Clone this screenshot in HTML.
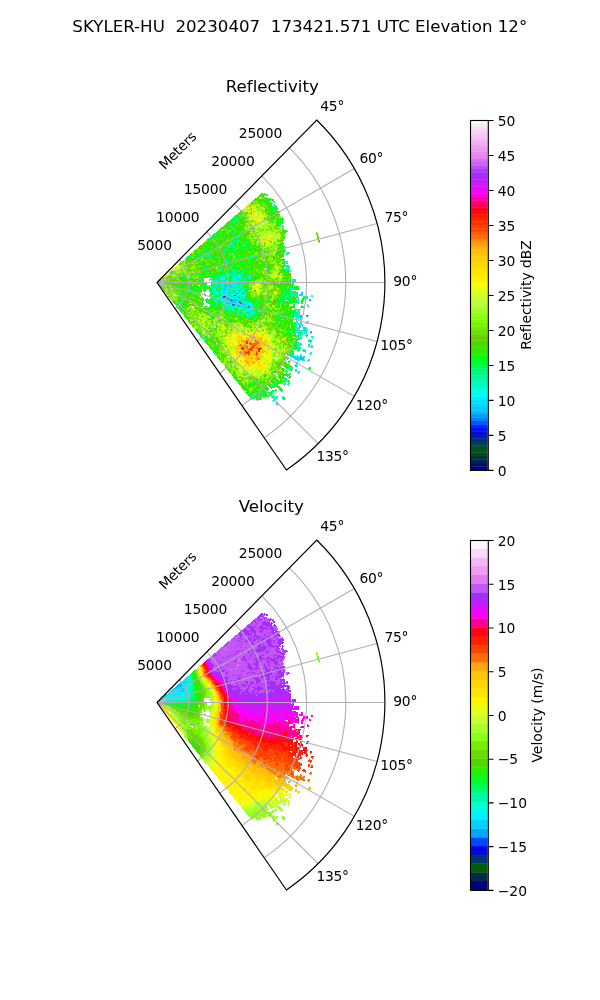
<!DOCTYPE html>
<html><head><meta charset="utf-8"><title>SKYLER-HU radar</title><style>html,body{margin:0;padding:0;background:#fff}svg{display:block}text{font-variant-ligatures:none;font-feature-settings:"liga" 0,"clig" 0}</style></head><body>
<svg width="600" height="1000" viewBox="0 0 600 1000" font-family="'DejaVu Sans','Liberation Sans',sans-serif" fill="#000">
<rect width="600" height="1000" fill="#fff"/>
<text xml:space="preserve" style="white-space:pre" x="299.8" y="32.0" font-size="16.67" text-anchor="middle">SKYLER-HU  20230407  173421.571 UTC Elevation 12°</text>
<g shape-rendering="crispEdges" transform="scale(0.1)">
<path fill="#dbff20" d="M1571 2825l19-17l1 1l-20 16zM1601 2799l20-17l2 3l-20 16zM1647 2760l35-30l5 6l-37 28zM1768 2656l20-17l10 13l-20 15zM1618 2788l21-15l3 3l-22 15zM1666 2752l21-16l4 7l-21 14zM1670 2757l21-15l5 7l-23 14zM1610 2831l26 3l-1 4l-25-5zM1658 2874l22 13l-4 6l-21-14zM1636 2872l21 15l-4 5l-20-17zM2004 2865l21 2l-2 13l-21-2zM1888 2995l19 9l-6 10l-18-10zM1886 3027l18 12l-7 10l-17-12zM2076 3149l17 11l-10 16l-17-12zM2067 3162l17 12l-11 15l-17-12zM2154 3221l17 12l-13 18l-17-12zM2096 3225l17 12l-13 16l-16-13zM2132 3252l16 12l-13 18l-16-14zM2027 3191l16 14l-12 14l-16-14zM2051 3232l16 14l-13 15l-15-14zM2074 3252l16 13l-14 16l-15-14zM2483 2045l16-13l13 16l-16 13zM2447 2096l16-13l13 15l-17 13zM2514 2083l16-13l13 16l-17 12zM2509 2126l17-13l12 16l-17 13zM2533 2108l29-22l12 17l-29 21zM2555 2112l17-12l12 17l-18 12zM2539 2142l18-12l11 17l-17 12zM2487 2198l17-12l11 16l-18 11zM2536 2164l17-12l12 17l-18 11zM2635 2096l17-12l13 18l-18 12zM2482 2218l18-11l10 15l-18 12zM2545 2177l17-12l11 17l-17 11zM2582 2152l18-12l11 18l-18 11zM2616 2149l18-11l11 18l-17 11zM2447 2275l18-12l9 16l-18 10zM2562 2203l17-11l11 17l-18 11zM2557 2224l18-11l10 17l-18 11zM2591 2222l31-19l10 18l-31 18zM2573 2250l18-10l10 17l-19 10zM2612 2228l18-10l10 17l-18 11zM2515 2300l18-10l9 16l-19 10zM2542 2319l32-17l8 17l-32 16zM2595 2325l19-9l8 17l-19 9zM2548 2364l19-9l7 17l-19 9zM2670 2307l19-9l8 18l-19 9zM2608 2352l47-21l8 18l-47 21zM2614 2366l20-8l7 18l-19 8zM2772 2316l20-9l8 21l-19 8zM2598 2405l20-8l7 18l-20 8zM2682 2371l19-8l8 20l-20 7zM2751 2343l34-14l8 21l-34 13zM2688 2386l19-7l8 19l-20 7zM2623 2428l20-8l7 18l-20 7zM2707 2396l20-8l7 20l-20 7zM2750 2380l19-7l8 20l-20 7zM2643 2437l19-8l7 19l-20 7zM2671 2426l34-12l6 19l-34 12zM2638 2470l34-11l6 18l-34 11zM2747 2519l20-5l5 20l-20 5zM2745 2666l21-3l2 20l-21 3zM2662 2736l21-2l1 19l-21 1zM2722 2731l21-2l1 20l-21 1zM2723 2746l21-1l1 20l-21 1zM2575 2850l21 1l0 17l-21-1zM2514 2874l21 1l-1 16l-21-2zM2679 2882l21 1l-1 19l-21-1zM2586 2918l21 2l-1 17l-21-2zM2585 2932l21 2l-2 17l-21-2zM2661 3249l20 8l-8 18l-19-8zM2558 3224l19 8l-7 17l-19-8zM2628 3252l19 8l-7 18l-20-8zM2588 3268l20 9l-8 17l-19-9zM2630 3321l19 9l-8 18l-19-10zM2671 3340l19 9l-9 18l-19-9zM2421 3237l19 9l-7 14l-19-9zM2651 3348l19 9l-9 18l-19-9zM2678 3361l19 9l-10 19l-18-10zM2718 3380l19 10l-10 19l-18-9zM2644 3362l18 10l-9 18l-18-10zM2671 3376l18 9l-9 19l-19-10zM2357 3232l18 9l-7 14l-18-10zM2397 3252l18 10l-7 14l-19-10zM2463 3287l19 9l-8 16l-19-10zM2690 3404l18 10l-10 19l-18-10zM2716 3418l32 16l-10 20l-32-17zM2850 3487l18 9l-11 22l-19-10zM2206 3164l18 10l-6 11l-18-10zM2497 3320l18 10l-8 15l-19-10zM2523 3334l19 10l-9 16l-19-10zM2761 3461l19 10l-11 20l-19-10zM2788 3475l18 10l-11 21l-18-10zM2372 3267l18 10l-7 14l-19-11zM2398 3281l19 10l-8 15l-19-11zM2477 3325l18 10l-8 15l-19-10zM2726 3462l19 11l-11 19l-18-10zM2392 3292l18 11l-8 14l-18-11zM2444 3322l18 10l-8 15l-18-10zM2692 3463l18 10l-11 19l-18-10zM2657 3463l18 10l-11 19l-18-11zM2696 3485l18 11l-11 19l-18-11zM2302 3267l18 11l-8 13l-17-11zM2328 3283l18 11l-8 13l-18-11zM2392 3322l31 18l-9 15l-30-20zM2713 3516l31 19l-12 19l-31-19zM2411 3349l18 11l-9 14l-18-11zM2449 3372l18 11l-10 15l-17-11zM2640 3491l18 11l-12 19l-17-12zM2691 3523l18 11l-12 19l-18-11zM2644 3514l17 11l-12 18l-17-11zM2334 3329l30 20l-9 13l-30-20zM2647 3536l17 12l-12 18l-17-12zM2709 3577l18 12l-13 19l-17-12zM2240 3280l18 12l-8 12l-17-12zM2352 3356l17 12l-9 13l-17-12zM2637 3550l18 12l-13 18l-17-12zM2357 3375l17 12l-9 14l-17-13zM2689 3607l17 13l-13 18l-17-12zM2204 3281l17 12l-8 11l-17-13zM2338 3377l17 12l-10 13l-17-12zM2362 3394l17 13l-10 13l-17-12zM2149 3253l17 13l-7 10l-17-13zM2318 3378l17 13l-10 12l-16-12zM2692 3655l17 12l-15 19l-16-12zM2311 3388l28 22l-10 13l-28-23zM2347 3415l16 13l-10 13l-16-13zM2681 3670l16 12l-14 19l-17-13zM2350 3435l17 13l-11 13l-16-13zM2634 3657l17 13l-15 18l-16-14zM2658 3675l16 13l-15 18l-16-13zM2202 3332l16 14l-9 10l-16-13zM2237 3361l16 13l-9 11l-16-13zM2307 3417l17 13l-11 13l-16-14zM2342 3445l17 13l-11 13l-16-13zM2554 3637l16 13l-14 17l-16-14zM2588 3666l17 13l-15 17l-16-13zM2623 3694l16 14l-15 17l-16-13zM2325 3465l28 24l-11 13l-27-24zM2531 3640l16 14l-14 16l-16-14zM2588 3689l16 13l-14 18l-16-14zM2623 3718l16 13l-16 18l-15-14zM2317 3475l27 24l-11 13l-27-24zM2385 3535l16 13l-13 14l-15-14zM2520 3653l16 14l-14 16l-16-14zM2622 3742l16 13l-16 18l-15-14zM2319 3495l16 14l-12 13l-15-14zM2453 3615l16 14l-14 15l-15-14zM2498 3655l16 14l-15 16l-15-14zM2520 3675l38 34l-15 17l-37-35zM2565 3715l16 14l-16 17l-15-14zM2310 3505l16 14l-12 13l-15-14zM2354 3546l27 24l-13 14l-26-25zM2388 3576l15 15l-13 13l-15-14zM2225 3443l15 14l-11 11l-15-14zM2301 3515l15 14l-11 13l-15-15zM2345 3556l15 15l-13 13l-15-15zM2497 3700l27 25l-16 16l-25-25zM2346 3577l15 15l-13 13l-15-15zM2453 3681l16 15l-15 15l-15-15zM2496 3723l16 15l-16 15l-15-14zM2293 3545l26 25l-13 13l-25-26zM2463 3714l15 15l-15 15l-15-15zM2274 3564l14 15l-13 12l-14-16zM2367 3662l14 15l-14 13l-14-15zM2450 3749l14 15l-16 15l-14-16zM2427 3749l14 16l-16 14l-14-16z"/>
<path fill="#96ff1c" d="M1586 2812l20-17l1 2l-20 16zM1708 2708l19-17l8 9l-21 16zM1738 2682l20-17l9 11l-21 16zM1745 2691l21-16l8 12l-21 14zM1571 2825l38-26l1 2l-39 24zM1686 2746l22-15l5 8l-22 13zM1571 2825l22-14l1 2l-23 12zM1606 2806l23-12l1 3l-23 11zM1712 2749l22-12l5 9l-23 11zM1817 2692l23-12l8 15l-24 11zM1852 2673l23-12l9 17l-23 11zM1715 2757l24-12l4 10l-24 10zM1788 2722l23-11l6 14l-24 10zM1571 2825l24-10l0 1l-24 9zM1626 2802l24-10l2 5l-25 8zM1719 2764l42-17l5 11l-44 15zM1830 2719l24-10l6 16l-24 9zM1741 2766l24-9l4 11l-25 7zM1571 2825l25-7l0 1l-25 6zM1648 2803l44-13l2 7l-45 10zM1763 2769l25-7l3 13l-25 5zM1882 2753l26-6l4 19l-26 4zM1866 2773l26-5l2 18l-25 4zM1910 2838l26 1l-1 21l-26-3zM1630 2830l26 3l0 5l-26-4zM1590 2829l26 5l-1 2l-25-6zM1669 2844l25 6l-1 7l-26-7zM1609 2835l26 6l-1 4l-25-8zM1764 2875l26 6l-4 12l-25-8zM1590 2831l25 8l-1 2l-25-9zM1685 2861l25 8l-3 7l-24-9zM1608 2839l25 9l-2 3l-24-10zM1644 2857l24 10l-3 6l-23-12zM1624 2852l41 20l-2 6l-40-23zM1732 2905l23 12l-6 10l-22-13zM1675 2884l23 13l-5 7l-22-14zM1722 2922l22 14l-7 10l-21-16zM1701 2918l21 15l-7 9l-20-17zM1758 2975l20 16l-10 12l-19-17zM1645 2892l20 17l-5 5l-19-18zM1735 2972l34 30l-11 11l-32-32zM1670 2924l61 60l-10 9l-57-64zM1913 2533l27-24l10 11l-28 23zM1959 2494l15-14l11 12l-17 13zM1984 2526l17-13l9 13l-17 12zM1930 2579l17-12l8 12l-18 11zM1905 2656l19-10l5 11l-19 9zM1932 2642l19-9l6 11l-19 9zM1923 2658l19-9l6 12l-20 8zM2046 2601l19-9l6 15l-19 8zM1900 2680l33-15l5 11l-34 14zM1904 2689l19-8l5 11l-20 7zM2006 2661l19-8l5 14l-20 7zM1939 2697l20-7l4 12l-20 6zM1967 2687l20-7l4 13l-20 6zM1934 2730l20-5l3 12l-21 4zM2151 2674l21-5l4 18l-20 4zM2070 2723l21-4l3 15l-21 4zM1942 2770l20-4l2 12l-21 3zM1960 2798l21-1l0 12l-21 1zM1946 2829l21 0l-1 12l-21 0zM1946 2932l20 6l-4 11l-20-6zM1986 2955l20 7l-5 13l-19-7zM2201 3140l19 10l-10 19l-19-10zM1941 3023l19 10l-7 11l-18-10zM1884 3003l18 10l-6 10l-18-11zM2161 3182l18 11l-11 18l-18-11zM1937 3060l17 11l-7 12l-17-12zM2151 3198l18 11l-12 18l-17-12zM1943 3078l17 12l-8 11l-17-12zM1980 3103l17 12l-9 13l-17-13zM2030 3137l17 12l-10 14l-17-12zM1912 3070l17 12l-8 11l-17-13zM1985 3123l17 12l-10 13l-17-13zM2033 3158l17 12l-10 14l-17-12zM2106 3210l17 13l-12 16l-17-13zM2143 3237l17 12l-13 18l-17-13zM1881 3061l17 13l-8 9l-16-13zM1917 3088l17 13l-9 11l-16-13zM1953 3116l16 12l-9 12l-16-13zM2036 3179l41 31l-12 15l-40-32zM2108 3234l17 12l-13 17l-17-13zM1875 3069l16 13l-8 10l-16-14zM1956 3135l17 13l-10 12l-16-14zM2003 3173l17 13l-11 13l-16-14zM2120 3267l16 13l-13 17l-16-14zM1994 3184l16 14l-12 13l-15-14zM2040 3223l16 13l-13 15l-16-14zM2108 3281l16 14l-14 16l-16-14zM1939 3155l27 24l-11 12l-26-25zM1985 3216l15 15l-12 12l-15-14zM1858 3111l14 15l-9 8l-14-15zM1860 3129l15 15l-10 9l-14-15zM1912 3183l14 16l-11 10l-14-15zM1953 3227l15 15l-13 12l-14-16zM2046 3325l15 15l-16 14l-14-15zM1902 3192l14 16l-11 10l-14-16zM2472 2055l16-13l13 15l-16 13zM2424 2115l16-13l12 14l-16 14zM2410 2146l17-14l11 15l-16 13zM2434 2127l16-14l12 15l-17 13zM2515 2061l28-23l13 16l-28 23zM2490 2101l16-13l13 16l-17 13zM2549 2055l28-23l13 17l-28 22zM2500 2113l16-12l12 16l-17 12zM2547 2077l17-13l12 17l-16 12zM2607 2031l16-12l14 17l-17 13zM2557 2090l53-39l13 17l-54 39zM2275 2314l17-12l9 12l-17 12zM2445 2191l17-12l11 15l-17 12zM2591 2086l17-13l13 18l-18 12zM2615 2068l17-12l13 18l-17 12zM2613 2091l29-21l13 18l-30 20zM2507 2202l18-12l10 16l-17 11zM2490 2230l18-11l10 16l-18 11zM2435 2283l17-12l10 15l-18 11zM2493 2263l31-19l9 16l-31 18zM2462 2298l18-11l9 16l-19 10zM2552 2245l18-11l10 17l-18 10zM2578 2229l18-10l10 17l-18 10zM2195 2467l19-11l6 11l-19 10zM2495 2295l18-10l9 16l-19 10zM2547 2265l18-10l9 17l-18 10zM2599 2235l18-10l10 18l-18 10zM2638 2213l44-25l11 18l-45 25zM2502 2307l18-10l9 16l-19 10zM2580 2264l19-10l9 17l-18 10zM2606 2249l19-10l10 18l-19 10zM2633 2235l18-11l10 19l-19 10zM2548 2299l19-10l8 16l-18 10zM2640 2249l32-17l10 18l-32 17zM2693 2220l19-10l10 20l-19 9zM2475 2353l19-9l8 15l-19 9zM2595 2291l18-10l9 18l-18 9zM2621 2277l32-17l10 19l-32 16zM2715 2228l31-16l11 20l-33 16zM2535 2338l19-9l8 16l-19 10zM2629 2291l32-16l9 18l-33 16zM2696 2257l18-9l10 19l-19 9zM2528 2358l19-9l8 16l-19 9zM2609 2318l19-9l8 18l-19 9zM2636 2305l19-9l8 18l-19 9zM2703 2272l32-16l10 20l-33 15zM2507 2383l19-9l7 16l-19 9zM2534 2371l19-9l8 16l-20 9zM2602 2339l19-9l8 17l-19 9zM2710 2287l19-9l9 20l-19 9zM2513 2396l19-9l7 16l-19 9zM2690 2315l19-9l9 19l-20 9zM2731 2296l33-15l9 21l-33 14zM2518 2408l19-8l7 16l-19 8zM2752 2306l46-21l9 21l-47 20zM2510 2427l19-8l7 16l-20 8zM2593 2392l19-8l7 17l-19 8zM2620 2380l20-8l7 18l-19 8zM2662 2362l19-8l8 19l-20 8zM2571 2417l19-8l7 17l-20 8zM2640 2388l20-8l7 19l-20 7zM2723 2354l20-8l8 20l-20 8zM2646 2403l19-8l7 18l-19 8zM2702 2381l33-13l8 19l-34 13zM2744 2364l19-7l8 20l-20 7zM2813 2337l20-8l8 21l-20 8zM2609 2433l20-8l6 18l-19 7zM2693 2401l20-7l7 19l-20 7zM2764 2375l19-8l8 21l-20 7zM2755 2396l20-7l7 20l-20 7zM2322 2564l20-7l4 13l-20 7zM2591 2471l20-7l6 17l-20 7zM2709 2446l35-11l6 20l-34 10zM2328 2584l20-6l4 13l-20 6zM2686 2471l20-7l6 19l-20 6zM2647 2498l20-6l6 19l-20 6zM2762 2464l20-6l6 20l-20 6zM2652 2513l20-6l5 19l-20 5zM2738 2488l20-6l6 20l-20 6zM2308 2622l21-5l3 13l-20 5zM2627 2535l20-5l5 18l-21 5zM2718 2527l20-6l5 20l-21 5zM2736 2538l20-5l5 20l-20 5zM2681 2567l21-4l4 19l-21 4zM2377 2649l20-4l3 14l-20 4zM2773 2563l20-4l4 20l-20 4zM2673 2600l21-4l3 19l-20 4zM2747 2585l20-4l4 20l-21 4zM2587 2632l21-4l3 17l-20 4zM2764 2598l21-4l4 20l-21 4zM2398 2679l21-4l2 15l-21 3zM2785 2627l20-3l4 21l-21 3zM2669 2661l20-3l3 19l-21 3zM2567 2690l20-3l3 17l-21 3zM2775 2662l21-3l2 21l-21 2zM2524 2709l20-3l2 16l-21 3zM2777 2678l21-3l2 21l-21 2zM2585 2715l21-2l1 17l-21 2zM2704 2702l21-2l2 19l-21 2zM2764 2695l21-2l2 21l-21 2zM2511 2735l21-2l2 17l-21 1zM2647 2737l21-2l1 19l-21 1zM2692 2733l21-1l1 19l-21 1zM2737 2730l21-2l1 20l-21 1zM2797 2725l21-2l1 21l-21 1zM2663 2750l21-1l1 19l-21 1zM2738 2745l21-1l1 20l-21 1zM2768 2743l21-1l1 20l-21 1zM2754 2760l51-3l1 21l-51 2zM2829 2756l21-1l1 21l-21 1zM2560 2784l21-1l0 17l-21 0zM2605 2782l21-1l0 18l-21 0zM2710 2778l21-1l0 19l-21 1zM2785 2774l36-1l0 21l-36 1zM2590 2796l21 0l1 17l-21 0zM2665 2794l21-1l1 19l-21 0zM2755 2791l21 0l1 20l-21 0zM2681 2808l21 0l0 19l-21 0zM2561 2823l36 0l0 17l-36 0zM2666 2838l21 0l-1 19l-21-1zM2485 2848l21 0l0 16l-21-1zM2635 2852l21 0l0 18l-21-1zM2485 2860l36 1l-1 16l-36-2zM2665 2867l21 1l-1 18l-21-1zM2755 2870l36 2l-1 20l-36-2zM2529 2874l21 2l-1 16l-21-1zM2619 2879l21 1l-1 18l-21-1zM2544 2888l21 2l-2 16l-21-2zM2498 2898l36 2l-2 17l-36-4zM2573 2903l21 2l-2 17l-21-2zM2722 2915l21 2l-2 19l-21-2zM2767 2919l21 1l-2 21l-21-2zM2557 2915l20 2l-1 17l-21-2zM2781 2936l21 2l-3 21l-20-3zM2496 2922l35 4l-1 16l-36-4zM2690 2943l20 2l-2 19l-21-3zM2718 2961l35 4l-2 20l-36-5zM2508 2949l20 3l-2 16l-21-4zM2537 2953l21 2l-2 17l-21-3zM2671 2970l21 3l-3 19l-20-3zM2701 2974l21 3l-3 19l-21-3zM2714 2992l20 3l-3 19l-20-3zM2694 3019l21 4l-4 19l-20-4zM2662 3029l20 4l-3 18l-21-4zM2736 3043l20 3l-4 20l-20-4zM2659 3043l21 4l-4 19l-21-4zM2718 3055l35 7l-4 20l-35-8zM2791 3070l21 4l-4 21l-21-5zM2656 3058l21 4l-5 19l-20-5zM2685 3064l21 4l-4 19l-21-4zM2759 3080l20 4l-4 20l-21-4zM2550 3049l21 4l-4 17l-20-5zM2697 3082l20 5l-4 19l-21-5zM2766 3115l20 5l-5 20l-20-5zM2710 3150l20 6l-5 19l-20-6zM2811 3179l35 10l-6 21l-35-10zM2663 3152l20 6l-6 19l-20-7zM2673 3171l20 6l-7 19l-19-6zM2639 3176l20 7l-6 18l-20-7zM2682 3190l20 7l-6 19l-20-7zM2725 3205l34 11l-7 20l-34-12zM2782 3223l20 7l-7 20l-20-6zM2896 3261l20 6l-8 23l-20-7zM2635 3191l34 11l-7 19l-34-13zM2677 3205l20 7l-7 19l-19-7zM2644 3210l19 7l-6 18l-20-7zM2582 3203l20 7l-7 18l-19-8zM2695 3245l19 7l-7 20l-20-8zM2779 3277l48 17l-8 21l-48-18zM2849 3303l20 7l-8 22l-20-8zM2619 3233l34 13l-8 18l-33-14zM2703 3265l20 8l-8 19l-20-8zM2447 3179l19 8l-6 15l-19-8zM2794 3320l20 8l-9 21l-19-9zM2511 3220l19 8l-6 16l-20-8zM2539 3231l19 9l-7 16l-19-8zM2580 3249l20 8l-8 17l-19-8zM2608 3261l33 13l-8 18l-33-14zM2649 3278l20 8l-8 18l-19-8zM2677 3290l19 8l-8 19l-19-9zM2802 3342l19 8l-9 21l-19-9zM2843 3359l33 14l-9 22l-33-14zM2492 3226l19 9l-7 15l-19-8zM2781 3352l19 9l-9 20l-19-9zM2822 3370l19 9l-9 21l-19-9zM2850 3382l19 9l-10 21l-19-8zM2268 3140l19 8l-6 12l-19-9zM2309 3158l19 9l-6 13l-19-9zM2364 3183l19 9l-7 13l-19-9zM2500 3245l19 8l-7 16l-19-9zM2555 3269l33 15l-8 17l-33-15zM2610 3294l19 9l-8 18l-19-9zM2719 3344l19 8l-9 20l-19-9zM2223 3130l19 9l-6 11l-18-9zM2726 3365l32 15l-9 20l-33-16zM2766 3384l19 9l-9 20l-19-9zM2793 3397l19 9l-9 21l-19-10zM2354 3204l19 9l-7 14l-19-10zM2448 3250l19 9l-7 15l-19-10zM2772 3407l19 9l-10 20l-19-9zM2840 3439l19 9l-11 22l-19-9zM2375 3228l19 9l-7 14l-18-10zM2402 3241l19 10l-7 14l-19-10zM2443 3261l32 16l-8 16l-32-17zM2536 3308l19 10l-8 16l-19-9zM2697 3389l33 16l-10 19l-32-16zM2791 3436l32 16l-10 21l-32-17zM2872 3476l18 10l-11 22l-18-10zM2210 3156l19 9l-6 11l-19-10zM2330 3218l19 9l-7 13l-19-10zM2437 3273l18 10l-8 14l-18-10zM2743 3431l19 10l-11 20l-18-10zM2783 3452l19 10l-11 20l-19-10zM2863 3494l19 9l-12 22l-19-10zM2285 3207l19 10l-7 12l-18-10zM2378 3256l18 10l-7 14l-19-10zM2417 3277l19 10l-8 15l-18-11zM2444 3291l18 10l-8 15l-18-10zM2722 3440l18 10l-11 19l-18-10zM2827 3497l32 17l-12 21l-31-17zM2880 3525l19 10l-12 22l-19-10zM2196 3181l19 10l-7 11l-18-11zM2262 3218l18 10l-7 12l-18-10zM2314 3248l18 10l-7 13l-18-11zM2418 3307l18 11l-8 14l-18-11zM2731 3485l18 11l-11 19l-18-10zM2205 3197l31 18l-7 11l-31-19zM2282 3242l18 11l-7 12l-18-11zM2321 3265l31 18l-8 13l-31-18zM2412 3318l18 11l-9 14l-18-11zM2735 3508l18 11l-12 20l-18-11zM2800 3546l31 18l-13 21l-31-18zM2225 3221l18 11l-7 11l-18-11zM2341 3291l18 11l-8 13l-18-11zM2751 3539l44 27l-13 20l-43-27zM2182 3206l30 19l-7 10l-30-19zM2233 3237l17 12l-7 11l-17-12zM2347 3309l18 11l-8 13l-18-11zM2729 3547l31 19l-13 20l-30-20zM2189 3222l18 11l-7 11l-18-12zM2770 3595l18 11l-14 20l-17-11zM2171 3222l18 11l-7 11l-17-12zM2322 3321l17 12l-9 12l-17-11zM2747 3602l18 12l-14 20l-17-12zM2265 3297l18 12l-9 12l-17-12zM2712 3601l17 12l-13 19l-17-12zM2749 3626l17 12l-14 20l-17-12zM2296 3332l17 12l-9 13l-17-13zM2640 3573l17 12l-13 18l-17-12zM2714 3625l17 12l-14 19l-17-12zM2240 3307l17 12l-8 12l-17-13zM2666 3614l17 12l-13 18l-17-12zM2715 3649l17 12l-14 19l-17-12zM2210 3298l17 12l-9 11l-16-13zM2246 3325l29 21l-9 12l-29-22zM2728 3682l17 12l-15 20l-16-13zM2168 3279l16 13l-8 10l-16-13zM2203 3306l17 13l-8 11l-17-13zM2227 3324l17 13l-9 11l-16-13zM2299 3379l17 13l-10 12l-17-13zM2693 3679l16 12l-14 19l-17-13zM2138 3268l16 13l-7 10l-17-13zM2610 3638l17 13l-14 18l-16-13zM2132 3276l16 13l-8 10l-16-14zM2167 3304l16 13l-8 11l-16-14zM2214 3342l16 13l-9 11l-16-14zM2681 3718l17 13l-16 19l-16-14zM2705 3737l16 13l-16 19l-16-14zM2149 3302l16 14l-8 10l-16-14zM2230 3369l16 14l-9 11l-16-14zM2265 3398l16 13l-10 12l-16-13zM2334 3455l16 14l-11 13l-16-14zM2611 3685l17 13l-15 18l-16-14zM2646 3713l28 23l-16 19l-27-24zM2692 3752l17 13l-16 19l-16-14zM2223 3378l38 33l-10 12l-38-34zM2577 3679l16 14l-15 17l-15-14zM2634 3728l16 13l-15 18l-16-14zM2680 3766l16 14l-16 19l-16-14zM2159 3337l15 14l-9 10l-15-14zM2181 3357l16 14l-9 10l-16-14zM2226 3397l16 13l-10 12l-15-14zM2272 3436l15 14l-10 12l-16-14zM2577 3702l16 14l-15 17l-16-14zM2633 3751l16 14l-16 18l-15-14zM2667 3781l16 14l-16 18l-16-14zM2129 3325l16 14l-9 10l-15-14zM2219 3405l15 14l-10 11l-15-14zM2621 3766l16 14l-17 17l-15-14zM2101 3312l15 14l-8 10l-16-15zM2134 3343l26 24l-9 10l-26-25zM2575 3749l16 14l-16 17l-15-14zM2094 3319l15 15l-8 9l-15-15zM2127 3350l15 15l-9 9l-15-15zM2247 3463l15 15l-11 11l-15-14zM2312 3525l15 15l-12 12l-15-14zM2399 3608l16 14l-14 14l-15-14zM2476 3680l15 14l-15 16l-15-15zM2596 3793l15 15l-17 17l-15-15zM2270 3504l15 14l-11 12l-15-15zM2367 3598l15 14l-13 14l-15-15zM2432 3660l15 15l-14 15l-15-15zM2144 3397l15 14l-10 10l-14-15zM2240 3492l15 15l-12 11l-14-15zM2399 3651l15 14l-14 15l-15-16zM2453 3704l14 14l-15 15l-14-15zM2095 3361l15 15l-10 9l-14-15zM2273 3544l25 25l-12 12l-25-26zM2325 3597l15 15l-13 13l-15-15zM2430 3705l15 15l-15 14l-15-15zM2451 3726l15 15l-16 15l-14-15zM2525 3801l14 15l-16 16l-15-15zM2160 3444l15 15l-11 10l-14-15zM2222 3509l25 27l-12 11l-25-27zM2284 3575l15 15l-13 12l-15-15zM2346 3640l15 15l-14 13l-15-15zM2501 3803l15 15l-17 16l-14-16zM2101 3397l14 15l-10 9l-14-15zM2274 3584l14 15l-13 12l-14-15zM2396 3716l15 16l-16 13l-14-15zM2437 3760l14 16l-16 14l-14-15zM2458 3782l14 16l-17 15l-14-16zM2294 3627l14 15l-14 13l-14-16zM2324 3660l14 16l-14 13l-14-16zM2354 3694l14 15l-15 13l-13-15zM2395 3738l14 16l-16 14l-14-16zM2445 3794l14 15l-17 15l-14-16zM2475 3827l14 16l-17 15l-14-16zM2125 3456l14 16l-11 9l-14-16zM2264 3614l13 16l-13 11l-14-16zM2313 3670l14 16l-15 12l-13-16zM2333 3693l14 15l-15 13l-14-16zM2511 3896l14 15l-19 16l-13-16zM2309 3713l14 16l-15 12l-14-16z"/>
<path fill="#c4ff34" d="M1616 2786l20-17l3 4l-21 15zM1677 2734l20-17l6 7l-21 16zM1753 2669l20-17l9 12l-20 16zM1634 2776l37-28l4 6l-38 26zM1682 2740l20-16l6 7l-22 15zM1777 2667l37-28l10 14l-38 26zM1736 2712l38-26l7 12l-39 23zM1785 2678l22-15l8 14l-22 13zM1818 2655l22-14l10 15l-23 14zM1776 2700l22-14l7 14l-23 12zM1571 2825l24-9l1 2l-25 7zM1688 2848l26 6l-2 8l-25-7zM1571 2825l25 6l-1 2l-24-8zM1627 2846l24 9l-2 4l-23-10zM1739 2933l39 25l-8 11l-37-27zM1733 2942l21 15l-8 10l-20-16zM1720 2958l19 18l-9 9l-18-19zM1651 2914l17 19l-6 6l-16-21zM1911 2578l17-12l7 11l-17 12zM2166 2670l20-5l5 18l-21 5zM2192 3157l19 10l-11 19l-18-10zM2183 3174l19 10l-11 19l-18-11zM2148 3174l18 11l-11 18l-18-12zM2038 3125l17 11l-9 14l-17-11zM2101 3165l18 11l-11 17l-18-12zM2017 3129l18 11l-10 14l-17-12zM2141 3213l18 12l-13 17l-17-12zM2009 3140l17 13l-10 13l-17-13zM2131 3228l17 12l-13 17l-17-12zM1988 3143l29 22l-10 13l-28-23zM2084 3215l17 13l-13 16l-16-13zM1980 3154l16 13l-10 13l-16-14zM1895 3115l15 14l-9 10l-15-14zM1973 3185l16 14l-12 12l-15-14zM2006 3215l16 14l-12 14l-15-15zM2029 3235l15 14l-13 14l-15-14zM2018 3247l15 15l-13 13l-15-15zM2040 3268l15 14l-14 15l-15-15zM1911 3164l15 14l-11 11l-15-15zM1922 3194l15 15l-12 11l-14-15zM1974 3249l14 15l-13 12l-14-15zM2036 3314l14 15l-15 14l-14-15zM2436 2106l16-14l12 15l-16 13zM2459 2086l16-13l13 15l-17 13zM2445 2117l17-13l12 15l-17 13zM2480 2089l28-23l13 16l-28 22zM2464 2141l16-13l12 15l-17 13zM2488 2122l16-12l12 15l-17 13zM2523 2095l17-13l12 17l-17 12zM2603 2077l17-13l13 18l-17 12zM2527 2151l17-12l12 16l-18 12zM2564 2125l17-12l12 17l-17 12zM2589 2108l17-12l12 17l-18 12zM2561 2147l17-12l12 17l-18 12zM2598 2121l17-11l12 17l-17 12zM2570 2160l17-12l11 18l-17 11zM2595 2143l30-19l11 17l-30 20zM2541 2198l17-12l11 17l-18 11zM2511 2235l18-11l10 16l-18 11zM2600 2179l18-11l10 17l-17 11zM2570 2216l31-19l10 18l-31 18zM2621 2185l18-11l11 18l-18 11zM2526 2260l31-18l10 16l-31 18zM2625 2221l18-11l10 18l-18 10zM2554 2278l18-10l10 17l-19 10zM2620 2242l18-10l10 18l-19 10zM2646 2227l18-10l10 19l-18 9zM2508 2320l19-10l8 16l-18 10zM2614 2263l19-10l9 18l-19 10zM2667 2235l18-10l10 18l-18 10zM2746 2192l19-10l10 20l-18 10zM2568 2305l19-10l9 17l-19 10zM2648 2263l19-10l9 19l-19 9zM2481 2365l19-9l8 16l-19 9zM2575 2318l19-9l8 17l-19 9zM2568 2338l33-16l8 18l-33 15zM2622 2312l19-10l9 19l-19 8zM2629 2326l19-9l8 18l-19 9zM2656 2313l19-9l9 19l-20 8zM2649 2334l19-9l8 18l-19 9zM2676 2321l20-9l8 19l-19 9zM2704 2309l19-9l8 19l-19 9zM2587 2378l33-14l7 17l-33 14zM2738 2312l19-9l9 20l-20 8zM2565 2403l19-8l8 17l-20 8zM2634 2374l20-8l7 18l-19 8zM2668 2377l19-8l8 19l-20 8zM2737 2349l20-8l8 20l-20 7zM2562 2436l20-8l6 17l-20 7zM2590 2425l47-19l7 18l-47 18zM2757 2359l20-8l8 20l-20 8zM2778 2369l19-7l8 21l-20 7zM2657 2431l19-7l7 19l-20 7zM2713 2411l48-17l7 20l-48 16zM2718 2426l20-7l7 20l-20 7zM2752 2432l20-7l7 21l-20 6zM2690 2485l20-6l6 20l-20 5zM2733 2472l21-6l5 20l-20 6zM2608 2525l21-6l4 18l-20 6zM2752 2484l21-6l5 20l-20 6zM2641 2531l20-5l5 18l-20 5zM2685 2519l20-5l5 19l-20 5zM2728 2507l20-5l5 20l-20 5zM2732 2523l20-5l5 19l-20 5zM2699 2579l35-8l5 20l-36 7zM2720 2606l21-4l3 20l-20 4zM2723 2622l35-7l4 20l-36 6zM2743 2650l21-3l2 20l-20 3zM2721 2716l20-2l2 19l-21 2zM2707 2732l21-2l1 20l-21 1zM2783 2742l36-2l1 21l-36 2zM2725 2777l21-1l0 20l-21 0zM2591 2810l36-1l0 18l-36 0zM2666 2823l21 0l0 19l-21 0zM2786 2823l21 0l0 21l-21-1zM2486 2836l21 0l-1 16l-21-1zM2546 2836l21 1l-1 16l-21 0zM2515 2849l36 0l0 17l-36-2zM2515 2861l21 1l-1 16l-21-1zM2560 2863l21 1l-1 17l-21-2zM2574 2877l21 1l-1 17l-21-1zM2664 2881l21 1l-1 19l-21-1zM2529 2887l21 2l-2 16l-21-2zM2559 2889l21 1l-2 17l-21-1zM2528 2900l21 2l-2 16l-21-2zM2558 2902l21 2l-2 17l-21-2zM2512 2911l21 2l-2 16l-21-2zM2571 2917l21 2l-1 17l-21-2zM2661 2925l21 2l-2 19l-21-3zM2570 2930l21 2l-2 17l-21-2zM2721 3040l20 4l-3 19l-21-4zM2624 3065l20 5l-4 18l-21-5zM2648 3148l20 6l-5 18l-20-6zM2677 3156l20 6l-6 19l-20-6zM2687 3176l34 10l-6 20l-34-12zM2696 3195l20 7l-6 19l-20-7zM2577 3216l20 8l-7 17l-20-8zM2636 3272l19 8l-8 18l-19-8zM2719 3307l47 20l-9 20l-47-21zM2519 3238l20 9l-7 16l-20-9zM2561 3256l33 15l-8 17l-33-15zM2616 3280l19 9l-8 17l-19-8zM2671 3304l19 9l-8 18l-19-8zM2726 3328l19 9l-9 19l-19-8zM2528 3257l19 9l-8 16l-19-9zM2623 3300l19 9l-8 18l-19-9zM2678 3325l46 21l-8 19l-47-21zM2787 3374l19 9l-9 21l-19-9zM2897 3424l19 8l-11 23l-19-9zM2549 3283l33 15l-9 17l-32-16zM2712 3359l19 9l-9 19l-19-9zM2780 3391l19 8l-10 21l-19-9zM2475 3263l19 9l-8 15l-18-9zM2516 3282l32 16l-8 16l-32-16zM2570 3309l19 9l-9 17l-19-10zM2705 3374l19 9l-10 19l-19-9zM2786 3413l19 9l-11 21l-18-10zM2483 3282l19 9l-8 15l-19-9zM2523 3302l19 9l-9 16l-18-9zM2630 3355l19 10l-9 18l-19-10zM2657 3369l19 9l-10 19l-18-10zM2818 3449l19 10l-11 21l-19-10zM2383 3245l19 10l-7 14l-19-10zM2450 3280l19 9l-8 15l-19-9zM2312 3221l18 10l-7 12l-18-10zM2364 3249l19 10l-7 14l-19-11zM2457 3299l32 17l-9 15l-31-18zM2708 3433l19 10l-11 19l-18-10zM2332 3245l32 17l-7 14l-32-18zM2385 3274l18 10l-7 14l-19-10zM2700 3448l19 10l-11 19l-18-10zM2766 3484l45 25l-12 21l-44-26zM2379 3285l18 10l-8 14l-18-11zM2718 3478l18 10l-11 20l-18-11zM2386 3303l18 11l-9 14l-17-11zM2709 3493l31 18l-12 20l-30-19zM2761 3523l18 11l-12 20l-18-11zM2379 3314l18 11l-8 14l-18-12zM2418 3337l18 11l-9 15l-18-12zM2700 3508l18 11l-12 19l-18-11zM2220 3229l18 12l-7 11l-18-12zM2284 3269l17 11l-7 12l-18-11zM2373 3325l17 11l-8 14l-18-12zM2398 3341l18 11l-9 14l-18-12zM2436 3364l18 11l-9 15l-18-11zM2780 3579l18 11l-13 20l-18-11zM2214 3238l18 11l-7 11l-18-11zM2303 3295l17 11l-8 13l-17-12zM2353 3327l18 12l-9 13l-17-12zM2707 3554l30 20l-13 19l-30-20zM2359 3346l18 11l-9 14l-18-12zM2216 3264l17 11l-8 11l-17-12zM2278 3306l17 12l-8 12l-18-13zM2364 3365l18 12l-10 13l-17-12zM2600 3525l17 12l-12 17l-17-12zM2675 3576l17 11l-13 19l-17-12zM2173 3246l17 12l-7 11l-17-13zM2652 3582l17 12l-13 18l-17-12zM2800 3685l17 12l-15 21l-17-13zM2277 3333l17 12l-9 12l-17-12zM2301 3351l29 21l-9 12l-29-21zM2593 3561l17 12l-12 18l-17-13zM2630 3587l17 13l-13 17l-17-12zM2173 3271l17 13l-7 10l-17-13zM2234 3316l17 12l-9 12l-17-13zM2294 3360l29 22l-9 12l-29-22zM2342 3396l17 12l-10 14l-16-13zM2179 3288l17 13l-8 10l-16-13zM2239 3334l17 12l-9 12l-17-13zM2287 3370l17 13l-10 12l-16-13zM2256 3361l16 13l-9 12l-16-14zM2291 3389l17 13l-10 12l-16-13zM2681 3694l29 22l-16 19l-28-23zM2190 3323l17 13l-9 11l-16-14zM2249 3370l16 13l-9 12l-17-14zM2272 3389l16 13l-9 12l-16-14zM2634 3680l17 13l-15 18l-16-13zM2172 3322l16 13l-8 10l-16-13zM2241 3379l17 13l-10 12l-16-14zM2345 3465l17 13l-11 13l-16-13zM2257 3407l16 14l-10 12l-16-14zM2193 3367l27 24l-10 10l-27-24zM2283 3446l27 24l-11 12l-27-24zM2339 3495l16 14l-11 13l-16-14zM2419 3564l27 24l-13 14l-27-24zM2509 3643l16 14l-14 16l-16-14zM2554 3682l27 24l-15 17l-26-24zM2107 3305l16 14l-9 9l-15-14zM2208 3395l15 14l-10 11l-15-14zM2308 3485l16 14l-12 13l-15-14zM2587 3736l16 14l-16 17l-15-15zM2277 3475l16 14l-12 12l-15-14zM2520 3698l27 25l-16 16l-26-25zM2553 3729l16 14l-16 16l-15-14zM2597 3769l16 14l-16 18l-16-15zM2334 3546l15 14l-12 13l-15-14zM2487 3690l15 15l-15 15l-15-15zM2238 3472l15 15l-11 11l-15-14zM2260 3493l15 15l-12 12l-15-15zM2303 3535l26 25l-13 13l-25-26zM2335 3566l15 15l-13 13l-15-15zM2378 3608l15 15l-13 14l-15-15zM2410 3640l26 25l-14 14l-25-25zM2475 3702l15 15l-15 15l-15-15zM2507 3734l15 14l-15 16l-15-15zM2325 3577l15 14l-13 13l-15-15zM2484 3735l15 15l-15 16l-15-15zM2294 3565l15 15l-13 12l-14-15zM2378 3651l46 47l-15 14l-45-48zM2263 3553l15 15l-13 12l-14-16zM2574 3879l14 15l-18 17l-14-15zM2284 3595l15 15l-14 13l-14-16zM2325 3639l25 26l-15 13l-24-26zM2468 3793l14 16l-17 15l-14-16zM2244 3571l24 27l-13 11l-24-27zM2334 3671l14 16l-14 13l-14-16zM2293 3648l14 15l-14 13l-14-16zM2382 3749l14 16l-16 14l-13-16zM2452 3828l13 16l-17 15l-13-16zM2380 3771l13 16l-16 14l-13-16z"/>
<path fill="#ffe400" d="M1632 2773l19-17l4 5l-21 15zM2576 2116l17-12l12 18l-17 11zM2511 2181l18-12l11 16l-18 12zM2579 2173l17-11l11 17l-18 11zM2548 2332l19-10l8 17l-19 9zM2663 2327l19-8l8 18l-19 9zM2607 2386l19-8l7 18l-19 7zM2648 2368l19-8l8 19l-19 8zM2676 2357l19-9l8 19l-20 8zM2735 2714l21-2l2 20l-21 2zM2698 3352l19 9l-9 20l-19-10zM2610 3328l19 9l-9 18l-18-9zM2503 3307l19 10l-9 16l-18-10zM2557 3335l18 10l-9 16l-18-10zM2623 3369l19 10l-10 18l-18-10zM2676 3397l19 10l-10 18l-18-9zM2563 3355l18 10l-9 17l-18-10zM2669 3412l18 10l-10 18l-18-10zM2595 3390l19 10l-10 18l-19-11zM2661 3426l18 10l-10 19l-18-11zM2713 3455l19 10l-11 20l-18-11zM2353 3270l18 10l-8 14l-18-11zM2470 3337l18 10l-8 16l-19-11zM2509 3359l19 10l-10 16l-18-10zM2653 3441l31 18l-11 18l-31-18zM2644 3455l19 11l-11 18l-18-11zM2456 3361l18 10l-9 16l-18-12zM2495 3384l18 11l-10 15l-18-11zM2674 3493l18 10l-11 19l-18-11zM2334 3301l18 11l-8 13l-18-11zM2462 3380l18 11l-10 16l-18-12zM2665 3507l31 19l-12 19l-30-20zM2341 3319l17 11l-8 14l-18-12zM2366 3335l18 12l-9 13l-18-11zM2404 3360l17 11l-9 14l-17-11zM2606 3489l17 12l-11 17l-18-11zM2656 3522l31 19l-13 19l-30-20zM2234 3263l17 12l-7 11l-18-12zM2422 3387l17 12l-10 14l-17-12zM2484 3429l18 11l-11 16l-17-12zM2613 3533l17 12l-12 18l-18-12zM2345 3367l17 12l-9 13l-17-12zM2382 3392l29 21l-10 14l-29-21zM2419 3418l17 12l-10 15l-17-13zM2480 3461l17 12l-11 16l-17-13zM2374 3403l17 12l-10 14l-17-12zM2605 3570l17 12l-12 18l-17-13zM2366 3414l17 12l-10 14l-17-13zM2547 3548l17 12l-12 17l-17-13zM2370 3433l17 13l-10 14l-17-13zM2394 3452l17 12l-11 14l-16-13zM2502 3533l16 13l-12 16l-16-13zM2573 3588l17 13l-13 17l-17-13zM2280 3379l16 13l-10 12l-16-13zM2327 3416l16 13l-10 13l-16-13zM2469 3527l16 13l-12 15l-16-13zM2528 3573l16 13l-13 17l-16-14zM2599 3629l16 13l-14 17l-16-13zM2377 3473l28 23l-11 14l-28-23zM2553 3614l16 13l-14 17l-16-13zM2588 3643l28 22l-14 18l-28-24zM2623 3671l16 13l-14 18l-17-14zM2646 3690l17 13l-15 18l-16-14zM2322 3446l17 13l-11 13l-16-14zM2357 3474l16 14l-11 13l-16-13zM2380 3494l16 13l-11 14l-16-14zM2519 3608l16 14l-13 16l-16-14zM2577 3656l16 13l-14 17l-16-13zM2348 3485l16 13l-11 14l-16-14zM2383 3514l16 14l-12 13l-16-13zM2440 3563l16 13l-13 15l-16-14zM2497 3611l16 14l-14 15l-15-13zM2520 3630l16 14l-14 16l-16-14zM2554 3660l28 23l-15 17l-27-24zM2351 3505l16 14l-12 13l-16-14zM2409 3575l15 14l-13 15l-15-15zM2432 3617l15 14l-13 15l-16-15zM2465 3647l15 15l-14 15l-15-15zM2432 3639l15 14l-14 15l-15-15zM2398 3694l14 15l-15 14l-14-15z"/>
<path fill="#80fc08" d="M1692 2721l20-17l7 8l-21 16zM1799 2630l20-17l11 14l-20 16zM1587 2813l20-16l2 2l-22 15zM1825 2630l20-16l12 16l-22 15zM1802 2667l21-15l10 15l-23 13zM1835 2644l21-15l11 17l-22 13zM1656 2773l22-14l4 6l-23 13zM1690 2752l40-24l5 9l-41 22zM1742 2721l22-14l6 11l-23 13zM1827 2669l22-14l9 16l-23 12zM1588 2815l23-12l1 2l-23 11zM1694 2758l23-12l4 9l-23 11zM1747 2730l23-12l5 11l-23 11zM1782 2711l23-12l7 13l-24 11zM1679 2774l24-11l3 7l-24 10zM1734 2748l59-28l6 13l-61 24zM1806 2714l60-28l7 17l-61 24zM1878 2680l24-11l8 19l-24 9zM1608 2810l24-10l1 3l-24 9zM1645 2795l24-10l2 5l-25 9zM1700 2772l24-10l4 9l-25 8zM1848 2711l25-9l6 17l-25 8zM1797 2746l25-8l5 14l-25 7zM1854 2726l25-8l5 17l-25 8zM1590 2819l25-7l1 3l-26 5zM1610 2816l25-6l1 4l-26 4zM1727 2789l25-6l2 10l-26 5zM1863 2757l25-6l4 18l-26 5zM1571 2825l26-3l0 1l-26 2zM1630 2818l26-4l1 5l-26 2zM1769 2801l26-4l1 13l-26 2zM1611 2822l26-2l0 4l-26 0zM1890 2803l26-2l1 20l-26 0zM1611 2824l26 0l0 4l-26-2zM1671 2823l46 0l0 8l-46-2zM1610 2833l25 5l0 3l-26-6zM1649 2841l26 5l-2 6l-25-7zM1704 2867l25 8l-3 8l-24-9zM1796 2909l24 9l-6 14l-24-11zM1882 2961l24 10l-9 19l-23-12zM1696 2887l41 21l-5 9l-40-23zM1571 2825l22 13l0 1l-22-14zM1605 2845l40 22l-2 5l-39-25zM1745 2924l22 13l-7 11l-21-15zM1806 2976l22 14l-10 14l-21-15zM1668 2895l21 15l-5 7l-20-17zM1717 2930l21 15l-7 9l-20-16zM1749 2953l21 16l-8 11l-20-17zM1602 2850l20 16l-2 3l-20-17zM1690 2932l19 17l-7 8l-18-19zM1656 2910l18 18l-6 6l-17-20zM1727 2980l18 18l-10 10l-18-19zM1678 2944l17 19l-8 7l-16-21zM1705 2973l17 20l-10 8l-16-20zM2038 2425l16-13l13 14l-17 14zM1967 2504l17-13l9 12l-16 13zM2084 2410l16-14l13 17l-17 12zM1904 2569l17-12l8 10l-17 13zM1964 2524l16-13l10 13l-17 12zM1987 2506l17-13l10 13l-17 12zM2118 2405l17-13l13 18l-17 12zM1923 2570l17-13l8 11l-18 12zM2016 2520l18-12l9 14l-18 11zM2112 2475l18-12l11 17l-18 11zM1968 2583l18-11l7 13l-18 10zM2045 2536l18-11l8 15l-18 10zM1927 2633l19-10l6 11l-19 10zM2191 2491l19-10l10 19l-19 9zM1946 2636l18-10l6 12l-19 9zM1986 2615l19-9l6 13l-19 9zM1910 2665l19-9l5 11l-19 8zM1918 2683l33-13l5 11l-34 13zM2182 2575l19-8l8 20l-20 7zM1978 2671l33-12l5 13l-34 12zM2076 2634l20-7l5 16l-20 6zM1911 2707l20-7l3 11l-20 6zM2095 2643l20-7l5 16l-20 7zM2180 2613l20-7l6 19l-20 7zM1914 2716l20-7l3 11l-20 6zM1942 2707l20-7l4 12l-20 6zM1971 2698l20-7l4 13l-20 6zM2003 2700l20-6l4 14l-20 5zM1936 2740l20-5l3 12l-21 4zM1953 2747l20-4l3 12l-21 3zM2115 2714l20-4l3 17l-20 3zM2232 2690l21-4l4 20l-21 4zM1925 2762l21-3l2 11l-21 3zM2058 2739l21-4l2 16l-20 3zM2001 2761l21-3l2 13l-21 3zM1960 2840l21 1l0 12l-21-2zM2018 2878l20 2l-1 14l-21-3zM1957 2881l20 3l-2 12l-20-3zM2086 2987l20 6l-5 16l-20-7zM1996 2971l20 7l-5 13l-19-7zM1946 2977l20 8l-5 11l-20-8zM2155 3098l19 9l-9 18l-19-9zM2196 3117l19 9l-10 19l-18-9zM1933 3006l19 10l-6 11l-19-10zM2134 3107l19 9l-9 18l-19-10zM2166 3143l19 10l-11 18l-18-10zM1936 3033l18 10l-7 11l-18-11zM2040 3092l31 18l-9 15l-30-19zM2092 3122l18 10l-9 16l-18-11zM1904 3027l18 11l-6 10l-18-11zM1943 3050l18 11l-7 11l-18-11zM1981 3073l18 11l-8 13l-17-11zM2097 3143l18 11l-10 16l-18-11zM2012 3108l31 20l-10 14l-29-20zM2050 3133l31 19l-10 15l-30-20zM2054 3154l18 12l-11 15l-17-13zM2129 3204l17 12l-12 17l-17-12zM1924 3079l41 30l-9 11l-40-31zM2070 3184l41 30l-12 16l-40-31zM1929 3097l16 13l-8 11l-17-13zM2012 3161l17 13l-11 13l-16-13zM2072 3206l17 13l-12 15l-17-13zM1910 3097l28 23l-9 11l-28-24zM1868 3077l27 23l-8 10l-27-24zM1948 3145l28 23l-11 12l-27-24zM2017 3203l16 14l-12 14l-16-14zM2085 3262l16 13l-13 16l-16-14zM1917 3135l16 14l-10 11l-15-15zM2062 3265l16 14l-14 15l-15-14zM1854 3093l15 14l-8 9l-15-15zM1941 3175l37 35l-11 12l-36-36zM1996 3227l15 14l-13 13l-14-15zM2029 3257l15 15l-14 14l-15-15zM2061 3288l16 15l-15 15l-15-15zM1889 3142l15 15l-10 10l-14-15zM1953 3206l26 25l-13 12l-24-26zM2006 3259l26 25l-14 14l-25-26zM2059 3312l15 15l-15 15l-14-16zM1871 3140l35 37l-11 10l-34-38zM1984 3259l25 27l-14 13l-24-27zM1963 3259l24 27l-14 12l-24-27zM2043 3348l14 16l-16 14l-14-16zM2244 2250l16-14l9 12l-16 13zM2517 2016l16-13l14 16l-16 13zM2286 2230l16-13l10 12l-16 13zM2378 2154l16-14l12 14l-17 13zM2469 2098l16-13l12 16l-16 13zM2550 2032l17-13l13 17l-17 13zM2195 2333l17-13l8 11l-16 13zM2372 2194l17-13l10 14l-16 12zM2572 2036l17-13l13 17l-16 13zM2596 2018l17-13l13 17l-17 13zM2476 2132l16-13l12 15l-17 13zM2571 2059l29-22l13 17l-29 22zM2449 2171l29-22l11 15l-29 21zM2521 2117l17-13l12 17l-17 12zM2617 2045l17-12l13 18l-17 12zM2287 2306l17-13l9 13l-17 12zM2312 2288l17-12l9 12l-17 12zM2433 2200l17-12l11 14l-18 13zM2457 2182l17-12l11 15l-17 12zM2482 2165l17-13l11 16l-17 12zM2518 2138l17-12l12 16l-17 12zM2567 2103l29-21l12 17l-29 21zM2454 2203l29-21l11 16l-30 20zM2412 2249l18-12l9 14l-17 12zM2474 2206l18-12l10 16l-18 11zM2610 2113l18-12l12 18l-18 12zM2660 2079l17-12l13 19l-18 11zM2520 2193l17-11l11 16l-18 11zM2620 2127l17-12l12 18l-18 12zM2465 2247l18-12l10 16l-18 11zM2528 2206l18-11l10 16l-18 11zM2629 2141l30-20l12 19l-31 19zM2269 2386l18-11l8 12l-18 11zM2473 2259l18-11l9 15l-18 11zM2498 2243l18-11l10 16l-18 10zM2536 2219l31-19l10 16l-31 19zM2651 2147l17-11l12 18l-18 11zM2211 2435l18-11l7 11l-18 10zM2416 2310l18-11l9 14l-18 11zM2455 2286l18-11l9 16l-18 10zM2203 2451l19-11l6 11l-18 10zM2281 2405l18-11l7 13l-18 10zM2436 2313l18-10l9 15l-19 10zM2488 2283l18-11l9 16l-19 10zM2208 2459l19-10l6 11l-19 10zM2443 2325l18-10l8 15l-18 10zM2482 2303l18-11l9 16l-19 10zM2410 2358l18-10l8 15l-18 10zM2541 2286l18-11l9 17l-18 10zM2777 2154l18-10l12 21l-19 10zM2561 2291l19-10l9 18l-19 9zM2627 2256l19-10l9 18l-18 10zM2462 2360l18-10l8 16l-18 9zM2608 2284l19-10l9 18l-19 9zM2661 2256l19-10l10 19l-19 10zM2701 2235l19-9l10 19l-19 9zM2588 2311l19-9l9 17l-19 9zM2709 2250l19-9l9 19l-19 10zM2285 2476l19-9l6 12l-19 9zM2474 2384l46-22l7 16l-46 21zM2649 2299l19-10l9 19l-19 9zM2730 2259l19-9l9 20l-19 9zM2520 2377l19-9l8 16l-19 9zM2642 2319l19-9l9 19l-19 8zM2724 2281l19-9l9 20l-19 8zM2751 2268l19-9l9 20l-19 9zM2458 2421l19-9l7 15l-19 9zM2485 2408l33-15l7 16l-33 15zM2567 2371l19-9l8 17l-19 9zM2595 2358l19-8l7 17l-19 9zM2717 2303l19-9l9 19l-19 9zM2230 2535l19-8l5 11l-19 8zM2285 2511l19-8l5 12l-19 8zM2491 2420l19-8l7 16l-20 8zM2559 2390l20-8l7 17l-19 8zM2807 2282l19-9l9 21l-19 8zM2275 2526l33-14l5 13l-33 13zM2579 2398l19-9l7 18l-19 8zM2487 2451l20-8l6 16l-20 7zM2626 2394l20-8l7 18l-20 8zM2283 2545l19-7l5 12l-20 7zM2492 2463l20-8l6 16l-20 7zM2553 2454l62-23l6 17l-62 23zM2792 2364l19-7l8 21l-20 7zM2336 2559l20-7l4 13l-20 7zM2563 2480l19-7l6 18l-20 6zM2633 2456l34-12l7 18l-35 12zM2775 2407l20-7l7 20l-20 7zM2339 2569l20-6l5 13l-20 6zM2524 2508l20-7l6 17l-20 6zM2667 2460l20-6l6 19l-20 6zM2529 2521l20-7l5 17l-20 6zM2714 2461l35-10l6 19l-35 11zM2504 2542l20-6l5 16l-21 6zM2604 2512l35-11l5 18l-35 10zM2662 2494l34-10l6 19l-35 9zM2705 2481l34-10l6 19l-35 10zM2748 2468l20-6l6 20l-20 6zM2777 2459l20-6l6 21l-21 6zM2407 2584l20-6l4 14l-20 6zM2536 2546l35-10l5 17l-35 9zM2709 2496l20-6l6 20l-20 5zM2713 2511l21-5l5 19l-20 6zM2471 2591l20-6l4 16l-20 5zM2616 2553l20-5l5 18l-21 5zM2645 2545l78-20l5 19l-78 20zM2605 2571l20-5l5 17l-21 5zM2678 2553l20-5l5 19l-21 4zM2491 2611l21-4l3 16l-20 4zM2696 2564l20-5l5 20l-21 4zM2740 2554l20-5l5 20l-21 5zM2611 2598l21-4l4 18l-21 4zM2685 2582l20-4l4 19l-20 4zM2585 2618l20-4l4 17l-21 4zM2644 2606l20-4l4 18l-21 4zM2702 2594l21-4l4 19l-21 4zM2278 2690l21-4l2 13l-21 3zM2661 2618l21-4l3 18l-20 4zM2691 2612l20-4l4 19l-21 4zM2693 2627l36-6l3 19l-35 6zM2533 2668l21-3l2 16l-20 3zM2728 2652l21-3l2 20l-20 3zM2758 2648l20-3l3 20l-21 3zM2611 2684l36-5l2 18l-36 4zM2790 2660l20-3l3 21l-21 2zM2494 2712l21-2l2 16l-21 2zM2613 2698l21-3l2 18l-21 2zM2792 2676l21-3l2 21l-21 2zM2525 2721l21-2l2 16l-21 2zM2689 2704l21-3l2 19l-21 2zM2780 2710l21-2l2 21l-21 1zM2767 2727l21-1l1 20l-21 1zM2812 2724l21-2l1 21l-21 1zM2693 2748l21-1l1 19l-21 1zM2813 2740l21-1l1 21l-21 1zM2589 2769l21-1l1 17l-21 1zM2724 2762l21-2l1 20l-21 1zM2814 2757l21-1l1 21l-21 1zM2844 2755l21-1l1 22l-21 0zM2770 2775l21-1l0 21l-21 0zM2605 2796l21-1l1 18l-21 0zM2635 2795l21-1l1 18l-21 1zM2800 2790l21 0l1 21l-21 0zM2875 2788l21-1l1 23l-21 0zM2501 2811l21 0l0 16l-21 0zM2546 2810l21 0l0 17l-21 0zM2501 2823l21 0l0 16l-21 0zM2636 2823l21 0l0 18l-21 0zM2501 2836l21 0l-1 16l-21-1zM2531 2836l21 0l-1 17l-21-1zM2591 2837l36 0l-1 18l-36-1zM2711 2838l21 0l-1 20l-21-1zM2665 2852l21 1l0 19l-21-1zM2695 2853l21 1l0 19l-21-1zM2725 2854l21 0l0 20l-21-1zM2590 2864l21 1l-1 17l-21-1zM2650 2866l21 1l-1 19l-21-2zM2725 2869l21 1l-1 20l-21-1zM2785 2871l21 1l-1 21l-21-1zM2589 2878l21 1l-1 17l-21-1zM2649 2881l21 1l-1 18l-21-1zM2648 2895l36 2l-1 19l-36-3zM2603 2906l20 1l-1 18l-21-2zM2662 2910l21 2l-1 19l-21-2zM2692 2913l21 1l-1 20l-21-2zM2616 2921l21 2l-2 18l-20-3zM2525 2925l51 6l-2 17l-50-7zM2615 2935l36 4l-2 18l-36-5zM2749 2949l21 2l-2 20l-21-2zM2509 2936l21 3l-2 16l-21-3zM2569 2943l21 3l-3 17l-20-3zM2762 2966l21 3l-2 20l-21-3zM2522 2951l21 2l-2 17l-21-3zM2582 2959l21 2l-3 18l-21-3zM2641 2966l21 3l-2 19l-21-4zM2790 2986l21 3l-3 21l-21-3zM2565 2970l21 3l-3 17l-20-3zM2654 2983l21 3l-3 18l-21-3zM2699 2989l21 3l-3 20l-21-4zM2608 2990l20 3l-3 18l-20-3zM2682 3002l20 3l-3 19l-20-3zM2711 3007l21 3l-3 20l-21-4zM2845 3028l20 3l-3 22l-21-4zM2753 3030l21 3l-4 20l-21-4zM2795 3054l20 3l-4 21l-21-4zM2688 3049l21 4l-4 19l-21-4zM2700 3067l21 5l-5 19l-20-5zM2773 3083l36 7l-5 21l-35-8zM2580 3055l20 5l-4 17l-20-5zM2711 3086l21 4l-5 20l-20-5zM2675 3108l20 6l-5 18l-20-5zM2718 3119l21 6l-5 19l-21-5zM2748 3127l20 5l-5 20l-21-5zM2898 3203l20 6l-7 23l-20-6zM2735 3174l20 6l-6 20l-20-7zM2644 3162l20 6l-6 19l-20-7zM2816 3216l20 6l-7 22l-20-7zM2654 3181l20 7l-7 18l-20-7zM2592 3176l20 7l-6 17l-20-7zM2663 3200l20 7l-7 19l-20-7zM2748 3230l20 6l-7 20l-20-7zM2587 3190l34 12l-6 17l-34-12zM2672 3220l20 7l-7 19l-20-8zM2700 3230l20 7l-7 19l-20-7zM2841 3281l20 7l-8 21l-19-7zM2540 3187l20 8l-7 16l-19-8zM2610 3214l34 12l-7 18l-33-13zM2653 3229l19 8l-7 18l-19-8zM2737 3261l20 7l-8 20l-20-8zM2521 3195l20 7l-7 17l-19-8zM2591 3222l34 13l-7 18l-34-14zM2731 3276l20 8l-8 20l-20-8zM2843 3320l19 7l-8 22l-20-8zM2488 3196l20 8l-7 16l-19-9zM2530 3213l20 8l-7 16l-19-8zM2808 3325l20 8l-9 21l-19-8zM2864 3348l19 8l-9 22l-19-8zM2359 3156l19 8l-5 14l-20-9zM2691 3295l33 14l-8 20l-33-15zM2760 3324l33 14l-9 21l-33-15zM2286 3136l19 9l-5 12l-20-9zM2478 3220l19 9l-6 15l-20-8zM2657 3298l19 9l-8 18l-19-9zM2740 3334l33 15l-9 20l-33-15zM2418 3208l19 8l-6 15l-19-9zM2487 3239l19 8l-8 16l-19-9zM2664 3319l19 9l-8 18l-19-9zM2774 3368l19 9l-10 20l-19-9zM2842 3399l19 9l-10 21l-19-9zM2869 3411l19 9l-10 22l-19-9zM2910 3430l19 9l-10 22l-19-9zM2427 3225l19 9l-7 15l-19-9zM2467 3244l19 9l-7 16l-19-10zM2576 3295l33 15l-9 18l-32-16zM2644 3327l19 9l-9 18l-19-9zM2834 3416l19 9l-10 21l-19-9zM2875 3435l19 9l-11 22l-18-9zM2232 3145l19 9l-6 12l-18-10zM2408 3230l19 9l-7 15l-19-10zM2268 3174l19 9l-6 12l-19-9zM2389 3234l19 10l-8 14l-18-10zM2429 3255l19 9l-8 15l-18-10zM2724 3402l19 10l-10 19l-19-9zM2885 3483l19 9l-12 23l-18-10zM2530 3321l19 10l-9 16l-19-10zM2756 3438l19 10l-11 20l-18-10zM2810 3466l18 10l-11 21l-18-10zM2325 3228l18 10l-7 13l-18-11zM2351 3242l19 10l-8 13l-18-10zM2391 3263l18 10l-7 14l-19-10zM2431 3284l18 10l-8 15l-18-10zM2748 3454l19 10l-11 20l-19-10zM2801 3482l19 10l-12 21l-18-10zM2214 3180l19 10l-7 11l-18-10zM2293 3223l18 10l-7 13l-18-11zM2424 3296l32 17l-8 15l-32-18zM2222 3196l19 10l-7 11l-18-10zM2301 3240l18 11l-7 12l-18-10zM2757 3500l18 10l-11 21l-19-11zM2783 3515l18 10l-12 21l-18-11zM2835 3545l31 17l-12 22l-31-18zM2256 3227l18 11l-7 12l-18-11zM2295 3250l18 11l-7 12l-18-11zM2748 3516l18 10l-12 20l-18-11zM2787 3539l18 10l-13 21l-17-11zM2825 3561l19 11l-13 21l-18-11zM2277 3252l30 18l-7 13l-31-19zM2315 3275l18 11l-8 13l-18-11zM2854 3601l18 11l-13 22l-18-11zM2271 3261l18 11l-8 12l-18-11zM2805 3594l18 12l-13 21l-18-12zM2252 3262l18 12l-8 11l-17-11zM2278 3279l30 19l-8 12l-30-20zM2782 3603l18 11l-13 21l-18-12zM2184 3230l17 12l-7 10l-17-12zM2309 3313l18 11l-9 13l-17-12zM2722 3586l17 11l-13 20l-17-12zM2166 3230l17 12l-7 10l-17-12zM2302 3323l18 11l-9 13l-17-12zM2724 3609l30 21l-14 19l-29-20zM2222 3281l17 12l-8 11l-17-12zM2775 3668l17 12l-14 20l-17-12zM2228 3298l17 12l-8 12l-17-13zM2691 3631l17 12l-14 19l-17-12zM2752 3675l17 12l-15 20l-17-12zM2186 3280l16 12l-8 11l-16-13zM2282 3351l17 13l-9 12l-17-13zM2704 3664l17 12l-15 19l-16-12zM2740 3691l17 12l-15 20l-17-13zM2788 3726l17 13l-15 20l-17-12zM2191 3297l17 13l-8 11l-17-13zM2161 3287l17 13l-8 10l-16-13zM2197 3315l16 13l-8 10l-16-13zM2179 3314l16 13l-9 10l-16-13zM2658 3699l16 13l-15 18l-16-13zM2693 3727l16 13l-15 19l-16-13zM2137 3293l17 13l-9 10l-16-14zM2160 3312l17 13l-9 11l-16-14zM2184 3331l16 14l-9 10l-16-14zM2218 3360l16 13l-9 11l-16-13zM2669 3732l28 23l-16 19l-27-23zM2716 3771l16 13l-17 19l-16-13zM2188 3349l28 23l-10 11l-27-24zM2125 3308l38 33l-9 10l-38-34zM2306 3466l15 13l-11 13l-15-14zM2611 3732l16 14l-16 17l-16-14zM2645 3761l16 14l-17 18l-15-14zM2701 3811l16 13l-17 20l-15-15zM2118 3315l16 14l-9 10l-15-15zM2152 3345l15 14l-9 10l-15-14zM2185 3375l16 14l-10 11l-15-15zM2230 3415l16 14l-11 12l-15-15zM2632 3776l16 14l-17 18l-15-15zM2244 3444l38 35l-11 12l-37-35zM2288 3485l16 14l-12 12l-15-14zM2619 3790l16 14l-17 18l-15-15zM2214 3433l15 14l-10 11l-15-15zM2236 3453l15 15l-11 11l-15-15zM2279 3494l16 15l-12 12l-15-15zM2519 3721l16 14l-16 17l-15-15zM2552 3752l26 25l-16 16l-26-25zM2087 3326l15 15l-8 9l-15-15zM2174 3410l15 14l-11 11l-14-15zM2281 3514l15 15l-12 12l-14-15zM2518 3744l15 15l-16 16l-15-15zM2081 3333l25 25l-9 9l-25-25zM2155 3407l15 15l-10 10l-15-15zM2198 3449l14 15l-10 11l-15-15zM2283 3534l14 15l-12 12l-14-15zM2314 3566l15 15l-12 12l-15-15zM2346 3598l26 25l-14 13l-25-25zM2442 3693l15 15l-15 15l-15-15zM2495 3746l15 15l-16 15l-15-15zM2527 3778l15 15l-17 16l-14-15zM2601 3852l15 15l-17 17l-15-15zM2158 3426l14 15l-10 10l-14-16zM2221 3490l14 15l-11 11l-15-15zM2242 3511l14 15l-12 12l-14-15zM2315 3587l15 15l-13 12l-15-15zM2598 3876l25 26l-18 17l-25-26zM2088 3368l24 26l-9 9l-25-26zM2522 3825l14 15l-17 16l-14-16zM2605 3912l14 15l-19 17l-14-15zM2193 3496l24 26l-12 11l-24-27zM2254 3562l14 15l-13 12l-14-16zM2376 3694l24 27l-15 13l-24-27zM2407 3727l14 16l-16 14l-14-16zM2133 3449l14 15l-10 10l-14-16zM2204 3527l14 15l-12 11l-14-16zM2224 3549l14 15l-13 11l-14-15zM2264 3593l14 16l-13 12l-14-16zM2344 3682l14 16l-14 13l-14-16zM2455 3805l14 16l-17 15l-14-16zM2085 3411l14 16l-10 8l-14-16zM2145 3479l14 15l-12 10l-13-16zM2204 3546l14 16l-12 11l-14-16zM2244 3591l14 16l-14 11l-13-16zM2303 3659l14 16l-14 12l-14-16zM2323 3681l14 16l-15 13l-14-16zM2363 3726l23 28l-15 13l-24-27zM2442 3817l14 15l-18 15l-13-16zM2471 3850l14 16l-17 15l-14-16zM2078 3418l13 16l-10 8l-14-16zM2224 3589l13 16l-13 11l-13-16zM2263 3634l43 50l-15 13l-42-51zM2321 3703l24 27l-16 13l-23-28zM2319 3724l13 16l-15 13l-13-16z"/>
<path fill="#f1ff0c" d="M1723 2695l20-17l8 10l-21 16zM1571 2825l20-16l1 1l-21 15zM1761 2679l21-16l9 12l-22 15zM1620 2791l22-15l2 4l-22 14zM2174 3190l18 11l-12 18l-17-11zM1930 3069l18 12l-8 12l-17-13zM2038 3201l17 13l-12 14l-16-13zM2028 3213l16 14l-12 14l-16-14zM2028 3280l14 15l-14 14l-14-15zM2449 2075l16-14l13 15l-17 14zM2470 2077l17-14l12 16l-16 13zM2504 2070l16-13l13 16l-17 13zM2466 2120l17-13l12 15l-17 13zM2494 2156l29-21l11 16l-29 21zM2515 2160l17-12l11 16l-17 12zM2552 2134l17-12l12 16l-18 12zM2499 2189l17-12l11 16l-18 12zM2548 2155l18-12l11 17l-17 12zM2478 2239l17-12l10 16l-18 11zM2591 2165l18-11l11 17l-18 12zM2524 2227l17-11l10 16l-18 11zM2574 2195l18-11l11 17l-18 11zM2625 2163l31-19l11 18l-31 19zM2555 2345l19-10l8 17l-19 9zM2540 2383l19-8l7 16l-19 9zM2581 2365l19-9l8 17l-20 9zM2642 2354l19-8l8 18l-19 8zM2689 2351l20-8l8 19l-20 8zM2717 2339l19-8l9 20l-20 7zM2710 2360l19-8l8 20l-20 7zM2674 2392l19-8l8 19l-20 7zM2662 2446l20-7l6 19l-20 6zM2740 2635l21-4l3 20l-21 3zM2753 2744l21-1l1 20l-21 1zM2739 2761l21-1l1 20l-21 0zM2799 2757l21-1l1 21l-21 1zM2561 2836l36 1l-1 17l-36-1zM2560 2850l21 0l0 17l-21-1zM2530 2862l21 0l-1 17l-21-1zM2559 2876l21 1l-1 17l-21-1zM2574 2890l21 1l-2 18l-21-2zM2737 2916l36 3l-2 20l-36-3zM2716 2976l21 3l-3 20l-21-3zM2711 3200l20 6l-7 20l-20-7zM2637 3307l19 8l-8 18l-19-9zM2617 3314l19 9l-9 18l-19-9zM2489 3269l19 9l-8 16l-19-9zM2583 3315l33 16l-9 17l-32-16zM2637 3341l19 9l-9 19l-19-10zM2691 3367l19 10l-9 19l-19-10zM2469 3275l19 9l-8 16l-18-10zM2577 3329l18 9l-8 17l-19-10zM2684 3382l19 10l-10 19l-19-10zM2543 3328l19 10l-9 16l-18-10zM2596 3356l19 9l-9 18l-19-10zM2636 3376l19 10l-9 18l-19-10zM2836 3480l19 9l-11 22l-19-10zM2550 3348l18 10l-9 17l-18-11zM2695 3426l19 10l-11 19l-18-10zM2735 3447l18 10l-10 20l-19-10zM2490 3332l18 10l-8 16l-19-11zM2288 3233l18 10l-7 13l-18-11zM2405 3300l18 10l-8 14l-18-10zM2457 3329l18 11l-8 15l-18-11zM2705 3470l18 11l-11 19l-18-11zM2744 3493l18 10l-11 20l-18-11zM2770 3507l18 11l-12 20l-18-10zM2809 3530l18 10l-12 21l-18-11zM2399 3311l18 10l-9 15l-18-11zM2424 3326l19 11l-9 14l-18-11zM2463 3349l18 10l-9 16l-18-11zM2443 3353l18 11l-9 15l-18-12zM2623 3462l18 10l-11 18l-18-11zM2662 3485l18 11l-12 18l-18-11zM2296 3277l18 11l-8 13l-17-12zM2240 3254l17 12l-7 11l-18-12zM2379 3343l17 12l-9 14l-17-12zM2681 3538l31 19l-13 19l-30-20zM2196 3238l18 12l-7 11l-18-12zM2246 3271l18 12l-8 12l-17-12zM2622 3520l30 19l-12 18l-30-20zM2659 3544l55 37l-12 19l-55-37zM2178 3238l18 12l-7 10l-18-12zM2315 3331l30 20l-9 13l-30-21zM2377 3373l17 12l-9 14l-17-12zM2650 3559l29 20l-12 19l-30-21zM2699 3593l18 11l-14 19l-17-12zM2210 3272l17 12l-8 11l-17-12zM2628 3564l17 13l-13 17l-17-12zM2701 3616l18 12l-14 19l-17-12zM2350 3386l17 12l-10 13l-17-12zM2642 3596l17 12l-13 18l-17-12zM2330 3387l17 13l-10 13l-16-13zM2632 3610l16 13l-13 18l-17-13zM2668 3637l17 12l-14 19l-17-13zM2263 3352l29 22l-10 12l-28-23zM2335 3406l16 13l-10 13l-16-13zM2358 3424l17 13l-10 14l-17-13zM2633 3633l29 22l-14 18l-29-22zM2339 3426l16 13l-10 13l-17-14zM2563 3601l28 22l-13 17l-28-22zM2622 3647l17 13l-14 18l-17-13zM2284 3398l16 13l-10 12l-16-13zM2564 3624l17 13l-14 17l-16-14zM2288 3417l16 14l-10 12l-16-14zM2311 3436l16 14l-11 12l-16-13zM2291 3436l16 14l-10 12l-16-14zM2407 3554l16 14l-12 14l-16-14zM2600 3722l15 14l-15 17l-16-14zM2252 3435l16 14l-11 12l-15-14zM2297 3475l16 14l-12 13l-15-15zM2330 3505l16 14l-12 13l-15-14zM2353 3525l15 14l-12 14l-15-15zM2398 3565l15 14l-13 14l-15-14zM2476 3635l15 14l-14 16l-15-14zM2509 3665l16 14l-15 16l-15-14zM2299 3495l16 14l-12 13l-15-15zM2321 3515l38 35l-12 13l-37-35zM2377 3566l15 14l-13 14l-15-14zM2399 3586l15 15l-13 14l-15-15zM2421 3607l15 14l-13 14l-16-14zM2476 3658l37 34l-14 16l-37-35zM2542 3718l16 15l-16 16l-15-14zM2356 3567l26 24l-13 14l-26-25zM2388 3597l16 15l-14 14l-15-15zM2410 3618l26 25l-13 14l-26-25zM2541 3742l15 14l-15 16l-15-14zM2324 3556l15 15l-12 12l-15-14zM2389 3619l15 14l-14 14l-15-15zM2389 3640l15 15l-14 14l-15-15zM2410 3661l26 26l-15 14l-25-26zM2388 3683l14 16l-15 13l-14-15zM2408 3705l15 15l-15 14l-15-15z"/>
<path fill="#6ad800" d="M1784 2643l19-17l11 14l-20 15zM1602 2800l21-15l2 3l-21 14zM1714 2715l20-15l7 9l-21 15zM1841 2618l20-16l12 17l-21 15zM1851 2633l22-15l11 17l-22 14zM1605 2804l22-14l2 4l-23 12zM1639 2783l22-13l3 5l-23 12zM1724 2731l23-13l5 10l-23 12zM1861 2648l22-14l11 18l-23 13zM1659 2777l23-12l3 6l-24 11zM1661 2782l24-11l3 7l-25 9zM1697 2765l24-11l4 9l-24 9zM1860 2688l24-11l8 18l-25 10zM1756 2749l42-17l5 13l-43 15zM1867 2704l24-10l7 18l-25 9zM1590 2818l24-8l1 2l-25 7zM1703 2779l25-9l2 9l-25 7zM1779 2753l24-9l4 13l-25 8zM1628 2808l25-7l2 5l-26 5zM1686 2792l25-8l2 8l-25 6zM1688 2798l25-6l2 8l-26 4zM1886 2769l25-4l3 19l-26 3zM1690 2817l26-2l1 8l-26 0zM1730 2814l26-2l1 11l-26 0zM1830 2807l26-2l1 17l-26 0zM1870 2804l26-1l1 18l-26 0zM1910 2802l26-2l1 21l-26 0zM1591 2825l26-1l0 3l-26-1zM1751 2822l26 0l0 11l-26-1zM1671 2829l26 1l-1 7l-26-3zM1791 2833l26 1l-1 14l-26-2zM1850 2836l26 1l-1 17l-26-3zM1670 2834l46 4l-1 8l-45-6zM1730 2839l46 5l-2 11l-45-7zM1850 2850l25 3l-2 17l-25-4zM1650 2836l26 4l-1 6l-26-5zM1848 2865l25 4l-2 17l-26-5zM1630 2837l25 5l-1 4l-25-6zM1708 2852l25 5l-2 10l-25-7zM1786 2868l26 5l-3 14l-25-7zM1826 2876l45 9l-4 17l-45-12zM1803 2884l25 7l-4 14l-25-7zM1800 2897l24 8l-4 14l-25-9zM1838 2909l25 8l-6 16l-24-9zM1664 2860l25 9l-3 7l-24-11zM1721 2881l24 9l-4 10l-24-11zM1571 2825l24 10l-1 2l-23-12zM1767 2923l24 12l-7 12l-22-13zM1857 2968l23 12l-9 17l-23-13zM1779 2944l58 32l-9 15l-56-36zM1849 2983l22 13l-10 17l-22-14zM1638 2868l39 25l-4 6l-38-27zM1857 3008l22 15l-12 17l-21-16zM1603 2848l21 15l-2 3l-20-16zM1684 2907l21 15l-5 7l-20-16zM1814 3000l21 15l-11 15l-20-16zM1617 2862l21 17l-3 3l-20-17zM1660 2905l19 17l-5 6l-19-18zM1705 2945l19 17l-8 9l-18-19zM1779 3012l20 17l-12 13l-19-19zM1627 2881l19 19l-5 4l-17-20zM1769 3022l18 19l-12 12l-17-20zM1691 2958l18 20l-9 7l-17-20zM1890 2552l16-14l9 11l-17 13zM2016 2445l16-14l11 14l-16 13zM2050 2416l16-14l12 15l-16 13zM1932 2532l17-13l9 12l-17 12zM1956 2513l16-13l9 12l-16 13zM1979 2495l16-14l10 13l-16 13zM2049 2438l16-13l12 15l-17 13zM2023 2478l17-13l10 15l-17 12zM2095 2423l16-12l13 16l-17 12zM1862 2614l17-13l7 10l-18 11zM1972 2534l17-12l8 13l-17 12zM1996 2517l17-13l9 14l-17 12zM2105 2438l17-13l12 17l-17 12zM2129 2420l30-21l12 18l-30 20zM1892 2604l18-11l7 10l-18 11zM1917 2588l18-12l7 11l-18 11zM2004 2528l17-12l9 14l-17 11zM2091 2469l17-12l11 16l-18 12zM1936 2589l18-12l7 12l-18 11zM2024 2532l18-12l9 15l-18 10zM1917 2614l18-11l6 11l-18 11zM1942 2598l18-10l7 11l-18 11zM2019 2552l31-19l8 14l-31 18zM2070 2520l18-10l9 15l-18 11zM1883 2646l18-11l6 10l-19 10zM1922 2623l18-10l6 11l-18 10zM2182 2474l19-10l10 19l-18 10zM1914 2640l19-10l5 11l-19 9zM1993 2597l19-10l7 14l-19 9zM2020 2583l18-10l8 14l-19 10zM2112 2533l19-10l9 17l-19 10zM2152 2512l45-24l10 19l-46 23zM1892 2663l19-10l5 10l-19 9zM1919 2649l19-9l5 11l-19 9zM1972 2622l19-9l6 12l-19 9zM2160 2527l19-9l9 18l-19 9zM2032 2607l19-9l7 15l-20 8zM2073 2588l19-9l7 16l-19 8zM2100 2575l32-15l8 17l-33 14zM2181 2537l19-9l9 19l-19 8zM1955 2656l33-15l5 13l-33 13zM2079 2601l19-8l7 16l-20 8zM2216 2541l19-8l9 20l-20 8zM1960 2666l19-8l5 13l-20 7zM2057 2626l19-8l6 16l-19 7zM2048 2645l20-8l5 15l-20 7zM2104 2624l34-13l6 17l-34 12zM1953 2692l20-7l4 12l-20 7zM1982 2682l19-7l5 13l-20 7zM2067 2653l19-7l6 15l-20 7zM2194 2608l20-7l6 20l-20 6zM1928 2711l20-6l4 11l-21 6zM1985 2693l20-6l4 13l-20 6zM2085 2661l20-6l5 16l-20 6zM2114 2652l20-6l5 17l-20 6zM2143 2643l20-6l5 18l-20 5zM2214 2620l20-6l6 20l-20 6zM1931 2721l20-6l3 11l-20 6zM2017 2696l35-10l4 14l-35 9zM2104 2671l20-6l5 17l-21 5zM2162 2654l20-6l5 19l-21 5zM2205 2642l20-6l5 20l-20 5zM1948 2727l35-9l3 12l-35 8zM1992 2715l20-5l3 13l-20 5zM2238 2651l21-5l5 21l-21 4zM1921 2744l21-5l2 11l-20 4zM1951 2737l20-5l3 12l-21 4zM2038 2716l21-4l3 14l-21 5zM2228 2672l21-4l4 20l-20 4zM2159 2705l20-4l4 18l-21 4zM1970 2754l20-3l2 12l-21 4zM2014 2747l21-4l2 14l-21 3zM1986 2763l21-3l2 13l-21 2zM2045 2754l36-5l2 15l-36 4zM1928 2781l21-2l1 11l-21 2zM1958 2778l21-3l1 12l-21 2zM2017 2770l21-2l2 14l-21 2zM1959 2788l21-2l1 12l-21 2zM2004 2784l36-4l1 14l-36 3zM1945 2799l21-1l0 12l-21 1zM1930 2810l21-1l1 11l-21 1zM1960 2809l21-1l1 12l-21 0zM2006 2818l21 0l0 14l-21-1zM2051 2818l21-1l0 15l-21 0zM2006 2830l21 0l-1 14l-21-1zM1990 2841l36 1l0 14l-36-2zM2049 2869l36 3l-2 15l-36-4zM1973 2873l21 2l-2 13l-21-3zM2046 2894l20 3l-2 15l-21-4zM1955 2891l21 4l-3 12l-20-4zM1968 2905l20 4l-2 12l-21-5zM1922 2905l20 5l-3 11l-20-5zM1966 2915l20 5l-3 12l-20-5zM2010 2976l20 7l-5 14l-19-8zM2124 3015l20 7l-6 17l-20-7zM1992 2982l20 8l-5 13l-20-8zM2127 3050l19 8l-7 17l-19-9zM1914 2975l20 8l-5 11l-19-9zM2176 3089l19 8l-8 19l-19-9zM1978 3016l60 27l-7 14l-59-29zM2101 3073l19 9l-8 16l-19-9zM1893 2986l32 16l-6 11l-31-17zM1946 3013l19 9l-6 12l-19-10zM2161 3120l19 10l-10 18l-18-10zM2073 3093l19 10l-9 16l-18-10zM2100 3108l32 17l-10 16l-31-18zM2153 3136l18 10l-10 18l-18-11zM1897 3010l18 11l-6 10l-18-11zM1949 3040l18 10l-7 12l-18-11zM1975 3055l18 10l-7 13l-18-11zM1956 3058l18 11l-8 12l-17-12zM2020 3097l44 26l-10 15l-42-28zM2084 3135l18 11l-10 16l-18-11zM1987 3092l18 12l-9 13l-17-12zM2126 3181l18 12l-12 17l-17-12zM1992 3112l30 20l-9 13l-29-21zM1875 3044l29 21l-7 10l-29-22zM2021 3149l17 12l-10 14l-17-13zM2119 3219l17 12l-13 17l-17-13zM1857 3043l29 22l-8 9l-28-23zM1941 3106l16 13l-9 12l-16-14zM1945 3126l16 13l-9 11l-16-13zM1857 3067l16 14l-8 9l-16-14zM1891 3097l16 13l-9 10l-15-14zM1914 3116l16 14l-10 10l-15-14zM1982 3174l16 14l-11 13l-15-15zM2062 3242l16 14l-13 15l-15-14zM1884 3105l15 14l-9 10l-15-15zM1928 3145l16 14l-10 11l-16-14zM1931 3165l15 14l-11 11l-15-15zM1974 3206l15 14l-12 13l-15-15zM2072 3299l16 14l-15 15l-15-14zM1868 3121l15 15l-9 9l-15-15zM1900 3153l15 15l-11 10l-14-15zM1933 3205l14 15l-12 12l-14-16zM1862 3148l14 15l-10 9l-14-16zM1922 3215l14 15l-12 11l-14-16zM1983 3281l14 16l-15 13l-13-16zM2033 3337l14 16l-16 14l-14-16zM1834 3133l14 16l-10 8l-14-17zM1863 3167l14 16l-11 9l-13-16zM1902 3212l14 16l-13 11l-13-17zM1941 3258l14 16l-14 11l-13-16zM2198 2289l16-14l9 11l-16 14zM2289 2211l28-23l10 12l-28 23zM2369 2143l16-14l12 14l-17 13zM2529 2006l16-13l14 16l-17 14zM2563 1977l16-13l14 17l-16 13zM2586 1958l16-14l14 18l-16 13zM2217 2288l16-14l9 12l-16 13zM2263 2249l16-13l10 12l-17 13zM2517 2038l16-13l13 16l-16 13zM2563 2000l16-13l14 17l-17 13zM2620 1952l17-13l14 18l-16 13zM2200 2315l17-13l8 11l-16 13zM2597 1995l16-14l14 18l-16 13zM2254 2287l17-13l9 11l-17 13zM2384 2185l16-13l11 14l-16 12zM2455 2129l16-13l12 15l-17 13zM2502 2092l16-13l13 16l-17 13zM2584 2027l17-13l13 17l-16 13zM2620 1999l40-32l14 19l-41 31zM2190 2351l17-13l8 10l-17 13zM2416 2177l29-22l11 15l-29 22zM2452 2150l17-13l11 15l-17 13zM2172 2377l17-13l8 11l-17 12zM2232 2332l17-13l9 12l-18 12zM2353 2242l16-12l10 13l-17 13zM2425 2189l17-13l10 15l-17 12zM2497 2135l17-13l11 16l-17 12zM2605 2054l17-12l13 17l-17 13zM2677 2000l17-12l14 19l-17 12zM2166 2394l17-13l7 11l-17 12zM2336 2270l17-12l9 13l-17 12zM2652 2042l29-22l13 19l-29 21zM2282 2324l17-12l9 12l-18 12zM2319 2298l41-30l10 14l-43 28zM2380 2255l17-12l10 14l-17 11zM2417 2229l29-21l11 15l-30 20zM2674 2047l18-12l13 19l-18 12zM2177 2410l17-12l8 10l-18 12zM2276 2342l17-12l9 12l-18 12zM2647 2088l18-12l12 18l-17 12zM2672 2071l18-12l12 19l-17 11zM2170 2426l18-12l6 11l-17 11zM2320 2326l30-20l9 13l-31 20zM2407 2268l18-12l9 15l-17 11zM2432 2251l30-19l10 15l-30 19zM2670 2094l17-12l12 19l-17 11zM2175 2434l18-11l7 10l-18 11zM2226 2401l17-11l8 11l-18 11zM2251 2385l18-11l7 12l-18 11zM2402 2287l18-11l9 14l-18 11zM2654 2125l18-12l12 19l-18 11zM2231 2410l18-11l7 11l-18 11zM2358 2330l18-11l9 14l-18 11zM2409 2299l31-20l9 15l-31 19zM2460 2267l18-12l9 16l-18 11zM2485 2251l18-11l10 15l-18 11zM2250 2411l18-11l7 12l-19 11zM2275 2396l18-11l7 12l-18 10zM2634 2177l18-11l11 18l-18 11zM2216 2443l18-11l7 12l-18 10zM2242 2428l18-11l7 12l-18 10zM2449 2306l18-11l9 15l-19 11zM2475 2291l18-11l9 15l-19 11zM2759 2123l18-11l12 20l-19 11zM2417 2340l18-11l8 15l-18 10zM2456 2318l18-11l8 15l-18 10zM2755 2146l18-11l12 21l-19 10zM2252 2446l19-10l6 12l-18 9zM2449 2337l19-11l8 16l-19 9zM2475 2322l32-17l8 15l-31 17zM2698 2198l19-10l10 19l-18 10zM2469 2341l18-10l8 16l-18 9zM2680 2227l19-10l10 20l-19 9zM2214 2500l18-9l6 11l-19 9zM2254 2480l18-9l6 12l-19 9zM2468 2372l19-9l7 15l-19 9zM2676 2285l32-15l10 19l-33 15zM2744 2252l18-9l10 20l-19 9zM2276 2492l19-9l6 12l-19 9zM2317 2473l19-9l6 13l-19 8zM2371 2447l19-9l7 14l-20 9zM2439 2415l19-9l7 15l-19 9zM2480 2396l19-9l7 16l-19 8zM2737 2275l19-9l10 20l-19 8zM2778 2255l19-9l10 21l-19 9zM2349 2470l19-8l6 13l-19 9zM2376 2458l19-9l6 14l-19 9zM2431 2433l19-9l6 15l-19 9zM2772 2278l19-9l9 21l-19 8zM2504 2414l20-8l7 16l-20 8zM2455 2450l19-8l6 15l-19 8zM2551 2409l20-8l7 17l-20 8zM2786 2310l19-8l9 20l-19 8zM2543 2428l19-8l7 17l-20 7zM2793 2326l33-14l9 22l-34 13zM2297 2540l19-8l5 13l-20 7zM2339 2523l19-7l5 13l-19 7zM2478 2468l20-7l6 15l-20 8zM2506 2457l20-7l6 16l-20 7zM2576 2430l20-8l6 18l-20 7zM2258 2565l20-7l4 12l-19 7zM2286 2555l34-13l5 13l-34 12zM2262 2574l20-7l4 12l-20 7zM2417 2518l20-7l5 15l-20 7zM2459 2503l20-7l5 15l-20 7zM2628 2442l20-8l7 19l-20 6zM2769 2391l20-8l7 21l-19 7zM2520 2495l20-7l5 17l-20 6zM2577 2475l20-6l5 17l-20 6zM2605 2466l20-7l6 17l-20 7zM2761 2411l20-6l7 20l-20 7zM2311 2579l20-7l4 13l-20 6zM2396 2550l20-6l5 14l-20 6zM2496 2517l20-6l5 16l-20 6zM2567 2494l20-7l6 17l-20 6zM2809 2413l20-6l7 21l-20 6zM2457 2543l20-6l5 15l-20 6zM2557 2511l20-6l5 17l-20 6zM2600 2498l20-7l5 18l-20 6zM2671 2475l20-6l6 19l-20 6zM2814 2430l20-7l7 22l-20 6zM2403 2572l20-6l5 15l-21 5zM2446 2559l20-6l5 15l-20 6zM2561 2525l20-7l5 17l-20 6zM2378 2592l34-10l4 14l-34 9zM2464 2567l20-6l5 15l-21 6zM2594 2529l20-5l5 17l-20 6zM2623 2521l20-6l5 18l-20 6zM2695 2500l20-5l5 19l-20 5zM2781 2475l20-5l6 20l-20 6zM2265 2634l20-5l4 12l-21 5zM2381 2603l35-10l3 14l-35 9zM2468 2579l20-6l4 16l-20 5zM2598 2543l20-5l5 17l-21 5zM2656 2527l20-5l5 18l-21 5zM2786 2492l35-10l5 21l-35 9zM2326 2629l63-17l4 14l-64 15zM2427 2602l21-5l3 15l-20 5zM2587 2561l20-6l5 18l-21 5zM2630 2549l21-5l4 18l-20 5zM2314 2642l20-5l3 13l-20 5zM2532 2588l20-5l4 17l-20 5zM2619 2567l21-5l4 18l-20 5zM2780 2528l20-5l5 20l-20 5zM2823 2517l21-5l5 21l-21 5zM2316 2652l20-5l3 13l-20 5zM2550 2598l49-12l4 18l-50 10zM2637 2578l21-5l4 18l-21 5zM2667 2571l20-5l4 19l-20 4zM2710 2561l21-5l4 19l-20 5zM2391 2646l21-4l3 14l-21 4zM2538 2614l21-4l3 16l-21 4zM2597 2601l20-4l4 17l-21 5zM2743 2569l35-7l5 20l-36 7zM2291 2678l20-4l3 12l-21 4zM2350 2666l20-4l3 13l-21 4zM2438 2648l20-4l3 15l-20 4zM2467 2642l21-4l3 15l-21 4zM2511 2633l21-4l3 16l-21 4zM2555 2624l21-4l3 17l-20 4zM2614 2612l21-4l3 18l-20 4zM2761 2582l21-4l4 20l-21 4zM2529 2643l50-10l3 17l-51 9zM2676 2615l21-4l3 19l-21 3zM2779 2595l21-4l3 21l-20 3zM2457 2669l35-7l3 16l-35 5zM2501 2661l21-4l3 16l-21 3zM2531 2655l21-3l2 16l-20 4zM2560 2650l21-3l3 17l-21 3zM2649 2635l50-9l3 19l-50 8zM2752 2616l36-6l3 21l-35 5zM2797 2609l20-4l4 21l-21 3zM2474 2678l21-3l2 15l-21 3zM2577 2661l36-6l3 18l-36 5zM2651 2649l36-6l3 19l-36 5zM2696 2642l35-6l3 20l-35 5zM2580 2674l20-3l3 18l-21 2zM2624 2668l21-3l2 18l-20 3zM2654 2663l21-3l2 19l-21 3zM2713 2655l21-4l3 20l-21 3zM2772 2646l21-3l3 20l-21 3zM2388 2714l21-3l2 14l-21 3zM2448 2706l35-5l2 16l-35 4zM2522 2696l21-3l2 16l-21 3zM2700 2672l21-3l3 19l-21 3zM2804 2658l21-3l3 21l-21 2zM2553 2705l21-3l2 17l-21 3zM2643 2694l35-4l3 18l-36 4zM2717 2685l21-2l2 19l-21 2zM2495 2725l21-3l2 16l-21 2zM2570 2716l21-2l1 17l-20 2zM2600 2713l35-4l2 18l-36 4zM2644 2708l36-3l2 18l-36 3zM2749 2697l21-2l2 20l-21 2zM2794 2692l35-4l2 22l-35 3zM2497 2737l20-2l2 16l-21 1zM2526 2734l21-2l2 16l-21 2zM2586 2728l21-2l2 18l-21 1zM2646 2723l21-2l1 18l-21 2zM2691 2718l21-2l1 20l-21 1zM2795 2709l21-2l2 20l-21 2zM2483 2750l51-4l1 16l-51 4zM2587 2742l21-2l2 18l-21 1zM2499 2762l20-2l1 16l-21 1zM2528 2760l21-2l1 17l-21 1zM2558 2757l21-1l1 17l-21 1zM2618 2753l36-2l1 18l-36 2zM2858 2737l21-1l1 22l-21 1zM2514 2773l21-1l1 16l-21 1zM2889 2753l21-2l1 23l-21 1zM2440 2789l36-2l0 15l-36 1zM2530 2785l21-1l0 17l-21 0zM2665 2779l21 0l0 18l-21 1zM2695 2778l21-1l0 20l-21 0zM2815 2773l21-1l0 22l-21 0zM2530 2798l21-1l1 17l-21 0zM2680 2794l21-1l1 19l-21 0zM2710 2793l21-1l1 20l-21 0zM2815 2790l21-1l1 21l-21 1zM2486 2811l21 0l0 16l-21 0zM2516 2811l21-1l0 17l-21 0zM2666 2809l21-1l0 19l-21 0zM2696 2808l21 0l0 19l-21 0zM2846 2806l21 0l0 21l-21 0zM2531 2823l21 0l0 17l-21-1zM2606 2823l36 0l0 18l-36 0zM2771 2823l21 0l0 20l-21 0zM2831 2823l21 0l0 21l-21 0zM2921 2823l21 0l0 23l-21-1zM2651 2838l21 0l-1 18l-21 0zM2741 2839l21 0l-1 20l-21-1zM2876 2840l21 0l-1 23l-21-1zM2650 2852l21 0l0 19l-21-1zM2740 2854l21 1l0 20l-21-1zM2470 2859l21 1l-1 16l-21-2zM2635 2866l21 0l-1 19l-21-1zM2680 2867l21 1l-1 19l-21-1zM2740 2870l21 1l-1 20l-21-2zM2724 2884l21 2l-1 19l-21-1zM2814 2889l36 2l-1 21l-36-2zM2334 2875l21 1l-1 13l-21-2zM2439 2881l21 2l-1 15l-21-2zM2633 2894l21 1l-1 19l-21-2zM2678 2897l21 1l-1 19l-21-1zM2708 2899l36 2l-1 20l-36-3zM2783 2904l21 1l-1 21l-21-2zM2677 2912l21 1l-1 19l-21-2zM2707 2914l21 2l-2 19l-20-2zM2797 2921l21 2l-2 21l-21-2zM2902 2929l21 2l-2 23l-21-2zM2497 2910l21 2l-2 16l-21-3zM2660 2939l35 4l-2 19l-35-4zM2734 2947l21 3l-2 19l-21-2zM2779 2952l21 2l-2 21l-21-3zM2809 2955l21 2l-3 22l-21-3zM2479 2933l21 2l-2 16l-21-3zM2673 2956l21 2l-3 19l-20-3zM2807 2972l21 2l-3 21l-21-3zM2881 2981l21 2l-3 22l-20-2zM2493 2947l20 3l-2 15l-21-3zM2567 2957l21 2l-3 17l-20-3zM2626 2965l21 2l-2 18l-21-3zM2656 2968l21 3l-3 19l-20-3zM2491 2959l21 3l-3 16l-20-4zM2580 2972l21 3l-3 17l-21-3zM2610 2976l35 6l-2 18l-36-6zM2669 2985l21 3l-3 19l-21-4zM2534 2978l35 6l-3 17l-35-6zM2696 3004l21 4l-3 19l-21-4zM2726 3009l21 3l-3 20l-21-4zM2756 3014l20 3l-3 20l-21-3zM3022 3056l21 4l-4 24l-21-3zM2531 2991l21 4l-3 16l-21-4zM2605 3004l21 4l-3 17l-21-4zM2635 3009l21 4l-4 18l-20-4zM2709 3022l20 3l-3 20l-21-4zM2603 3018l35 6l-3 18l-36-7zM2691 3034l36 7l-4 19l-35-7zM2883 3070l21 4l-5 22l-20-4zM2600 3031l65 13l-4 19l-64-14zM2583 3042l35 8l-4 17l-35-8zM2627 3051l20 5l-4 18l-20-5zM2832 3095l21 5l-5 21l-21-4zM2770 3099l20 5l-5 20l-20-5zM2828 3112l35 8l-5 22l-35-9zM2620 3079l21 5l-5 18l-20-5zM2693 3097l35 9l-5 19l-35-9zM2781 3118l20 5l-5 21l-21-5zM2810 3125l20 5l-5 21l-20-5zM2689 3112l35 9l-5 19l-35-9zM2849 3153l21 5l-6 22l-20-5zM2671 3123l20 5l-5 19l-20-6zM2743 3143l21 5l-6 20l-20-6zM2624 3125l20 6l-5 18l-21-6zM2696 3146l20 6l-6 19l-20-6zM2912 3208l20 5l-6 23l-20-6zM2562 3122l20 6l-5 17l-20-6zM2620 3139l20 6l-6 18l-20-6zM2691 3161l21 6l-6 19l-20-6zM2720 3169l20 6l-6 20l-20-6zM2601 3149l20 6l-6 18l-20-7zM2844 3225l20 6l-7 22l-20-7zM2340 3078l20 7l-4 13l-20-7zM2525 3139l20 6l-5 17l-20-7zM2611 3167l34 11l-6 18l-34-12zM2753 3214l20 6l-7 21l-19-7zM2796 3228l34 11l-7 21l-34-11zM2493 3142l20 7l-6 15l-20-7zM2535 3156l20 7l-6 17l-19-7zM2578 3171l20 7l-6 17l-20-7zM2705 3215l20 7l-6 19l-20-7zM2805 3249l20 7l-8 21l-20-7zM2573 3184l20 8l-6 17l-20-8zM2686 3225l20 7l-7 19l-20-7zM2714 3235l20 7l-7 20l-20-8zM2771 3255l20 7l-8 21l-20-8zM2329 3108l20 8l-5 13l-19-8zM2667 3235l33 12l-7 19l-33-13zM2723 3256l19 7l-7 20l-20-8zM2765 3271l20 8l-8 20l-20-8zM2905 3324l20 7l-9 23l-19-8zM2934 3334l19 8l-9 23l-19-8zM2381 3140l20 8l-5 14l-20-8zM2409 3151l20 8l-6 14l-19-8zM2479 3178l20 8l-6 16l-20-8zM2507 3189l20 8l-7 16l-19-8zM2717 3271l20 7l-8 20l-20-8zM2759 3287l19 8l-8 20l-19-8zM2787 3298l19 8l-8 20l-19-8zM2238 3095l34 13l-5 12l-33-14zM2308 3123l19 8l-5 12l-19-8zM2475 3190l19 8l-6 16l-20-8zM2516 3207l20 8l-7 16l-19-8zM2697 3280l19 8l-7 19l-20-8zM2767 3309l19 7l-8 21l-20-8zM2850 3342l19 8l-9 22l-19-8zM2483 3208l34 14l-7 16l-33-14zM2553 3237l19 8l-7 17l-19-8zM2594 3255l19 8l-7 17l-19-8zM2788 3336l19 8l-9 21l-19-9zM2829 3353l20 9l-10 21l-19-8zM2258 3124l19 9l-5 12l-19-9zM2423 3196l19 9l-6 14l-19-8zM2630 3286l19 9l-8 18l-19-9zM2808 3364l20 9l-10 21l-19-9zM2541 3263l19 9l-7 16l-19-8zM2828 3393l19 9l-9 21l-19-9zM2883 3418l19 8l-10 23l-19-9zM2399 3213l19 8l-6 15l-19-10zM2440 3232l19 9l-7 14l-19-9zM2508 3263l19 9l-7 16l-19-9zM2861 3429l19 9l-10 22l-19-10zM2902 3448l19 9l-11 22l-18-9zM2273 3165l19 9l-6 12l-19-10zM2300 3178l19 9l-7 12l-18-9zM2327 3191l19 9l-7 13l-19-9zM2502 3276l19 9l-8 16l-18-10zM2826 3433l19 9l-10 21l-19-9zM2867 3452l19 10l-11 22l-19-10zM2335 3208l32 16l-6 13l-32-17zM2738 3409l18 10l-10 19l-18-9zM2831 3456l19 10l-11 21l-18-10zM2237 3170l32 16l-6 12l-32-17zM2232 3178l19 10l-7 12l-18-11zM2259 3192l18 10l-6 12l-19-10zM2254 3202l31 17l-7 12l-31-18zM2306 3231l19 10l-8 12l-18-10zM2845 3528l18 10l-12 21l-18-10zM2209 3188l19 11l-7 11l-18-11zM2249 3211l18 10l-7 12l-18-11zM2269 3235l18 10l-7 12l-18-10zM2838 3569l19 11l-13 21l-18-11zM2200 3205l18 11l-7 11l-18-11zM2816 3578l18 11l-13 21l-18-11zM2245 3245l31 19l-8 12l-30-19zM2177 3214l17 11l-7 11l-17-12zM2795 3611l18 11l-14 21l-17-12zM2846 3643l17 12l-14 21l-17-11zM2760 3611l30 19l-14 21l-30-21zM2797 3635l18 12l-14 21l-18-12zM2290 3314l17 12l-8 12l-17-12zM2774 3643l17 12l-14 20l-17-12zM2763 3659l17 12l-14 20l-17-12zM2787 3676l18 12l-15 21l-17-12zM2155 3245l17 13l-7 10l-17-13zM2252 3316l17 12l-8 12l-17-13zM2739 3666l17 12l-14 20l-17-12zM2788 3701l41 30l-15 21l-41-30zM2198 3289l16 12l-8 11l-16-13zM2716 3673l17 12l-15 20l-16-13zM2800 3735l17 13l-15 20l-17-12zM2150 3278l16 13l-8 10l-16-14zM2728 3731l29 22l-16 20l-28-23zM2823 3805l17 12l-17 22l-17-14zM2144 3285l16 14l-8 9l-16-13zM2207 3350l16 14l-9 11l-16-14zM2704 3761l16 13l-16 20l-16-14zM2691 3776l16 14l-16 19l-16-14zM2714 3795l16 14l-16 19l-16-13zM2737 3815l16 13l-17 20l-16-14zM2679 3791l15 14l-16 18l-16-14zM2174 3365l16 14l-10 11l-15-15zM2263 3445l16 14l-11 12l-15-14zM2643 3786l16 14l-17 18l-15-15zM2666 3806l27 24l-18 18l-26-24zM2189 3394l26 24l-10 11l-26-25zM2608 3779l16 15l-17 17l-15-14zM2630 3800l16 14l-17 18l-15-15zM2105 3330l15 14l-9 9l-15-15zM2138 3360l15 15l-9 10l-15-15zM2159 3381l16 15l-10 10l-15-15zM2192 3412l15 14l-10 11l-15-15zM2574 3773l26 24l-17 17l-25-25zM2617 3814l16 14l-17 18l-15-15zM2098 3337l26 25l-9 9l-25-26zM2141 3378l15 15l-9 10l-15-15zM2184 3420l26 25l-10 11l-26-26zM2529 3754l36 36l-16 17l-36-37zM2604 3828l15 14l-17 18l-15-15zM2102 3354l47 47l-10 9l-46-47zM2176 3428l26 26l-11 10l-25-26zM2229 3481l15 15l-11 11l-15-15zM2506 3757l25 25l-16 16l-25-26zM2548 3799l15 15l-17 16l-14-15zM2591 3841l15 15l-18 17l-15-15zM2116 3383l15 15l-10 9l-15-15zM2179 3447l25 26l-11 10l-25-26zM2263 3533l14 15l-12 12l-14-16zM2305 3576l14 15l-13 12l-14-15zM2462 3737l14 15l-15 15l-15-15zM2556 3833l15 15l-18 17l-14-15zM2588 3865l14 15l-18 18l-14-16zM2067 3346l14 16l-9 8l-14-15zM2129 3412l15 15l-11 9l-14-15zM2181 3466l35 37l-12 11l-34-38zM2357 3651l14 15l-14 13l-14-15zM2429 3727l14 15l-15 15l-14-16zM2543 3846l14 16l-17 16l-15-16zM2182 3485l15 15l-12 11l-14-16zM2213 3518l14 15l-12 11l-14-15zM2294 3606l35 37l-14 13l-34-38zM2519 3848l24 27l-18 16l-24-27zM2600 3936l15 16l-20 17l-14-16zM2123 3437l14 16l-10 9l-14-15zM2234 3560l14 16l-13 11l-14-16zM2314 3649l14 16l-14 12l-14-16zM2405 3749l34 38l-17 15l-33-39zM2465 3816l14 16l-17 15l-14-16zM2535 3894l14 16l-18 16l-14-16zM2555 3916l14 16l-18 17l-14-16zM2174 3512l34 39l-12 10l-33-39zM2214 3557l14 16l-13 11l-13-16zM2234 3580l14 16l-13 11l-14-16zM2353 3715l13 16l-15 13l-13-16zM2392 3760l14 16l-16 14l-14-16zM2412 3783l24 27l-17 14l-23-27zM2521 3907l14 16l-19 16l-13-16zM2058 3395l14 16l-10 8l-14-16zM2087 3429l14 16l-11 9l-13-16zM2126 3475l14 16l-11 9l-14-16zM2165 3520l24 28l-13 10l-23-28zM2194 3555l14 15l-12 11l-14-16zM2243 3612l24 27l-14 11l-23-27zM2302 3680l13 16l-14 12l-14-16zM2350 3737l14 16l-16 13l-13-16zM2389 3783l14 16l-16 13l-14-16zM2409 3805l23 28l-17 14l-23-28zM2448 3851l14 16l-18 15l-13-16zM2506 3919l14 16l-19 16l-13-16zM2118 3482l13 16l-11 10l-14-17zM2185 3563l13 16l-13 10l-13-16zM2214 3597l23 28l-14 11l-23-28zM2271 3667l14 16l-15 12l-13-17zM2300 3701l13 16l-15 13l-13-17zM2425 3851l13 16l-18 15l-13-17zM2453 3886l14 16l-18 15l-14-17z"/>
<path fill="#53d600" d="M1814 2617l20-17l12 15l-21 16zM1698 2728l20-16l7 8l-22 15zM1622 2794l22-14l3 4l-23 13zM1571 2825l23-11l1 1l-24 10zM1589 2817l24-10l1 3l-24 8zM1663 2787l43-17l3 7l-44 15zM1793 2734l24-10l5 14l-24 9zM1885 2696l25-9l7 19l-25 8zM1627 2805l25-8l1 4l-25 7zM1665 2792l25-9l2 7l-25 7zM1609 2814l25-8l1 4l-25 6zM1840 2747l25-7l4 17l-25 6zM1766 2780l64-15l3 15l-65 11zM1630 2814l25-4l1 5l-26 3zM1610 2820l26-3l1 4l-26 1zM1710 2808l65-8l1 12l-66 4zM1571 2825l26-2l0 2l-26 0zM1631 2821l26-2l0 5l-26 0zM1670 2818l26-2l1 7l-26 1zM1811 2821l46 0l-1 16l-46-2zM1871 2820l26 0l-1 18l-26-1zM1611 2826l26 1l-1 4l-25-2zM1651 2828l26 1l-1 6l-26-3zM1691 2829l66 3l-1 10l-66-6zM1770 2843l26 2l-2 13l-25-4zM1571 2825l25 4l0 1l-25-5zM1749 2851l26 4l-2 11l-26-5zM1868 2868l25 4l-3 18l-25-5zM1571 2825l25 5l0 1l-25-6zM1728 2856l25 5l-2 11l-25-7zM1806 2872l25 5l-3 15l-25-7zM1590 2830l25 6l0 3l-25-8zM1629 2840l25 6l-1 5l-25-8zM1706 2860l25 6l-2 9l-25-8zM1784 2880l25 6l-4 13l-25-7zM1571 2825l25 8l-1 1l-24-9zM1723 2873l25 8l-3 10l-25-10zM1758 2895l24 9l-4 12l-24-11zM1814 2916l25 9l-7 15l-23-10zM1870 2937l25 9l-8 18l-23-10zM1589 2833l24 10l-1 3l-23-12zM1681 2873l24 10l-4 8l-23-12zM1736 2897l42 18l-6 12l-41-21zM1791 2921l24 10l-7 14l-23-12zM1827 2937l61 26l-8 18l-59-30zM1606 2843l24 11l-2 4l-23-13zM1678 2879l23 11l-4 7l-22-12zM1803 2941l23 12l-7 14l-23-13zM1875 2977l23 12l-10 18l-22-13zM1866 2993l23 13l-11 18l-22-15zM1789 2965l22 14l-9 14l-21-16zM1823 2987l22 14l-10 15l-21-15zM1789 3000l20 17l-11 13l-19-18zM1820 3025l36 29l-14 16l-34-31zM1613 2867l19 19l-4 3l-17-20zM1731 3003l45 49l-14 11l-41-51zM1879 2562l16-14l8 10l-17 13zM1901 2542l16-13l9 10l-16 13zM1947 2503l16-13l10 12l-16 13zM1981 2474l16-14l11 13l-16 14zM2004 2455l16-14l11 14l-16 13zM2027 2435l16-14l12 15l-17 13zM1851 2598l16-13l7 9l-17 13zM1897 2561l28-23l9 11l-29 22zM1991 2485l16-13l10 13l-16 13zM2072 2419l16-13l13 16l-17 12zM1892 2579l17-13l8 10l-18 12zM1940 2542l17-13l8 12l-17 12zM1976 2515l16-13l10 13l-17 12zM2035 2469l17-13l11 15l-17 12zM2083 2433l16-13l12 16l-17 12zM2130 2396l17-13l13 18l-17 12zM1874 2605l17-13l7 10l-17 12zM1935 2561l17-13l8 12l-17 12zM2008 2508l17-12l10 13l-18 12zM2117 2429l17-13l12 18l-17 11zM1868 2621l17-11l6 9l-17 11zM1942 2571l17-12l8 12l-18 11zM1967 2554l17-12l8 12l-17 12zM2029 2511l17-12l10 15l-18 11zM2103 2460l17-11l11 16l-17 12zM2128 2443l17-11l12 17l-18 11zM1886 2621l17-11l7 10l-18 11zM1911 2605l30-20l7 12l-31 18zM2062 2507l18-11l9 15l-18 11zM2163 2442l17-11l12 18l-18 11zM1891 2630l18-11l6 10l-18 10zM2122 2489l17-11l11 18l-19 10zM2147 2474l18-11l11 18l-19 10zM2173 2458l18-11l11 19l-18 10zM1961 2601l18-10l7 12l-18 10zM2052 2549l18-11l9 15l-19 10zM2091 2526l18-10l10 16l-19 10zM2117 2511l18-10l10 17l-19 10zM1980 2604l19-10l6 13l-18 10zM2099 2540l18-10l9 17l-19 9zM2125 2526l19-10l9 18l-19 9zM2013 2602l18-10l7 14l-19 9zM2039 2588l33-16l7 15l-33 16zM2106 2555l19-10l8 17l-19 9zM2173 2521l19-10l9 19l-19 9zM1937 2652l46-22l6 13l-47 20zM2086 2582l19-9l8 16l-20 8zM2141 2556l19-9l8 18l-20 8zM2195 2530l32-15l9 20l-33 14zM1941 2662l20-9l5 12l-20 8zM1983 2644l74-33l6 15l-75 30zM2120 2583l19-8l7 17l-19 8zM2147 2571l20-8l7 18l-19 8zM2189 2553l33-14l8 19l-33 14zM2015 2643l20-7l5 14l-20 7zM2085 2615l19-8l6 16l-19 8zM2196 2570l19-8l8 19l-20 8zM2034 2650l19-7l6 14l-20 7zM2090 2629l20-8l5 17l-19 7zM2146 2608l34-13l6 18l-34 12zM2202 2586l20-7l7 20l-20 7zM2230 2576l20-8l7 21l-20 7zM1996 2677l34-12l4 14l-34 11zM2038 2662l20-6l5 14l-20 7zM2109 2638l20-7l6 17l-20 6zM2137 2628l20-7l6 18l-20 6zM2166 2618l20-7l6 19l-20 6zM2223 2598l19-6l7 20l-20 6zM1957 2702l20-6l3 12l-20 6zM2000 2689l20-7l4 14l-21 6zM2100 2657l20-7l5 17l-21 6zM2157 2639l20-7l5 19l-20 5zM2228 2616l20-6l6 20l-20 6zM1960 2712l20-5l3 12l-20 5zM2046 2688l20-6l5 15l-21 5zM2190 2646l21-6l5 19l-20 6zM2234 2633l34-10l6 22l-35 8zM1919 2734l20-5l3 11l-20 5zM2050 2700l49-13l4 16l-50 12zM2108 2685l35-9l4 17l-35 8zM2180 2666l21-5l4 19l-20 5zM2209 2659l35-9l5 20l-35 8zM2053 2713l20-5l4 15l-21 5zM2097 2703l49-12l4 18l-50 10zM1968 2744l20-4l2 12l-20 4zM2012 2735l50-10l2 15l-50 8zM2100 2717l20-4l4 16l-21 4zM2102 2731l51-9l3 18l-51 7zM2162 2721l35-7l3 19l-36 5zM1971 2765l21-3l2 13l-21 2zM2075 2750l36-6l2 17l-36 4zM2164 2736l21-3l2 19l-20 2zM2107 2759l21-2l1 17l-21 2zM1929 2791l36-4l1 12l-36 3zM1930 2800l21-1l0 11l-21 1zM1990 2807l21 0l1 13l-21 0zM1961 2819l51-1l0 14l-51-1zM1991 2830l21 0l-1 13l-21-1zM2051 2830l21 1l-1 15l-21-1zM1945 2839l21 1l0 12l-21-2zM2020 2842l36 1l0 15l-36-2zM2125 2846l21 1l-1 17l-21-1zM1960 2850l21 2l-1 12l-21-2zM2065 2857l36 2l-2 16l-36-3zM2184 2865l21 1l-1 19l-21-2zM2019 2866l21 2l-2 14l-21-3zM1924 2896l20 4l-2 11l-21-5zM2039 2932l20 4l-3 15l-21-5zM1948 2922l35 9l-3 12l-35-10zM1960 2936l20 6l-3 12l-20-6zM1914 2933l20 6l-3 11l-20-7zM1957 2946l20 7l-4 12l-20-7zM1922 2956l20 7l-5 12l-19-8zM2006 2988l20 7l-5 14l-20-8zM2105 3024l19 8l-6 16l-20-8zM2175 3051l48 18l-8 19l-47-19zM1960 2982l20 8l-6 12l-19-8zM2016 3005l19 8l-6 14l-19-9zM2141 3055l19 8l-7 18l-19-9zM2196 3078l48 19l-9 20l-46-20zM1901 2969l19 8l-5 10l-19-8zM1969 2999l20 8l-6 12l-19-8zM1997 3011l33 14l-6 14l-33-16zM1897 2977l19 9l-5 11l-19-10zM1924 2990l33 15l-6 12l-32-16zM2087 3066l19 9l-8 16l-19-9zM2128 3085l19 9l-9 18l-18-10zM1919 2999l19 10l-6 11l-18-10zM2013 3046l19 10l-7 14l-19-10zM2054 3067l18 9l-7 15l-19-10zM2188 3134l18 9l-9 19l-19-10zM1915 3009l18 10l-6 10l-18-10zM1954 3030l19 10l-7 12l-18-11zM2007 3058l19 10l-8 14l-18-11zM2179 3150l19 10l-11 19l-18-11zM1910 3018l31 18l-7 11l-30-19zM2066 3107l18 10l-9 15l-18-10zM2131 3144l18 10l-10 18l-18-11zM1917 3034l31 19l-7 11l-30-19zM1969 3066l18 10l-8 13l-18-12zM1994 3081l18 11l-8 13l-18-11zM2058 3120l18 11l-9 15l-18-12zM1874 3019l17 12l-6 9l-17-12zM1899 3035l18 12l-7 10l-18-12zM1962 3076l18 11l-8 13l-18-12zM2000 3100l18 12l-9 13l-18-12zM2113 3173l18 12l-11 16l-17-12zM1868 3027l18 12l-7 9l-17-12zM1893 3044l18 12l-8 10l-17-12zM2079 3171l18 12l-11 15l-17-12zM2116 3196l18 12l-12 17l-17-13zM1899 3061l17 13l-7 10l-17-13zM1960 3105l17 13l-9 12l-16-13zM1977 3134l16 12l-10 13l-16-13zM1898 3088l16 13l-8 10l-16-13zM2097 3271l16 14l-14 16l-16-14zM2096 3295l15 14l-14 16l-16-14zM1843 3082l16 15l-9 8l-15-15zM1836 3090l26 25l-9 9l-25-27zM1879 3132l15 15l-10 9l-15-15zM1921 3174l15 15l-11 11l-14-15zM1996 3248l15 15l-14 13l-14-15zM1850 3118l14 15l-9 9l-14-16zM1943 3216l14 15l-12 12l-14-16zM1842 3126l24 26l-10 9l-23-27zM1814 3110l14 16l-9 7l-13-16zM1873 3178l23 28l-11 9l-23-28zM1931 3247l14 16l-13 11l-14-17zM1961 3281l13 16l-14 12l-13-17zM2009 3338l24 27l-17 14l-22-28zM2221 2270l16-14l9 11l-16 14zM2255 2240l39-33l10 12l-39 33zM2358 2153l16-14l11 14l-16 13zM2392 2123l16-13l12 14l-16 13zM2251 2259l16-13l10 11l-16 14zM2297 2221l17-14l10 13l-17 13zM2401 2134l16-13l12 14l-16 13zM2574 1991l16-14l14 17l-16 14zM2422 2136l16-13l12 15l-17 12zM2574 2013l16-13l14 17l-17 13zM2609 1985l16-13l14 18l-16 13zM2207 2324l40-32l9 12l-41 31zM2266 2277l28-22l10 12l-29 22zM2313 2240l17-13l10 13l-17 13zM2337 2222l16-13l11 13l-17 13zM2443 2138l16-13l12 15l-17 13zM2608 2008l16-13l14 18l-17 13zM2214 2332l40-31l9 12l-41 30zM2273 2287l17-13l9 12l-17 13zM2595 2040l16-12l14 17l-17 13zM2220 2341l17-13l8 12l-17 12zM2280 2296l29-21l9 12l-29 21zM2316 2269l17-12l10 13l-17 12zM2389 2215l16-12l11 14l-17 12zM2437 2180l17-13l11 15l-18 12zM2154 2402l17-12l7 10l-17 12zM2214 2358l17-12l8 11l-17 12zM2348 2262l17-13l10 14l-18 12zM2372 2244l17-12l10 13l-17 12zM2409 2218l29-22l10 15l-29 21zM2470 2174l17-13l11 16l-18 12zM2221 2367l17-12l8 11l-18 12zM2638 2073l17-12l12 18l-17 12zM2662 2056l17-12l13 19l-17 11zM2214 2384l18-12l7 11l-17 12zM2251 2359l30-21l8 12l-30 20zM2289 2333l17-12l8 13l-17 11zM2313 2316l18-12l8 13l-17 12zM2338 2299l17-11l9 13l-17 11zM2375 2274l18-12l9 14l-18 12zM2400 2257l17-12l10 14l-18 12zM2685 2062l17-12l13 19l-18 12zM2183 2418l17-12l7 11l-18 11zM2233 2384l17-11l8 11l-18 12zM2283 2351l42-28l8 13l-43 27zM2382 2285l18-12l9 14l-18 11zM2420 2260l17-12l10 15l-18 11zM2657 2102l18-12l12 19l-18 11zM2213 2410l18-12l7 11l-18 11zM2264 2377l17-11l8 12l-18 11zM2289 2361l43-28l8 13l-44 27zM2339 2328l30-19l9 13l-31 19zM2516 2214l17-11l10 16l-17 11zM2692 2100l18-11l12 19l-18 11zM2742 2068l18-12l13 20l-18 11zM2193 2434l18-11l7 11l-18 11zM2219 2418l17-11l7 11l-18 11zM2244 2402l31-19l7 12l-31 19zM2295 2370l18-11l7 13l-18 11zM2397 2307l17-12l9 15l-18 10zM2663 2139l31-19l12 19l-31 19zM2701 2115l18-11l12 19l-18 11zM2186 2450l18-11l6 11l-18 11zM2288 2388l18-11l7 12l-18 11zM2365 2341l18-11l8 14l-18 10zM2391 2325l17-11l9 15l-18 10zM2660 2161l17-10l12 18l-18 11zM2685 2146l18-11l12 19l-19 11zM2255 2420l18-10l7 11l-18 11zM2642 2191l31-18l11 19l-31 17zM2694 2161l18-11l11 19l-18 11zM2746 2130l18-10l12 20l-19 10zM2772 2115l18-11l12 21l-19 10zM2234 2444l19-10l6 11l-18 11zM2260 2429l19-10l6 12l-18 10zM2312 2400l19-11l7 13l-19 10zM2351 2377l19-10l7 13l-18 10zM2430 2332l18-10l8 15l-18 10zM2508 2288l31-18l9 16l-31 17zM2677 2191l18-11l11 19l-19 10zM2729 2161l31-18l11 20l-31 17zM2423 2351l18-10l8 15l-18 10zM2462 2329l19-10l8 15l-19 10zM2738 2176l18-10l11 20l-19 10zM2764 2162l18-10l11 20l-18 10zM2271 2448l18-10l7 12l-19 10zM2337 2412l18-10l7 14l-18 9zM2456 2348l18-10l8 16l-19 9zM2482 2334l18-10l9 16l-19 9zM2522 2313l18-10l9 16l-19 10zM2759 2185l32-17l11 20l-32 17zM2209 2492l32-17l6 12l-32 16zM2262 2464l19-10l6 12l-19 10zM2342 2423l19-10l7 13l-19 10zM2449 2367l18-10l8 16l-19 9zM2515 2332l19-9l8 16l-19 9zM2280 2467l19-10l6 12l-19 10zM2401 2406l32-16l7 14l-32 16zM2749 2230l32-16l10 20l-32 16zM2272 2483l19-9l5 12l-19 9zM2380 2430l18-9l7 14l-19 9zM2420 2410l32-15l7 14l-32 16zM2663 2292l18-9l9 18l-19 9zM2412 2428l19-9l7 15l-20 8zM2466 2402l19-8l7 15l-19 9zM2308 2489l19-9l6 13l-20 8zM2417 2439l19-8l7 14l-20 9zM2436 2445l19-9l6 15l-19 8zM2546 2396l19-8l7 17l-19 8zM2468 2444l20-8l6 16l-19 8zM2537 2415l20-8l7 17l-20 7zM2473 2456l20-8l6 16l-20 8zM2501 2445l20-8l6 16l-20 8zM2255 2556l19-8l5 12l-20 8zM2548 2441l20-8l6 17l-20 8zM2799 2342l20-7l8 21l-20 7zM2827 2331l20-7l8 21l-20 8zM2343 2534l19-8l5 13l-20 8zM2413 2507l19-7l6 14l-20 7zM2469 2486l20-8l5 16l-20 7zM2497 2475l20-7l5 16l-19 7zM2539 2459l20-7l6 17l-20 7zM2304 2559l20-7l4 13l-20 7zM2445 2508l20-7l5 15l-20 7zM2487 2493l20-7l6 15l-20 7zM2544 2472l20-7l5 17l-19 7zM2572 2462l34-12l6 17l-34 12zM2826 2370l20-7l7 21l-20 7zM2308 2569l19-7l5 13l-20 6zM2350 2554l34-12l5 14l-35 11zM2421 2530l20-7l5 14l-20 7zM2463 2515l20-7l5 15l-20 7zM2534 2490l20-7l6 17l-20 6zM2789 2402l48-17l8 21l-49 16zM2297 2583l20-6l4 12l-20 7zM2325 2574l20-7l4 13l-20 7zM2411 2546l34-12l4 15l-34 11zM2467 2527l20-7l5 16l-20 6zM2539 2503l20-7l5 17l-20 6zM2738 2437l20-7l6 20l-20 6zM2471 2539l20-7l5 16l-20 6zM2543 2516l20-6l5 16l-20 6zM2586 2502l20-6l5 17l-20 6zM2614 2493l20-6l6 18l-20 6zM2332 2594l20-6l3 13l-20 6zM2389 2577l20-6l4 14l-20 6zM2418 2568l20-6l4 15l-20 5zM2291 2617l35-10l3 13l-34 9zM2435 2575l21-6l4 15l-21 6zM2565 2538l35-10l5 17l-35 10zM2767 2480l20-6l6 20l-20 6zM2294 2626l20-5l4 12l-21 6zM2323 2618l20-5l4 13l-21 5zM2352 2611l20-6l4 13l-21 6zM2482 2575l20-6l4 16l-20 5zM2525 2563l35-10l5 17l-35 9zM2612 2539l20-5l5 17l-20 6zM2815 2484l20-6l6 21l-21 6zM2442 2598l20-5l4 15l-21 5zM2529 2576l20-6l4 17l-20 5zM2761 2515l49-13l6 21l-50 12zM2284 2649l21-5l3 13l-21 4zM2547 2585l20-5l4 17l-20 4zM2649 2560l20-5l4 18l-20 5zM2751 2535l35-9l4 21l-35 8zM2794 2524l21-5l5 21l-21 5zM2272 2662l35-8l3 12l-35 8zM2594 2588l20-5l4 18l-21 4zM2725 2557l21-5l4 20l-21 5zM2784 2544l20-5l5 21l-21 4zM2406 2643l21-5l3 15l-21 4zM2509 2620l20-4l4 16l-21 4zM2582 2605l21-5l3 17l-20 5zM2641 2592l35-8l4 19l-36 7zM2729 2573l20-5l4 20l-20 4zM2787 2560l21-5l4 21l-21 4zM2423 2651l21-4l3 14l-21 4zM2482 2639l21-4l3 15l-21 4zM2600 2615l20-4l4 17l-21 4zM2658 2603l21-4l4 18l-21 4zM2293 2688l20-4l3 12l-21 4zM2411 2665l20-4l3 15l-21 3zM2455 2657l20-4l3 15l-20 4zM2573 2634l20-4l4 18l-21 3zM2632 2623l20-4l4 18l-21 4zM2750 2601l20-4l4 20l-21 4zM2383 2682l21-4l2 14l-21 3zM2413 2676l20-3l3 14l-21 3zM2546 2653l20-4l3 17l-21 3zM2575 2648l21-4l3 17l-21 4zM2605 2642l20-3l3 18l-20 3zM2782 2611l21-3l3 20l-21 4zM2548 2666l21-3l2 16l-21 3zM2607 2656l21-3l3 18l-21 3zM2637 2651l20-3l3 18l-21 3zM2726 2637l20-3l3 19l-20 3zM2814 2623l21-4l3 21l-20 3zM2535 2681l36-5l2 17l-36 4zM2639 2666l21-3l2 18l-21 3zM2683 2659l21-3l3 19l-21 3zM2832 2637l21-3l3 21l-21 3zM2581 2688l36-5l2 18l-35 4zM2819 2656l21-3l3 21l-21 3zM2434 2720l21-3l2 15l-21 2zM2583 2701l21-2l2 17l-21 2zM2628 2696l21-3l2 19l-21 2zM2702 2687l21-3l2 20l-21 2zM2510 2723l21-2l2 16l-21 2zM2540 2720l21-3l2 17l-21 2zM2601 2727l21-2l1 18l-20 1zM2631 2724l21-2l1 18l-21 2zM2676 2720l21-2l1 19l-21 1zM2810 2707l51-5l2 22l-51 4zM2870 2701l21-2l2 23l-21 1zM2318 2764l21-2l1 13l-21 1zM2528 2747l20-2l2 16l-21 2zM2602 2741l21-2l1 18l-20 1zM2782 2726l21-2l1 21l-21 1zM2871 2719l21-2l2 22l-21 2zM2454 2765l21-2l1 15l-21 1zM2514 2761l20-2l1 16l-21 1zM2648 2751l21-1l1 18l-21 1zM2888 2735l21-1l1 22l-21 1zM2499 2774l21-1l1 16l-21 1zM2544 2771l36-2l1 17l-36 2zM2634 2767l21-2l1 19l-21 0zM2859 2754l21-1l1 22l-21 1zM2635 2781l21-1l0 18l-21 1zM2755 2776l21-1l0 20l-21 1zM2845 2772l21-1l0 22l-21 0zM2875 2771l21-1l0 22l-21 1zM2515 2798l21 0l1 16l-21 0zM2860 2788l21 0l1 22l-21 0zM2651 2809l21-1l0 19l-21 0zM2711 2808l21 0l0 19l-21 0zM2756 2807l21 0l0 20l-21 0zM2801 2807l51-1l0 21l-51 0zM2861 2806l21-1l0 22l-21 0zM2696 2823l36 0l0 20l-36-1zM2756 2823l21 0l0 20l-21 0zM2876 2823l21 0l0 22l-21 0zM2426 2835l21 0l-1 15l-21-1zM2636 2837l21 1l-1 18l-21-1zM2726 2838l21 1l-1 19l-21 0zM2786 2839l21 0l-1 21l-21 0zM2861 2840l21 0l-1 22l-21 0zM2440 2847l21 0l0 15l-21-1zM2800 2856l36 1l0 21l-36-2zM2455 2859l21 1l-1 15l-21-1zM2620 2865l21 1l-1 18l-21-1zM2830 2873l21 1l-1 21l-21-1zM2604 2878l21 1l-1 18l-21-1zM2709 2884l21 1l-1 19l-21-1zM2739 2885l36 2l-1 20l-36-2zM2784 2888l21 1l-1 20l-21-1zM2889 2893l21 1l-1 23l-21-2zM2484 2884l21 2l-1 15l-21-1zM2828 2907l21 1l-2 21l-21-1zM2438 2893l21 2l-1 14l-21-2zM2468 2895l21 2l-1 15l-21-2zM2543 2901l21 2l-2 16l-21-2zM2827 2923l21 2l-2 21l-21-2zM2467 2907l21 2l-2 15l-21-2zM2691 2928l21 2l-2 19l-21-2zM2766 2935l21 2l-2 20l-21-2zM2855 2943l21 2l-2 22l-21-3zM2930 2950l21 2l-2 23l-21-2zM2466 2919l21 2l-2 16l-21-3zM2600 2933l21 2l-2 18l-21-3zM2824 2957l21 2l-3 21l-21-2zM2943 2969l21 3l-3 23l-21-3zM2494 2935l21 2l-2 16l-21-3zM2613 2949l21 2l-2 18l-21-3zM2703 2959l21 3l-3 19l-21-3zM2747 2965l21 2l-2 20l-21-3zM2463 2943l36 5l-3 15l-35-5zM2597 2961l35 4l-2 18l-36-5zM2731 2978l20 3l-2 20l-21-3zM2775 2984l21 3l-3 20l-21-3zM2924 3004l21 3l-4 23l-20-3zM2446 2953l21 3l-2 15l-21-4zM2476 2957l21 3l-3 15l-20-3zM2506 2961l21 3l-3 16l-21-3zM2728 2994l36 5l-3 20l-36-6zM2773 3000l36 5l-4 21l-35-6zM2593 2988l21 3l-3 18l-21-4zM2622 2993l21 3l-3 18l-21-4zM2741 3011l21 4l-4 20l-20-4zM2830 3026l21 3l-4 21l-21-3zM2859 3030l21 4l-4 22l-20-4zM2472 2981l21 4l-3 15l-20-4zM2576 2999l20 3l-3 18l-20-4zM2679 3017l21 3l-4 19l-20-4zM2724 3024l35 7l-4 20l-35-7zM2871 3050l21 4l-4 22l-21-4zM2916 3058l20 3l-4 23l-20-4zM2485 2996l21 4l-4 15l-20-4zM2514 3001l21 4l-3 16l-21-4zM2765 3048l21 4l-4 20l-21-4zM2824 3059l21 4l-5 21l-20-4zM2585 3028l21 5l-4 17l-20-4zM2703 3052l21 4l-4 20l-21-5zM2777 3067l20 4l-4 21l-21-5zM2821 3076l20 4l-4 21l-21-4zM2894 3090l21 5l-5 22l-20-4zM2641 3055l21 4l-4 18l-21-4zM2729 3073l21 5l-5 20l-20-5zM2817 3092l21 5l-5 21l-20-5zM2861 3102l21 4l-5 22l-21-5zM2891 3108l20 4l-5 23l-20-5zM2594 3059l21 4l-4 18l-21-5zM2653 3072l20 5l-4 18l-21-5zM2726 3089l20 5l-4 19l-21-5zM2799 3106l20 4l-4 21l-21-5zM2606 3076l20 5l-4 18l-21-6zM2664 3090l20 5l-4 19l-21-6zM2839 3132l20 5l-5 22l-20-5zM2883 3143l20 5l-6 22l-20-5zM2544 3075l20 5l-4 17l-20-6zM2657 3119l20 6l-5 18l-21-6zM2685 3127l21 5l-6 19l-20-5zM2772 3150l21 6l-6 20l-20-5zM2816 3162l20 6l-6 21l-20-6zM2845 3170l34 9l-6 22l-34-10zM2681 3142l21 5l-6 19l-20-6zM2739 3158l20 6l-6 20l-20-6zM2869 3195l35 10l-7 22l-35-10zM2605 3135l20 6l-5 18l-20-7zM2634 3144l20 6l-6 18l-20-7zM2749 3178l20 6l-6 20l-20-6zM2878 3217l20 6l-7 22l-20-6zM2529 3126l20 6l-5 17l-20-7zM2615 3153l20 6l-5 18l-20-6zM2758 3198l20 6l-6 21l-20-7zM2801 3212l20 6l-6 21l-20-7zM2859 3230l20 6l-7 22l-20-7zM2354 3083l20 6l-4 14l-20-7zM2825 3237l20 7l-8 21l-20-7zM2853 3247l20 6l-7 22l-20-7zM2882 3256l20 7l-8 22l-20-7zM2507 3147l20 7l-6 16l-20-8zM2549 3161l20 7l-6 17l-19-7zM2606 3181l20 7l-6 17l-20-7zM2734 3225l20 7l-7 19l-20-7zM2776 3239l34 12l-7 21l-34-12zM2876 3274l20 6l-8 23l-20-8zM2918 3288l20 7l-8 23l-20-7zM2658 3215l20 7l-7 18l-20-7zM2743 3245l19 7l-7 20l-20-7zM2813 3271l20 7l-8 21l-20-8zM2498 3172l20 7l-6 16l-20-8zM2639 3224l19 7l-7 19l-19-8zM2751 3266l20 7l-8 21l-20-8zM2535 3200l34 13l-7 17l-33-14zM2885 3336l19 8l-9 22l-19-8zM2280 3112l19 8l-5 12l-19-8zM2363 3145l20 8l-6 14l-19-8zM2433 3174l19 7l-6 15l-19-8zM2600 3241l19 8l-7 17l-19-8zM2683 3275l20 8l-8 19l-20-9zM2780 3314l20 8l-9 21l-19-9zM2836 3337l20 8l-9 21l-20-8zM2892 3359l19 8l-9 23l-19-9zM2317 3139l47 19l-5 14l-47-21zM2428 3185l19 8l-6 15l-19-9zM2871 3371l19 8l-9 22l-20-8zM2912 3388l19 8l-9 23l-20-8zM2954 3406l19 8l-10 23l-19-8zM2272 3130l19 9l-5 12l-19-9zM2313 3148l19 9l-5 13l-19-9zM2396 3184l19 9l-6 14l-19-9zM2451 3208l33 15l-7 15l-33-15zM2698 3316l20 9l-9 19l-19-9zM2767 3346l19 9l-9 20l-19-9zM2863 3388l33 15l-10 22l-32-15zM2241 3127l32 15l-5 12l-33-15zM2746 3356l19 9l-9 20l-19-9zM2965 3455l19 8l-11 24l-19-9zM2250 3143l19 9l-6 11l-18-9zM2291 3162l19 9l-6 12l-19-9zM2332 3181l32 15l-6 13l-33-15zM2454 3238l19 9l-7 15l-19-9zM2495 3257l19 9l-8 16l-19-9zM2821 3410l19 9l-10 21l-19-9zM2848 3422l19 9l-11 22l-18-9zM2889 3441l19 9l-11 23l-19-10zM2340 3197l19 10l-6 13l-19-10zM2435 3243l19 9l-8 15l-18-9zM2907 3472l19 9l-11 23l-19-10zM2228 3154l19 9l-6 12l-19-10zM2322 3201l19 9l-7 13l-19-10zM2890 3507l18 10l-12 22l-18-10zM2298 3214l19 10l-7 12l-18-10zM2867 3518l19 10l-12 22l-19-11zM2241 3194l18 11l-7 11l-18-10zM2236 3203l18 11l-7 11l-18-11zM2818 3602l18 12l-13 21l-18-12zM2844 3618l30 19l-14 22l-30-19zM2882 3642l18 11l-14 22l-18-11zM2808 3619l17 11l-13 21l-18-11zM2785 3627l17 12l-14 20l-17-12zM2786 3652l30 20l-14 21l-30-21zM2823 3677l18 12l-15 21l-17-12zM2161 3238l17 12l-7 10l-17-13zM2898 3754l17 12l-16 22l-17-12zM2825 3727l29 21l-16 22l-29-22zM2825 3753l16 12l-16 22l-16-13zM2156 3270l16 13l-7 10l-17-13zM2728 3755l16 13l-16 20l-16-13zM2727 3780l16 14l-16 19l-16-14zM2646 3737l27 24l-16 18l-27-24zM2771 3844l16 14l-17 20l-16-14zM2806 3873l16 14l-18 21l-16-14zM2113 3298l16 14l-8 9l-16-14zM2141 3335l15 14l-9 10l-15-14zM2167 3373l26 25l-9 10l-26-25zM2222 3424l15 14l-10 11l-15-14zM2664 3830l15 14l-17 19l-15-15zM2149 3371l15 14l-10 10l-15-15zM2181 3402l16 14l-10 11l-16-15zM2606 3803l16 15l-17 17l-15-14zM2636 3859l16 15l-18 18l-15-15zM2378 3629l15 15l-14 14l-14-15zM2538 3788l14 15l-16 16l-15-15zM2569 3820l26 25l-17 18l-25-26zM2644 3894l15 15l-19 18l-14-15zM2074 3340l15 15l-9 8l-15-15zM2126 3393l15 15l-10 10l-14-15zM2147 3415l15 15l-10 10l-15-16zM2357 3629l15 15l-14 14l-15-15zM2577 3855l15 15l-18 17l-14-16zM2139 3422l15 16l-11 9l-14-15zM2253 3542l15 15l-13 12l-14-16zM2305 3596l35 37l-14 13l-34-37zM2584 3890l25 26l-19 17l-24-26zM2142 3441l14 15l-11 10l-14-15zM2233 3540l15 15l-13 12l-14-16zM2570 3903l14 16l-19 16l-14-15zM2610 3947l15 16l-19 17l-15-16zM2073 3382l14 15l-10 9l-13-16zM2153 3471l25 27l-12 10l-24-27zM2214 3538l14 15l-13 11l-13-16zM2505 3861l14 15l-18 16l-13-16zM2545 3905l14 16l-18 16l-14-16zM2575 3939l14 15l-19 17l-13-16zM2066 3388l23 27l-10 9l-23-27zM2095 3422l24 27l-11 9l-23-27zM2155 3490l14 16l-12 10l-14-16zM2343 3704l14 16l-16 13l-13-16zM2461 3839l14 16l-17 15l-14-16zM2068 3406l13 16l-10 9l-13-16zM2117 3463l13 16l-11 10l-13-17zM2233 3600l14 16l-13 11l-14-16zM2399 3794l14 16l-17 14l-13-16zM2438 3840l14 16l-18 14l-13-16zM2458 3862l13 16l-18 15l-13-16zM2516 3931l14 16l-19 16l-14-16zM2060 3413l13 16l-10 8l-13-16zM2089 3447l23 28l-11 9l-23-28zM2137 3505l13 16l-12 10l-13-16zM2156 3528l13 16l-12 10l-13-16zM2175 3551l14 16l-13 11l-13-17zM2252 3643l23 28l-14 12l-23-28zM2367 3782l13 16l-16 13l-13-16zM2444 3874l13 16l-18 15l-13-16z"/>
<path fill="#adff30" d="M1829 2604l20-17l13 16l-21 16zM1729 2703l21-16l8 11l-22 14zM1653 2768l22-14l4 6l-23 13zM1759 2710l22-13l7 12l-23 12zM1793 2690l39-24l9 15l-41 21zM1571 2825l23-13l0 2l-23 11zM1624 2796l22-12l3 4l-24 11zM1764 2721l23-13l7 13l-24 11zM1607 2808l23-11l2 3l-24 10zM1878 2736l25-7l5 19l-25 6zM1629 2811l25-6l1 5l-25 5zM1571 2825l25-5l1 2l-26 3zM1610 2818l26-5l0 4l-26 3zM1669 2807l26-4l1 7l-26 3zM1768 2790l25-4l2 12l-26 3zM1702 2874l24 9l-3 9l-24-11zM1626 2849l24 10l-3 5l-23-12zM1699 2881l24 10l-4 9l-23-12zM1710 2904l22 13l-5 9l-22-14zM1652 2883l21 15l-4 6l-21-16zM1649 2887l35 29l-5 7l-34-31zM1711 2938l20 16l-7 9l-20-18zM1909 2631l18-11l6 11l-18 10zM1935 2616l18-11l7 12l-19 10zM2007 2590l18-10l7 14l-19 9zM1928 2668l19-9l5 12l-20 8zM1917 2725l20-6l3 11l-21 5zM1927 2772l21-3l1 11l-21 2zM1956 2767l21-3l2 12l-21 3zM1918 2965l20 8l-5 11l-19-8zM2217 3106l19 9l-9 20l-19-9zM2027 3053l18 10l-7 14l-18-10zM2020 3065l19 10l-8 14l-18-10zM1962 3047l18 11l-7 12l-18-11zM2157 3159l32 18l-11 18l-31-19zM1892 3019l18 11l-7 10l-17-12zM2088 3157l18 11l-11 16l-17-12zM2139 3189l17 12l-11 17l-18-12zM1968 3095l17 12l-9 12l-17-12zM2042 3145l17 12l-10 15l-17-13zM2104 3188l17 11l-11 17l-17-13zM1997 3132l17 12l-10 13l-17-13zM2045 3167l30 21l-11 15l-29-22zM2024 3170l17 13l-11 14l-16-13zM2120 3243l16 12l-13 17l-16-13zM1933 3116l16 13l-9 12l-16-14zM2015 3182l16 13l-11 14l-16-14zM2085 3238l16 14l-13 15l-16-13zM2108 3257l17 13l-14 17l-16-14zM1925 3126l16 13l-9 11l-16-14zM1984 3195l27 24l-12 13l-26-25zM2040 3245l27 24l-14 15l-26-25zM2074 3275l26 24l-14 16l-26-25zM1909 3144l26 25l-11 11l-25-26zM2007 3237l15 14l-13 14l-15-15zM2038 3291l26 25l-15 15l-25-26zM2070 3322l15 15l-16 16l-14-16zM2026 3303l14 15l-15 14l-14-16zM2057 3336l14 15l-16 15l-14-16zM1892 3181l14 16l-11 10l-14-16zM1932 3226l14 15l-12 11l-14-16zM1952 3248l15 16l-14 11l-13-16zM2023 3326l14 16l-16 13l-13-16zM1951 3269l13 16l-14 12l-13-16zM2415 2104l39-33l12 15l-39 32zM2505 2048l16-13l13 16l-16 13zM2586 1981l16-13l14 17l-16 13zM2457 2108l16-13l12 15l-16 13zM2478 2110l17-13l12 16l-17 13zM2525 2073l17-13l13 17l-17 12zM2535 2086l17-13l12 17l-16 12zM2473 2153l29-22l11 16l-29 21zM2542 2121l17-13l12 17l-17 12zM2478 2186l42-30l11 16l-42 29zM2573 2138l30-20l12 17l-30 20zM2457 2235l18-12l10 15l-18 12zM2557 2168l18-11l11 17l-18 11zM2632 2119l18-12l12 18l-18 11zM2503 2222l18-11l10 16l-18 11zM2587 2187l18-11l11 17l-18 11zM2613 2171l17-11l11 18l-18 11zM2442 2294l18-11l9 15l-18 11zM2467 2279l31-19l10 15l-32 19zM2519 2247l30-18l10 16l-31 18zM2608 2193l18-11l11 18l-18 10zM2647 2169l18-11l11 19l-18 10zM2565 2237l18-11l10 17l-18 11zM2617 2207l31-19l10 18l-31 18zM2534 2273l18-11l9 17l-18 10zM2560 2258l18-11l9 17l-18 11zM2586 2243l18-11l10 18l-19 10zM2567 2271l19-10l9 17l-19 10zM2593 2256l19-10l9 18l-18 10zM2659 2220l31-17l11 18l-32 17zM2495 2327l19-10l8 16l-19 10zM2535 2306l18-10l9 16l-19 10zM2588 2277l31-17l10 18l-32 16zM2720 2206l31-17l11 20l-32 17zM2582 2298l18-10l9 17l-19 10zM2675 2249l32-16l9 19l-32 16zM2508 2352l32-16l8 16l-32 16zM2655 2277l33-16l9 19l-33 16zM2722 2244l33-17l9 20l-32 16zM2588 2345l19-9l8 17l-19 9zM2615 2332l19-9l9 18l-20 9zM2683 2300l19-9l9 19l-19 9zM2554 2377l19-9l7 17l-19 9zM2628 2360l19-8l8 18l-19 8zM2656 2348l33-14l8 18l-34 14zM2710 2324l33-15l9 20l-33 14zM2703 2345l20-8l8 19l-20 8zM2731 2333l33-14l8 20l-33 14zM2515 2439l20-8l6 17l-20 7zM2557 2422l19-8l7 17l-20 8zM2585 2411l19-8l7 18l-20 7zM2612 2400l20-8l7 18l-20 7zM2779 2332l19-8l9 20l-20 8zM2730 2370l19-8l8 20l-20 7zM2771 2353l34-13l8 21l-34 13zM2315 2544l19-7l5 13l-20 7zM2651 2417l20-7l7 18l-20 7zM2721 2391l34-13l8 20l-34 12zM2614 2447l20-7l6 18l-19 6zM2784 2385l19-7l8 21l-20 7zM2676 2441l48-17l7 20l-49 16zM2747 2416l20-7l6 21l-19 6zM2624 2475l20-7l6 18l-20 6zM2681 2456l34-12l6 20l-34 10zM2766 2427l35-11l6 21l-34 10zM2743 2452l20-6l6 20l-20 6zM2547 2529l20-6l5 17l-20 5zM2699 2515l20-5l5 19l-20 5zM2742 2503l21-5l5 20l-20 5zM2590 2574l21-5l4 18l-21 4zM2721 2542l21-5l4 20l-20 4zM2626 2595l20-5l4 19l-20 4zM2735 2604l20-4l4 20l-21 3zM2800 2625l20-3l4 21l-21 3zM2641 2680l21-3l2 18l-21 3zM2730 2668l21-3l2 20l-20 2zM2760 2664l21-3l2 20l-21 3zM2629 2710l21-2l2 18l-21 2zM2719 2700l36-4l2 20l-36 4zM2616 2726l21-2l1 17l-20 2zM2750 2713l36-4l2 21l-36 3zM2678 2749l21-1l1 19l-21 1zM2708 2747l21-1l1 19l-21 1zM2649 2766l21-1l1 18l-21 1zM2694 2763l36-2l1 20l-36 1zM2575 2797l21-1l1 17l-21 0zM2785 2791l21-1l1 21l-21 0zM2561 2810l21 0l0 17l-21 0zM2636 2809l21 0l0 18l-21 0zM2741 2807l21 0l0 20l-21 0zM2546 2823l21 0l0 17l-21 0zM2591 2823l21 0l0 18l-21-1zM2590 2850l36 1l0 18l-36-1zM2680 2853l21 0l0 19l-21-1zM2710 2853l21 1l0 19l-21 0zM2755 2855l21 0l0 20l-21-1zM2575 2863l21 1l-1 17l-21-1zM2605 2865l21 0l-1 18l-21-1zM2695 2868l36 1l-1 20l-36-2zM2544 2875l21 1l-1 17l-21-1zM2694 2883l21 1l-1 19l-21-1zM2769 2887l21 1l-1 20l-21-1zM2514 2886l21 2l-2 16l-20-2zM2589 2891l35 2l-1 18l-36-3zM2738 2901l21 1l-1 20l-21-2zM2483 2896l21 2l-2 16l-20-2zM2588 2905l21 1l-2 18l-21-2zM2647 2909l21 2l-1 18l-21-2zM2542 2914l21 2l-2 17l-21-3zM2631 2922l36 4l-2 18l-36-4zM2706 2929l21 2l-2 19l-21-2zM2736 2932l36 3l-2 20l-36-4zM2645 2938l21 2l-2 19l-21-3zM2719 2946l21 2l-2 20l-21-3zM2539 2940l21 2l-2 17l-21-3zM2797 3037l21 4l-4 21l-20-4zM2677 3032l20 3l-4 19l-20-4zM2744 3077l21 4l-5 20l-20-5zM2700 3131l20 5l-5 20l-20-6zM2620 3186l20 7l-6 17l-20-7zM2615 3200l20 7l-6 18l-20-8zM2821 3292l20 8l-8 21l-20-8zM2563 3211l20 8l-7 17l-19-8zM2572 3230l33 13l-7 18l-33-14zM2641 3258l34 13l-8 19l-33-14zM2725 3292l33 13l-8 20l-33-14zM2566 3243l20 8l-8 17l-19-8zM2368 3172l19 9l-6 13l-19-8zM2547 3250l19 9l-7 16l-19-8zM2602 3274l19 9l-8 17l-19-8zM2712 3322l19 9l-8 19l-20-9zM2336 3171l33 14l-6 14l-33-16zM2405 3202l19 8l-7 14l-19-9zM2596 3288l19 9l-8 17l-19-9zM2651 3313l19 8l-9 19l-19-9zM2733 3350l19 8l-9 20l-19-9zM2815 3387l19 8l-10 22l-19-9zM2522 3270l32 15l-8 17l-32-16zM2603 3308l19 9l-8 17l-19-9zM2685 3346l19 9l-9 19l-19-9zM2753 3378l19 9l-10 20l-19-9zM2381 3217l32 16l-7 14l-32-16zM2543 3295l32 16l-8 17l-32-16zM2732 3387l19 9l-10 20l-19-10zM2759 3400l19 9l-10 20l-19-9zM2813 3426l19 9l-11 21l-19-9zM2853 3446l19 9l-11 22l-18-10zM2362 3221l19 9l-7 14l-19-10zM2416 3248l18 9l-7 15l-19-10zM2496 3288l19 10l-8 15l-19-9zM2563 3322l19 9l-9 17l-18-10zM2751 3416l19 9l-10 20l-19-9zM2845 3463l19 9l-11 22l-19-10zM2223 3163l19 9l-6 12l-18-10zM2343 3225l19 9l-7 14l-18-10zM2410 3259l32 17l-8 14l-31-17zM2490 3301l19 9l-9 16l-18-10zM2570 3342l32 16l-9 18l-32-17zM2703 3411l19 9l-10 20l-19-10zM2770 3445l18 10l-10 20l-19-10zM2823 3473l19 10l-12 21l-18-10zM2219 3171l18 10l-6 11l-18-10zM2245 3185l19 10l-6 12l-19-10zM2338 3235l18 10l-7 13l-18-10zM2404 3270l19 10l-8 14l-18-10zM2483 3313l19 10l-8 15l-19-10zM2682 3419l18 10l-10 19l-18-11zM2775 3468l18 10l-11 21l-18-11zM2814 3489l19 10l-12 21l-18-10zM2359 3260l18 10l-7 13l-19-10zM2411 3289l19 10l-8 14l-19-10zM2740 3470l18 10l-11 20l-18-11zM2805 3506l19 10l-12 21l-18-10zM2327 3255l18 11l-7 13l-19-11zM2366 3277l18 11l-8 13l-18-10zM2431 3315l18 10l-8 15l-18-11zM2347 3280l44 26l-8 14l-44-27zM2670 3470l18 11l-11 19l-18-11zM2212 3213l18 11l-6 11l-18-11zM2790 3562l31 19l-13 21l-31-19zM2360 3317l18 11l-9 13l-17-11zM2716 3539l18 11l-12 19l-18-11zM2227 3246l18 12l-8 11l-17-12zM2732 3570l43 28l-13 20l-43-28zM2209 3247l17 11l-7 11l-17-12zM2271 3288l43 28l-8 13l-42-29zM2191 3247l17 11l-7 11l-17-12zM2197 3263l18 12l-8 11l-17-12zM2234 3289l18 12l-9 12l-17-13zM2271 3315l30 21l-9 12l-29-21zM2308 3341l17 12l-9 12l-17-12zM2664 3590l30 21l-13 19l-30-21zM2738 3642l17 12l-14 20l-17-13zM2179 3263l30 21l-8 11l-29-22zM2216 3289l17 13l-8 11l-17-13zM2289 3342l17 12l-9 12l-17-12zM2618 3578l17 13l-13 18l-17-13zM2678 3622l18 13l-14 18l-17-12zM2703 3640l17 12l-14 19l-17-12zM2270 3342l17 13l-9 12l-17-13zM2680 3646l17 12l-14 19l-17-13zM2144 3261l16 13l-7 9l-17-13zM2669 3661l17 12l-15 19l-16-13zM2173 3296l29 22l-9 11l-28-23zM2209 3324l40 31l-9 12l-40-32zM2705 3712l16 13l-15 19l-16-13zM2260 3379l17 14l-10 11l-16-13zM2295 3408l17 13l-10 12l-16-13zM2670 3708l16 13l-15 19l-16-13zM2195 3341l16 13l-9 11l-16-14zM2253 3388l16 14l-10 12l-16-14zM2120 3291l16 13l-9 10l-15-14zM2165 3330l28 23l-9 10l-27-24zM2280 3427l16 13l-11 12l-15-14zM2303 3446l27 23l-11 13l-27-24zM2600 3698l27 24l-15 17l-27-23zM2669 3757l16 13l-16 19l-16-14zM2170 3347l16 14l-9 10l-16-14zM2238 3406l27 24l-10 12l-27-24zM2588 3712l16 14l-15 17l-16-14zM2196 3385l16 14l-10 11l-15-14zM2275 3455l26 24l-11 12l-26-24zM2554 3705l16 14l-16 17l-15-14zM2576 3725l16 15l-16 17l-15-15zM2599 3746l15 14l-16 17l-15-14zM2112 3322l15 15l-9 9l-15-15zM2233 3434l16 14l-11 12l-15-15zM2509 3688l15 14l-14 16l-16-14zM2564 3739l16 14l-16 17l-15-15zM2586 3759l16 14l-16 18l-16-15zM2530 3731l15 15l-15 16l-15-15zM2152 3389l15 14l-10 10l-15-14zM2249 3483l15 15l-11 11l-15-15zM2292 3525l15 14l-12 13l-15-15zM2400 3629l15 15l-14 14l-15-15zM2443 3671l15 15l-15 14l-15-15zM2464 3692l15 14l-15 16l-14-15zM2486 3713l15 14l-15 16l-15-15zM2166 3418l15 15l-11 10l-14-15zM2251 3502l15 15l-12 12l-15-15zM2272 3524l15 14l-12 12l-15-15zM2336 3587l15 15l-14 13l-14-15zM2368 3619l14 15l-13 13l-15-15zM2431 3682l15 15l-15 15l-14-15zM2084 3350l15 16l-9 8l-15-15zM2231 3501l15 15l-12 11l-14-15zM2252 3522l15 15l-12 12l-15-15zM2346 3619l15 15l-14 13l-14-15zM2367 3640l15 15l-14 14l-14-16zM2420 3694l15 15l-15 14l-15-15zM2472 3747l15 15l-16 16l-14-16zM2294 3585l15 16l-13 12l-14-15zM2336 3629l14 15l-14 13l-14-15zM2419 3716l14 15l-15 14l-15-15zM2460 3759l14 16l-16 15l-14-16zM2481 3781l14 15l-16 16l-15-16zM2417 3738l14 16l-16 14l-14-16zM2478 3804l14 16l-17 15l-14-16zM2364 3705l35 38l-16 13l-34-38zM2515 3872l14 15l-18 16l-14-15zM2402 3772l14 15l-16 14l-14-16zM2432 3805l14 16l-17 15l-14-16zM2501 3884l14 16l-18 16l-14-16zM2233 3620l23 28l-14 11l-23-28zM2463 3897l13 16l-18 15l-13-16z"/>
<path fill="#76eb00" d="M1809 2642l21-15l10 15l-21 14zM1604 2802l21-14l2 3l-22 13zM1637 2780l21-15l3 5l-22 13zM1719 2723l22-15l6 10l-22 14zM1588 2814l22-13l1 2l-23 12zM1673 2762l22-13l4 7l-22 12zM1844 2658l22-13l10 17l-23 12zM1641 2787l23-12l3 5l-24 11zM1729 2739l23-12l5 11l-23 11zM1800 2702l23-13l7 15l-24 11zM1835 2683l23-13l8 17l-24 11zM1589 2816l23-11l1 3l-24 9zM1625 2799l42-19l2 5l-43 17zM1811 2727l24-10l6 15l-24 8zM1608 2812l25-9l1 4l-25 7zM1646 2799l25-9l2 6l-25 7zM1684 2785l25-8l2 8l-25 7zM1722 2772l24-8l4 10l-25 7zM1760 2759l24-8l4 12l-25 7zM1835 2733l25-9l5 17l-25 7zM1873 2720l43-15l7 20l-45 12zM1782 2764l44-13l4 15l-45 10zM1859 2742l25-8l5 18l-26 6zM1590 2820l26-6l0 3l-26 4zM1649 2807l44-11l2 7l-45 8zM1746 2784l25-6l3 12l-26 4zM1843 2762l26-6l3 17l-25 4zM1590 2821l26-4l0 2l-25 3zM1649 2811l26-5l1 6l-26 3zM1709 2800l25-4l2 9l-26 3zM1906 2766l25-5l3 21l-26 3zM1650 2815l26-3l0 6l-25 2zM1690 2810l26-3l0 8l-26 2zM1789 2798l26-3l1 14l-26 2zM1591 2823l26-1l0 2l-26 1zM1651 2819l25-1l1 6l-26 0zM1750 2813l46-4l1 13l-46 1zM1771 2822l46-1l-1 14l-45-2zM1911 2820l26-1l-1 21l-26-1zM1751 2832l26 1l-1 11l-26-2zM1591 2827l45 4l0 4l-46-7zM1590 2828l26 3l0 3l-26-5zM1689 2842l26 4l-1 8l-26-5zM1668 2850l44 11l-2 8l-44-14zM1609 2837l82 26l-2 6l-81-30zM1742 2879l44 14l-4 12l-43-17zM1571 2825l43 16l-1 2l-42-18zM1646 2853l24 9l-2 5l-24-10zM1739 2888l25 9l-5 11l-24-11zM1607 2841l24 10l-1 4l-24-12zM1717 2889l24 10l-4 10l-23-12zM1772 2913l24 10l-6 13l-23-12zM1750 2914l23 12l-6 11l-23-13zM1692 2894l23 13l-5 8l-22-14zM1727 2914l23 13l-6 10l-22-14zM1762 2934l22 12l-7 12l-22-14zM1604 2846l39 25l-3 4l-37-27zM1672 2890l55 35l-6 9l-53-39zM1773 2954l22 15l-9 12l-21-15zM1571 2825l36 29l-2 2l-34-31zM1633 2875l20 16l-4 5l-19-18zM1680 2913l36 28l-7 8l-34-30zM1727 2950l35 29l-9 11l-34-31zM1675 2918l19 18l-6 6l-18-18zM1764 2998l20 18l-11 11l-19-18zM1642 2895l18 19l-5 5l-18-20zM1638 2899l17 19l-5 5l-17-20zM1664 2929l18 19l-7 6l-17-20zM1718 2988l17 19l-10 10l-16-21zM1970 2484l16-14l10 13l-16 13zM2061 2406l16-14l13 16l-16 13zM1921 2542l16-13l9 11l-17 12zM2037 2447l16-13l12 15l-17 13zM1928 2551l17-13l8 12l-17 12zM2020 2499l17-12l10 14l-17 12zM1873 2629l18-11l6 10l-18 11zM1878 2638l18-11l6 9l-18 11zM1955 2591l18-11l7 12l-18 10zM1896 2638l18-10l6 10l-19 10zM1948 2608l18-10l7 12l-19 10zM2104 2519l18-11l10 17l-19 10zM2156 2489l19-10l10 18l-19 10zM1954 2619l18-10l7 12l-19 9zM2059 2562l19-10l8 15l-19 10zM1959 2629l19-10l6 13l-19 9zM1999 2609l19-10l7 14l-19 9zM2026 2595l19-9l7 14l-19 9zM1896 2671l19-9l5 11l-19 8zM2005 2620l19-9l6 14l-19 8zM2059 2594l19-9l7 16l-19 8zM2051 2614l20-9l6 15l-20 8zM2093 2595l19-8l7 16l-20 8zM1946 2672l19-8l5 12l-20 7zM1973 2660l34-13l5 13l-34 13zM2112 2604l20-8l6 17l-19 7zM1922 2692l47-18l5 12l-49 17zM2062 2639l20-7l5 15l-20 7zM2132 2613l20-7l6 17l-20 7zM2174 2597l20-7l7 19l-20 6zM1925 2702l20-7l4 11l-21 7zM2185 2630l20-7l6 19l-20 6zM1945 2717l21-6l3 12l-21 5zM2118 2667l35-10l5 17l-35 9zM1977 2719l21-5l3 13l-21 4zM2137 2678l20-6l5 18l-21 5zM1965 2733l21-4l2 12l-20 4zM1994 2727l21-5l3 13l-21 4zM2155 2689l35-8l4 19l-35 7zM1923 2753l36-7l2 11l-36 7zM2173 2702l21-4l3 19l-20 3zM1955 2757l20-4l2 13l-20 3zM1984 2752l21-4l2 13l-21 3zM2016 2758l21-3l1 14l-20 3zM1943 2779l21-2l1 12l-21 2zM1973 2776l21-3l1 13l-21 2zM2036 2830l21 1l-1 14l-21-1zM1975 2840l21 1l0 13l-21-1zM1988 2874l21 3l-2 13l-21-3zM1982 2907l21 5l-3 13l-20-5zM1917 2924l35 9l-4 12l-34-11zM1975 2940l34 10l-4 13l-34-11zM2014 2964l20 7l-4 13l-20-6zM1904 2960l20 8l-5 10l-19-8zM1932 2971l20 8l-5 11l-19-8zM1974 2988l47 19l-5 14l-47-21zM2134 3071l20 8l-8 17l-19-9zM2189 3094l33 15l-8 19l-33-15zM2141 3092l19 9l-8 17l-19-9zM2168 3105l20 8l-9 19l-19-10zM2209 3124l19 8l-9 20l-19-9zM1960 3020l18 9l-6 12l-18-10zM2040 3060l19 9l-8 15l-18-10zM2094 3087l32 16l-9 16l-31-17zM2147 3114l19 9l-9 18l-19-10zM2174 3127l19 9l-10 19l-18-10zM1901 3002l19 9l-6 11l-18-11zM1928 3016l18 10l-6 11l-18-11zM1968 3037l18 10l-7 12l-18-10zM2126 3122l19 10l-10 17l-18-11zM2001 3070l31 17l-8 14l-31-18zM2105 3129l31 18l-9 17l-31-19zM2164 3206l18 11l-12 18l-18-12zM1881 3036l17 12l-7 9l-17-12zM1955 3086l18 12l-9 12l-17-12zM1972 3114l17 12l-9 13l-16-13zM1905 3079l17 13l-9 10l-16-13zM1965 3125l16 12l-9 13l-17-14zM1863 3060l16 13l-7 9l-16-14zM1968 3144l17 14l-11 12l-16-14zM2050 3210l40 32l-13 16l-39-34zM2097 3248l16 13l-13 16l-16-14zM1902 3106l16 14l-9 10l-15-14zM1937 3135l16 14l-10 11l-16-14zM1971 3165l16 13l-11 12l-15-14zM2005 3194l16 13l-11 14l-16-14zM1850 3075l38 34l-9 9l-37-35zM1906 3125l16 14l-10 10l-15-14zM1962 3175l15 14l-11 12l-15-14zM2018 3225l15 14l-12 14l-16-15zM1876 3113l37 35l-10 10l-36-36zM2050 3278l16 14l-15 15l-14-15zM2083 3309l15 14l-15 16l-15-15zM1932 3185l25 25l-11 12l-25-26zM1974 3227l26 26l-13 12l-25-26zM1902 3173l14 15l-11 10l-14-16zM2005 3281l25 26l-15 14l-24-27zM1832 3114l14 16l-9 8l-14-16zM1912 3204l14 15l-12 11l-13-16zM1942 3237l14 16l-13 11l-13-16zM1993 3293l24 26l-15 14l-24-28zM1824 3121l14 16l-10 8l-13-16zM1922 3235l13 16l-13 11l-13-16zM2495 2036l16-14l13 16l-16 13zM2574 1968l16-14l15 17l-16 14zM2194 2307l27-23l9 11l-28 23zM2482 2067l28-23l13 16l-28 23zM2528 2029l39-33l14 17l-40 32zM2212 2306l40-32l9 11l-40 32zM2387 2164l28-22l11 14l-28 22zM2539 2042l16-13l13 16l-16 13zM2562 2023l16-13l14 17l-17 13zM2620 1976l17-14l14 18l-17 13zM2360 2203l17-13l10 14l-16 12zM2419 2157l29-23l11 15l-29 22zM2202 2341l17-12l8 11l-17 12zM2249 2305l17-13l9 12l-17 12zM2440 2159l17-13l11 15l-17 13zM2559 2068l17-13l13 17l-17 12zM2196 2359l17-13l8 11l-17 12zM2377 2224l16-12l11 14l-17 12zM2629 2036l17-12l13 18l-17 12zM2239 2341l17-13l8 12l-17 12zM2263 2323l17-12l9 12l-18 12zM2324 2279l17-12l9 13l-17 12zM2360 2253l17-13l10 14l-17 12zM2627 2059l30-21l13 18l-30 21zM2196 2384l17-12l8 11l-18 12zM2257 2341l30-21l8 12l-30 21zM2392 2246l17-12l10 14l-17 12zM2601 2099l17-12l12 18l-17 12zM2650 2065l17-12l13 18l-18 12zM2202 2393l17-12l8 11l-18 11zM2449 2223l18-12l10 15l-18 12zM2623 2104l17-11l12 18l-17 11zM2220 2393l18-12l7 11l-18 12zM2345 2310l17-12l9 13l-17 12zM2470 2227l17-12l10 15l-17 12zM2495 2210l17-12l11 16l-18 12zM2327 2336l17-11l8 13l-17 11zM2427 2271l43-28l10 16l-43 27zM2667 2116l17-11l12 19l-18 11zM2262 2403l18-11l8 12l-19 11zM2403 2318l18-11l9 14l-18 11zM2544 2232l18-11l10 17l-18 10zM2672 2154l18-11l12 19l-19 10zM2500 2275l18-10l10 16l-18 10zM2681 2168l18-10l11 19l-18 10zM2733 2138l18-11l11 20l-18 10zM2378 2362l18-10l8 14l-19 10zM2200 2475l18-10l6 11l-18 10zM2279 2431l18-10l7 12l-19 10zM2528 2293l18-10l9 16l-18 10zM2685 2205l19-10l10 19l-19 10zM2751 2169l18-10l11 20l-18 10zM2257 2455l19-10l6 12l-18 10zM2416 2370l18-10l8 14l-19 10zM2574 2284l19-10l9 18l-19 9zM2488 2346l32-16l9 16l-33 16zM2528 2325l19-9l8 16l-18 10zM2741 2215l19-10l10 20l-19 9zM2388 2413l18-10l7 14l-19 9zM2455 2379l18-10l8 16l-19 9zM2495 2359l18-10l8 16l-19 9zM2562 2325l18-10l9 17l-19 9zM2602 2304l32-16l9 18l-33 16zM2682 2264l19-10l9 20l-19 9zM2218 2509l19-9l5 11l-19 9zM2541 2351l19-9l8 17l-19 9zM2358 2454l19-9l6 13l-19 9zM2493 2390l19-9l8 16l-20 8zM2561 2358l33-16l8 18l-33 14zM2697 2294l19-9l9 19l-19 9zM2765 2262l19-9l9 20l-19 9zM2526 2390l19-9l8 16l-20 9zM2758 2284l19-9l9 21l-19 8zM2532 2402l19-8l7 16l-19 9zM2573 2384l19-8l8 17l-20 8zM2234 2544l19-8l5 11l-20 8zM2758 2322l20-9l8 21l-19 8zM2529 2434l19-8l7 16l-20 8zM2241 2562l19-8l5 12l-20 7zM2311 2534l19-7l5 12l-20 8zM2637 2422l20-7l7 18l-20 7zM2806 2359l19-8l8 21l-20 8zM2332 2549l34-12l5 13l-34 12zM2375 2534l19-8l5 14l-20 7zM2600 2452l20-7l6 17l-20 7zM2699 2416l20-7l7 19l-20 7zM2798 2380l34-12l7 21l-34 12zM2478 2510l19-7l6 16l-20 6zM2619 2461l20-7l6 18l-20 6zM2733 2421l19-7l7 20l-20 7zM2382 2555l20-7l5 14l-21 7zM2482 2522l20-7l5 16l-20 6zM2610 2479l20-6l5 18l-20 6zM2795 2418l20-7l7 21l-20 7zM2314 2589l20-7l4 13l-20 6zM2386 2566l20-6l4 14l-20 6zM2443 2548l20-7l4 15l-20 6zM2629 2489l48-16l6 19l-49 15zM2700 2466l20-6l6 19l-20 6zM2757 2448l20-7l7 21l-21 6zM2346 2590l20-6l4 13l-20 6zM2576 2520l20-6l5 17l-20 6zM2633 2503l20-6l5 18l-20 6zM2320 2608l20-5l4 13l-20 5zM2450 2571l20-6l4 15l-20 6zM2522 2550l20-6l5 17l-21 5zM2680 2505l21-6l5 19l-20 5zM2724 2492l20-6l5 20l-20 5zM2569 2551l20-6l5 18l-21 5zM2670 2523l20-5l5 19l-20 5zM2757 2499l20-5l6 20l-21 5zM2386 2624l21-5l3 14l-20 5zM2503 2596l20-5l4 16l-20 4zM2576 2578l20-5l4 17l-20 5zM2634 2563l20-5l5 19l-21 4zM2692 2549l35-9l5 20l-35 8zM2809 2520l20-5l5 22l-20 4zM2418 2628l35-8l4 15l-36 8zM2608 2584l35-8l4 18l-35 8zM2754 2550l21-4l4 20l-20 4zM2362 2652l21-4l3 14l-21 4zM2567 2608l21-5l3 17l-20 4zM2670 2585l20-4l4 19l-20 4zM2379 2660l21-4l2 14l-20 4zM2688 2597l20-4l4 19l-21 4zM2717 2591l21-4l4 19l-21 4zM2791 2576l20-4l4 21l-20 4zM2470 2654l20-4l3 15l-21 4zM2602 2629l21-4l3 18l-21 3zM2705 2609l21-4l4 20l-21 3zM2794 2592l20-4l4 21l-20 4zM2755 2632l36-6l3 21l-36 5zM2787 2644l36-6l3 21l-36 5zM2537 2694l36-5l2 17l-36 4zM2656 2678l21-3l2 19l-21 2zM2715 2670l21-3l3 20l-21 2zM2568 2703l21-2l2 17l-21 2zM2598 2700l21-3l2 18l-21 2zM2687 2689l21-3l2 19l-20 2zM2732 2683l36-4l2 20l-36 4zM2779 2694l20-2l3 20l-21 2zM2661 2721l21-2l1 19l-21 2zM2706 2717l20-2l2 19l-21 2zM2542 2746l21-2l2 17l-21 1zM2632 2738l21-1l1 18l-21 1zM2677 2735l21-2l1 19l-21 1zM2604 2768l21-1l1 18l-21 1zM2664 2765l21-1l1 18l-21 1zM2575 2783l36-1l0 17l-36 1zM2620 2781l21-1l0 18l-21 1zM2680 2779l21-1l0 19l-21 0zM2740 2776l21-1l0 20l-21 1zM2500 2799l21-1l1 16l-21 0zM2545 2797l36-1l1 17l-36 1zM2620 2795l21 0l1 18l-21 0zM2695 2793l21 0l1 19l-21 0zM2725 2792l36-1l1 20l-36 1zM2770 2791l21-1l1 21l-21 0zM2830 2789l21 0l1 21l-21 1zM2531 2811l21-1l0 17l-21 0zM2576 2810l21 0l0 17l-21 0zM2621 2809l21 0l0 18l-21 0zM2771 2807l36-1l0 21l-36 0zM2486 2823l21 0l0 16l-21 0zM2516 2823l21 0l0 17l-21-1zM2651 2823l21 0l0 19l-21-1zM2681 2823l21 0l0 19l-21 0zM2441 2835l21 0l-1 15l-21 0zM2516 2836l21 0l-1 16l-21 0zM2621 2837l21 0l-1 18l-21 0zM2681 2838l36 0l-1 20l-36-1zM2455 2847l21 1l0 15l-21-1zM2500 2848l21 1l0 16l-21-1zM2620 2851l21 1l0 18l-21-1zM2875 2858l21 0l0 22l-21-1zM2920 2877l21 0l-1 23l-21-1zM2484 2872l21 1l0 16l-21-2zM2634 2880l21 1l-1 18l-21-1zM2499 2885l21 2l-1 16l-21-2zM2618 2893l21 1l-1 18l-21-1zM2693 2898l21 1l-1 19l-21-1zM2753 2902l36 2l-1 21l-36-3zM2798 2905l21 1l-1 21l-21-2zM2617 2907l36 3l-1 18l-36-3zM2782 2920l21 2l-2 20l-21-2zM2482 2909l21 1l-2 16l-21-2zM2527 2913l21 2l-2 16l-21-2zM2601 2920l21 1l-2 18l-20-2zM2676 2926l21 2l-2 19l-21-2zM2721 2930l21 2l-2 20l-21-2zM2796 2937l20 2l-2 21l-21-2zM2825 2940l21 2l-2 21l-21-2zM2704 2944l21 2l-2 20l-21-3zM2764 2950l21 3l-2 20l-21-2zM2524 2938l21 3l-2 16l-21-3zM2554 2942l21 2l-3 17l-20-3zM2584 2945l20 3l-2 17l-21-3zM2628 2950l51 6l-2 19l-51-7zM2552 2955l21 2l-2 17l-21-3zM2745 2980l21 3l-3 20l-20-3zM2521 2963l35 6l-2 16l-36-6zM2639 2981l21 3l-3 18l-20-3zM2684 2987l21 3l-3 19l-21-3zM2563 2983l36 6l-3 17l-36-6zM2637 2995l21 3l-3 18l-21-3zM2771 3016l20 3l-3 21l-21-4zM2664 3014l21 4l-3 18l-21-3zM2632 3023l36 7l-4 18l-35-7zM2674 3046l20 4l-4 19l-20-4zM2747 3061l36 7l-5 20l-35-7zM2806 3073l21 4l-5 21l-20-5zM2880 3088l20 4l-4 22l-21-5zM2671 3061l20 4l-4 19l-20-5zM2715 3070l20 5l-4 19l-21-5zM2638 3069l21 4l-5 19l-20-5zM2682 3079l21 4l-5 19l-20-5zM2814 3109l20 5l-5 21l-20-5zM2649 3087l21 4l-5 19l-20-5zM2722 3104l50 12l-5 20l-50-12zM2795 3122l21 5l-6 21l-20-6zM2660 3105l21 5l-5 18l-20-5zM2733 3123l20 5l-5 20l-20-5zM2762 3131l20 5l-5 20l-20-5zM2714 3135l35 9l-5 20l-35-10zM2874 3178l20 5l-6 23l-20-6zM2595 3117l20 6l-5 17l-20-6zM2638 3129l20 6l-5 18l-20-6zM2667 3138l20 5l-5 19l-20-6zM2753 3162l21 6l-6 20l-20-6zM2706 3165l20 6l-6 19l-20-6zM2806 3195l20 6l-6 21l-20-6zM2630 3158l20 6l-6 18l-20-7zM2715 3185l21 6l-7 19l-20-6zM2744 3194l20 6l-6 20l-20-7zM2773 3203l34 10l-7 21l-34-11zM2873 3234l20 6l-7 23l-20-7zM2597 3162l20 7l-6 17l-20-6zM2668 3186l20 6l-7 19l-19-7zM2867 3251l20 7l-7 22l-20-7zM2564 3166l20 7l-6 17l-20-7zM2691 3210l20 7l-7 19l-19-7zM2847 3264l20 7l-7 21l-20-7zM2630 3205l19 7l-6 18l-20-8zM2757 3250l19 7l-7 21l-20-8zM2799 3266l20 7l-8 21l-20-8zM2568 3198l20 7l-7 17l-19-8zM2596 3208l20 8l-7 17l-19-8zM2709 3250l19 8l-7 19l-20-8zM2835 3298l20 7l-8 21l-20-7zM2863 3308l20 7l-8 22l-20-7zM2367 3135l20 7l-5 14l-20-8zM2465 3173l20 8l-6 15l-20-8zM2647 3244l20 7l-8 19l-19-8zM2675 3255l34 13l-8 19l-33-14zM2745 3282l20 7l-8 20l-20-8zM2801 3303l19 8l-8 21l-19-8zM2335 3134l20 8l-5 13l-20-8zM2461 3185l19 8l-6 15l-20-8zM2544 3219l20 7l-7 17l-20-8zM2614 3247l19 8l-7 17l-20-8zM2669 3269l20 8l-8 19l-19-8zM2711 3286l19 8l-8 19l-19-8zM2753 3303l19 8l-8 20l-20-8zM2822 3331l20 8l-9 21l-20-8zM2906 3365l19 8l-9 22l-20-8zM2456 3197l19 8l-6 15l-20-9zM2525 3226l19 8l-7 16l-19-8zM2663 3284l20 8l-8 19l-20-9zM2815 3348l20 8l-9 21l-20-8zM2884 3377l20 8l-10 22l-19-8zM2926 3394l19 8l-10 23l-19-8zM2354 3166l20 9l-6 13l-19-8zM2409 3190l20 9l-7 14l-19-9zM2437 3202l19 9l-6 15l-19-9zM2506 3232l19 9l-7 16l-19-9zM2533 3244l19 9l-7 16l-19-9zM2685 3310l19 9l-9 19l-19-9zM2795 3358l19 9l-10 20l-19-8zM2891 3400l19 9l-10 22l-19-9zM2918 3412l20 9l-11 22l-19-8zM2227 3121l19 9l-5 11l-19-9zM2282 3146l19 9l-6 12l-19-9zM2377 3189l19 9l-6 14l-19-9zM2473 3232l19 9l-7 15l-19-9zM2514 3251l19 9l-7 16l-19-9zM2760 3362l19 9l-9 20l-19-9zM2801 3381l19 8l-10 21l-19-9zM2856 3405l19 9l-10 22l-19-9zM2236 3136l19 9l-5 12l-19-10zM2304 3168l33 15l-6 13l-33-16zM2386 3206l19 9l-7 14l-19-9zM2807 3403l19 9l-10 21l-19-9zM2219 3139l19 9l-6 11l-19-10zM2246 3152l32 15l-6 12l-32-16zM2286 3171l19 9l-6 13l-19-10zM2367 3211l19 9l-7 13l-18-9zM2462 3256l19 9l-8 16l-19-10zM2745 3394l19 9l-10 20l-18-10zM2799 3420l19 9l-10 21l-19-10zM2880 3459l33 16l-11 22l-33-16zM2214 3147l19 10l-5 11l-19-10zM2295 3187l19 10l-7 12l-18-9zM2510 3295l18 9l-8 16l-18-9zM2764 3423l33 16l-11 20l-32-16zM2858 3470l19 9l-11 22l-19-10zM2263 3183l19 10l-6 12l-19-10zM2317 3211l18 10l-6 12l-19-10zM2370 3238l19 10l-8 14l-18-10zM2477 3294l18 9l-8 16l-18-10zM2796 3459l19 10l-11 21l-19-10zM2876 3500l19 10l-12 22l-18-10zM2272 3200l18 9l-6 12l-19-10zM2854 3511l18 10l-11 21l-19-10zM2201 3173l18 10l-6 11l-18-11zM2227 3187l19 10l-7 12l-18-11zM2280 3216l18 10l-7 12l-18-10zM2319 3238l19 10l-8 13l-18-11zM2753 3477l18 10l-11 20l-18-10zM2818 3513l32 18l-12 21l-31-18zM2275 3226l18 10l-7 12l-18-11zM2340 3263l18 10l-8 13l-18-11zM2822 3537l18 11l-12 21l-18-11zM2230 3212l31 18l-6 12l-31-19zM2308 3258l18 10l-7 13l-18-11zM2437 3334l19 10l-9 15l-18-11zM2851 3577l18 10l-13 22l-17-11zM2238 3229l31 18l-7 12l-31-19zM2366 3306l18 11l-8 14l-18-11zM2739 3531l18 11l-13 20l-17-11zM2828 3586l18 11l-13 21l-18-11zM2207 3222l18 11l-7 11l-18-12zM2793 3587l18 11l-14 20l-17-11zM2202 3230l18 11l-8 11l-17-11zM2265 3270l18 12l-8 12l-18-12zM2315 3303l18 11l-8 13l-18-12zM2820 3627l31 20l-14 21l-30-20zM2259 3280l17 11l-7 12l-18-12zM2734 3594l18 12l-13 19l-18-12zM2203 3255l18 12l-8 11l-17-12zM2253 3289l17 12l-8 11l-17-12zM2761 3635l18 12l-14 20l-17-12zM2811 3668l17 12l-14 21l-17-12zM2185 3255l17 12l-7 10l-17-12zM2247 3298l29 20l-8 12l-29-21zM2726 3633l17 12l-14 20l-17-12zM2750 3650l18 13l-15 20l-17-13zM2824 3702l17 12l-15 21l-17-12zM2265 3324l17 13l-9 11l-17-12zM2727 3657l17 13l-14 19l-17-12zM2764 3684l17 12l-15 20l-17-12zM2161 3262l17 13l-7 10l-17-13zM2222 3307l17 12l-9 11l-16-12zM2776 3717l17 13l-15 20l-17-13zM2215 3315l17 13l-9 11l-16-13zM2251 3343l17 12l-9 12l-17-13zM2705 3688l16 13l-15 19l-16-13zM2836 3788l17 12l-17 22l-16-13zM2244 3352l17 13l-10 11l-16-13zM2717 3721l16 13l-15 20l-17-14zM2752 3749l17 13l-16 20l-17-13zM2225 3351l17 13l-9 12l-17-14zM2716 3746l17 13l-16 19l-16-13zM2739 3790l16 13l-17 20l-16-14zM2762 3809l16 13l-17 20l-16-13zM2131 3300l39 33l-9 10l-38-33zM2211 3368l16 14l-9 11l-16-14zM2703 3786l16 13l-17 20l-15-14zM2794 3863l16 14l-18 21l-15-14zM2215 3387l16 14l-10 11l-15-15zM2656 3771l16 14l-16 18l-16-14zM2163 3355l16 14l-10 10l-15-14zM2241 3425l16 14l-11 12l-15-15zM2610 3756l15 14l-16 17l-15-14zM2655 3796l15 14l-17 18l-15-14zM2156 3363l15 14l-9 10l-15-14zM2211 3414l15 14l-10 11l-15-15zM2653 3820l15 14l-17 19l-15-15zM2116 3340l15 14l-9 10l-15-15zM2170 3391l16 15l-10 10l-15-15zM2203 3422l15 15l-10 11l-15-15zM2268 3484l16 15l-12 11l-15-14zM2290 3505l16 14l-12 12l-15-14zM2628 3824l16 14l-18 18l-15-14zM2206 3441l36 36l-11 11l-36-36zM2572 3796l15 15l-17 17l-15-15zM2615 3838l15 15l-17 17l-15-15zM2208 3460l26 25l-11 12l-26-26zM2261 3513l15 15l-12 12l-14-15zM2474 3725l15 15l-16 15l-14-15zM2623 3873l14 15l-18 18l-14-15zM2168 3436l15 15l-11 11l-14-16zM2200 3469l25 25l-11 11l-25-26zM2336 3608l15 15l-14 13l-14-15zM2441 3715l14 15l-15 15l-14-15zM2483 3758l14 15l-16 16l-14-16zM2504 3780l25 25l-17 16l-24-26zM2567 3844l14 15l-17 17l-15-15zM2077 3357l15 16l-9 8l-15-15zM2212 3499l14 15l-11 11l-15-16zM2243 3531l14 15l-12 12l-14-16zM2377 3672l15 16l-15 13l-14-15zM2439 3738l15 15l-16 15l-14-16zM2470 3770l15 15l-17 16l-14-16zM2491 3792l14 15l-16 16l-14-16zM2553 3857l14 15l-17 17l-15-15zM2111 3408l14 15l-10 10l-14-16zM2131 3430l15 15l-11 10l-14-16zM2172 3474l14 15l-11 11l-14-16zM2264 3573l14 15l-13 12l-14-15zM2345 3661l35 37l-15 14l-34-38zM2447 3771l15 16l-17 14l-14-15zM2488 3815l14 16l-17 15l-14-16zM2539 3870l14 16l-18 16l-14-16zM2083 3393l44 49l-10 9l-44-50zM2284 3616l14 15l-14 12l-13-16zM2304 3638l14 15l-14 13l-14-16zM2435 3783l14 15l-17 15l-13-16zM2525 3883l14 16l-18 16l-14-16zM2115 3445l14 15l-11 10l-13-16zM2165 3501l13 16l-11 10l-14-16zM2273 3625l24 27l-14 12l-23-27zM2481 3862l24 27l-18 15l-23-27zM2541 3929l14 16l-19 17l-14-16zM2185 3543l13 16l-12 11l-13-17zM2204 3566l24 27l-13 11l-23-28zM2311 3691l14 16l-15 13l-13-16zM2360 3748l14 16l-16 14l-13-17zM2497 3908l13 16l-18 16l-14-17zM2127 3494l14 16l-12 9l-13-16zM2166 3540l13 16l-12 10l-14-16zM2281 3678l13 16l-15 12l-13-16zM2511 3955l13 16l-19 16l-13-17z"/>
<path fill="#00fb68" d="M1703 2734l21-14l6 9l-22 13zM1868 2788l26-3l2 19l-26 1zM1889 2854l26 2l-2 20l-26-4zM1769 2854l25 3l-2 13l-25-5zM1904 2892l26 5l-5 20l-25-6zM1861 2899l25 7l-5 18l-24-8zM1781 2891l24 8l-4 13l-25-9zM1809 2929l24 10l-7 15l-23-12zM1805 3013l20 16l-12 14l-20-17zM1615 2865l20 17l-4 4l-18-19zM1809 3038l19 18l-13 14l-18-19zM1798 3077l18 20l-16 13l-16-20zM1856 2581l16-13l7 9l-16 13zM2107 2391l16-13l14 16l-17 13zM1916 2560l17-12l8 11l-17 12zM2044 2482l17-13l11 15l-17 12zM2041 2503l17-12l10 15l-18 11zM1949 2581l17-12l8 12l-18 11zM1987 2586l18-10l8 13l-19 10zM2086 2547l18-9l9 16l-19 9zM2093 2561l19-9l8 16l-19 9zM2052 2657l20-6l5 15l-20 6zM2075 2679l20-6l5 16l-21 5zM2093 2689l21-5l4 16l-21 5zM1982 2741l36-7l2 13l-35 6zM2056 2726l20-4l3 15l-21 4zM2203 2696l20-4l4 19l-21 4zM2235 2708l21-4l3 21l-20 3zM2105 2745l21-3l2 17l-21 2zM2209 2730l20-3l3 20l-21 2zM2268 2721l21-3l3 21l-21 3zM2062 2765l21-3l2 16l-21 2zM2137 2756l35-5l2 19l-36 3zM2123 2772l21-2l1 18l-20 1zM2273 2758l20-2l2 22l-21 1zM2140 2801l21-1l1 18l-21 0zM2185 2799l21-1l1 20l-21 0zM2245 2797l21-1l1 21l-21 0zM2261 2815l21-1l0 22l-21-1zM2140 2847l21 0l-1 18l-21-1zM2185 2848l21 1l-1 19l-21-1zM2245 2851l21 1l-1 20l-21-1zM2139 2862l21 1l-1 18l-21-2zM2108 2874l21 2l-1 17l-21-3zM2168 2880l36 3l-2 19l-36-4zM2196 2899l21 3l-2 19l-21-3zM2226 2903l21 2l-3 20l-21-3zM1971 2883l21 3l-2 13l-20-4zM2001 2888l21 3l-2 13l-21-3zM2179 2914l21 3l-3 19l-21-4zM2206 2935l21 3l-4 20l-20-4zM1997 2910l21 5l-3 13l-21-5zM2174 2946l20 4l-4 19l-20-5zM2126 2952l21 4l-4 18l-21-6zM2166 2978l21 5l-5 18l-20-5zM2191 3002l35 10l-6 19l-35-11zM2200 3023l20 6l-6 19l-20-6zM2243 3036l20 7l-7 20l-19-7zM1968 2961l20 7l-5 13l-19-8zM2195 3039l20 7l-7 20l-20-8zM2223 3049l34 12l-7 20l-34-12zM1950 2967l20 7l-5 12l-19-8zM2062 3009l20 7l-6 15l-19-8zM2119 3030l19 7l-6 17l-20-8zM2147 3040l33 13l-7 18l-33-14zM2099 3039l20 7l-7 17l-20-9zM2155 3061l19 8l-7 18l-20-8zM2024 3023l20 8l-7 14l-19-9zM2087 3101l18 9l-9 16l-18-10zM1845 3058l16 13l-7 9l-16-14zM1832 3072l16 14l-8 9l-15-15zM1819 3086l14 15l-8 8l-14-16zM1805 3098l13 16l-9 8l-13-17zM2175 2308l16-13l9 10l-16 14zM2312 2192l27-24l11 13l-27 23zM2159 2336l28-23l8 10l-28 23zM2332 2192l16-14l11 14l-16 13zM2189 2325l16-13l9 10l-17 13zM2655 1947l17-13l14 19l-16 13zM2136 2379l29-22l7 10l-28 22zM2184 2342l16-13l8 11l-16 13zM2290 2259l16-13l10 12l-17 13zM2325 2231l16-13l11 13l-17 13zM2349 2212l16-13l10 14l-16 13zM2154 2378l29-22l8 10l-29 22zM2357 2223l16-13l11 14l-17 12zM2160 2386l17-13l7 10l-17 13zM2268 2305l17-13l9 13l-17 12zM2341 2251l16-12l10 13l-17 12zM2294 2315l30-21l8 13l-29 20zM2301 2325l17-12l9 13l-18 11zM2377 2304l18-12l8 14l-17 11zM2679 2108l18-11l12 19l-18 11zM2730 2076l17-12l13 20l-18 11zM2307 2390l18-11l7 13l-18 10zM2358 2359l18-10l8 13l-18 10zM2384 2344l18-11l8 14l-18 11zM2286 2414l19-10l7 12l-19 11zM2365 2370l18-11l7 14l-18 10zM2716 2168l18-10l11 19l-18 11zM2318 2409l32-17l7 13l-32 17zM2357 2388l19-11l7 14l-18 10zM2244 2462l19-10l6 12l-19 9zM2324 2419l18-10l7 14l-19 9zM2350 2405l18-10l8 14l-19 9zM2329 2430l18-10l7 13l-19 9zM2240 2487l19-10l6 12l-19 9zM2374 2419l19-9l7 14l-19 9zM2312 2463l19-9l6 13l-19 8zM2770 2239l33-15l10 20l-33 16zM2235 2511l19-9l6 12l-19 8zM2425 2422l19-9l7 14l-19 9zM2335 2477l19-9l6 13l-19 9zM2813 2259l19-9l10 22l-20 8zM2367 2475l47-21l6 14l-47 20zM2450 2439l19-9l6 15l-19 8zM2247 2538l20-8l5 12l-20 7zM2386 2480l33-15l6 15l-34 13zM2293 2530l33-14l5 13l-33 13zM2348 2507l20-8l5 14l-19 8zM2848 2303l20-8l9 22l-20 8zM2325 2529l19-8l5 13l-19 7zM2450 2479l20-7l6 15l-20 7zM2511 2470l20-7l6 16l-20 7zM2265 2584l20-7l4 12l-20 6zM2407 2534l20-6l4 14l-20 7zM2492 2505l20-7l5 16l-20 6zM2268 2593l34-11l4 12l-34 11zM2300 2593l20-6l4 12l-20 6zM2260 2616l20-6l3 12l-20 6zM2317 2599l20-7l4 13l-20 6zM2360 2585l20-6l4 14l-20 6zM2493 2559l20-6l5 16l-21 5zM2810 2467l35-10l6 22l-35 9zM2280 2630l20-5l3 12l-20 5zM2511 2567l20-6l5 17l-21 5zM2282 2640l20-5l3 12l-20 5zM2456 2595l21-6l3 16l-20 4zM2558 2568l20-5l4 17l-20 5zM2357 2631l21-5l3 14l-21 5zM2345 2645l21-4l3 13l-21 4zM2462 2618l21-5l3 16l-21 4zM2304 2665l20-4l3 12l-21 5zM2309 2695l36-7l2 13l-36 6zM2354 2687l20-4l3 14l-21 3zM2826 2603l21-3l4 21l-21 4zM2281 2709l21-3l2 12l-21 3zM2311 2704l21-3l2 13l-21 3zM2341 2700l20-4l2 14l-20 3zM2429 2685l21-3l2 15l-20 3zM2298 2716l20-3l2 13l-21 3zM2387 2703l20-3l2 14l-20 3zM2416 2699l36-6l2 15l-36 5zM2284 2728l21-3l2 13l-21 2zM2315 2734l21-2l1 12l-20 3zM2881 2665l21-2l2 22l-21 2zM2331 2742l21-2l1 13l-20 2zM2465 2728l21-2l2 15l-21 2zM2317 2754l21-2l1 13l-21 1zM2407 2745l21-2l1 15l-21 1zM2452 2741l21-2l1 15l-21 2zM2541 2733l21-2l2 16l-21 2zM2438 2754l36-3l1 15l-36 3zM2289 2776l21-2l1 13l-21 1zM2394 2769l21-2l1 14l-21 2zM2439 2766l21-2l1 15l-21 1zM2320 2784l21-1l0 13l-21 0zM2424 2778l21-1l1 15l-21 0zM2454 2776l21-1l1 15l-21 1zM2874 2753l21-1l1 22l-21 1zM2410 2790l36-2l0 15l-36 1zM2485 2787l36-2l0 16l-36 1zM2305 2804l21 0l1 12l-21 0zM2920 2787l21-1l1 23l-21 0zM2381 2813l21-1l0 14l-21 0zM2441 2812l21 0l0 15l-21 0zM2936 2805l21-1l0 24l-21-1zM2381 2824l36 0l0 14l-36-1zM2741 2823l21 0l0 20l-21 0zM2306 2833l21 1l-1 12l-21 0zM2351 2834l21 0l-1 14l-21-1zM2921 2841l21 0l-1 23l-21-1zM2965 2860l21 0l-1 24l-21-1zM2365 2855l21 1l-1 14l-21-1zM2890 2875l21 1l-1 23l-21-1zM2290 2862l21 1l-1 13l-21-2zM2320 2864l21 1l-1 13l-21-2zM2425 2869l21 1l-1 15l-21-2zM2394 2878l21 2l-1 14l-21-2zM2303 2882l21 2l-1 13l-21-2zM2423 2892l21 1l-1 15l-21-2zM2887 2928l21 2l-2 22l-21-2zM2917 2930l20 2l-1 23l-21-2zM2961 2934l21 2l-2 23l-21-2zM2392 2900l21 2l-1 14l-21-2zM2422 2903l21 2l-1 15l-21-3zM3035 2959l20 2l-2 25l-21-2zM2317 2903l35 4l-1 13l-36-4zM2391 2911l36 4l-2 14l-35-4zM2839 2958l21 3l-3 21l-21-2zM2883 2963l36 4l-2 22l-36-4zM2435 2927l20 3l-1 15l-21-3zM2777 2968l21 3l-3 20l-20-3zM2822 2973l36 5l-3 21l-36-5zM2299 2921l21 3l-2 13l-20-4zM2969 3010l20 3l-3 23l-21-3zM2328 2935l20 3l-2 13l-20-3zM2282 2938l20 4l-2 12l-20-4zM2326 2945l21 4l-2 13l-21-4zM2385 2955l21 3l-2 14l-21-4zM2504 2974l21 3l-3 16l-21-4zM2933 3042l21 3l-4 24l-20-4zM2280 2948l21 3l-2 12l-21-3zM2428 2973l21 4l-3 15l-21-4zM2561 2996l21 4l-3 17l-21-4zM2278 2957l21 4l-2 12l-21-4zM2382 2976l20 4l-2 14l-21-4zM2426 2985l21 4l-3 14l-21-4zM2470 2993l21 4l-3 15l-21-4zM2573 3012l21 4l-3 17l-21-4zM2409 2993l35 7l-3 15l-35-8zM2541 3020l36 7l-4 17l-35-8zM2289 2979l21 4l-3 13l-20-5zM2421 3007l21 5l-3 14l-21-4zM2524 3029l21 5l-4 16l-21-5zM2568 3039l21 4l-4 17l-21-4zM2920 3114l21 5l-6 23l-20-5zM2964 3124l21 4l-6 24l-20-5zM2916 3132l20 5l-5 23l-20-5zM2285 2998l20 5l-3 12l-20-5zM2474 3044l21 5l-4 16l-20-6zM2504 3051l20 5l-4 16l-20-5zM2533 3058l20 5l-4 17l-20-6zM2562 3065l20 5l-4 17l-20-5zM2635 3083l20 5l-4 18l-21-5zM2824 3129l21 5l-6 21l-20-5zM2413 3041l21 5l-4 15l-20-6zM2457 3052l20 6l-4 15l-20-6zM2631 3097l21 5l-5 18l-20-5zM2277 3026l35 10l-4 13l-34-11zM2393 3059l20 6l-4 14l-20-6zM2537 3101l35 9l-5 17l-35-10zM2318 3049l20 6l-4 13l-20-7zM2375 3066l20 6l-4 14l-20-7zM2778 3187l20 6l-7 20l-20-6zM2329 3063l34 11l-4 13l-34-11zM2386 3081l20 6l-4 14l-20-6zM2515 3122l20 6l-5 16l-20-7zM2830 3221l20 6l-7 21l-20-6zM2944 3257l20 6l-7 23l-20-6zM2973 3266l20 6l-8 24l-20-7zM3030 3284l20 6l-8 25l-20-7zM2283 3059l20 7l-4 12l-20-7zM2326 3073l20 7l-5 13l-19-7zM2454 3115l20 7l-5 15l-20-7zM2540 3144l20 6l-6 17l-20-7zM2568 3153l20 7l-6 17l-20-7zM2939 3275l34 11l-8 24l-34-12zM2266 3064l20 7l-5 12l-19-8zM2365 3098l20 7l-5 13l-20-7zM2762 3234l20 7l-7 21l-20-8zM2975 3308l48 16l-8 25l-48-18zM3060 3337l20 7l-9 25l-20-7zM2305 3088l20 7l-5 13l-20-7zM2531 3169l20 7l-7 17l-19-8zM2259 3082l20 8l-5 11l-19-7zM2287 3093l20 7l-5 12l-19-7zM2358 3119l19 7l-5 14l-20-8zM2386 3129l19 8l-5 14l-20-8zM2976 3350l19 7l-9 24l-19-7zM3088 3392l34 13l-10 26l-34-13zM2270 3097l19 7l-5 12l-19-8zM2326 3119l19 7l-5 13l-19-8zM2354 3129l19 8l-5 13l-20-7zM2419 3168l19 8l-6 14l-19-8zM2295 3152l19 9l-5 12l-19-9zM2992 3467l19 9l-11 24l-19-9zM3047 3492l19 8l-11 25l-19-9zM2984 3486l19 9l-12 24l-19-9zM2903 3514l19 10l-12 22l-19-9zM2996 3562l19 10l-13 24l-18-10zM2907 3539l18 10l-12 23l-18-11zM2890 3599l18 11l-13 22l-18-11zM2895 3650l17 11l-14 23l-17-12zM2883 3668l18 11l-14 22l-18-11zM2861 3702l17 12l-15 22l-17-12zM2837 3762l16 12l-16 22l-16-13zM2848 3797l17 13l-17 21l-17-13zM2817 3883l16 13l-18 21l-16-13zM2716 3906l15 15l-19 19l-15-14zM2712 3932l15 15l-19 19l-15-15zM2733 3953l15 15l-19 19l-15-15zM2615 3922l25 26l-19 18l-25-26zM2590 3925l14 16l-19 17l-14-16zM2063 3371l14 15l-9 9l-14-16zM2595 3961l15 16l-20 17l-14-16zM2056 3377l14 16l-10 8l-14-16zM2580 3974l14 16l-20 17l-13-16zM2136 3486l14 16l-12 10l-13-16zM2545 3965l14 16l-20 16l-13-16zM2041 3390l23 27l-10 9l-23-28z"/>
<path fill="#fff000" d="M1769 2689l21-14l8 12l-22 14zM1992 3163l16 13l-11 13l-16-13zM2537 2064l17-13l12 17l-16 12zM2530 2130l17-13l12 17l-17 12zM2524 2172l17-12l11 17l-17 11zM2532 2185l18-12l11 17l-18 11zM2553 2190l31-20l10 17l-30 19zM2604 2157l17-11l12 17l-18 12zM2596 2200l17-10l11 17l-18 11zM2683 2336l33-15l8 20l-33 14zM2696 2366l19-8l8 19l-20 8zM2632 2408l19-8l7 19l-19 7zM2665 2412l20-8l7 19l-20 7zM2762 2680l21-3l2 20l-21 3zM2752 2728l21-1l1 20l-21 1zM2545 2849l21 1l0 17l-21-1zM2545 2862l21 1l-1 17l-21-1zM2643 3292l20 9l-9 18l-19-9zM2582 3282l19 8l-8 18l-19-9zM2658 3333l19 9l-9 19l-19-9zM2664 3354l19 9l-9 19l-19-9zM2550 3315l19 9l-9 17l-19-10zM2590 3335l32 16l-9 18l-32-17zM2517 3314l18 10l-8 16l-19-10zM2663 3390l19 10l-10 18l-19-10zM2510 3327l18 10l-8 16l-19-10zM2536 3341l19 10l-9 16l-18-10zM2616 3383l32 17l-10 18l-32-17zM2451 3310l31 18l-8 15l-32-18zM2674 3433l18 11l-10 18l-18-10zM2483 3344l18 11l-9 15l-18-11zM2627 3426l18 10l-11 18l-18-10zM2679 3456l18 10l-11 19l-18-11zM2450 3341l18 11l-9 15l-17-11zM2476 3356l18 11l-9 15l-18-11zM2774 3531l18 11l-12 20l-18-11zM2431 3345l18 11l-10 15l-17-12zM2636 3469l31 19l-12 18l-30-19zM2687 3500l18 11l-11 19l-18-11zM2322 3293l18 11l-9 13l-17-11zM2385 3333l18 11l-9 14l-17-12zM2424 3356l17 12l-9 14l-17-11zM2704 3531l17 11l-12 19l-17-11zM2328 3311l18 11l-9 13l-17-11zM2429 3376l30 19l-9 15l-30-20zM2618 3497l18 12l-12 18l-17-12zM2221 3255l18 11l-8 12l-17-12zM2372 3354l17 12l-9 13l-17-11zM2228 3272l17 12l-7 11l-18-12zM2340 3348l17 12l-9 13l-17-12zM2402 3390l17 12l-10 14l-17-12zM2625 3542l17 12l-12 18l-17-12zM2687 3584l17 12l-13 19l-17-12zM2320 3349l30 21l-9 13l-30-21zM2406 3410l18 12l-11 14l-17-12zM2325 3368l18 12l-10 13l-17-12zM2654 3605l17 12l-13 18l-17-12zM2354 3405l17 12l-10 14l-17-13zM2378 3423l17 12l-10 14l-17-13zM2595 3583l41 31l-13 18l-40-31zM2656 3628l17 13l-14 18l-17-13zM2526 3552l16 12l-12 17l-17-13zM2585 3597l17 13l-13 17l-17-13zM2609 3615l29 22l-14 18l-28-23zM2657 3652l17 12l-15 19l-16-13zM2268 3370l16 13l-9 12l-17-13zM2303 3398l29 22l-11 13l-28-23zM2539 3583l29 22l-13 17l-28-23zM2646 3666l16 13l-14 18l-16-13zM2669 3684l17 13l-15 19l-16-13zM2331 3436l16 13l-11 13l-16-14zM2354 3455l16 13l-11 13l-16-13zM2529 3596l17 13l-14 16l-16-13zM2611 3661l16 13l-14 18l-16-13zM2276 3408l16 13l-10 12l-16-14zM2299 3427l16 13l-10 12l-16-13zM2542 3627l16 14l-14 16l-16-13zM2565 3646l16 14l-14 17l-16-14zM2600 3675l16 13l-15 18l-16-14zM2635 3704l16 13l-15 18l-16-14zM2268 3417l16 14l-10 11l-16-13zM2543 3650l16 13l-14 17l-16-14zM2260 3426l16 14l-10 12l-16-14zM2441 3584l16 14l-13 14l-16-14zM2532 3663l27 23l-15 17l-27-24zM2342 3515l15 14l-12 13l-15-14zM2375 3545l27 24l-13 14l-26-24zM2420 3585l38 34l-14 15l-37-34zM2443 3627l15 14l-14 15l-15-14zM2258 3474l15 14l-11 12l-15-15zM2323 3536l15 14l-12 13l-15-15zM2378 3587l15 15l-13 13l-15-14zM2454 3659l26 25l-15 15l-25-25zM2357 3587l15 15l-14 13l-14-15zM2254 3603l13 15l-13 12l-14-16z"/>
<path fill="#33e800" d="M1676 2768l23-12l4 7l-24 11zM1870 2664l23-13l9 19l-23 11zM1705 2786l64-18l3 11l-65 15zM1897 2731l25-8l6 20l-26 6zM1707 2793l25-6l2 10l-25 4zM1824 2766l25-6l4 16l-26 5zM1902 2748l25-6l4 21l-25 4zM1689 2804l25-5l2 9l-26 3zM1787 2787l46-8l2 15l-46 5zM1591 2822l25-3l1 3l-26 2zM1670 2813l26-3l0 7l-26 1zM1809 2796l46-6l1 16l-46 3zM1710 2815l26-1l1 9l-26 0zM1651 2824l26-1l0 6l-26-1zM1851 2821l26-1l-1 18l-26-1zM1891 2820l26 0l-1 19l-26-1zM1591 2826l26 1l-1 2l-25-2zM1631 2827l26 1l-1 5l-26-3zM1771 2832l26 1l-1 13l-26-2zM1831 2835l25 1l-1 16l-25-3zM1710 2838l26 2l-1 9l-26-4zM1810 2847l46 4l-2 16l-46-7zM1869 2852l26 3l-2 18l-26-4zM1909 2856l26 2l-2 21l-26-4zM1630 2833l26 4l-1 5l-26-5zM1709 2845l46 7l-2 10l-45-9zM1907 2874l26 4l-4 20l-25-5zM1747 2860l26 5l-3 12l-25-7zM1865 2884l25 5l-4 18l-25-7zM1745 2870l25 6l-3 11l-25-8zM1823 2889l25 7l-5 16l-25-8zM1819 2903l25 8l-6 15l-24-9zM1683 2867l24 9l-3 8l-23-11zM1852 2930l24 9l-7 17l-24-10zM1889 2944l25 9l-8 19l-24-10zM1662 2865l24 10l-3 7l-23-12zM1571 2825l41 20l-1 3l-40-23zM1660 2870l23 11l-3 7l-23-13zM1839 2959l23 12l-9 16l-22-13zM1588 2836l21 14l-1 2l-21-15zM1840 2998l22 14l-11 16l-21-15zM1571 2825l37 27l-2 2l-35-29zM1619 2860l21 15l-2 4l-21-16zM1765 2965l22 15l-10 12l-20-16zM1830 3012l38 27l-13 16l-36-29zM1773 2988l21 16l-11 12l-19-17zM1630 2878l20 18l-4 4l-19-19zM1824 3052l19 17l-14 15l-18-18zM1585 2839l32 32l-2 3l-31-34zM1812 3065l18 18l-15 14l-17-19zM1571 2825l17 19l-1 1l-16-20zM1624 2884l18 20l-5 3l-16-20zM1785 3062l17 20l-14 12l-17-20zM1993 2464l16-13l11 13l-17 13zM2073 2396l16-13l13 15l-17 13zM1874 2579l16-13l8 10l-17 13zM2014 2466l16-13l11 14l-17 13zM2060 2429l17-14l12 16l-17 12zM1856 2606l17-13l7 9l-17 13zM1880 2588l17-13l7 10l-17 12zM1999 2496l29-21l10 13l-29 21zM2047 2460l17-13l11 15l-17 12zM2107 2414l16-12l13 16l-17 13zM1899 2587l17-12l7 10l-17 12zM1959 2543l17-12l9 12l-17 12zM2032 2490l17-12l11 15l-18 11zM2093 2446l17-12l12 16l-18 12zM1905 2596l17-12l7 11l-17 11zM2115 2452l18-12l11 17l-18 11zM2140 2435l30-20l12 18l-30 19zM1961 2572l30-19l8 13l-30 18zM2087 2491l18-11l10 16l-18 11zM2125 2467l43-28l11 18l-43 26zM1904 2622l18-11l6 11l-18 10zM1981 2575l18-11l7 13l-18 11zM2006 2559l18-10l8 13l-18 11zM2096 2505l18-11l10 16l-19 11zM2134 2481l18-11l11 18l-19 11zM2160 2466l18-11l11 18l-18 11zM2013 2571l18-10l8 14l-18 10zM2130 2504l18-10l10 17l-18 10zM1888 2654l31-17l6 11l-32 16zM1941 2626l18-10l6 12l-19 9zM2046 2569l19-10l7 15l-18 9zM2139 2519l18-10l9 18l-18 9zM2133 2541l32-16l9 18l-33 15zM2187 2514l18-9l10 19l-19 9zM1978 2633l19-9l6 13l-20 8zM2175 2559l19-8l8 19l-19 8zM2001 2649l20-8l5 14l-20 7zM2029 2638l19-8l6 14l-20 8zM2126 2598l20-8l6 18l-19 7zM2154 2587l33-14l8 19l-34 12zM2210 2564l33-14l8 21l-34 12zM1964 2677l19-8l5 13l-20 6zM2020 2655l19-7l6 14l-20 7zM2216 2581l20-7l7 20l-20 7zM2123 2633l20-7l6 17l-20 7zM2208 2603l20-7l7 20l-20 7zM2042 2675l20-6l5 14l-20 6zM2171 2634l20-6l6 18l-20 6zM1989 2704l20-6l3 14l-20 5zM2006 2712l21-6l3 14l-21 5zM2024 2720l20-5l3 14l-20 4zM2141 2693l20-5l4 18l-21 4zM2085 2720l21-4l3 16l-21 3zM2129 2711l35-7l4 18l-36 6zM2217 2693l21-4l4 20l-21 3zM2247 2687l20-4l4 21l-20 3zM1940 2760l21-4l2 12l-21 3zM2029 2744l20-4l3 15l-21 3zM2073 2736l21-3l2 15l-21 3zM2147 2723l20-3l3 18l-20 3zM2238 2725l21-3l3 21l-21 2zM2122 2758l20-3l2 17l-21 2zM2108 2774l21-2l2 17l-21 1zM2153 2769l21-1l1 18l-21 1zM1975 2797l21-1l0 13l-21 0zM2005 2795l21-1l0 13l-21 1zM2094 2789l21-1l1 16l-21 1zM1975 2808l21-1l1 13l-21 0zM2005 2807l21-1l1 14l-21 0zM1946 2819l21 0l0 12l-21 0zM2021 2818l21 0l0 14l-21 0zM1976 2830l21 0l-1 13l-21-1zM1945 2849l21 2l-1 11l-21-2zM1929 2858l21 2l-1 11l-21-2zM2034 2867l21 2l-2 15l-21-3zM2079 2871l20 2l-1 16l-21-2zM2107 2889l21 2l-2 17l-21-3zM2031 2892l21 3l-3 14l-20-3zM1925 2886l36 6l-2 12l-36-7zM1970 2894l20 3l-2 13l-21-4zM1999 2899l21 4l-3 13l-20-4zM1953 2902l21 4l-3 12l-20-5zM1919 2914l35 9l-3 12l-34-10zM1978 2929l20 5l-4 13l-20-6zM1928 2937l20 7l-3 11l-20-7zM1971 2951l20 6l-4 13l-20-7zM2072 2982l20 7l-6 15l-19-7zM1925 2947l20 7l-4 11l-20-8zM1954 2956l20 7l-5 12l-19-7zM2025 2981l19 7l-5 14l-19-8zM2053 2991l20 6l-6 15l-19-7zM2096 3005l34 12l-6 17l-34-13zM2166 3030l35 11l-7 19l-34-13zM1978 2977l20 7l-5 13l-20-8zM2091 3019l19 8l-6 16l-20-8zM2183 3072l19 8l-8 19l-19-8zM1928 2981l19 8l-5 11l-19-9zM2107 3059l19 8l-7 17l-19-9zM2148 3077l33 14l-8 18l-33-15zM1965 3009l19 9l-6 12l-19-9zM2182 3111l19 9l-9 19l-19-10zM1973 3026l32 16l-6 13l-32-17zM2067 3073l19 10l-8 15l-19-10zM2121 3100l18 10l-8 17l-19-10zM1981 3044l32 17l-8 13l-31-18zM2034 3072l18 10l-8 15l-18-11zM1988 3062l18 11l-8 13l-17-11zM2144 3151l19 11l-11 17l-18-11zM2007 3089l18 11l-8 13l-18-11zM2135 3166l18 11l-11 18l-17-12zM1975 3084l17 11l-8 13l-17-12zM1839 3065l16 14l-8 8l-15-14zM1829 3096l25 27l-9 8l-24-27zM1872 3159l14 16l-11 9l-13-16zM2013 3315l14 15l-16 14l-13-16zM1892 3201l14 16l-12 10l-13-16zM1912 3224l13 16l-12 10l-13-16zM2029 3361l13 16l-16 14l-14-17zM2118 2357l16-13l8 9l-16 13zM2152 2328l16-14l9 10l-16 14zM2209 2279l16-13l10 11l-16 13zM2232 2260l16-14l10 12l-16 13zM2346 2162l16-13l12 13l-17 13zM2506 2026l16-14l13 16l-16 14zM2540 1997l16-14l14 17l-16 13zM2609 1938l16-13l15 17l-17 14zM2124 2365l17-14l7 10l-16 13zM2228 2278l16-13l10 11l-17 13zM2355 2173l16-14l11 14l-16 13zM2413 2125l16-14l12 15l-17 13zM2609 1962l16-14l15 18l-17 13zM2632 1943l16-14l15 18l-16 14zM2165 2344l28-23l9 11l-29 22zM2270 2259l40-32l10 12l-40 32zM2375 2174l17-13l11 13l-17 13zM2585 2004l17-13l13 17l-16 13zM2172 2352l16-13l8 10l-16 13zM2178 2360l17-13l8 10l-17 13zM2261 2296l17-13l9 12l-17 12zM2285 2278l17-13l9 12l-17 13zM2369 2214l40-31l11 14l-41 30zM2642 2004l17-13l14 19l-17 12zM2666 1986l17-13l14 19l-17 12zM2184 2368l17-13l8 11l-17 12zM2208 2350l17-13l8 11l-17 13zM2304 2278l17-12l10 12l-17 13zM2401 2206l29-21l10 14l-29 21zM2689 1991l17-12l14 19l-17 12zM2178 2385l17-13l8 11l-18 12zM2227 2350l17-13l8 12l-17 12zM2397 2226l17-12l10 14l-17 12zM2712 1998l18-13l13 20l-17 12zM2159 2410l17-12l8 10l-18 12zM2184 2393l17-12l7 10l-17 12zM2208 2376l18-12l7 11l-17 11zM2245 2350l17-12l8 11l-17 12zM2405 2237l17-12l10 15l-18 11zM2699 2030l17-12l13 19l-17 12zM2326 2308l17-12l9 13l-18 12zM2425 2240l17-12l10 15l-18 11zM2208 2401l17-12l7 11l-17 12zM2245 2376l30-20l8 12l-30 20zM2370 2293l17-12l9 14l-17 12zM2395 2276l17-11l10 14l-18 11zM2645 2110l17-11l12 18l-17 11zM2682 2085l18-11l12 19l-18 11zM2188 2426l18-12l6 11l-17 11zM2364 2312l18-12l9 14l-18 11zM2390 2296l17-12l9 14l-18 11zM2206 2426l18-11l7 11l-18 11zM2282 2378l18-11l8 12l-18 11zM2320 2354l43-27l9 14l-44 26zM2237 2419l18-11l7 12l-18 10zM2339 2357l31-19l8 13l-31 19zM2698 2138l44-26l11 19l-44 26zM2191 2458l18-10l6 11l-18 10zM2229 2436l18-11l7 11l-18 11zM2268 2413l18-11l7 12l-18 10zM2345 2367l19-11l7 14l-18 10zM2397 2336l18-10l8 14l-18 10zM2707 2153l31-18l11 20l-31 17zM2221 2452l19-11l6 12l-18 10zM2247 2437l19-11l6 12l-18 10zM2338 2385l19-11l7 13l-18 11zM2391 2355l18-11l8 15l-19 10zM2768 2138l18-10l12 21l-19 10zM2213 2468l19-10l6 11l-19 10zM2239 2453l19-10l6 12l-18 9zM2344 2395l19-10l7 13l-19 10zM2397 2366l18-10l8 14l-19 10zM2436 2344l18-10l9 15l-19 9zM2711 2191l32-18l11 20l-32 17zM2205 2483l31-17l6 12l-32 16zM2376 2391l45-24l8 14l-45 24zM2429 2363l19-10l7 14l-18 10zM2249 2471l19-10l6 12l-19 10zM2382 2402l19-10l7 14l-19 9zM2422 2381l32-17l7 15l-32 16zM2227 2494l19-10l5 12l-19 9zM2267 2473l19-9l6 12l-19 9zM2307 2453l32-16l7 13l-33 16zM2428 2392l19-9l7 15l-19 9zM2245 2496l19-9l5 11l-19 9zM2757 2246l19-9l10 20l-19 9zM2811 2220l19-10l10 22l-19 8zM2222 2518l19-9l5 11l-19 9zM2290 2486l32-16l6 13l-33 15zM2344 2460l19-9l6 13l-19 9zM2398 2434l19-8l7 14l-19 8zM2453 2409l19-9l7 15l-20 9zM2253 2514l33-15l5 12l-33 14zM2294 2495l19-8l6 12l-19 8zM2362 2464l20-9l6 14l-20 9zM2244 2529l19-8l5 11l-20 8zM2312 2499l19-9l6 13l-19 8zM2408 2457l20-9l6 15l-20 8zM2463 2433l20-9l6 15l-19 9zM2261 2532l20-8l5 12l-20 8zM2303 2515l19-9l5 13l-19 8zM2372 2485l19-8l6 14l-20 8zM2413 2468l20-8l6 14l-20 8zM2441 2456l19-8l6 15l-19 8zM2496 2433l19-8l7 15l-19 8zM2524 2421l19-8l7 16l-20 8zM2814 2298l19-8l9 21l-20 8zM2237 2553l61-25l5 12l-61 24zM2362 2502l34-14l5 14l-33 13zM2404 2485l19-8l6 14l-19 8zM2460 2462l19-8l6 15l-19 8zM2835 2309l19-8l9 22l-20 7zM2269 2551l19-8l5 12l-20 7zM2381 2507l47-19l6 15l-48 17zM2464 2474l20-8l6 16l-20 7zM2520 2452l34-13l6 16l-34 13zM2244 2571l20-8l4 12l-19 7zM2329 2539l19-8l5 14l-20 7zM2357 2528l19-7l5 13l-20 7zM2441 2496l19-7l6 15l-20 7zM2820 2353l19-7l8 21l-20 8zM2276 2569l20-7l4 12l-20 7zM2318 2554l20-7l4 13l-19 7zM2389 2528l34-12l5 15l-34 11zM2516 2483l19-8l6 17l-20 6zM2558 2467l20-7l6 17l-20 7zM2293 2574l20-7l4 12l-20 7zM2378 2544l20-7l5 14l-20 7zM2435 2525l34-12l5 15l-34 11zM2506 2500l20-7l5 16l-20 7zM2354 2565l20-7l4 13l-20 7zM2439 2536l34-11l5 15l-34 11zM2510 2513l20-7l5 16l-20 6zM2581 2489l34-12l6 18l-34 11zM2371 2570l20-6l5 14l-21 6zM2414 2557l20-7l5 15l-20 6zM2514 2525l20-6l5 16l-20 6zM2571 2507l20-6l6 17l-20 6zM2772 2443l20-6l6 20l-20 7zM2303 2603l20-6l4 12l-21 6zM2375 2581l20-6l4 14l-20 6zM2432 2564l20-6l4 14l-20 6zM2532 2533l21-6l4 17l-20 5zM2590 2516l20-6l5 17l-20 6zM2791 2455l20-6l6 21l-20 6zM2335 2604l34-10l4 14l-35 9zM2421 2579l20-5l4 14l-20 6zM2666 2509l20-6l5 19l-20 5zM2410 2595l20-6l4 15l-21 5zM2439 2587l34-10l4 15l-34 9zM2554 2555l21-6l4 17l-20 6zM2771 2495l21-5l5 20l-20 6zM2268 2644l20-6l3 12l-21 5zM2297 2636l20-5l3 12l-20 5zM2384 2613l20-5l4 14l-21 5zM2543 2572l21-5l4 16l-21 5zM2572 2564l21-5l4 17l-20 5zM2601 2557l21-5l4 17l-20 5zM2805 2504l20-5l5 21l-20 5zM2299 2646l20-5l3 12l-20 5zM2343 2635l20-5l3 13l-20 5zM2372 2628l20-5l4 14l-21 4zM2416 2617l20-5l3 15l-20 4zM2663 2556l21-5l4 19l-20 5zM2331 2649l20-5l3 13l-21 4zM2389 2635l20-5l4 15l-21 4zM2521 2605l20-5l4 16l-21 5zM2652 2574l20-5l5 19l-21 4zM2333 2659l35-8l3 14l-35 7zM2421 2640l20-5l3 15l-20 4zM2450 2633l21-4l3 15l-21 4zM2523 2617l21-4l3 16l-20 4zM2553 2611l20-5l4 17l-21 4zM2802 2557l35-8l4 21l-35 7zM2335 2669l21-4l2 13l-21 4zM2453 2645l20-4l3 15l-21 4zM2497 2636l20-4l3 16l-20 4zM2526 2630l35-7l4 16l-36 7zM2570 2621l21-4l3 17l-21 4zM2629 2609l21-4l3 18l-21 4zM2732 2588l20-4l4 20l-20 4zM2425 2662l36-6l2 15l-35 6zM2499 2648l21-4l3 16l-21 4zM2809 2590l20-4l4 21l-21 3zM2442 2671l21-4l2 15l-20 4zM2516 2658l21-4l3 17l-21 3zM2620 2640l35-6l3 18l-36 6zM2370 2695l36-6l2 14l-36 5zM2489 2676l50-9l2 17l-50 7zM2681 2644l21-3l3 19l-21 3zM2829 2620l21-3l3 21l-21 3zM2402 2701l20-3l2 14l-21 3zM2461 2692l50-7l3 15l-51 7zM2565 2677l20-3l3 17l-21 2zM2594 2672l21-3l3 18l-21 2zM2359 2718l35-5l2 14l-36 4zM2477 2702l21-3l2 16l-21 2zM2671 2676l35-5l3 19l-36 4zM2464 2716l36-4l2 15l-36 4zM2509 2710l21-2l1 16l-20 2zM2539 2707l20-3l2 17l-21 2zM2821 2672l21-2l3 21l-21 2zM2287 2757l21-2l1 12l-20 2zM2422 2744l21-2l1 15l-21 1zM2482 2738l21-2l1 16l-21 2zM2556 2731l21-2l2 17l-21 2zM2408 2757l36-3l1 14l-36 3zM2617 2739l21-1l1 18l-20 1zM2841 2721l21-2l2 22l-21 2zM2543 2758l21-1l1 17l-21 1zM2573 2756l36-2l1 17l-36 2zM2828 2739l36-2l1 21l-36 2zM2873 2736l21-1l1 22l-21 1zM2409 2779l21-1l1 14l-21 1zM2469 2776l21-2l1 16l-21 1zM2574 2770l21-1l1 17l-21 1zM2619 2767l21-1l1 18l-21 1zM2679 2764l21-1l1 19l-21 1zM2290 2795l21-1l0 13l-21 0zM2515 2786l21-1l0 16l-21 1zM2290 2805l21-1l1 12l-21 1zM2455 2800l21-1l1 16l-21 0zM2485 2799l21-1l1 16l-21 0zM2650 2794l21 0l1 18l-21 1zM2426 2812l21 0l0 15l-21-1zM2441 2823l21 0l0 15l-21 0zM2471 2823l21 0l0 16l-21 0zM2801 2823l21 0l0 21l-21 0zM2861 2823l21 0l0 22l-21-1zM2771 2839l21 0l-1 21l-21-1zM2801 2839l21 1l-1 21l-21-1zM2831 2840l36 0l-1 22l-36-1zM2770 2855l36 1l0 21l-36-2zM2440 2858l21 1l-1 15l-21-1zM2800 2872l21 1l-1 21l-21-1zM2845 2874l21 1l-1 21l-21-1zM2950 2878l21 1l-1 23l-21-1zM2380 2867l21 1l-1 14l-21-2zM2455 2871l35 1l0 16l-36-3zM2499 2873l21 1l-1 16l-20-2zM2799 2888l21 1l-1 21l-21-1zM2453 2894l21 2l-1 15l-21-2zM2932 2932l20 1l-2 23l-20-2zM2928 2968l21 2l-3 23l-20-2zM2286 2910l21 2l-2 13l-21-3zM2598 2947l21 2l-2 18l-21-3zM2688 2958l21 2l-3 19l-21-3zM2867 2979l20 2l-2 22l-21-3zM2896 2982l36 5l-3 22l-35-4zM2941 2988l21 2l-3 23l-21-2zM2760 2982l21 3l-3 20l-20-3zM2550 2968l21 3l-2 17l-21-4zM2758 2998l21 3l-3 20l-21-3zM2847 3011l36 5l-4 22l-35-6zM2474 2969l21 3l-3 16l-20-4zM2546 2994l21 3l-3 17l-21-4zM2857 3047l20 4l-4 22l-20-4zM2930 3060l21 4l-4 23l-21-4zM2529 3004l21 4l-3 16l-21-4zM2588 3015l21 4l-4 17l-20-4zM2780 3051l20 4l-4 20l-20-4zM2809 3056l21 4l-4 21l-21-4zM2839 3062l50 9l-4 22l-50-10zM2483 3008l20 4l-3 16l-21-5zM2835 3079l21 4l-4 21l-21-4zM2865 3085l20 4l-4 22l-21-5zM2924 3096l20 5l-5 23l-20-5zM2803 3089l20 5l-5 21l-20-5zM2847 3099l20 4l-5 22l-20-5zM2876 3105l21 4l-5 23l-21-5zM2536 3045l20 5l-4 17l-20-5zM2609 3062l20 5l-4 18l-20-5zM2755 3096l21 4l-5 20l-21-5zM2858 3119l64 15l-6 22l-64-15zM2547 3062l21 5l-4 16l-21-5zM2577 3069l35 8l-5 18l-35-9zM2679 3094l20 5l-5 18l-20-5zM2868 3140l20 5l-5 22l-20-6zM2530 3071l20 5l-4 17l-21-6zM2646 3101l20 5l-5 18l-20-5zM2777 3134l20 6l-6 20l-20-5zM2820 3146l35 9l-6 21l-34-9zM2907 3168l21 5l-6 23l-21-6zM2555 3092l35 9l-5 17l-34-10zM2642 3115l20 6l-5 18l-20-6zM2758 3147l20 5l-6 20l-20-6zM2801 3158l21 6l-6 21l-20-6zM2830 3166l21 6l-6 21l-21-6zM2888 3182l49 13l-6 23l-49-14zM2609 3121l20 6l-5 18l-20-6zM2653 3133l20 6l-6 19l-20-6zM2725 3154l20 6l-6 19l-20-6zM2591 3131l20 6l-5 17l-20-6zM2792 3191l20 6l-6 21l-20-7zM2835 3204l49 14l-7 22l-48-15zM2415 3090l20 6l-5 15l-20-7zM2558 3135l20 6l-5 17l-20-6zM2587 3144l20 6l-6 18l-20-7zM2887 3239l20 6l-7 22l-20-6zM2916 3248l20 6l-8 23l-19-7zM2297 3064l20 6l-4 13l-20-7zM2397 3097l20 6l-5 14l-20-6zM2582 3158l20 6l-6 18l-19-7zM2768 3219l20 6l-7 21l-20-7zM2408 3113l34 11l-5 15l-34-12zM2720 3220l20 7l-7 19l-20-7zM2833 3259l20 7l-8 21l-19-7zM2862 3269l19 6l-7 22l-20-7zM2890 3278l20 7l-8 23l-20-8zM2932 3293l34 12l-8 23l-34-12zM2418 3129l48 17l-6 15l-47-18zM2827 3276l20 7l-8 21l-19-7zM2856 3286l19 7l-8 22l-19-8zM2470 3161l20 7l-6 16l-20-8zM2512 3177l34 12l-6 17l-34-13zM2554 3193l20 7l-7 17l-19-8zM2891 3319l20 7l-9 22l-19-7zM2948 3340l19 7l-9 23l-19-7zM2242 3086l19 8l-4 11l-20-8zM2312 3113l19 8l-5 12l-19-7zM2340 3124l19 8l-5 13l-20-8zM2451 3167l20 8l-6 15l-20-8zM2493 3184l20 7l-6 16l-20-8zM2773 3293l19 7l-8 21l-19-8zM2815 3309l19 8l-8 21l-19-8zM2899 3342l33 13l-9 22l-33-13zM2349 3140l20 8l-6 13l-19-8zM2502 3202l20 8l-7 15l-19-8zM2878 3354l19 7l-9 23l-19-9zM2920 3370l33 14l-10 23l-33-14zM2961 3387l20 8l-10 24l-19-8zM2373 3162l61 25l-7 15l-60-27zM2442 3191l19 8l-6 15l-19-9zM2327 3154l33 15l-6 13l-33-15zM2382 3178l19 9l-6 14l-19-9zM2905 3406l19 9l-10 22l-19-9zM2432 3214l46 21l-7 15l-46-22zM2264 3149l32 15l-6 12l-32-15zM2359 3194l32 15l-6 13l-33-15zM2413 3219l19 9l-7 14l-19-9zM2481 3251l19 9l-7 15l-19-9zM2313 3184l19 10l-6 12l-19-9zM2255 3167l19 10l-7 11l-18-9zM2282 3181l18 9l-6 12l-19-9zM2912 3496l19 10l-12 23l-19-10zM2277 3190l32 17l-7 12l-31-17zM2861 3559l19 11l-13 22l-18-11zM2192 3189l18 11l-7 11l-18-11zM2187 3198l18 10l-7 11l-18-11zM2264 3244l18 11l-8 12l-17-11zM2309 3285l18 11l-8 13l-18-12zM2858 3651l18 12l-14 22l-18-12zM2861 3728l17 12l-15 22l-17-13zM2167 3254l17 12l-7 11l-17-13zM2752 3699l17 13l-15 20l-17-13zM2728 3706l17 13l-15 19l-16-13zM2811 3795l17 13l-17 21l-16-13zM2155 3295l17 13l-9 10l-16-13zM2740 3765l28 22l-17 20l-27-23zM2126 3283l16 14l-8 9l-16-13zM2726 3805l16 14l-17 19l-16-14zM2749 3825l16 13l-18 20l-15-14zM2688 3826l16 14l-18 18l-15-14zM2710 3846l16 14l-18 19l-15-14zM2123 3333l15 14l-9 9l-15-14zM2672 3865l26 25l-18 19l-26-25zM2130 3368l16 15l-10 9l-15-15zM2593 3817l15 15l-17 17l-14-15zM2647 3869l37 36l-18 18l-36-36zM2559 3809l15 15l-17 17l-15-15zM2633 3884l15 14l-18 18l-15-15zM2105 3372l15 15l-9 9l-15-15zM2137 3404l14 15l-10 10l-14-15zM2493 3769l15 15l-16 16l-15-16zM2535 3812l15 15l-17 16l-15-15zM2150 3433l14 16l-10 9l-15-15zM2532 3835l15 16l-18 16l-14-16zM2060 3353l24 26l-9 9l-24-27zM2091 3386l14 15l-10 9l-14-15zM2162 3463l14 15l-11 11l-14-16zM2223 3529l14 15l-12 12l-14-16zM2244 3551l14 15l-13 12l-14-16zM2498 3826l25 27l-18 15l-24-26zM2580 3914l14 16l-19 17l-14-16zM2174 3493l14 16l-12 10l-14-16zM2194 3515l14 16l-12 11l-14-16zM2274 3604l14 16l-13 12l-14-16zM2485 3838l14 16l-17 15l-14-15zM2606 3972l14 16l-20 17l-14-16zM2570 3963l14 16l-19 17l-14-16zM2146 3498l13 15l-11 10l-14-16zM2370 3760l14 16l-17 13l-13-16zM2487 3897l14 16l-19 15l-13-16zM2070 3424l23 28l-11 9l-23-28zM2194 3574l14 16l-13 11l-13-16zM2290 3690l14 16l-15 12l-13-16zM2329 3736l13 16l-16 13l-13-17zM2348 3759l23 27l-16 14l-23-28zM2386 3805l14 16l-17 14l-13-17zM2405 3828l14 16l-17 14l-14-16zM2434 3863l14 16l-18 14l-13-16z"/>
<path fill="#13fb00" d="M1816 2740l25-9l5 15l-25 8zM1571 2825l25-6l0 1l-25 5zM1748 2794l26-5l1 12l-26 3zM1827 2780l45-8l3 17l-46 5zM1849 2791l25-3l2 17l-26 2zM1888 2786l46-5l2 20l-46 3zM1810 2808l26-1l1 15l-26 0zM1631 2824l26 0l0 4l-26-1zM1711 2823l46-1l0 11l-46-2zM1571 2825l26 1l0 1l-26-2zM1811 2834l26 1l-2 15l-25-2zM1870 2836l46 2l-1 20l-46-5zM1571 2825l26 2l-1 2l-25-4zM1670 2839l25 4l-1 7l-25-5zM1788 2857l26 3l-2 14l-26-5zM1828 2862l26 4l-3 16l-26-5zM1887 2871l26 4l-3 19l-26-5zM1767 2864l25 5l-3 13l-25-7zM1648 2845l25 6l-1 6l-25-8zM1726 2865l25 6l-3 10l-25-8zM1842 2894l25 7l-5 17l-24-8zM1881 2904l44 12l-6 20l-43-14zM1857 2915l63 20l-7 19l-62-23zM1777 2902l24 9l-5 13l-24-11zM1833 2923l24 9l-6 16l-24-10zM1571 2825l22 14l-1 1l-21-15zM1600 2851l20 18l-3 3l-18-19zM1741 2994l32 33l-11 11l-31-34zM1783 3037l19 18l-14 13l-17-20zM1936 2513l16-14l9 12l-16 13zM2107 2367l16-14l14 17l-17 13zM1886 2570l16-13l8 10l-17 13zM1944 2523l16-13l9 12l-16 12zM2025 2457l17-13l11 14l-17 13zM2119 2381l16-13l14 17l-17 13zM2059 2451l29-22l11 16l-29 21zM1887 2596l17-12l7 10l-18 12zM2069 2464l29-21l11 16l-30 20zM1880 2613l17-12l7 10l-18 11zM1992 2537l17-12l9 13l-18 11zM2053 2494l42-29l11 16l-43 28zM1898 2613l18-11l6 10l-18 11zM1986 2556l31-19l8 13l-31 19zM2037 2524l30-20l9 15l-30 19zM2109 2497l18-11l10 17l-19 10zM1974 2594l18-11l7 13l-18 10zM2026 2564l18-11l8 15l-18 10zM2078 2534l18-11l9 16l-18 10zM2143 2497l19-11l9 18l-18 10zM2169 2482l19-11l10 19l-19 10zM1967 2611l18-9l7 12l-19 9zM2066 2575l32-16l8 16l-33 15zM2120 2548l19-10l8 18l-19 8zM2200 2507l19-9l9 19l-19 9zM1991 2626l19-9l6 14l-19 8zM2154 2550l33-16l8 19l-33 14zM2065 2608l19-9l7 16l-20 8zM2043 2632l19-8l6 15l-20 7zM2140 2592l20-8l7 18l-20 8zM1908 2698l19-8l4 11l-20 7zM2188 2592l20-8l7 20l-20 6zM2081 2648l20-7l5 16l-20 6zM2152 2623l20-7l6 18l-21 7zM2237 2594l20-7l6 20l-20 7zM2057 2670l34-11l5 16l-35 10zM2128 2648l20-7l6 18l-21 6zM2200 2625l20-6l6 19l-21 6zM2243 2611l20-6l6 21l-20 6zM2061 2683l20-5l4 15l-20 5zM2147 2658l20-5l5 18l-20 5zM2035 2704l21-5l3 14l-20 5zM1980 2730l20-5l3 13l-20 4zM2009 2723l21-5l3 14l-21 4zM2082 2706l21-4l3 16l-21 4zM2214 2676l20-5l4 20l-20 4zM2243 2669l20-5l5 21l-21 4zM2261 2684l21-4l4 21l-21 4zM2191 2715l36-6l3 20l-36 5zM2250 2705l21-4l3 21l-20 3zM2031 2756l20-3l2 15l-21 2zM2120 2743l20-3l3 17l-21 3zM2179 2734l36-5l2 19l-36 5zM1988 2774l20-3l2 14l-21 2zM2032 2769l21-3l2 15l-21 1zM1974 2787l21-2l1 12l-21 2zM2138 2771l21-2l1 18l-20 1zM2139 2786l21-1l1 17l-21 1zM1945 2809l21-1l1 12l-21 1zM2020 2806l21-1l1 14l-21 1zM1931 2819l21 0l0 12l-21-1zM2036 2818l21 0l0 14l-21 0zM2066 2817l36 0l0 16l-36-1zM2201 2815l21 0l0 20l-21-1zM1961 2829l21 1l-1 12l-21-1zM2111 2831l21 0l-1 17l-21-1zM1930 2839l21 0l0 12l-21-2zM2155 2847l21 1l-1 18l-21-1zM2020 2854l21 1l-1 15l-21-2zM2125 2861l20 1l-1 18l-21-2zM1944 2859l51 5l-1 13l-51-7zM2093 2873l21 2l-1 16l-21-2zM1928 2867l21 3l-1 11l-21-3zM1958 2871l21 2l-2 13l-21-4zM2003 2876l21 3l-2 13l-21-3zM2032 2880l21 2l-2 15l-20-3zM2092 2887l21 2l-2 17l-21-4zM2152 2894l20 2l-2 18l-21-3zM1927 2877l36 5l-2 12l-36-7zM2120 2905l21 3l-3 17l-21-4zM1985 2896l20 4l-2 13l-21-4zM2044 2907l20 3l-2 15l-21-4zM2118 2920l20 3l-3 17l-21-4zM2191 2932l21 4l-3 19l-21-4zM1936 2908l35 8l-3 12l-34-9zM1980 2918l21 5l-4 13l-20-5zM1992 2933l20 5l-3 13l-20-5zM2104 2977l49 14l-5 18l-48-16zM1943 2942l20 6l-4 12l-20-7zM2100 2991l20 7l-5 16l-20-7zM2129 3000l20 7l-6 17l-20-7zM2186 3018l20 7l-6 19l-20-7zM2067 2996l20 6l-6 16l-19-8zM1936 2961l20 8l-5 11l-19-8zM1964 2972l20 7l-5 13l-20-8zM2133 3035l19 7l-6 18l-20-8zM1942 2987l19 8l-5 12l-19-9zM1983 3005l19 8l-5 13l-19-9zM2121 3065l19 8l-8 17l-19-9zM1910 2984l19 9l-5 10l-19-9zM2114 3079l19 9l-8 17l-19-10zM2080 3080l19 9l-8 16l-19-10zM2047 3079l32 17l-9 15l-31-17zM2027 3085l18 10l-8 14l-18-11zM1879 3011l18 11l-6 10l-18-12zM2071 3128l18 10l-9 16l-18-11zM2110 3151l31 19l-11 17l-30-20zM1912 3044l17 11l-7 11l-17-12zM1949 3068l18 11l-8 12l-17-12zM2092 3179l17 12l-11 16l-17-12zM1863 3035l17 12l-7 10l-17-13zM1851 3050l17 14l-8 8l-16-13zM1865 3103l15 14l-9 10l-14-15zM1964 3238l14 15l-13 12l-14-16zM1882 3170l14 16l-11 9l-13-16zM1970 3292l14 16l-15 12l-13-16zM1990 3315l13 16l-15 13l-13-17zM2335 2172l16-14l11 14l-16 13zM2381 2133l16-14l11 14l-16 14zM2403 2114l16-14l12 14l-16 14zM2552 1987l16-14l14 17l-16 14zM2147 2345l17-13l8 10l-17 13zM2182 2317l16-14l9 11l-17 13zM2274 2240l16-14l10 13l-16 13zM2309 2211l16-13l10 12l-16 14zM2367 2163l16-13l11 13l-16 14zM2390 2144l16-13l11 14l-16 13zM2142 2362l16-13l8 10l-16 13zM2247 2278l16-14l10 12l-17 13zM2305 2230l17-13l10 13l-17 13zM2329 2212l16-14l10 13l-16 13zM2352 2193l28-23l11 14l-28 22zM2160 2361l16-13l8 10l-16 13zM2301 2250l17-13l10 12l-17 13zM2407 2166l17-13l11 14l-17 13zM2333 2241l17-13l9 13l-16 13zM2404 2186l17-12l11 14l-17 12zM2619 2022l16-13l14 18l-17 13zM2654 1995l17-13l14 19l-17 12zM2148 2395l17-13l7 10l-17 12zM2244 2323l17-13l9 12l-17 12zM2365 2233l16-12l10 13l-17 13zM2653 2018l29-21l14 19l-29 21zM2190 2376l17-12l8 10l-17 12zM2300 2297l17-13l8 13l-17 12zM2385 2235l17-12l10 14l-18 12zM2676 2024l17-12l14 19l-18 12zM2172 2402l17-13l7 11l-17 12zM2233 2358l17-12l8 12l-17 12zM2356 2272l29-21l9 14l-29 20zM2441 2211l18-12l10 15l-17 12zM2190 2401l17-12l7 11l-17 12zM2227 2376l17-12l8 11l-18 12zM2350 2291l30-20l9 13l-30 20zM2437 2232l17-12l10 15l-17 11zM2462 2215l17-12l10 15l-17 12zM2697 2054l17-12l13 19l-17 12zM2695 2077l30-20l12 20l-30 19zM2201 2418l17-12l7 11l-18 11zM2238 2393l18-11l7 11l-17 12zM2181 2442l17-11l7 10l-18 11zM2308 2362l17-11l8 13l-18 11zM2371 2322l31-19l8 14l-31 19zM2689 2123l18-11l11 19l-18 11zM2740 2091l30-19l13 20l-31 19zM2198 2442l18-11l7 11l-18 11zM2224 2427l18-11l7 11l-18 11zM2301 2380l31-19l7 13l-31 18zM2429 2302l18-11l9 15l-18 10zM2749 2107l18-11l12 20l-18 11zM2333 2374l18-10l7 13l-18 10zM2371 2352l18-11l8 14l-18 10zM2410 2329l31-19l9 15l-32 18zM2273 2422l19-10l6 12l-18 10zM2325 2392l19-10l7 13l-18 10zM2404 2347l18-10l8 14l-19 10zM2469 2310l18-10l9 15l-19 10zM2690 2183l31-18l11 20l-32 17zM2292 2424l18-10l7 12l-19 10zM2231 2469l19-10l6 12l-19 9zM2363 2398l19-10l7 14l-19 9zM2707 2213l18-10l10 20l-18 9zM2289 2450l19-9l6 12l-19 9zM2316 2436l18-9l7 13l-19 9zM2395 2395l32-17l8 15l-33 16zM2754 2208l72-38l11 21l-72 37zM2334 2440l19-10l6 13l-19 10zM2441 2386l19-10l7 15l-19 9zM2816 2196l19-9l10 21l-18 9zM2353 2443l32-16l6 14l-32 15zM2393 2424l32-16l7 14l-32 15zM2514 2364l19-9l8 16l-19 9zM2385 2441l19-9l6 14l-19 9zM2226 2526l19-8l5 11l-19 8zM2281 2501l19-8l5 12l-19 8zM2321 2483l20-9l5 13l-19 9zM2403 2446l20-9l6 14l-19 9zM2472 2414l19-8l7 15l-20 9zM2340 2487l19-9l6 14l-20 8zM2317 2509l19-8l5 13l-19 7zM2427 2462l19-8l6 15l-19 7zM2335 2513l19-8l5 13l-19 8zM2390 2490l20-8l5 15l-19 7zM2432 2473l19-8l6 15l-19 8zM2821 2315l19-8l9 21l-20 8zM2353 2518l19-8l5 14l-19 7zM2371 2523l33-13l5 14l-33 12zM2427 2502l19-8l6 15l-20 7zM2455 2491l19-7l6 15l-20 7zM2483 2481l20-8l5 16l-19 7zM2248 2580l19-8l5 12l-20 7zM2360 2539l20-7l5 13l-20 7zM2431 2513l20-7l5 15l-20 7zM2473 2498l20-7l6 15l-20 7zM2530 2477l19-7l6 17l-20 7zM2279 2579l20-7l4 12l-20 7zM2393 2539l19-6l5 14l-20 6zM2548 2485l20-7l6 17l-20 7zM2368 2560l20-7l4 14l-20 6zM2553 2498l20-6l5 17l-20 6zM2257 2607l20-7l4 12l-21 6zM2285 2598l21-7l3 13l-20 6zM2357 2575l20-6l4 13l-20 6zM2486 2534l34-11l5 16l-35 11zM2786 2439l34-11l7 21l-35 10zM2274 2612l20-6l4 12l-20 5zM2461 2555l20-6l4 15l-20 6zM2489 2546l21-6l4 16l-20 6zM2363 2596l21-6l3 14l-20 5zM2637 2517l20-6l5 18l-20 6zM2796 2471l20-6l6 21l-21 6zM2337 2615l21-6l3 13l-20 5zM2366 2607l21-6l3 14l-20 5zM2424 2591l20-6l4 15l-20 5zM2497 2571l20-6l4 16l-20 5zM2583 2547l21-5l4 17l-20 5zM2829 2480l20-6l6 22l-20 5zM2311 2632l20-5l4 13l-21 5zM2398 2610l21-6l3 15l-20 5zM2485 2587l21-5l4 15l-21 5zM2819 2500l35-9l5 22l-35 8zM2270 2653l20-5l3 12l-20 5zM2328 2639l21-5l3 13l-21 4zM2430 2614l21-6l3 15l-20 5zM2459 2606l50-12l4 16l-50 11zM2301 2655l21-4l3 12l-21 5zM2360 2642l35-8l3 14l-35 7zM2404 2632l20-5l3 14l-20 5zM2477 2615l20-5l4 16l-21 4zM2318 2662l21-4l2 12l-20 5zM2494 2624l21-5l3 16l-21 4zM2276 2681l21-4l2 12l-21 4zM2364 2663l21-4l3 13l-21 4zM2394 2657l35-7l3 14l-36 7zM2776 2579l20-4l5 20l-21 4zM2308 2685l20-4l2 13l-20 3zM2352 2676l20-4l3 14l-21 3zM2396 2668l21-4l2 14l-21 4zM2484 2651l21-4l3 16l-21 4zM2514 2646l20-4l3 16l-20 3zM2646 2620l21-4l3 19l-20 3zM2295 2697l20-3l2 12l-20 3zM2368 2684l21-4l2 14l-20 4zM2427 2674l21-4l3 15l-21 3zM2296 2707l21-4l2 13l-21 3zM2400 2690l21-3l2 14l-21 3zM2459 2680l21-3l2 15l-21 3zM2563 2663l20-3l3 17l-21 3zM2622 2654l21-4l2 18l-20 4zM2313 2714l20-3l2 13l-21 3zM2446 2694l21-3l2 15l-21 3zM2505 2686l36-6l2 17l-35 4zM2609 2670l21-3l3 18l-21 3zM2698 2657l21-3l3 19l-21 3zM2299 2726l21-3l1 13l-20 2zM2492 2700l36-5l2 16l-36 4zM2834 2654l21-3l3 21l-21 3zM2405 2723l20-2l2 14l-21 2zM2449 2718l21-3l2 15l-21 2zM2673 2690l20-2l3 19l-21 2zM2436 2731l21-2l1 15l-21 2zM2555 2718l21-2l1 17l-20 2zM2823 2689l21-2l2 21l-21 2zM2868 2684l21-2l2 22l-21 2zM2302 2755l21-2l1 13l-21 2zM2362 2750l21-2l1 13l-21 2zM2437 2743l21-2l1 14l-21 2zM2571 2730l21-2l2 17l-21 2zM2855 2703l21-2l2 22l-21 1zM2303 2765l21-2l1 13l-21 1zM2557 2744l36-3l2 18l-36 2zM2856 2720l21-2l2 22l-21 2zM2603 2754l21-1l1 18l-21 1zM2290 2785l21-1l0 13l-21 0zM2305 2794l21-1l0 13l-21 1zM2470 2788l21-1l0 15l-21 1zM2545 2784l21 0l0 16l-21 1zM2650 2780l21-1l0 19l-21 0zM2830 2773l21-1l0 21l-21 1zM2860 2771l21-1l0 22l-21 1zM2890 2770l21-1l0 23l-21 0zM2291 2814l21 0l0 12l-21 0zM2726 2808l21-1l0 20l-21 0zM2876 2805l36 0l0 22l-36 0zM2426 2823l21 0l0 15l-21 0zM2456 2823l21 0l0 16l-21-1zM2726 2823l21 0l0 20l-21-1zM2381 2834l21 1l-1 14l-21-1zM2756 2839l21 0l-1 20l-21 0zM2816 2839l21 1l-1 21l-21-1zM2380 2845l21 1l0 14l-21-1zM2470 2847l21 1l0 15l-21-1zM2830 2856l51 2l0 22l-51-2zM2890 2858l36 1l0 23l-36-2zM2935 2859l36 1l-1 23l-35-1zM2425 2858l21 0l-1 15l-21-1zM2815 2873l21 0l-1 22l-21-2zM2875 2875l21 1l-1 22l-21-1zM2935 2877l21 1l-1 23l-21-1zM2440 2870l21 1l-1 15l-21-2zM2844 2891l21 1l-1 22l-21-2zM2874 2892l21 1l-1 23l-21-2zM2813 2906l21 1l-2 21l-20-1zM2888 2911l21 1l-2 22l-21-1zM2933 2913l21 2l-2 23l-21-2zM2812 2922l21 2l-2 21l-21-2zM2303 2892l21 2l-2 13l-21-3zM2810 2939l21 2l-2 21l-21-2zM2840 2941l21 2l-2 22l-21-2zM2900 2947l21 2l-2 23l-21-3zM2960 2952l21 2l-3 24l-20-2zM2451 2917l21 3l-2 15l-21-3zM2913 2966l21 2l-2 23l-21-2zM3018 2977l21 2l-3 25l-21-3zM2464 2931l21 2l-2 16l-20-3zM2792 2970l21 2l-3 21l-20-3zM2926 2986l21 2l-3 23l-21-2zM2686 2972l21 3l-3 19l-21-3zM2805 2988l51 7l-4 21l-50-7zM3013 3016l21 2l-4 25l-20-3zM2461 2955l21 3l-2 15l-21-3zM2877 3015l35 6l-3 22l-36-6zM2459 2967l21 3l-2 15l-21-4zM2489 2971l21 4l-3 15l-20-3zM2519 2976l20 3l-2 17l-21-4zM2652 2997l36 6l-4 19l-35-7zM2815 3023l21 4l-4 21l-21-4zM2874 3033l21 3l-4 22l-20-3zM2502 2986l21 4l-3 16l-21-4zM2620 3007l21 3l-3 18l-21-4zM2650 3012l20 3l-3 19l-21-4zM2812 3040l21 3l-4 22l-21-4zM2901 3055l21 4l-5 22l-20-4zM2544 3007l20 4l-3 16l-20-4zM2750 3045l21 4l-4 20l-21-4zM2898 3073l20 4l-4 22l-21-4zM2306 2972l21 5l-3 12l-21-4zM2380 2987l20 4l-3 14l-20-4zM2512 3014l35 7l-3 16l-35-7zM2850 3082l21 4l-5 22l-20-5zM2539 3033l20 4l-4 17l-20-5zM2612 3048l21 5l-4 17l-21-4zM2905 3111l21 5l-5 22l-21-4zM2565 3052l21 5l-5 17l-20-5zM2667 3075l21 5l-5 19l-20-5zM2741 3092l20 5l-5 20l-20-5zM2931 3136l20 4l-5 23l-21-5zM2897 3147l21 5l-6 22l-20-5zM2617 3093l20 6l-5 17l-20-5zM2791 3138l20 5l-5 21l-20-5zM2878 3161l35 8l-6 23l-35-10zM2541 3088l20 5l-5 17l-20-6zM2613 3107l35 10l-5 18l-35-10zM2364 3051l20 6l-4 14l-20-7zM2768 3166l20 6l-6 21l-20-7zM2840 3187l35 10l-7 22l-34-11zM2941 3216l20 6l-7 23l-20-6zM2763 3182l20 6l-6 21l-20-7zM2821 3200l20 6l-7 21l-20-7zM2921 3230l35 10l-7 23l-35-11zM2358 3072l20 6l-5 14l-20-7zM2472 3108l35 11l-6 16l-34-12zM2658 3167l20 6l-6 19l-20-7zM2730 3189l20 6l-7 20l-19-6zM2930 3252l20 6l-7 24l-20-7zM2369 3087l20 7l-5 14l-20-7zM2411 3101l20 7l-5 14l-19-7zM2554 3148l20 7l-6 17l-20-7zM2839 3242l20 7l-8 21l-19-7zM2910 3265l34 12l-8 23l-34-12zM2280 3069l20 6l-5 13l-19-7zM2351 3093l20 7l-5 13l-20-7zM2379 3103l20 7l-5 14l-20-8zM2819 3254l20 7l-8 21l-19-7zM2248 3068l20 7l-4 12l-20-8zM2503 3159l19 7l-6 16l-19-7zM2559 3179l20 7l-6 17l-20-7zM2728 3240l20 7l-7 20l-20-7zM2926 3311l20 7l-9 23l-19-7zM2343 3114l20 7l-5 13l-20-7zM2442 3150l19 8l-5 15l-20-8zM2829 3314l19 8l-8 21l-20-8zM2857 3325l33 13l-9 22l-33-13zM2266 3106l19 8l-5 12l-19-8zM2377 3151l47 19l-5 14l-47-19zM2947 3382l20 8l-10 23l-19-8zM2235 3104l33 14l-5 11l-33-14zM2276 3121l47 20l-5 12l-47-20zM2470 3202l19 9l-7 15l-19-9zM2231 3112l33 15l-5 11l-33-14zM2299 3142l20 9l-6 12l-19-8zM2932 3418l33 15l-10 23l-33-15zM2323 3164l19 9l-6 13l-19-9zM2391 3195l19 9l-6 14l-19-9zM2938 3442l19 9l-11 23l-19-9zM2916 3454l19 9l-11 23l-19-9zM2943 3467l33 15l-12 24l-32-16zM2241 3161l19 9l-6 12l-18-10zM2308 3194l19 10l-6 12l-19-9zM2925 3503l19 10l-12 23l-18-10zM2303 3204l19 10l-7 12l-18-10zM2930 3528l18 10l-12 23l-18-10zM2874 3567l19 10l-13 22l-18-10zM2869 3634l18 11l-14 22l-18-11zM2907 3658l18 11l-14 23l-18-12zM2909 3684l17 11l-14 23l-18-12zM2836 3685l17 12l-15 22l-17-13zM2788 3751l29 22l-16 21l-29-22zM2763 3784l40 31l-17 21l-39-33zM2773 3818l17 14l-18 20l-16-14zM2783 3854l16 13l-18 21l-16-14zM2699 3836l16 14l-18 19l-15-15zM2722 3856l15 14l-18 19l-15-14zM2844 3966l16 14l-19 21l-16-14zM2642 3810l15 14l-17 18l-15-14zM2730 3891l15 14l-18 20l-15-15zM2639 3834l15 15l-17 18l-15-15zM2661 3855l15 14l-17 19l-15-15zM2120 3358l15 14l-9 10l-15-15zM2163 3399l15 15l-10 10l-15-15zM2583 3807l15 14l-17 17l-15-14zM2626 3848l15 15l-18 18l-15-15zM2686 3937l15 14l-19 19l-14-15zM2546 3823l14 15l-17 16l-14-15zM2619 3898l25 25l-18 18l-25-26zM2650 3930l26 26l-20 18l-24-26zM2108 3390l25 26l-10 9l-24-26zM2170 3455l15 15l-11 11l-14-16zM2512 3814l14 15l-17 16l-14-16zM2563 3868l15 15l-18 17l-14-15zM2646 3955l14 15l-19 18l-14-15zM2080 3375l15 15l-10 9l-14-16zM2121 3419l14 15l-10 10l-14-16zM2549 3881l15 16l-19 16l-14-16zM2143 3460l14 15l-11 10l-13-16zM2184 3504l14 16l-12 10l-14-16zM2495 3850l14 15l-18 16l-13-16zM2135 3467l14 16l-11 10l-14-16zM2224 3569l14 15l-13 12l-14-16zM2531 3918l14 16l-19 16l-14-16zM2097 3440l23 28l-10 9l-23-28zM2341 3726l13 16l-15 13l-14-17zM2428 3828l14 16l-17 15l-14-17zM2477 3885l14 16l-18 15l-14-16zM2536 3954l13 16l-19 16l-13-16zM2204 3586l13 16l-13 11l-13-17zM2338 3747l14 16l-16 13l-13-16zM2415 3839l13 17l-17 14l-13-16zM2473 3909l13 16l-19 15l-13-16zM2492 3932l13 16l-19 15l-13-16z"/>
<path fill="#00faa3" d="M1821 2753l24-8l5 16l-26 6zM1884 2888l26 5l-4 19l-26-7zM1794 3025l20 17l-13 14l-19-19zM1584 2840l18 19l-2 2l-17-21zM1772 3048l17 19l-14 12l-16-20zM2084 2386l16-13l13 16l-16 13zM2012 2540l17-12l9 14l-18 11zM2039 2556l18-10l9 15l-19 9zM2065 2541l18-10l9 15l-18 10zM2161 2565l19-8l8 18l-19 8zM2253 2647l20-5l6 21l-21 5zM2188 2699l21-4l3 19l-20 4zM2253 2723l21-3l3 21l-21 3zM2077 2763l21-2l1 15l-20 2zM2181 2750l66-8l2 21l-66 6zM1989 2785l21-2l1 13l-21 2zM2168 2768l21-2l1 19l-21 1zM2198 2765l21-2l1 20l-21 1zM2228 2762l21-2l1 21l-21 1zM2154 2785l21-1l1 18l-21 1zM2244 2779l21-2l1 21l-21 1zM2170 2800l21-1l1 19l-21 0zM2141 2832l51 0l-1 19l-51-2zM2170 2848l21 1l-1 18l-21-1zM2200 2849l21 1l-1 19l-21-1zM1930 2848l21 2l-1 11l-21-2zM2035 2855l21 1l-1 15l-21-2zM2110 2860l21 1l-2 17l-21-2zM2199 2866l51 3l-1 20l-51-4zM2259 2870l21 1l-2 21l-20-2zM2273 2889l21 2l-3 22l-21-3zM1943 2869l21 3l-2 11l-20-3zM2122 2890l36 5l-3 17l-35-5zM2105 2903l21 3l-3 16l-21-3zM2224 2920l21 3l-4 20l-20-3zM2103 2917l20 4l-3 16l-20-4zM2177 2930l20 3l-3 19l-21-4zM2144 2940l21 4l-4 18l-20-5zM2097 2945l21 5l-4 16l-21-5zM2170 2962l21 5l-5 18l-20-5zM2214 2972l21 5l-5 19l-21-5zM2108 2963l21 5l-5 17l-20-6zM2152 2974l20 5l-5 18l-20-6zM2148 2989l49 14l-6 19l-49-15zM2220 3010l20 6l-6 20l-20-7zM2143 3005l34 11l-6 18l-34-12zM2229 3032l20 6l-7 20l-20-7zM1908 2951l20 7l-5 11l-19-8zM2231 3072l20 7l-8 20l-20-8zM1844 3144l13 16l-10 8l-13-16zM1980 3304l14 16l-15 12l-14-16zM2187 2299l16-14l9 11l-17 13zM2344 2182l16-13l11 13l-17 13zM2317 2221l16-13l11 13l-17 13zM2242 2296l17-13l9 12l-17 12zM2396 2175l16-13l11 15l-16 12zM2297 2268l29-21l9 12l-29 22zM2256 2314l17-13l9 12l-17 13zM2732 2052l18-12l13 20l-18 12zM2727 2099l18-11l12 20l-18 11zM2226 2460l19-10l6 12l-19 10zM2284 2441l18-10l7 12l-19 10zM2310 2427l19-10l7 12l-19 10zM2326 2456l18-9l7 13l-19 9zM2797 2226l19-9l10 21l-19 9zM2249 2505l33-15l5 12l-33 14zM2353 2481l20-9l5 14l-19 8zM2330 2503l20-8l5 13l-19 8zM2367 2512l19-7l5 13l-19 8zM2436 2485l20-8l6 15l-20 7zM2343 2580l20-7l4 14l-20 6zM2507 2554l21-5l4 16l-20 5zM2561 2581l21-5l4 17l-21 5zM2479 2627l21-5l3 16l-20 4zM2306 2675l20-4l3 12l-21 4zM2339 2689l21-3l2 13l-21 3zM2844 2618l21-4l3 22l-21 3zM2327 2712l21-3l2 13l-21 3zM2357 2708l21-3l2 13l-21 3zM2329 2722l35-5l2 14l-36 4zM2433 2708l21-3l2 15l-21 3zM2300 2736l21-3l2 13l-21 2zM2345 2730l21-2l1 13l-21 2zM2390 2725l20-3l2 15l-21 2zM2316 2744l21-2l1 13l-20 1zM2361 2739l21-2l1 13l-21 2zM2480 2726l21-2l2 16l-21 1zM2853 2686l21-3l2 22l-21 2zM2332 2752l21-2l1 14l-21 1zM2392 2747l21-2l1 14l-21 2zM2348 2761l36-3l1 14l-36 2zM2319 2774l21-2l1 13l-21 1zM2349 2772l21-2l1 14l-21 1zM2409 2768l36-3l1 15l-36 2zM2335 2783l21-1l0 13l-21 1zM2379 2780l21-1l1 14l-21 1zM2439 2777l21-1l1 15l-21 1zM2350 2792l66-2l0 14l-66 2zM2380 2802l36-1l1 14l-36 1zM2935 2786l21 0l1 23l-21 0zM2456 2812l21-1l0 16l-21 0zM2306 2824l21 0l0 12l-21 0zM2411 2824l21-1l0 15l-21 0zM2291 2833l21 1l-1 12l-21-1zM2321 2834l36 0l-1 13l-36-1zM2396 2835l36 0l-1 14l-36-1zM2290 2843l36 1l0 12l-36-1zM2410 2846l36 1l0 14l-36-1zM2320 2854l21 0l0 13l-21-1zM2395 2856l21 1l-1 14l-21-1zM2860 2874l21 1l-1 22l-21-1zM2365 2866l21 1l-1 14l-21-2zM2410 2868l21 1l-1 15l-21-2zM2904 2894l21 1l-1 23l-21-2zM2409 2879l36 3l-1 14l-36-3zM2454 2882l21 2l-1 15l-21-2zM2903 2912l36 2l-2 23l-36-3zM2408 2891l21 1l-1 15l-21-2zM2842 2925l21 1l-2 22l-21-2zM2318 2893l20 2l-1 13l-21-2zM3064 2962l21 2l-2 25l-21-2zM2346 2907l21 2l-1 13l-21-2zM2421 2914l21 3l-2 14l-21-2zM2973 2972l21 3l-3 24l-21-3zM2330 2915l21 3l-1 13l-21-3zM2390 2922l21 3l-2 14l-21-3zM2956 2989l21 3l-3 23l-21-2zM2344 2927l21 3l-2 13l-21-3zM2374 2931l21 3l-2 14l-21-3zM2448 2941l21 3l-2 15l-21-3zM2879 2998l21 3l-3 22l-21-3zM2818 3007l20 3l-3 21l-21-3zM2907 3020l20 3l-3 22l-21-3zM2371 2952l20 4l-2 13l-21-3zM2310 2953l20 3l-2 13l-21-4zM2337 2968l21 4l-3 13l-20-4zM2396 2979l21 4l-3 14l-20-4zM2559 3009l20 4l-3 17l-21-4zM2957 3084l20 4l-4 23l-21-4zM2438 2999l50 10l-3 15l-50-10zM2304 2982l35 8l-3 13l-35-9zM2392 3001l21 4l-4 15l-20-5zM2979 3127l20 4l-5 24l-21-4zM2273 2985l20 5l-3 12l-20-5zM2433 3022l21 5l-4 14l-20-5zM2521 3042l21 5l-4 16l-21-5zM2784 3102l21 5l-5 21l-20-5zM2283 3008l20 5l-3 12l-21-5zM2341 3023l20 5l-3 13l-21-6zM2515 3067l20 5l-4 17l-20-6zM2573 3082l35 9l-5 18l-34-10zM2280 3017l20 6l-3 12l-20-6zM2309 3025l20 5l-3 13l-20-6zM2396 3048l35 10l-4 14l-35-10zM2512 3080l35 9l-5 17l-35-10zM2599 3103l20 6l-5 17l-20-5zM3004 3213l20 6l-7 24l-20-6zM2407 3064l21 5l-5 15l-20-6zM2289 3040l20 6l-4 13l-20-7zM2347 3057l20 6l-4 14l-20-7zM2418 3079l35 10l-5 15l-34-11zM2462 3092l20 6l-5 15l-20-6zM2505 3105l34 10l-5 16l-34-11zM2401 3086l20 6l-5 14l-20-6zM2544 3131l20 6l-6 17l-20-7zM2987 3270l20 6l-7 24l-20-6zM3059 3293l20 6l-8 25l-20-6zM2383 3092l20 7l-5 14l-20-7zM2497 3130l20 6l-6 16l-19-7zM2252 3059l19 7l-4 11l-19-7zM2308 3078l20 7l-4 13l-20-7zM2393 3108l20 7l-5 14l-19-8zM2450 3127l20 7l-5 15l-20-7zM2277 3078l19 7l-4 12l-20-7zM2488 3154l20 7l-6 16l-19-8zM2545 3174l20 7l-6 17l-20-7zM2884 3296l20 7l-9 22l-19-7zM2940 3316l20 7l-9 24l-19-8zM2983 3331l33 13l-8 24l-34-13zM2273 3087l20 8l-5 12l-19-8zM2456 3156l20 7l-6 15l-20-7zM2920 3329l19 7l-9 23l-19-7zM3004 3361l19 7l-9 24l-19-7zM2284 3102l19 8l-5 12l-19-8zM2955 3363l19 8l-9 23l-20-8zM2294 3117l19 8l-5 13l-19-9zM2322 3129l19 7l-5 13l-20-8zM3009 3429l19 8l-10 25l-19-9zM2979 3461l19 9l-11 23l-19-9zM2929 3461l19 8l-11 23l-19-9zM3006 3543l19 10l-13 24l-18-10zM2916 3521l19 10l-12 23l-19-10zM3036 3583l19 10l-13 25l-19-10zM2933 3553l19 10l-13 23l-18-10zM2968 3645l18 11l-14 23l-18-11zM2920 3666l18 11l-15 23l-17-12zM2958 3690l18 11l-15 23l-18-11zM2898 3728l17 11l-15 23l-18-12zM2861 3780l17 12l-17 22l-17-13zM2884 3824l16 13l-17 22l-16-13zM2750 3799l16 14l-16 20l-16-14zM2770 3958l15 14l-19 21l-15-15zM2701 3922l15 14l-19 19l-15-15zM2665 3915l15 15l-19 19l-14-15zM2046 3366l14 16l-10 8l-13-16zM2039 3372l13 16l-9 8l-14-16zM2526 3942l14 16l-20 16l-13-16zM2146 3517l14 16l-12 10l-13-17z"/>
<path fill="#00fd34" d="M1728 2797l26-4l1 10l-25 3zM1790 2810l26-2l1 14l-26 0zM1850 2806l26-2l1 17l-26 1zM1571 2825l26-1l0 2l-26-1zM1650 2832l26 2l0 6l-26-3zM1790 2845l26 2l-2 14l-26-4zM1808 2859l26 4l-3 15l-25-5zM1785 2932l24 12l-8 13l-22-13zM1821 2950l23 12l-8 15l-22-13zM1588 2835l23 13l-2 2l-22-14zM1640 2864l23 13l-3 5l-22-14zM1831 2973l23 13l-10 16l-21-14zM1782 2977l37 27l-10 13l-36-29zM1571 2825l34 30l-2 2l-32-32zM1797 3051l19 18l-14 14l-18-20zM1597 2855l31 34l-3 3l-29-36zM1867 2572l16-14l8 9l-16 14zM2095 2377l16-14l14 17l-16 13zM1862 2589l17-13l7 9l-17 13zM2002 2476l16-13l11 13l-17 13zM2095 2400l17-13l13 17l-17 12zM1868 2597l17-13l7 10l-17 12zM1952 2533l16-13l9 12l-17 13zM1947 2552l17-12l9 12l-18 11zM2057 2473l17-13l10 16l-17 12zM1954 2562l18-12l8 12l-18 12zM1979 2545l17-12l9 13l-18 12zM2075 2499l17-11l10 16l-18 10zM2100 2483l17-12l11 17l-18 11zM1929 2606l18-11l7 12l-18 10zM1993 2567l18-11l8 14l-18 10zM2057 2528l18-11l9 16l-18 10zM2083 2513l18-11l10 16l-19 10zM2000 2579l18-11l8 14l-19 10zM2033 2576l18-10l8 15l-19 9zM2018 2614l19-9l7 14l-19 8zM2127 2562l19-8l8 17l-19 8zM2106 2589l19-8l8 17l-20 8zM2134 2577l19-8l7 18l-19 7zM2071 2621l19-8l6 16l-19 7zM2098 2609l20-8l6 17l-19 7zM2024 2667l20-7l5 15l-20 6zM2014 2684l34-11l5 15l-35 9zM1974 2708l20-5l4 12l-20 6zM2090 2675l20-6l4 17l-20 5zM2176 2650l20-6l5 19l-20 5zM2021 2708l20-6l4 15l-21 4zM2195 2662l20-5l5 20l-20 4zM2068 2710l20-5l3 16l-20 4zM2184 2683l21-5l4 19l-21 4zM2257 2666l21-5l5 21l-21 4zM1999 2749l21-3l2 13l-21 3zM2043 2741l21-3l2 15l-20 3zM2088 2734l20-4l3 16l-21 3zM2221 2710l20-3l4 20l-21 3zM2265 2702l21-3l3 21l-21 3zM2134 2741l36-6l2 19l-35 4zM2223 2728l21-4l3 21l-21 2zM2003 2772l20-2l2 13l-21 2zM2047 2767l21-3l2 15l-21 2zM2092 2761l21-2l1 16l-20 2zM2166 2752l21-2l2 18l-21 2zM2241 2743l21-2l2 20l-21 2zM2258 2760l21-2l1 21l-21 1zM1990 2796l21-1l0 13l-21 1zM2020 2794l21-1l0 14l-21 1zM2124 2787l21-1l1 17l-21 1zM2259 2778l36-3l1 22l-36 2zM2200 2799l21-1l1 19l-21 1zM2275 2796l21-1l1 22l-21 0zM2096 2817l21 0l0 16l-21 0zM2141 2816l21 0l0 18l-21 0zM2171 2816l21 0l0 18l-21 0zM1931 2829l21 0l-1 12l-21-1zM2021 2830l21 0l-1 15l-21-1zM2186 2832l21 0l-1 19l-21 0zM2231 2833l36 0l-1 21l-36-2zM2050 2843l21 1l0 15l-21-1zM2005 2853l21 1l-1 14l-21-2zM2050 2856l21 1l-2 15l-20-2zM2169 2864l21 1l-1 19l-21-2zM2153 2878l21 2l-2 18l-21-2zM2198 2882l21 2l-2 20l-21-3zM2047 2881l21 3l-2 15l-21-3zM1986 2885l21 3l-2 14l-21-4zM2090 2901l21 3l-3 16l-20-4zM1938 2899l21 4l-3 11l-20-4zM2100 2931l35 7l-3 17l-35-8zM2159 2943l21 4l-4 18l-21-4zM2188 2949l21 4l-4 19l-21-5zM2141 2955l35 8l-4 18l-35-9zM2137 2970l21 6l-5 17l-20-6zM2239 2996l20 6l-5 20l-20-6zM2114 2996l21 6l-6 17l-20-7zM2172 3014l20 6l-6 19l-20-7zM2215 3027l20 7l-7 19l-20-6zM1911 2942l20 7l-4 10l-20-7zM1940 2952l19 6l-4 12l-19-7zM1982 2966l20 7l-5 13l-19-7zM2081 3000l20 7l-6 16l-19-7zM2138 3020l20 7l-6 17l-20-7zM2020 2993l20 7l-6 14l-19-8zM2077 3014l19 7l-6 16l-19-8zM2217 3066l20 8l-8 20l-20-8zM2113 3044l19 8l-7 17l-19-9zM2169 3067l19 8l-8 18l-19-8zM1956 2993l19 8l-6 12l-19-9zM1951 3003l19 9l-6 12l-18-10zM2060 3054l19 9l-8 15l-18-10zM2000 3040l19 9l-7 14l-19-10zM2140 3129l18 10l-10 17l-18-10zM2079 3114l18 11l-9 15l-18-11zM1826 3079l15 15l-9 8l-14-16zM1812 3092l24 27l-9 8l-23-28zM1853 3155l14 16l-11 9l-13-16zM2000 3326l13 16l-16 14l-13-17zM2130 2347l27-23l8 10l-27 23zM2164 2318l16-13l8 10l-16 13zM2597 1948l16-14l15 18l-16 13zM2136 2355l16-13l8 9l-16 13zM2240 2269l16-14l9 12l-16 13zM2320 2202l17-14l10 13l-16 13zM2130 2372l17-13l8 9l-17 13zM2154 2353l16-13l8 10l-16 13zM2259 2268l16-13l10 12l-17 13zM2340 2202l17-13l10 13l-16 13zM2142 2387l17-13l7 10l-16 13zM2321 2250l17-13l9 13l-17 13zM2345 2232l16-13l10 14l-16 12zM2631 2013l16-13l14 18l-17 13zM2329 2260l16-12l10 13l-17 12zM2641 2027l17-12l14 18l-18 12zM2202 2367l17-12l8 11l-17 12zM2251 2332l17-12l8 11l-17 12zM2687 2039l17-12l13 19l-17 12zM2165 2418l17-12l7 10l-17 12zM2239 2367l17-12l8 12l-17 11zM2388 2265l17-11l9 14l-17 11zM2195 2409l18-11l7 11l-18 11zM2270 2359l18-11l7 12l-17 11zM2357 2301l18-11l9 13l-18 12zM2276 2369l18-12l8 13l-18 11zM2415 2279l17-11l10 14l-18 12zM2705 2092l30-20l12 20l-30 19zM2714 2107l18-11l12 20l-18 10zM2326 2364l18-11l8 14l-18 10zM2378 2333l18-11l8 14l-18 11zM2294 2397l18-10l7 12l-18 11zM2320 2382l18-11l7 13l-18 11zM2513 2268l18-11l10 16l-18 11zM2668 2176l18-11l11 19l-18 11zM2299 2407l19-10l7 12l-19 10zM2266 2439l18-11l7 12l-19 10zM2305 2417l18-10l7 12l-18 10zM2370 2380l32-17l8 14l-32 17zM2442 2355l19-10l8 16l-19 9zM2236 2478l18-10l6 12l-19 9zM2355 2416l19-10l7 13l-19 10zM2294 2460l19-10l6 13l-19 9zM2347 2433l33-16l6 13l-32 16zM2776 2217l45-23l11 21l-46 22zM2258 2489l19-9l6 12l-19 9zM2299 2470l19-10l6 13l-19 9zM2339 2450l19-9l6 13l-19 9zM2447 2397l32-16l8 16l-33 15zM2330 2466l19-8l6 13l-19 8zM2240 2520l19-9l5 12l-19 8zM2390 2452l19-9l6 14l-19 9zM2444 2427l19-9l7 15l-19 9zM2257 2523l33-14l5 12l-33 14zM2299 2505l19-9l5 13l-19 8zM2326 2493l19-9l6 13l-20 9zM2477 2426l19-8l7 16l-19 8zM2358 2491l19-8l6 14l-20 8zM2482 2439l20-9l6 16l-19 8zM2321 2519l19-8l5 13l-19 7zM2418 2479l19-8l6 15l-19 7zM2446 2468l19-8l6 15l-19 7zM2422 2490l20-7l6 14l-20 8zM2272 2560l20-7l5 12l-20 7zM2399 2512l19-7l6 14l-20 7zM2525 2465l20-8l6 17l-20 7zM2290 2564l20-7l4 13l-20 6zM2502 2488l19-8l6 16l-20 7zM2251 2589l20-7l4 12l-20 6zM2271 2602l20-6l4 12l-20 6zM2400 2561l20-6l4 14l-20 6zM2428 2552l20-6l5 15l-20 6zM2288 2607l21-6l3 13l-20 5zM2475 2551l20-6l5 15l-20 6zM2518 2538l20-6l5 16l-20 6zM2805 2451l20-6l7 21l-21 5zM2277 2621l20-6l3 12l-20 6zM2479 2563l20-6l4 16l-20 5zM2413 2606l20-5l4 14l-21 5zM2500 2583l35-9l4 16l-35 9zM2401 2621l20-5l4 14l-21 5zM2445 2610l20-5l4 15l-21 5zM2518 2592l20-5l4 16l-21 5zM2447 2622l21-5l3 15l-20 4zM2506 2608l20-5l4 16l-21 5zM2535 2601l21-4l3 16l-20 4zM2769 2547l20-5l5 21l-21 4zM2813 2537l20-5l5 21l-21 5zM2871 2523l21-4l5 22l-21 4zM2274 2672l21-5l2 12l-20 4zM2435 2636l21-4l3 15l-21 4zM2465 2630l20-4l3 15l-20 4zM2320 2672l21-4l2 13l-20 4zM2322 2682l36-7l2 13l-35 7zM2366 2674l36-7l2 14l-35 6zM2617 2626l21-4l3 18l-21 4zM2823 2587l21-4l4 21l-21 4zM2280 2700l20-4l3 12l-21 4zM2487 2663l20-3l3 15l-21 4zM2590 2645l21-4l3 18l-21 3zM2355 2697l21-3l2 13l-21 3zM2415 2688l20-4l3 15l-21 3zM2444 2683l21-4l2 15l-21 3zM2283 2719l21-3l1 12l-20 3zM2403 2712l21-3l2 15l-21 2zM2864 2650l21-3l3 22l-21 2zM2285 2738l21-3l2 13l-21 2zM2330 2732l21-2l1 13l-20 2zM2360 2729l36-5l1 14l-36 4zM2301 2746l21-3l2 13l-21 2zM2346 2741l21-3l1 14l-21 2zM2406 2734l36-4l1 15l-36 3zM2451 2729l20-2l2 15l-21 2zM2674 2705l21-2l2 19l-21 2zM2838 2687l21-2l2 22l-21 2zM2467 2740l21-2l1 15l-21 2zM2288 2766l21-1l1 12l-21 1zM2468 2752l21-2l1 15l-21 2zM2827 2722l20-1l2 21l-21 1zM2304 2775l21-2l1 13l-21 1zM2364 2771l21-2l1 14l-21 1zM2469 2764l21-2l0 16l-20 1zM2529 2772l21-1l1 17l-21 0zM2410 2801l21 0l1 14l-21 0zM2440 2800l21 0l1 15l-21 0zM2470 2799l21 0l1 15l-21 1zM2845 2789l21-1l1 22l-21 0zM2890 2788l21-1l1 23l-21 0zM2411 2812l21 0l0 14l-21 0zM2471 2811l21 0l0 16l-21 0zM2906 2805l21 0l0 22l-21 0zM2816 2823l21 0l0 21l-21 0zM2846 2823l21 0l0 22l-21-1zM2891 2823l21 0l0 22l-21 0zM2456 2835l36 1l-1 15l-36-1zM2891 2840l36 1l-1 23l-36-1zM2290 2852l21 1l0 13l-21-1zM2380 2856l21 1l-1 14l-21-2zM2965 2878l21 1l-1 24l-21-1zM2350 2865l21 1l-1 14l-21-2zM2859 2891l21 2l-1 22l-21-2zM2289 2872l21 1l-1 12l-21-1zM2469 2883l21 2l-1 15l-21-2zM2843 2908l51 3l-2 22l-51-4zM2948 2914l21 2l-2 23l-21-1zM2288 2881l21 2l-1 12l-21-2zM2857 2926l36 3l-2 22l-36-4zM2332 2895l21 2l-1 13l-21-2zM2452 2906l21 2l-2 15l-20-2zM2885 2946l21 2l-2 22l-21-2zM2376 2910l21 2l-1 14l-21-3zM2481 2921l21 2l-2 15l-21-2zM2794 2954l21 2l-3 21l-20-3zM2869 2961l20 3l-2 22l-21-3zM2315 2913l21 3l-1 13l-21-3zM2450 2929l20 3l-2 15l-20-3zM2852 2977l21 2l-3 22l-21-3zM3016 2996l20 3l-3 25l-21-3zM2284 2919l21 3l-1 12l-21-3zM2894 3000l36 5l-3 22l-36-5zM2939 3006l35 5l-3 23l-35-5zM2595 2974l21 3l-3 18l-21-4zM2803 3005l20 3l-3 21l-21-4zM2832 3009l21 3l-3 21l-21-3zM2415 2959l21 4l-3 14l-20-3zM2785 3019l21 3l-3 21l-21-4zM3008 3054l20 3l-4 25l-21-4zM2295 2950l21 4l-3 12l-20-4zM2458 2978l20 4l-3 15l-20-4zM2487 2983l21 4l-3 16l-21-4zM2517 2989l20 3l-3 16l-20-4zM2591 3001l20 4l-3 17l-21-3zM2768 3032l35 6l-3 21l-36-7zM2827 3042l35 7l-3 21l-36-7zM2352 2971l21 4l-3 13l-20-4zM2441 2987l35 7l-3 15l-35-7zM2500 2998l20 4l-3 16l-20-4zM2394 2990l21 4l-3 14l-21-4zM2497 3011l21 4l-4 16l-20-5zM2571 3026l20 4l-3 17l-21-5zM2909 3093l21 5l-5 22l-21-4zM2938 3099l21 4l-5 24l-20-5zM2968 3105l20 4l-5 24l-20-4zM2407 3004l20 5l-3 14l-20-5zM2553 3036l21 4l-4 17l-20-5zM2949 3121l21 4l-5 24l-21-5zM2960 3142l20 5l-5 24l-21-5zM2853 3136l21 5l-6 22l-20-5zM2926 3154l21 5l-6 23l-20-6zM2559 3078l20 6l-4 17l-21-6zM2602 3090l21 5l-5 18l-20-6zM2806 3142l20 5l-6 21l-20-5zM2864 3157l20 5l-6 22l-20-6zM2922 3172l20 5l-6 23l-20-6zM2787 3154l20 6l-6 21l-20-6zM2436 3072l20 6l-4 14l-20-6zM2566 3109l35 10l-5 17l-35-11zM2782 3171l35 9l-6 21l-35-10zM2955 3220l21 6l-7 23l-20-6zM2548 3118l20 6l-5 16l-20-6zM2576 3126l21 6l-6 18l-20-7zM2893 3221l34 10l-7 23l-34-11zM2272 3045l20 7l-4 12l-20-7zM2572 3140l20 6l-5 17l-20-7zM2269 3055l20 6l-4 12l-20-7zM2468 3120l35 11l-6 16l-34-12zM2294 3074l20 6l-4 13l-20-7zM2337 3088l20 7l-5 13l-20-7zM2521 3152l20 6l-6 17l-20-8zM2904 3283l20 7l-8 23l-20-7zM2347 3103l20 8l-5 13l-20-8zM2375 3114l20 7l-5 13l-19-7zM2460 3144l20 7l-6 15l-19-7zM2517 3164l19 7l-6 16l-19-7zM2785 3260l20 8l-8 20l-20-7zM2870 3291l19 7l-8 22l-19-7zM2301 3098l34 13l-5 12l-33-13zM2372 3124l19 8l-5 13l-20-7zM2400 3135l19 7l-5 14l-20-7zM2428 3145l19 8l-5 14l-20-7zM2484 3166l20 8l-6 15l-20-7zM2877 3313l20 8l-8 22l-20-8zM2962 3345l19 7l-9 24l-19-8zM2256 3091l19 8l-4 12l-20-8zM2298 3108l19 7l-5 13l-19-8zM2395 3146l20 7l-6 14l-19-7zM2423 3157l20 7l-6 15l-19-8zM2983 3374l19 8l-9 24l-20-8zM2262 3115l20 8l-6 12l-19-8zM2898 3383l20 8l-10 22l-19-8zM2940 3400l19 8l-10 23l-19-8zM2967 3412l20 8l-10 23l-20-8zM2960 3430l19 9l-11 23l-19-9zM2924 3436l19 9l-10 23l-19-9zM2951 3449l19 8l-10 24l-19-9zM2899 3490l18 9l-11 23l-19-10zM2894 3532l18 10l-12 22l-18-10zM2973 3574l18 10l-12 24l-19-10zM3094 3665l19 11l-15 25l-18-10zM2871 3659l18 12l-15 22l-17-12zM2873 3737l18 12l-16 22l-17-13zM2849 3771l17 12l-17 22l-16-13zM2885 3798l17 12l-17 22l-17-12zM2812 3770l17 12l-17 21l-16-13zM2798 3812l17 13l-17 21l-17-14zM2760 3834l16 14l-17 20l-16-14zM2746 3850l16 14l-17 20l-16-14zM2650 3845l15 14l-17 18l-15-14zM2561 3786l15 14l-16 17l-15-15zM2690 3911l15 15l-18 19l-15-15zM2612 3862l15 15l-18 18l-15-15zM2654 3905l15 15l-18 18l-15-15zM2640 3919l15 15l-19 18l-15-15zM2636 3944l14 15l-19 18l-14-15zM2152 3452l14 15l-11 10l-14-15zM2560 3892l14 16l-19 16l-14-15zM2053 3359l14 16l-9 8l-14-16zM2565 3928l14 15l-19 17l-13-16zM2551 3941l23 27l-19 16l-23-27zM2156 3509l13 16l-12 10l-13-16zM2467 3874l14 16l-18 15l-13-16zM2108 3471l13 16l-11 9l-13-17zM2377 3793l13 17l-17 13l-13-16zM2396 3816l13 17l-17 14l-13-17zM2482 3920l14 16l-19 16l-13-17zM2501 3943l14 16l-19 16l-14-16zM2521 3966l13 16l-20 16l-13-16z"/>
<path fill="#00fcc4" d="M1571 2825l18 18l-1 1l-17-19zM1844 2591l16-14l8 9l-17 13zM2073 2555l18-10l8 15l-19 10zM2219 2638l20-6l6 20l-20 5zM2183 2767l21-2l1 19l-21 1zM2243 2761l21-2l1 21l-21 1zM2109 2788l21-1l1 17l-21 0zM2184 2783l36-2l1 19l-36 1zM2125 2802l21-1l1 17l-21 1zM2155 2801l21-1l1 18l-21 0zM2260 2796l21-1l1 22l-21 0zM2111 2817l36-1l0 18l-36-1zM2186 2816l21-1l0 20l-21-1zM2126 2831l21 1l-1 17l-21-1zM2201 2832l21 0l-1 20l-21-1zM2261 2833l21 0l-1 22l-21-1zM2110 2846l21 0l-1 17l-21-1zM2095 2859l21 1l-2 17l-21-2zM2213 2884l21 2l-2 20l-21-3zM2150 2909l20 3l-3 18l-20-3zM2194 2916l21 3l-3 19l-21-4zM2221 2937l21 4l-4 20l-21-4zM2262 2964l21 4l-5 21l-21-5zM2185 2965l20 5l-4 19l-21-5zM2181 2981l20 6l-5 19l-20-6zM2224 2993l21 5l-6 20l-20-6zM2152 3025l20 7l-6 18l-20-8zM2297 2434l19-10l6 12l-18 10zM2369 2409l18-10l7 14l-18 9zM2231 2502l19-9l6 12l-19 9zM2262 2625l21-6l3 12l-20 6zM2857 2527l20-5l5 22l-21 4zM2289 2668l20-4l3 12l-21 4zM2326 2702l21-3l2 13l-21 3zM2859 2615l21-3l3 22l-21 3zM2342 2710l21-3l2 13l-21 3zM2372 2705l21-3l2 14l-21 3zM2418 2710l21-3l2 15l-21 2zM2849 2652l21-3l3 22l-21 2zM2419 2721l21-2l2 14l-21 3zM2287 2747l20-2l2 12l-21 2zM2347 2751l21-2l1 13l-21 2zM2377 2748l21-2l1 14l-21 2zM2378 2759l21-2l1 14l-21 2zM2334 2773l21-2l1 14l-21 1zM2484 2763l21-2l0 16l-21 1zM2305 2785l21-2l0 13l-21 1zM2394 2780l21-2l1 15l-21 0zM2484 2775l21-1l1 15l-21 1zM2335 2793l21-1l0 13l-21 1zM2320 2804l36-1l1 13l-36 0zM2425 2801l21-1l1 15l-21 0zM2306 2814l36-1l0 13l-36 0zM2921 2805l21-1l0 23l-21 0zM2291 2824l21 0l0 12l-21 0zM2336 2824l36 0l0 13l-36-1zM2320 2844l51 1l0 13l-51-2zM2395 2845l21 1l0 14l-21-1zM2410 2857l21 1l-1 14l-21-1zM2335 2864l21 1l-1 14l-21-2zM2395 2867l21 2l-1 14l-21-2zM2304 2873l36 2l-1 13l-36-3zM2349 2875l21 2l-1 13l-21-1zM2379 2877l21 2l-1 14l-21-2zM2963 2915l21 2l-2 24l-21-2zM2318 2883l21 2l-1 13l-21-2zM2946 2933l21 1l-2 24l-21-2zM2991 2936l21 2l-2 24l-21-2zM3111 2946l21 1l-2 27l-21-2zM2288 2891l21 2l-2 12l-21-2zM2437 2904l21 2l-2 15l-20-2zM2915 2948l21 2l-2 23l-21-2zM2302 2902l21 2l-2 13l-21-3zM2361 2908l21 2l-1 14l-21-3zM2854 2960l20 2l-2 22l-21-3zM2345 2917l21 2l-2 14l-20-3zM2375 2920l21 3l-2 14l-21-3zM2405 2924l21 2l-2 15l-21-3zM2329 2925l21 3l-2 13l-21-3zM2283 2929l21 3l-2 12l-21-3zM2313 2933l21 3l-2 13l-21-3zM2343 2937l20 3l-2 14l-20-4zM2432 2950l20 3l-2 15l-21-3zM2430 2962l35 6l-2 15l-36-7zM2800 3021l21 3l-4 21l-20-3zM2339 2958l21 3l-2 14l-21-4zM2986 3089l21 4l-5 24l-20-4zM2277 2966l20 5l-2 12l-21-5zM2983 3108l20 4l-5 24l-20-4zM2377 2998l21 4l-3 14l-21-5zM2436 3011l35 7l-3 15l-35-8zM2419 3019l20 4l-3 15l-21-5zM2448 3025l21 5l-4 15l-20-5zM2945 3139l21 5l-6 23l-20-5zM2489 3048l20 5l-3 15l-21-5zM2268 3004l20 5l-3 12l-20-5zM2370 3030l35 9l-4 14l-35-10zM2951 3179l20 5l-6 24l-20-6zM2483 3072l20 5l-4 16l-20-6zM2961 3201l20 6l-7 24l-20-6zM2422 3068l20 5l-4 15l-20-6zM2508 3092l35 10l-5 16l-34-10zM2275 3036l20 6l-4 12l-20-6zM2303 3044l21 7l-4 12l-20-6zM2361 3062l20 6l-4 13l-20-6zM2447 3088l20 6l-4 15l-20-7zM2533 3113l20 6l-5 17l-20-6zM2258 3041l20 6l-4 12l-20-7zM2300 3054l21 7l-5 12l-19-7zM2501 3117l20 6l-5 16l-20-6zM2255 3050l20 6l-4 12l-20-7zM2312 3069l20 6l-5 13l-20-7zM2426 3106l34 11l-5 15l-34-12zM2511 3134l20 7l-5 16l-20-7zM2981 3289l49 16l-9 24l-48-16zM2323 3083l19 7l-4 13l-20-7zM2436 3122l20 7l-5 15l-20-7zM2464 3132l34 12l-5 15l-34-12zM2263 3073l19 7l-4 12l-20-7zM2291 3083l20 7l-5 13l-20-8zM2333 3098l20 7l-5 14l-20-8zM2245 3077l20 7l-5 12l-19-8zM3114 3449l20 8l-11 26l-20-8zM2981 3417l20 9l-11 23l-19-8zM2973 3436l33 14l-10 25l-33-15zM3033 3486l19 8l-11 25l-19-9zM2969 3549l19 9l-12 24l-19-10zM2955 3637l18 11l-14 23l-18-11zM2896 3676l18 11l-15 22l-17-11zM2724 3830l16 14l-18 20l-15-14z"/>
<path fill="#00ffe5" d="M2199 2679l20-5l5 20l-21 4zM2256 2741l35-4l3 22l-36 3zM2213 2764l21-2l1 20l-21 1zM2214 2781l36-3l1 21l-36 1zM2110 2802l21 0l1 16l-21 1zM2215 2798l21-1l1 20l-21 0zM2156 2816l21 0l0 18l-21 0zM2246 2815l21-1l0 21l-21 0zM2276 2814l21 0l0 22l-21 0zM2095 2845l21 1l-1 16l-21-1zM2274 2871l21 1l-2 22l-20-2zM2123 2876l21 2l-2 17l-20-3zM2167 2896l20 2l-2 19l-21-4zM2211 2901l21 2l-3 20l-20-3zM2241 2904l21 3l-3 21l-21-3zM2164 2911l21 3l-3 19l-20-4zM2253 2924l36 6l-3 21l-36-6zM2132 2922l21 4l-3 17l-21-4zM2162 2927l21 4l-4 18l-20-4zM2236 2940l20 4l-3 20l-21-4zM2130 2937l20 4l-4 17l-20-4zM2203 2952l21 4l-5 19l-20-4zM2229 2975l20 5l-5 20l-20-5zM2123 2967l20 5l-5 17l-20-6zM2234 3014l35 10l-6 21l-35-11zM2209 3044l20 7l-7 20l-20-8zM2723 2013l18-12l13 19l-17 12zM2276 2457l18-9l6 12l-18 9zM2302 2443l19-9l6 12l-18 10zM2422 2451l19-9l7 15l-20 8zM2866 2667l21-3l2 22l-20 3zM2376 2737l21-2l1 14l-21 2zM2885 2700l21-2l2 22l-21 2zM2393 2758l21-2l1 14l-21 2zM2379 2770l21-2l1 14l-21 1zM2350 2803l21-1l1 14l-21 0zM2366 2834l21 0l-1 14l-21 0zM2305 2853l21 1l0 13l-21-2zM2350 2855l21 1l-1 13l-20-1zM2348 2886l21 1l-1 14l-21-2zM2393 2889l21 2l-1 14l-21-2zM2362 2898l21 1l-1 14l-21-2zM2407 2902l21 2l-1 14l-21-2zM2870 2944l21 2l-2 22l-21-2zM2301 2912l20 2l-1 13l-21-3zM2360 2919l21 2l-2 14l-21-3zM2971 2991l21 3l-3 23l-21-2zM2389 2933l35 5l-2 14l-35-5zM2433 2939l21 3l-2 14l-21-3zM2357 2940l36 5l-2 14l-36-6zM2417 2948l21 3l-3 15l-20-4zM3070 3043l21 4l-4 25l-21-3zM2297 2941l35 5l-2 13l-36-6zM2324 2955l21 4l-2 13l-21-4zM2354 2960l21 4l-3 14l-20-4zM2398 2968l21 4l-3 14l-20-4zM2411 2982l21 4l-3 14l-21-4zM2291 2969l21 5l-3 12l-20-4zM2321 2975l35 7l-3 14l-35-8zM2480 3020l35 7l-3 16l-35-8zM2375 3009l20 4l-3 14l-20-5zM2463 3029l64 14l-4 16l-64-15zM2270 2995l21 5l-3 12l-21-6zM2329 3009l20 5l-3 13l-20-6zM2387 3023l20 5l-3 14l-20-5zM2999 3171l21 5l-6 25l-21-6zM2297 3011l20 6l-3 12l-20-6zM2501 3064l20 5l-4 16l-21-6zM2497 3076l21 5l-5 16l-20-6zM2584 3099l20 6l-4 17l-21-6zM2306 3035l21 5l-4 13l-20-6zM2350 3047l20 6l-4 13l-20-6zM2451 3076l49 14l-5 15l-49-14zM3013 3236l20 6l-7 25l-20-6zM2260 3032l20 6l-3 11l-20-6zM2332 3053l20 6l-4 13l-20-6zM2390 3070l34 11l-4 14l-35-11zM2286 3050l20 6l-4 12l-20-6zM2372 3077l20 6l-4 14l-20-7zM2458 3104l20 6l-5 15l-20-6zM2959 3261l20 6l-8 24l-20-7zM3053 3312l19 7l-8 25l-20-7zM3018 3322l19 7l-8 25l-20-7zM3117 3356l20 7l-10 26l-19-7zM2319 3093l20 7l-5 13l-20-7zM2390 3119l19 7l-5 14l-19-8zM2474 3149l20 7l-6 16l-19-8zM2414 3140l19 7l-5 15l-20-8zM2437 3162l20 8l-6 15l-19-8zM2995 3423l19 8l-10 25l-19-9zM3102 3516l19 9l-12 26l-19-9zM3086 3584l19 9l-13 26l-19-10zM2984 3706l17 11l-15 24l-17-12zM2847 3823l16 13l-17 22l-16-14zM2755 3886l16 14l-19 20l-15-15zM2739 3989l15 15l-20 20l-14-15zM2048 3383l14 16l-10 9l-13-17zM2031 3378l14 16l-10 8l-13-16z"/>
<path fill="#00d7ff" d="M2169 2784l21-1l1 18l-21 1zM2230 2797l21 0l1 20l-21 0zM2276 2833l21 0l-1 22l-21-1zM2230 2850l21 1l-1 20l-21-1zM2275 2852l21 1l-1 21l-21-1zM2244 2869l21 1l-1 21l-21-2zM2243 2887l21 1l-2 21l-21-2zM2181 2897l21 3l-2 19l-21-3zM2271 2908l21 2l-3 22l-21-3zM2147 2925l21 3l-4 18l-20-4zM2251 2943l20 3l-4 21l-20-4zM2195 2985l21 5l-6 20l-20-6zM2314 2724l21-3l1 13l-20 3zM2333 2763l21-2l1 13l-21 1zM2351 2813l36 0l0 13l-36 0zM2396 2813l21-1l0 14l-21 0zM2366 2824l21 0l0 13l-21 0zM2305 2863l21 1l-1 13l-21-2zM3008 2918l21 2l-2 24l-21-2zM3006 2937l21 2l-2 25l-21-2zM2377 2899l21 2l-1 14l-21-3zM3049 2961l21 2l-2 25l-21-2zM2436 2916l21 2l-2 15l-21-3zM2443 2976l20 3l-2 15l-21-4zM2308 2963l35 6l-2 13l-35-7zM2350 2981l35 7l-2 14l-36-8zM2348 2992l21 4l-3 13l-21-4zM2287 2989l21 4l-3 13l-21-5zM2316 2995l21 5l-3 13l-21-5zM2346 3002l20 5l-3 13l-20-5zM2300 3002l20 5l-3 12l-21-5zM2416 3030l50 12l-4 15l-49-13zM2312 3015l20 5l-3 13l-21-6zM2266 3013l20 6l-3 12l-21-6zM2353 3037l20 5l-4 14l-20-6zM2439 3060l50 14l-5 15l-49-14zM2263 3022l20 6l-3 12l-20-6zM2378 3055l21 6l-4 14l-21-6zM3036 3264l20 6l-7 25l-20-6zM2404 3124l19 7l-5 14l-19-7zM3033 3557l18 9l-12 25l-19-10zM3023 3576l18 10l-13 25l-18-10zM2920 3546l19 10l-13 23l-18-10zM2946 3560l32 17l-13 24l-31-18zM2771 4021l15 15l-20 20l-15-15z"/>
<path fill="#00edff" d="M2216 2815l36 0l0 20l-36 0zM2216 2832l21 1l-1 20l-21-1zM2215 2850l21 0l-1 20l-21-1zM2154 2863l21 1l-1 18l-21-2zM2138 2877l21 2l-2 18l-21-3zM2258 2888l21 2l-3 21l-20-2zM2256 2906l21 3l-3 21l-21-3zM2135 2907l21 3l-3 18l-21-4zM2209 2918l21 3l-3 20l-21-4zM2239 2922l20 3l-3 21l-21-4zM2265 2945l21 4l-4 21l-21-4zM2218 2955l20 4l-4 20l-20-5zM2199 2969l21 4l-5 20l-20-6zM2243 2979l21 4l-5 21l-21-5zM2210 2989l20 5l-5 20l-20-6zM2254 3000l20 5l-6 21l-20-5zM2344 2497l19-8l6 13l-19 8zM2254 2598l20-7l4 12l-20 6zM2391 2736l21-2l1 14l-21 2zM2350 2782l35-2l1 14l-36 1zM2320 2794l21-1l0 13l-21 0zM2365 2802l21 0l1 14l-21 0zM2336 2813l21 0l0 13l-21 0zM2321 2824l21 0l0 13l-21-1zM2365 2845l21 0l0 14l-21-1zM2335 2854l21 1l0 13l-21-1zM2905 2876l21 1l-1 23l-21-2zM2364 2876l21 2l-1 13l-21-1zM2333 2885l21 1l-1 13l-21-2zM2363 2887l36 3l-1 14l-36-4zM2347 2896l21 2l-1 13l-21-2zM2287 2900l21 2l-2 13l-21-3zM2314 2923l21 3l-2 13l-21-3zM2418 2937l21 3l-2 14l-21-3zM2298 2931l21 3l-2 12l-21-3zM2387 2944l36 5l-3 14l-35-5zM2356 2950l21 3l-3 14l-20-4zM2400 2957l21 3l-2 15l-21-4zM2413 2971l21 3l-3 15l-20-4zM2293 2960l21 4l-3 12l-20-4zM2367 2974l21 3l-3 14l-21-4zM2465 3017l21 4l-4 16l-20-5zM2509 3026l21 5l-4 16l-20-5zM2360 3005l21 5l-3 14l-21-5zM2404 3015l21 5l-4 14l-20-5zM2989 3149l21 5l-6 24l-21-5zM2343 3012l50 12l-4 14l-49-13zM2460 3041l20 4l-4 16l-20-6zM2518 3055l21 5l-4 16l-21-5zM2970 3164l21 5l-6 24l-21-5zM2355 3026l21 5l-4 14l-20-6zM2399 3037l20 6l-4 14l-20-6zM2442 3049l21 5l-4 15l-20-6zM3067 3209l21 5l-7 26l-21-6zM2324 3029l20 5l-4 13l-20-6zM2425 3056l20 6l-4 14l-20-5zM2494 3088l20 6l-5 16l-20-6zM2984 3228l20 6l-7 24l-20-6zM2476 3096l34 10l-4 16l-35-11zM2950 3238l20 6l-7 24l-20-7zM3051 3268l20 6l-8 26l-20-7zM2315 3059l20 6l-4 13l-20-7zM2429 3095l35 10l-5 15l-34-11zM2967 3284l20 7l-8 24l-20-7zM3038 3308l20 6l-8 25l-20-7zM2961 3303l20 7l-9 23l-19-7zM2361 3108l20 8l-5 13l-20-7zM3086 3438l20 8l-11 26l-19-9zM2983 3556l18 9l-12 24l-19-10zM2986 3581l19 10l-13 24l-19-10zM2966 3619l18 10l-14 24l-18-11zM2833 3956l16 14l-19 21l-16-14zM2755 3974l15 14l-20 20l-15-14z"/>
<path fill="#00c0ff" d="M2260 2851l21 1l-1 21l-21-1zM2228 2885l21 2l-2 20l-21-2zM2258 2982l20 5l-5 21l-20-5zM3092 2985l21 2l-3 26l-21-2zM2369 2963l21 4l-3 13l-21-4zM2333 2988l21 5l-3 13l-21-5zM2363 2995l20 4l-3 14l-20-5zM2935 3118l20 4l-5 23l-20-5zM3067 3146l20 4l-6 26l-20-5zM2331 2999l21 4l-4 13l-20-5zM3004 3152l20 5l-6 24l-20-5zM2326 3019l21 5l-4 13l-20-6zM2428 3045l20 5l-4 15l-20-6zM2486 3060l20 5l-4 16l-20-6zM2295 3021l20 5l-4 13l-20-6zM2338 3033l20 5l-3 13l-21-5zM2367 3041l35 9l-4 14l-35-10zM2335 3043l20 6l-3 13l-21-6zM2993 3251l20 6l-7 24l-20-6zM3102 3306l20 6l-9 26l-19-6zM3009 3569l19 10l-13 24l-18-10z"/>
<path fill="#000ecd" d="M2232 2958l21 4l-4 20l-21-4z"/>
<path fill="#007fff" d="M2247 2961l21 4l-5 21l-20-5zM2420 2926l21 2l-2 15l-21-3zM2359 2929l21 3l-2 13l-21-3zM2384 2966l20 3l-2 14l-21-4zM2275 2976l20 4l-3 12l-20-4zM2302 2992l20 5l-3 12l-20-5zM2314 3005l21 5l-4 13l-20-5zM2402 3026l20 5l-4 15l-20-6z"/>
<path fill="#ffd801" d="M2460 2065l16-14l13 16l-16 13zM2511 2104l17-13l12 17l-17 12zM2654 2383l19-8l8 18l-20 8zM2660 2397l19-7l7 18l-19 8zM2836 3376l19 9l-10 21l-19-9zM2617 3349l19 9l-9 18l-19-10zM2610 3363l18 9l-9 18l-18-10zM2650 3383l18 10l-9 18l-19-10zM2642 3398l19 9l-10 19l-19-11zM2529 3354l19 10l-9 16l-19-10zM2556 3368l31 18l-9 17l-32-18zM2608 3397l19 10l-10 18l-19-10zM2496 3352l19 10l-10 16l-18-11zM2548 3381l19 11l-10 16l-18-10zM2528 3387l31 18l-10 16l-31-18zM2619 3440l31 18l-11 18l-31-19zM2683 3478l18 10l-11 19l-18-11zM2354 3298l18 11l-9 14l-18-11zM2482 3376l18 11l-10 16l-17-12zM2572 3430l18 11l-11 17l-18-11zM2597 3446l31 19l-11 17l-30-19zM2480 3408l17 12l-10 15l-17-12zM2555 3457l18 11l-11 17l-17-12zM2559 3478l30 20l-11 17l-30-20zM2538 3483l17 12l-11 16l-17-12zM2575 3508l30 20l-12 18l-29-21zM2369 3384l18 12l-10 14l-17-13zM2591 3539l17 12l-12 17l-17-12zM2411 3429l17 13l-11 14l-17-12zM2581 3552l17 12l-12 18l-17-13zM2463 3485l17 13l-12 15l-16-13zM2559 3557l17 12l-12 17l-17-13zM2382 3443l17 12l-11 14l-16-13zM2538 3561l16 12l-12 17l-17-13zM2597 3606l17 13l-14 17l-16-13zM2362 3444l29 22l-11 14l-28-23zM2480 3536l17 13l-12 16l-17-13zM2587 3620l16 13l-13 17l-17-13zM2401 3492l28 23l-12 14l-28-23zM2483 3558l28 22l-13 16l-28-23zM2576 3633l16 13l-14 17l-16-13zM2369 3484l16 13l-12 14l-16-14zM2392 3503l16 13l-12 14l-16-13zM2461 3560l16 14l-12 15l-16-14zM2496 3589l28 23l-14 16l-27-23zM2406 3533l38 33l-12 15l-39-34zM2451 3572l16 14l-13 15l-15-14zM2474 3592l16 13l-13 16l-16-14zM2508 3621l16 13l-13 16l-16-14zM2362 3515l16 14l-12 13l-16-14zM2396 3544l16 14l-13 14l-15-14zM2498 3633l16 14l-14 16l-16-14zM2364 3535l16 14l-13 14l-15-14zM2487 3645l16 14l-15 16l-15-14zM2454 3637l15 14l-14 15l-15-14zM2443 3649l15 14l-14 15l-15-15z"/>
<path fill="#ffbf0c" d="M2679 2406l20-7l7 19l-20 7zM2655 3405l19 10l-10 18l-18-10zM2516 3347l19 10l-9 16l-19-11zM2535 3374l19 10l-10 17l-18-11zM2640 3433l18 11l-11 18l-18-11zM2489 3364l18 11l-9 15l-18-11zM2593 3425l18 10l-11 18l-18-11zM2469 3368l18 11l-9 16l-18-12zM2508 3392l18 11l-10 15l-18-11zM2546 3415l18 11l-10 16l-18-11zM2487 3396l43 27l-10 16l-43-28zM2384 3362l18 12l-10 14l-17-12zM2447 3404l17 11l-10 15l-17-12zM2497 3437l30 20l-11 16l-30-21zM2547 3470l17 12l-11 16l-17-12zM2597 3503l17 12l-11 17l-18-12zM2439 3415l42 29l-10 15l-42-29zM2488 3449l18 12l-11 16l-17-13zM2550 3491l18 12l-12 17l-17-12zM2431 3427l17 12l-10 15l-17-13zM2542 3504l17 12l-12 17l-17-13zM2578 3530l18 12l-13 17l-17-12zM2386 3412l30 21l-11 14l-29-21zM2423 3438l17 13l-11 14l-17-13zM2447 3456l17 12l-11 15l-17-13zM2472 3473l17 13l-12 15l-16-13zM2520 3508l29 21l-12 17l-28-22zM2511 3521l29 21l-12 17l-29-22zM2406 3461l17 12l-11 15l-17-13zM2514 3542l16 13l-12 16l-17-13zM2549 3570l17 12l-13 17l-16-13zM2386 3463l40 31l-11 14l-40-32zM2366 3464l16 13l-11 14l-16-14zM2459 3539l17 13l-13 15l-16-13zM2506 3577l16 13l-13 16l-16-14zM2426 3532l17 13l-13 15l-16-14zM2450 3551l16 13l-13 15l-16-13zM2473 3570l16 13l-13 16l-16-14zM2371 3504l16 14l-12 13l-15-13zM2486 3601l16 14l-14 15l-16-13zM2453 3594l15 14l-13 15l-16-15zM2486 3623l16 14l-13 16l-16-14z"/>
<path fill="#002aff" d="M2341 2948l21 3l-3 13l-20-3zM2390 3012l20 5l-3 14l-21-5zM2321 3039l20 6l-4 12l-20-6z"/>
<path fill="#002f7a" d="M2471 3056l21 5l-4 16l-21-6z"/>
<path fill="#ffcb06" d="M2624 3335l19 9l-9 18l-19-10zM2576 3362l32 17l-10 18l-31-18zM2503 3339l19 10l-9 16l-19-10zM2582 3383l18 10l-9 17l-19-10zM2621 3405l45 24l-10 18l-45-25zM2687 3441l18 10l-10 19l-18-11zM2561 3389l19 10l-10 17l-18-11zM2601 3411l31 18l-10 18l-31-19zM2502 3372l31 18l-9 16l-31-19zM2606 3432l18 11l-11 17l-18-10zM2520 3399l31 19l-10 16l-30-19zM2525 3420l18 11l-10 16l-18-11zM2564 3444l17 11l-10 17l-18-12zM2589 3460l18 11l-11 17l-18-11zM2615 3475l30 20l-11 17l-31-19zM2653 3499l18 11l-12 19l-18-12zM2391 3352l18 11l-9 14l-18-12zM2416 3368l18 11l-9 15l-18-12zM2454 3392l18 11l-10 15l-17-11zM2397 3371l30 20l-10 14l-30-21zM2609 3511l18 12l-12 18l-17-12zM2389 3382l18 11l-10 14l-17-12zM2426 3407l18 12l-10 14l-17-12zM2476 3441l17 11l-10 16l-17-12zM2526 3474l17 12l-11 16l-17-12zM2492 3470l18 12l-12 16l-17-13zM2554 3513l17 12l-12 17l-17-13zM2603 3547l29 21l-12 18l-29-21zM2435 3447l17 12l-11 15l-17-13zM2508 3500l17 12l-12 16l-16-13zM2391 3432l16 12l-10 14l-17-13zM2451 3476l17 13l-12 15l-16-13zM2499 3512l17 13l-12 15l-17-12zM2535 3539l17 12l-12 17l-17-13zM2644 3619l17 13l-14 18l-17-13zM2442 3488l17 13l-12 15l-16-13zM2421 3490l17 13l-12 15l-16-14zM2492 3546l29 22l-13 16l-28-23zM2319 3426l16 13l-10 13l-16-13zM2424 3511l16 13l-11 15l-17-14zM2471 3549l16 13l-12 15l-16-13zM2518 3586l16 13l-13 16l-16-13zM2484 3580l16 13l-13 15l-16-13zM2360 3495l16 13l-12 14l-16-14zM2394 3524l16 13l-12 14l-16-14zM2463 3582l16 14l-13 15l-16-14zM2373 3525l16 14l-12 13l-15-14zM2465 3625l15 14l-14 16l-15-15zM2410 3597l15 14l-13 14l-15-14z"/>
<path fill="#ffa10b" d="M2603 3376l18 10l-10 18l-18-10zM2543 3361l18 10l-9 17l-19-11zM2522 3366l19 11l-10 16l-18-11zM2588 3404l18 10l-10 17l-18-10zM2567 3409l18 11l-10 17l-18-11zM2585 3438l18 11l-11 17l-18-11zM2474 3388l18 11l-9 16l-18-12zM2576 3452l18 11l-11 17l-17-12zM2517 3433l18 11l-10 16l-18-12zM2543 3449l17 11l-10 17l-18-12zM2631 3506l18 11l-12 18l-18-12zM2434 3395l18 12l-10 15l-18-12zM2501 3458l17 11l-11 16l-17-12zM2563 3500l17 12l-11 16l-18-12zM2443 3435l17 13l-10 14l-17-12zM2529 3496l17 12l-11 16l-17-12zM2545 3526l41 30l-12 17l-41-31zM2415 3450l16 12l-10 14l-17-12zM2571 3566l17 12l-13 17l-16-13zM2561 3579l17 13l-13 16l-16-13zM2516 3564l16 13l-12 16l-17-13zM2436 3520l16 13l-12 15l-16-13zM2541 3605l16 13l-13 17l-16-14zM2415 3522l16 14l-12 14l-16-14zM2438 3541l16 14l-12 14l-16-13zM2531 3618l16 13l-14 16l-16-13zM2464 3604l27 23l-14 16l-26-25z"/>
<path fill="#ff7006" d="M2574 3396l19 11l-10 17l-18-11zM2580 3417l18 11l-10 17l-18-11zM2551 3436l18 11l-11 17l-18-12zM2492 3416l18 12l-10 15l-18-11zM2568 3465l18 11l-12 17l-17-11zM2414 3398l17 12l-10 15l-17-12zM2513 3466l18 12l-11 16l-18-12zM2456 3444l17 12l-11 15l-17-12zM2517 3487l17 12l-11 16l-17-12zM2459 3465l17 12l-11 15l-16-13zM2484 3482l29 21l-12 16l-28-22zM2427 3458l17 13l-11 15l-17-13zM2475 3494l17 13l-12 15l-16-13zM2454 3497l29 22l-12 15l-28-22zM2433 3500l28 22l-11 15l-28-23zM2447 3530l17 13l-12 15l-17-14zM2403 3513l16 13l-11 14l-16-13z"/>
<path fill="#ff4701" d="M2554 3402l18 11l-10 16l-18-11zM2559 3423l18 11l-10 16l-18-11zM2538 3428l18 11l-11 16l-17-11zM2467 3400l18 12l-10 15l-18-12zM2530 3441l18 11l-11 16l-17-11zM2581 3473l17 11l-11 18l-18-12zM2459 3412l18 12l-10 15l-18-12zM2522 3453l30 20l-11 17l-30-21zM2403 3441l16 12l-10 14l-17-12zM2439 3467l17 13l-12 15l-16-13zM2583 3574l17 13l-13 17l-16-13zM2490 3524l16 13l-12 16l-16-13zM2457 3518l16 13l-12 15l-16-13z"/>
<path fill="#ff3000" d="M2602 3468l18 11l-12 17l-17-11zM2505 3424l17 12l-10 16l-17-12zM2472 3420l17 12l-10 15l-17-12zM2584 3495l18 11l-12 18l-17-12zM2468 3453l17 12l-11 15l-17-12zM2566 3521l17 13l-12 16l-17-12zM2487 3503l17 13l-12 15l-17-13zM2478 3515l17 13l-12 15l-17-13z"/>
<path fill="#ff1800" d="M2593 3481l18 12l-12 17l-17-12zM2418 3470l29 22l-12 14l-28-22z"/>
<path fill="#ff0023" d="M2505 3478l17 13l-11 15l-17-12z"/>
<path fill="#6ad800" d="M3156 2315L3172 2315L3203 2425L3187 2430z"/>
</g>
<path d="M157.07 282.48L354.36 168.58M157.07 282.48L377.11 223.52M157.07 282.48L384.88 282.48M157.07 282.48L377.11 341.44M157.07 282.48L354.36 396.38M157.07 282.48L318.15 443.56M179.39 259.77A31.84 31.84 0 0 1 175.15 308.69M206.88 231.80A71.06 71.06 0 0 1 197.42 340.97M234.36 203.83A110.28 110.28 0 0 1 219.69 373.25M261.85 175.85A149.49 149.49 0 0 1 241.96 405.53M289.34 147.88A188.71 188.71 0 0 1 264.23 437.81" fill="none" stroke="#b0b0b0" stroke-width="1.11"/>
<path d="M157.07 282.48L316.74 120.00A227.81 227.81 0 0 1 286.43 470.00Z" fill="none" stroke="#000" stroke-width="1.18" stroke-linejoin="miter"/>
<text x="272.3" y="91.8" font-size="16.67" text-anchor="middle">Reflectivity</text>
<text letter-spacing="-0.3" x="332.2" y="110.8" font-size="13.89" text-anchor="middle">45°</text>
<text letter-spacing="-0.3" x="371.3" y="163.2" font-size="13.89" text-anchor="middle">60°</text>
<text letter-spacing="-0.3" x="396.35" y="222.0" font-size="13.89" text-anchor="middle">75°</text>
<text letter-spacing="-0.3" x="405.2" y="285.9" font-size="13.89" text-anchor="middle">90°</text>
<text letter-spacing="-0.3" x="396.45" y="349.8" font-size="13.89" text-anchor="middle">105°</text>
<text letter-spacing="-0.3" x="371.75" y="410.2" font-size="13.89" text-anchor="middle">120°</text>
<text letter-spacing="-0.3" x="332.65" y="460.6" font-size="13.89" text-anchor="middle">135°</text>
<text letter-spacing="-0.15" x="171.9" y="250.3" font-size="13.89" text-anchor="end">5000</text>
<text letter-spacing="-0.15" x="199.5" y="222.1" font-size="13.89" text-anchor="end">10000</text>
<text letter-spacing="-0.15" x="227.1" y="194.2" font-size="13.89" text-anchor="end">15000</text>
<text letter-spacing="-0.15" x="254.6" y="166.2" font-size="13.89" text-anchor="end">20000</text>
<text letter-spacing="-0.15" x="282.1" y="138.0" font-size="13.89" text-anchor="end">25000</text>
<text letter-spacing="-0.2" x="181.0" y="153.9" font-size="13.89" text-anchor="middle" transform="rotate(-45 181.0 153.9)">Meters</text>
<rect x="470.25" y="466.20" width="17.5" height="3.80" fill="#000080"/>
<rect x="470.25" y="462.70" width="17.5" height="3.80" fill="#000f6d"/>
<rect x="470.25" y="459.20" width="17.5" height="3.80" fill="#002451"/>
<rect x="470.25" y="455.70" width="17.5" height="3.80" fill="#00333e"/>
<rect x="470.25" y="452.20" width="17.5" height="3.80" fill="#004922"/>
<rect x="470.25" y="448.70" width="17.5" height="3.80" fill="#00580f"/>
<rect x="470.25" y="445.20" width="17.5" height="3.80" fill="#005127"/>
<rect x="470.25" y="441.70" width="17.5" height="3.80" fill="#003d59"/>
<rect x="470.25" y="438.20" width="17.5" height="3.80" fill="#002f7a"/>
<rect x="470.25" y="434.70" width="17.5" height="3.80" fill="#001bac"/>
<rect x="470.25" y="431.20" width="17.5" height="3.80" fill="#000ecd"/>
<rect x="470.25" y="427.70" width="17.5" height="3.80" fill="#000eff"/>
<rect x="470.25" y="424.20" width="17.5" height="3.80" fill="#002aff"/>
<rect x="470.25" y="420.70" width="17.5" height="3.80" fill="#0055ff"/>
<rect x="470.25" y="417.20" width="17.5" height="3.80" fill="#007fff"/>
<rect x="470.25" y="413.70" width="17.5" height="3.80" fill="#009bff"/>
<rect x="470.25" y="410.20" width="17.5" height="3.80" fill="#00c0ff"/>
<rect x="470.25" y="406.70" width="17.5" height="3.80" fill="#00caff"/>
<rect x="470.25" y="403.20" width="17.5" height="3.80" fill="#00d7ff"/>
<rect x="470.25" y="399.70" width="17.5" height="3.80" fill="#00e0ff"/>
<rect x="470.25" y="396.20" width="17.5" height="3.80" fill="#00edff"/>
<rect x="470.25" y="392.70" width="17.5" height="3.80" fill="#00fbf2"/>
<rect x="470.25" y="389.20" width="17.5" height="3.80" fill="#00ffe5"/>
<rect x="470.25" y="385.70" width="17.5" height="3.80" fill="#00fdd1"/>
<rect x="470.25" y="382.20" width="17.5" height="3.80" fill="#00fcc4"/>
<rect x="470.25" y="378.70" width="17.5" height="3.80" fill="#00fbb0"/>
<rect x="470.25" y="375.20" width="17.5" height="3.80" fill="#00faa3"/>
<rect x="470.25" y="371.70" width="17.5" height="3.80" fill="#00fa88"/>
<rect x="470.25" y="368.20" width="17.5" height="3.80" fill="#00fb68"/>
<rect x="470.25" y="364.70" width="17.5" height="3.80" fill="#00fc54"/>
<rect x="470.25" y="361.20" width="17.5" height="3.80" fill="#00fd34"/>
<rect x="470.25" y="357.70" width="17.5" height="3.80" fill="#00fe1f"/>
<rect x="470.25" y="354.20" width="17.5" height="3.80" fill="#13fb00"/>
<rect x="470.25" y="350.70" width="17.5" height="3.80" fill="#26f000"/>
<rect x="470.25" y="347.20" width="17.5" height="3.80" fill="#33e800"/>
<rect x="470.25" y="343.70" width="17.5" height="3.80" fill="#46dd00"/>
<rect x="470.25" y="340.20" width="17.5" height="3.80" fill="#53d600"/>
<rect x="470.25" y="336.70" width="17.5" height="3.80" fill="#66d100"/>
<rect x="470.25" y="333.20" width="17.5" height="3.80" fill="#6ad800"/>
<rect x="470.25" y="329.70" width="17.5" height="3.80" fill="#70e200"/>
<rect x="470.25" y="326.20" width="17.5" height="3.80" fill="#76eb00"/>
<rect x="470.25" y="322.70" width="17.5" height="3.80" fill="#7af200"/>
<rect x="470.25" y="319.20" width="17.5" height="3.80" fill="#80fc08"/>
<rect x="470.25" y="315.70" width="17.5" height="3.80" fill="#89ff10"/>
<rect x="470.25" y="312.20" width="17.5" height="3.80" fill="#96ff1c"/>
<rect x="470.25" y="308.70" width="17.5" height="3.80" fill="#9fff24"/>
<rect x="470.25" y="305.20" width="17.5" height="3.80" fill="#adff30"/>
<rect x="470.25" y="301.70" width="17.5" height="3.80" fill="#bbff3c"/>
<rect x="470.25" y="298.20" width="17.5" height="3.80" fill="#c4ff34"/>
<rect x="470.25" y="294.70" width="17.5" height="3.80" fill="#d2ff28"/>
<rect x="470.25" y="291.20" width="17.5" height="3.80" fill="#dbff20"/>
<rect x="470.25" y="287.70" width="17.5" height="3.80" fill="#e8ff14"/>
<rect x="470.25" y="284.20" width="17.5" height="3.80" fill="#f1ff0c"/>
<rect x="470.25" y="280.70" width="17.5" height="3.80" fill="#fff800"/>
<rect x="470.25" y="277.20" width="17.5" height="3.80" fill="#fff000"/>
<rect x="470.25" y="273.70" width="17.5" height="3.80" fill="#ffeb00"/>
<rect x="470.25" y="270.20" width="17.5" height="3.80" fill="#ffe400"/>
<rect x="470.25" y="266.70" width="17.5" height="3.80" fill="#ffdf00"/>
<rect x="470.25" y="263.20" width="17.5" height="3.80" fill="#ffd801"/>
<rect x="470.25" y="259.70" width="17.5" height="3.80" fill="#ffd303"/>
<rect x="470.25" y="256.20" width="17.5" height="3.80" fill="#ffcb06"/>
<rect x="470.25" y="252.70" width="17.5" height="3.80" fill="#ffc40a"/>
<rect x="470.25" y="249.20" width="17.5" height="3.80" fill="#ffbf0c"/>
<rect x="470.25" y="245.70" width="17.5" height="3.80" fill="#ffb20d"/>
<rect x="470.25" y="242.20" width="17.5" height="3.80" fill="#ffa10b"/>
<rect x="470.25" y="238.70" width="17.5" height="3.80" fill="#ff8908"/>
<rect x="470.25" y="235.20" width="17.5" height="3.80" fill="#ff7006"/>
<rect x="470.25" y="231.70" width="17.5" height="3.80" fill="#ff6004"/>
<rect x="470.25" y="228.20" width="17.5" height="3.80" fill="#ff4701"/>
<rect x="470.25" y="224.70" width="17.5" height="3.80" fill="#ff3e00"/>
<rect x="470.25" y="221.20" width="17.5" height="3.80" fill="#ff3000"/>
<rect x="470.25" y="217.70" width="17.5" height="3.80" fill="#ff2600"/>
<rect x="470.25" y="214.20" width="17.5" height="3.80" fill="#ff1800"/>
<rect x="470.25" y="210.70" width="17.5" height="3.80" fill="#ff0a00"/>
<rect x="470.25" y="207.20" width="17.5" height="3.80" fill="#ff0023"/>
<rect x="470.25" y="203.70" width="17.5" height="3.80" fill="#ff0058"/>
<rect x="470.25" y="200.20" width="17.5" height="3.80" fill="#ff007c"/>
<rect x="470.25" y="196.70" width="17.5" height="3.80" fill="#ff00b1"/>
<rect x="470.25" y="193.20" width="17.5" height="3.80" fill="#ff00d5"/>
<rect x="470.25" y="189.70" width="17.5" height="3.80" fill="#f803fc"/>
<rect x="470.25" y="186.20" width="17.5" height="3.80" fill="#e40eff"/>
<rect x="470.25" y="182.70" width="17.5" height="3.80" fill="#d615ff"/>
<rect x="470.25" y="179.20" width="17.5" height="3.80" fill="#c11fff"/>
<rect x="470.25" y="175.70" width="17.5" height="3.80" fill="#b326ff"/>
<rect x="470.25" y="172.20" width="17.5" height="3.80" fill="#9f33fe"/>
<rect x="470.25" y="168.70" width="17.5" height="3.80" fill="#aa3ffb"/>
<rect x="470.25" y="165.20" width="17.5" height="3.80" fill="#bc50f8"/>
<rect x="470.25" y="161.70" width="17.5" height="3.80" fill="#ce62f4"/>
<rect x="470.25" y="158.20" width="17.5" height="3.80" fill="#da6ef2"/>
<rect x="470.25" y="154.70" width="17.5" height="3.80" fill="#eb80ee"/>
<rect x="470.25" y="151.20" width="17.5" height="3.80" fill="#ed89ef"/>
<rect x="470.25" y="147.70" width="17.5" height="3.80" fill="#ef97f1"/>
<rect x="470.25" y="144.20" width="17.5" height="3.80" fill="#f0a0f2"/>
<rect x="470.25" y="140.70" width="17.5" height="3.80" fill="#f3aef4"/>
<rect x="470.25" y="137.20" width="17.5" height="3.80" fill="#f5bcf6"/>
<rect x="470.25" y="133.70" width="17.5" height="3.80" fill="#f6c5f7"/>
<rect x="470.25" y="130.20" width="17.5" height="3.80" fill="#f8d3f9"/>
<rect x="470.25" y="126.70" width="17.5" height="3.80" fill="#fadcfa"/>
<rect x="470.25" y="123.20" width="17.5" height="3.80" fill="#fceafc"/>
<rect x="470.25" y="119.70" width="17.5" height="3.80" fill="#fef8fe"/>
<rect x="470.5" y="120.5" width="17.8" height="349.9" fill="none" stroke="#000" stroke-width="1.11"/>
<text x="497.7" y="475.7" font-size="13.89" text-anchor="start">0</text>
<text x="497.7" y="440.71" font-size="13.89" text-anchor="start">5</text>
<text x="497.7" y="405.72" font-size="13.89" text-anchor="start">10</text>
<text x="497.7" y="370.73" font-size="13.89" text-anchor="start">15</text>
<text x="497.7" y="335.74" font-size="13.89" text-anchor="start">20</text>
<text x="497.7" y="300.75" font-size="13.89" text-anchor="start">25</text>
<text x="497.7" y="265.76" font-size="13.89" text-anchor="start">30</text>
<text x="497.7" y="230.77" font-size="13.89" text-anchor="start">35</text>
<text x="497.7" y="195.78" font-size="13.89" text-anchor="start">40</text>
<text x="497.7" y="160.79" font-size="13.89" text-anchor="start">45</text>
<text x="497.7" y="125.8" font-size="13.89" text-anchor="start">50</text>
<path d="M488.3 470.40h5.2M488.3 435.41h5.2M488.3 400.42h5.2M488.3 365.43h5.2M488.3 330.44h5.2M488.3 295.45h5.2M488.3 260.46h5.2M488.3 225.47h5.2M488.3 190.48h5.2M488.3 155.49h5.2M488.3 120.50h5.2" stroke="#000" stroke-width="1.11" fill="none"/>
<text x="530.8" y="295.0" font-size="13.89" text-anchor="middle" transform="rotate(-90 530.8 295.0)">Reflectivity dBZ</text>
<g shape-rendering="crispEdges" transform="scale(0.1)">
<path fill="#00d3ff" d="M1571 7025l156-134l8 9l-164 125zM1753 6869l20-17l9 12l-20 16zM1784 6843l35-30l11 14l-36 28zM1571 7025l131-101l6 7l-137 94zM1714 6915l20-15l7 9l-21 15zM1745 6891l53-40l9 13l-54 37zM1825 6830l36-28l12 17l-38 26zM1571 7025l71-49l2 4l-73 45zM1653 6968l22-14l4 6l-23 13zM1769 6889l54-37l10 15l-57 34zM1571 7025l90-55l3 5l-93 50zM1724 6931l23-13l5 10l-23 12zM1776 6900l56-34l9 15l-59 31zM1844 6858l22-13l10 17l-23 12zM1571 7025l23-13l0 2l-23 11zM1606 7006l40-22l3 4l-42 20zM1694 6958l23-12l4 9l-23 11zM1782 6911l58-31l8 15l-60 28zM1571 7025l23-11l1 1l-24 10zM1625 6999l23-11l2 5l-24 9zM1734 6948l23-11l5 11l-24 9zM1806 6914l41-20l7 16l-42 17zM1571 7025l42-18l1 3l-43 15zM1719 6964l24-9l4 9l-25 9zM1774 6942l24-10l5 13l-24 8zM1571 7025l62-22l1 4l-63 18zM1646 6999l44-16l2 7l-44 13zM1590 7019l63-18l2 5l-65 14zM1686 6992l25-8l2 8l-25 6zM1851 6798l16-13l7 9l-17 13zM1856 6806l17-13l7 9l-17 13z"/>
<path fill="#00f2ff" d="M1723 6895l20-17l8 10l-21 16zM1814 6817l35-30l13 16l-37 28zM1698 6928l20-16l7 8l-22 15zM1729 6903l21-16l8 11l-22 14zM1809 6842l21-15l10 15l-21 14zM1637 6980l21-15l3 5l-22 13zM1670 6957l104-71l7 12l-108 65zM1818 6855l55-37l11 17l-57 35zM1656 6973l74-45l5 9l-76 41zM1742 6921l39-24l7 12l-41 22zM1827 6869l22-14l9 16l-23 12zM1861 6848l22-14l11 18l-23 13zM1588 7015l23-12l1 2l-23 11zM1641 6987l58-31l4 7l-60 28zM1712 6949l75-41l7 13l-78 36zM1835 6883l40-22l9 17l-42 20zM1589 7016l41-19l2 3l-43 17zM1643 6991l42-20l3 7l-43 17zM1697 6965l42-20l4 10l-42 17zM1752 6939l59-28l6 14l-61 25zM1842 6897l42-20l8 18l-43 17zM1608 7010l116-48l4 9l-119 41zM1737 6957l43-18l4 12l-43 15zM1793 6934l80-32l6 17l-81 28zM1627 7005l25-8l1 4l-25 7zM1684 6985l214-74l5 19l-217 62zM1571 7025l25-7l0 1l-25 6zM1648 7003l44-13l2 7l-45 10zM1705 6986l179-52l5 18l-182 42zM1590 7020l64-15l1 5l-65 11zM1668 7002l84-19l2 10l-85 15zM1785 6975l25-6l3 14l-26 4zM1863 6957l25-6l4 18l-26 5zM1610 7018l26-5l0 4l-26 3zM1689 7004l25-5l2 9l-26 3zM1844 6791l39-33l8 9l-40 32zM1862 6789l17-13l7 9l-17 13zM1868 6797l17-13l7 10l-17 12zM1862 6814l29-22l7 10l-30 20zM1868 6821l17-11l6 9l-17 11zM1873 6829l18-11l6 10l-18 11zM1878 6838l18-11l6 9l-18 11zM1883 6846l18-11l6 10l-19 10z"/>
<path fill="#00a9ff" d="M1738 6882l20-17l9 11l-21 16zM1768 6856l20-17l10 13l-20 15zM1793 6855l21-16l10 14l-22 14z"/>
<path fill="#00fed8" d="M1870 6864l23-13l9 19l-23 11zM1679 6974l24-11l3 7l-24 10zM1878 6880l24-11l8 19l-24 9zM1867 6904l43-17l7 19l-44 15zM1878 6936l25-7l5 19l-25 6zM1571 7025l25-6l0 1l-25 5zM1649 7007l25-6l1 6l-25 4zM1746 6984l45-10l2 12l-45 8zM1805 6971l64-15l3 17l-65 11zM1882 6953l26-6l4 19l-26 4zM1571 7025l45-8l0 2l-45 6zM1630 7014l65-11l1 7l-66 8zM1709 7000l183-32l2 18l-184 22zM1571 7025l26-3l0 1l-26 2zM1630 7018l26-4l1 5l-26 2zM1670 7013l26-3l0 7l-26 1zM1879 6762l16-14l8 10l-17 13zM1874 6779l16-13l8 10l-17 13zM1880 6788l17-13l7 10l-17 12zM1887 6796l17-12l7 10l-18 12zM1880 6813l30-20l7 10l-31 19zM1886 6821l17-11l7 10l-18 11zM1891 6830l18-11l6 10l-18 10zM1896 6838l18-10l6 10l-19 10zM1888 6854l31-17l6 11l-32 16z"/>
<path fill="#00faaa" d="M1892 6913l24-8l7 20l-25 7zM1897 6931l25-8l6 20l-26 6zM1886 6969l25-4l3 19l-26 3zM1591 7022l45-5l1 4l-46 3zM1650 7015l26-3l0 6l-25 2zM1690 7010l224-27l2 19l-226 15zM1591 7023l66-4l0 5l-66 1zM1670 7018l26-2l1 7l-26 1zM1730 7014l26-2l1 11l-26 0zM1886 6770l28-23l8 11l-29 22zM1892 6779l17-13l8 10l-18 12zM1899 6787l17-12l7 10l-17 12zM1905 6796l17-12l7 11l-17 11zM1898 6813l18-11l6 10l-18 11zM1904 6822l18-11l6 11l-18 10zM1909 6831l18-11l6 11l-18 10zM1914 6840l19-10l5 11l-19 9zM1892 6863l32-17l5 11l-32 15zM1896 6871l33-15l5 11l-33 14zM1900 6880l33-15l5 11l-34 14zM1904 6889l19-8l5 11l-20 7z"/>
<path fill="#00fb73" d="M1902 6948l25-6l4 21l-25 4zM1906 6966l25-5l3 21l-26 3zM1571 7025l26-2l0 2l-26 0zM1651 7019l25-1l1 6l-26 0zM1690 7017l46-3l1 9l-46 0zM1750 7013l86-6l1 15l-86 1zM1850 7006l66-5l1 20l-66 1zM1571 7025l186-3l0 11l-186-8zM1771 7022l26-1l0 13l-26-1zM1611 7026l26 1l-1 4l-25-2zM1691 7029l26 1l-1 9l-26-3zM1890 6752l27-23l9 10l-28 23zM1909 6751l16-13l9 11l-17 12zM1904 6769l29-21l8 11l-29 21zM1911 6778l17-12l7 11l-17 12zM1917 6788l18-12l7 11l-18 11zM1911 6805l30-20l7 12l-31 18zM1917 6814l30-19l7 12l-31 18zM1919 6849l19-9l5 11l-19 9zM1923 6858l19-9l6 12l-20 8zM1928 6868l19-9l5 12l-20 8zM1918 6883l33-13l5 11l-34 13zM1908 6898l33-13l4 11l-34 12zM1911 6907l34-12l4 11l-35 11zM1914 6916l20-7l3 11l-20 6zM1917 6925l20-6l3 11l-21 5zM1919 6934l20-5l3 11l-20 5zM1921 6944l21-5l2 11l-20 4zM1923 6953l21-4l2 11l-21 4zM1925 6962l21-3l2 11l-21 3zM1929 6991l21-2l1 11l-21 2zM1930 7000l21-1l0 11l-21 1zM1930 7010l21-1l1 11l-21 1z"/>
<path fill="#00fe2a" d="M1908 6984l26-3l2 20l-26 2zM1830 7007l26-2l1 17l-26 0zM1910 7002l26-2l1 21l-26 0zM1751 7022l26 0l0 11l-26-1zM1791 7022l46-1l-1 15l-45-2zM1851 7021l86-2l-1 21l-86-3zM1571 7025l46 2l-1 2l-45-4zM1631 7027l66 3l-1 7l-66-7zM1711 7030l106 4l-1 14l-106-10zM1831 7035l105 4l-1 21l-105-11zM1571 7025l165 15l-1 9l-164-24zM1750 7041l66 6l-2 14l-65-10zM1830 7049l26 2l-2 16l-26-4zM1590 7028l26 3l0 3l-26-5zM1630 7033l46 7l-1 6l-46-9zM1689 7042l26 4l-1 8l-26-5zM1788 7057l26 3l-2 14l-26-5zM1887 7071l26 4l-3 19l-26-5zM1913 6733l16-14l9 11l-16 13zM1921 6742l16-13l9 11l-17 12zM1923 6770l17-13l8 11l-18 12zM1930 6779l17-12l8 12l-18 11zM1942 6798l18-10l7 11l-18 11zM1922 6823l31-18l7 12l-32 17zM1927 6833l19-10l6 11l-19 10zM1932 6842l19-9l6 11l-19 9zM1937 6852l19-9l5 12l-19 8zM1941 6862l20-9l5 12l-20 8zM1936 6887l33-13l5 12l-34 12zM1939 6897l34-12l4 12l-34 11zM1928 6911l20-6l4 11l-21 6zM1931 6921l35-10l3 12l-35 9zM1934 6930l20-5l3 12l-21 4zM1936 6940l50-11l2 12l-50 10zM1938 6950l50-10l2 12l-50 9zM1940 6960l35-7l2 13l-35 5zM1927 6972l65-10l2 13l-66 7zM1928 6981l51-6l1 12l-51 5zM1944 6989l21-2l1 12l-21 2zM1945 6999l21-1l0 12l-21 1zM1931 7019l21 0l0 12l-21-1z"/>
<path fill="#26f000" d="M1831 7021l26 0l-1 16l-26-1zM1811 7034l26 1l-2 15l-25-2zM1730 7039l26 3l-1 10l-26-4zM1810 7047l26 2l-2 15l-26-4zM1850 7050l85 8l-2 21l-85-13zM1571 7025l25 4l0 1l-25-5zM1610 7031l26 3l-1 4l-25-5zM1670 7039l25 4l-1 7l-25-5zM1709 7045l85 12l-2 13l-84-17zM1808 7059l85 13l-3 18l-84-17zM1907 7074l26 4l-4 20l-25-5zM1571 7025l221 44l-3 13l-218-57zM1806 7072l45 9l-4 16l-44-12zM1865 7084l45 9l-4 19l-45-12zM1609 7035l26 6l-1 4l-25-8zM1803 7084l25 7l-4 14l-25-7zM1861 7099l25 7l-5 18l-24-8zM1924 6723l16-14l10 11l-17 14zM1932 6732l17-13l9 12l-17 12zM1928 6751l29-22l8 12l-29 21zM1935 6761l17-13l8 12l-17 12zM1942 6771l17-12l8 12l-18 11zM1936 6789l18-12l7 12l-18 11zM1948 6808l18-10l7 12l-19 10zM1941 6826l31-17l7 12l-33 16zM1946 6836l32-17l6 13l-33 15zM1951 6846l32-16l6 13l-33 14zM1955 6856l19-9l6 13l-20 7zM1946 6872l33-14l5 13l-34 12zM1964 6877l19-8l5 13l-20 6zM1967 6887l34-12l5 13l-35 11zM1942 6907l63-20l4 13l-63 18zM1960 6912l34-9l4 12l-35 9zM1948 6927l35-9l3 12l-35 8zM1980 6930l20-5l3 13l-20 4zM1982 6941l21-4l2 13l-20 3zM1970 6954l20-3l2 12l-21 4zM1986 6963l21-3l2 13l-21 2zM1973 6976l35-5l2 14l-36 3zM1959 6988l36-3l1 12l-36 3zM1975 6997l21-1l0 13l-21 0zM1945 7009l36-1l1 12l-36 1zM1946 7019l21 0l0 12l-21 0zM1931 7029l36 0l-1 12l-36-1zM1930 7039l21 0l0 12l-21-2zM1930 7048l51 4l-1 12l-51-5zM1929 7058l21 2l-1 11l-21-2zM1959 7060l21 2l-1 13l-21-3zM1928 7067l51 6l-2 13l-50-8zM1927 7077l21 3l-2 11l-21-4zM1957 7081l20 3l-2 12l-20-3zM1925 7086l21 4l-2 11l-21-4zM1936 7108l21 5l-3 12l-20-6zM1948 7122l21 5l-3 12l-21-6zM1952 7448l15 16l-14 11l-13-16zM1941 7458l14 16l-14 11l-13-16z"/>
<path fill="#4cd900" d="M1786 7068l26 5l-3 14l-25-7zM1845 7080l26 5l-4 17l-25-7zM1904 7092l26 5l-5 20l-25-6zM1571 7025l44 11l0 3l-44-14zM1629 7040l180 46l-4 13l-177-56zM1823 7089l44 12l-5 17l-44-14zM1881 7104l44 12l-6 20l-43-14zM1819 7103l25 8l-6 15l-24-9zM1857 7115l63 20l-7 19l-62-23zM1936 6713l16-14l9 12l-16 13zM1947 6752l17-12l9 12l-18 11zM1949 6781l17-12l8 12l-18 11zM1955 6791l18-11l7 12l-18 10zM1961 6801l18-10l7 12l-18 10zM1967 6811l18-9l7 12l-19 9zM1972 6822l19-9l6 12l-19 9zM1978 6833l19-9l6 13l-20 8zM1969 6850l33-15l5 13l-33 14zM1973 6860l20-7l5 12l-20 8zM1978 6871l33-12l5 13l-34 12zM1996 6877l20-7l4 14l-20 6zM2000 6889l20-7l4 14l-21 6zM1989 6904l34-10l4 14l-35 9zM1977 6919l35-9l3 13l-35 8zM1994 6927l21-5l3 13l-21 4zM1997 6938l21-4l2 13l-21 4zM1984 6952l51-9l2 14l-51 7zM2001 6961l21-3l2 13l-21 3zM2003 6972l35-4l2 14l-36 3zM1989 6985l36-3l1 13l-36 3zM1960 6998l21-1l0 12l-21 1zM1990 6996l21-1l0 13l-21 1zM1975 7008l36-1l1 13l-36 0zM1961 7019l36-1l0 13l-36 0zM1961 7029l36 1l-1 13l-36-2zM1945 7039l36 2l0 12l-36-3zM1944 7059l21 2l-1 12l-21-3zM1974 7062l21 2l-1 13l-21-3zM1973 7073l36 4l-2 13l-36-5zM1942 7079l21 3l-2 12l-21-4zM1940 7089l50 8l-2 13l-50-10zM1924 7096l64 13l-2 12l-65-15zM1922 7105l20 5l-3 11l-20-5zM1951 7112l35 8l-3 12l-35-9zM1919 7114l35 9l-3 12l-34-10zM1963 7126l20 5l-3 12l-20-6zM1917 7124l49 14l-4 11l-48-15zM1975 7140l20 6l-4 13l-20-7zM1914 7133l49 15l-4 12l-48-17zM1911 7142l20 7l-4 10l-20-7zM1908 7151l34 12l-5 12l-33-14zM1928 7345l16 14l-10 11l-16-14zM1962 7375l15 14l-11 12l-15-14zM1931 7365l15 14l-11 11l-15-15zM1952 7385l26 25l-11 12l-26-25zM1985 7416l15 15l-12 12l-15-14zM2007 7437l37 35l-14 14l-36-36zM1921 7374l111 110l-14 14l-107-113zM1922 7394l87 92l-14 13l-84-94zM1902 7392l14 16l-11 10l-14-16zM1922 7415l34 38l-13 11l-33-39zM1963 7459l44 49l-15 13l-43-50zM1902 7412l43 51l-13 11l-42-52zM1951 7469l62 73l-16 14l-60-75z"/>
<path fill="#78ef00" d="M1571 7025l44 14l-1 2l-43-16zM1647 7049l63 20l-3 7l-61-23zM1721 7081l43 16l-5 11l-42-19zM1777 7102l24 9l-5 13l-24-11zM1754 7105l61 26l-7 14l-59-30zM1827 7137l24 10l-7 16l-23-12zM1864 7153l24 10l-8 18l-24-12zM1803 7141l95 48l-10 18l-92-53zM1814 7163l40 23l-10 16l-38-25zM1840 7198l39 25l-12 17l-37-27zM1798 7188l70 51l-13 16l-67-54zM1956 6713l16-13l9 12l-16 13zM1959 6743l17-12l9 12l-17 12zM1967 6754l17-12l8 12l-17 12zM2015 6843l20-7l5 14l-20 7zM2020 6855l19-7l6 14l-20 7zM2024 6867l20-7l5 15l-20 6zM2028 6879l20-6l5 15l-21 5zM2032 6892l34-10l5 15l-35 9zM2050 6900l20-5l4 15l-21 5zM2038 6916l35-8l4 15l-36 8zM2056 6926l20-4l3 15l-21 4zM2043 6941l36-6l2 16l-35 5zM2045 6954l21-3l2 15l-21 2zM2047 6967l21-3l2 15l-21 2zM2036 7018l51-1l0 16l-51-1zM2021 7030l51 1l-1 15l-51-2zM2035 7043l21 0l0 15l-21-1zM2020 7054l51 3l-2 15l-50-4zM2019 7066l36 3l-2 15l-36-5zM2018 7078l35 4l-2 15l-35-6zM2001 7088l21 3l-2 13l-21-3zM2031 7092l35 5l-2 15l-35-6zM1999 7099l21 4l-3 13l-20-4zM1997 7110l21 5l-3 13l-21-5zM1992 7133l20 5l-3 13l-20-5zM1989 7144l20 6l-4 13l-20-6zM1986 7155l20 7l-5 13l-19-7zM1996 7171l20 7l-5 13l-19-7zM1964 7172l62 23l-5 14l-62-25zM1946 7177l20 8l-5 11l-20-8zM1974 7188l47 19l-5 14l-47-21zM1928 7181l74 32l-5 13l-74-35zM1897 7177l114 54l-7 13l-112-57zM1893 7186l112 56l-6 13l-111-59zM1888 7195l19 9l-6 10l-18-10zM1915 7209l71 38l-7 12l-70-40zM1884 7203l70 40l-7 11l-69-42zM2014 7277l18 10l-8 14l-18-11zM1879 7211l69 42l-7 11l-68-44zM1956 7258l18 11l-8 12l-17-12zM1981 7273l44 27l-8 13l-43-27zM1899 7235l30 20l-7 11l-30-21zM1937 7260l17 11l-7 12l-17-12zM1975 7284l43 28l-9 13l-42-29zM1893 7244l18 12l-8 10l-17-12zM1930 7269l105 71l-10 14l-102-74zM1863 7235l17 12l-7 10l-17-13zM1887 7253l127 91l-10 13l-124-95zM2033 7358l17 12l-10 14l-17-12zM1857 7243l41 31l-8 9l-40-32zM1905 7279l148 113l-11 14l-145-117zM1875 7269l16 13l-8 10l-16-14zM1945 7326l16 13l-9 11l-16-13zM1980 7354l16 13l-10 13l-16-14zM2027 7391l28 23l-12 14l-28-23zM2062 7420l16 13l-12 15l-16-14zM1868 7277l27 23l-8 10l-27-24zM1925 7326l16 13l-9 11l-16-14zM1994 7384l16 14l-12 13l-15-14zM2040 7423l38 33l-13 15l-38-34zM1861 7285l16 14l-9 9l-15-14zM2029 7435l15 14l-13 14l-15-14zM2051 7455l27 24l-14 15l-26-25zM1854 7293l26 24l-9 10l-25-26zM2050 7478l27 25l-15 15l-25-26zM1858 7311l25 25l-9 9l-25-26zM2049 7501l15 15l-15 15l-15-16zM1871 7340l24 26l-10 10l-24-27zM2036 7514l14 15l-15 14l-14-15zM1872 7359l24 27l-11 9l-23-27zM2023 7526l24 27l-16 14l-23-28zM2019 7549l23 28l-16 14l-23-28z"/>
<path fill="#6cdb00" d="M1609 7037l44 14l-2 4l-43-16zM1704 7067l120 38l-4 14l-118-45zM1838 7109l25 8l-6 16l-24-9zM1758 7095l24 9l-4 12l-24-11zM1796 7109l118 44l-8 19l-116-51zM1809 7129l24 10l-7 15l-23-12zM1846 7145l24 10l-8 17l-24-12zM1882 7161l24 10l-9 19l-23-12zM1947 6703l16-13l10 12l-16 13zM1944 6723l16-13l9 12l-16 12zM1952 6733l16-13l9 12l-17 13zM1954 6762l18-12l8 12l-18 12zM1961 6772l18-11l8 12l-18 11zM1968 6783l18-11l7 13l-18 10zM1974 6794l18-11l7 13l-18 10zM1980 6804l19-10l6 13l-18 10zM1986 6815l19-9l6 13l-19 9zM1991 6826l19-9l6 14l-19 8zM1996 6838l20-9l5 14l-19 8zM1987 6855l34-14l5 14l-34 12zM2006 6861l19-8l5 14l-20 7zM2010 6872l20-7l4 14l-20 7zM2014 6884l20-6l4 14l-20 5zM2017 6896l21-6l3 14l-20 5zM2006 6912l50-13l3 14l-50 12zM2009 6923l35-8l3 14l-35 7zM2012 6935l50-10l2 15l-50 8zM2029 6944l20-4l3 15l-21 3zM2016 6958l35-5l2 15l-35 4zM2032 6969l21-3l2 15l-21 1zM2019 6982l21-2l1 14l-21 2zM2005 6995l36-2l0 14l-36 1zM2005 7007l36-2l1 14l-36 1zM1991 7019l51-1l0 14l-51-1zM1991 7030l36 0l-1 14l-36-2zM1975 7040l66 3l0 14l-66-4zM2005 7053l21 1l-1 14l-21-2zM2004 7065l21 2l-2 13l-21-2zM2003 7076l21 3l-2 13l-21-3zM1971 7083l36 5l-2 14l-35-7zM1985 7096l20 4l-2 13l-21-4zM1982 7107l21 5l-3 13l-20-5zM1980 7118l21 5l-4 13l-20-5zM1978 7129l20 5l-4 13l-20-6zM1960 7136l20 6l-3 12l-20-6zM1957 7146l34 11l-4 13l-34-12zM1925 7147l77 26l-5 13l-76-29zM1936 7161l34 13l-5 12l-33-14zM1904 7160l48 19l-5 11l-47-20zM1960 7182l20 8l-6 12l-19-8zM1901 7169l33 14l-5 11l-33-15zM1898 7288l51 41l-9 12l-50-43zM1956 7335l29 23l-11 12l-27-24zM1992 7363l39 32l-11 14l-39-33zM1891 7297l39 33l-10 10l-37-34zM1937 7335l61 53l-11 13l-60-55zM2005 7394l39 33l-12 14l-38-34zM1872 7295l61 54l-10 11l-59-56zM1939 7355l27 24l-11 12l-26-25zM1973 7385l60 54l-12 14l-59-56zM2040 7445l16 14l-14 15l-15-15zM1876 7313l59 56l-11 11l-57-58zM1941 7375l16 14l-11 12l-15-15zM1974 7406l15 14l-12 13l-15-15zM1996 7427l15 14l-13 13l-14-15zM2040 7468l15 14l-14 15l-15-15zM1879 7332l47 46l-11 11l-46-48zM2028 7480l25 25l-15 15l-24-26zM1891 7362l35 37l-11 10l-34-38zM2005 7481l35 37l-15 14l-34-38zM1892 7381l14 16l-11 10l-14-16zM1912 7404l14 15l-12 11l-13-16zM2003 7504l24 26l-16 14l-23-27zM1883 7390l23 27l-12 10l-23-28zM2009 7538l14 16l-16 13l-13-16z"/>
<path fill="#c8ff30" d="M1571 7025l24 9l-1 1l-23-10zM1607 7041l43 18l-3 5l-41-21zM1681 7073l24 10l-4 8l-23-12zM1696 7087l23 12l-4 8l-23-13zM1705 7111l39 25l-7 10l-37-27zM1733 7142l21 15l-8 10l-20-16zM1727 7150l67 54l-11 12l-64-57zM1764 7198l50 44l-13 14l-47-47zM1812 7265l18 18l-15 14l-17-19zM1979 6695l16-14l10 13l-16 13zM1976 6715l16-13l10 13l-17 12zM1984 6726l17-13l9 13l-17 12zM1979 6745l17-12l9 13l-18 12zM1986 6756l18-11l8 13l-18 11zM2000 6779l18-11l8 14l-19 10zM2007 6790l18-10l7 14l-19 9zM2013 6802l18-10l7 14l-19 9zM2018 6814l19-9l7 14l-19 8zM2038 6820l19-9l6 15l-19 8zM2043 6832l19-8l6 15l-20 7zM2048 6845l20-8l5 15l-20 7zM2071 6866l20-7l5 16l-20 6zM2075 6879l35-10l4 17l-35 8zM2093 6889l21-5l4 16l-21 5zM2097 6903l20-5l4 17l-21 4zM2100 6917l20-4l4 16l-21 4zM2105 6945l21-3l2 17l-21 2zM2107 6959l35-4l2 17l-36 4zM2123 6972l21-2l1 18l-20 1zM2124 6987l21-1l1 17l-21 1zM2125 7002l21-1l1 17l-21 1zM2126 7017l21-1l0 18l-21-1zM2126 7031l21 1l-1 17l-21-1zM2110 7046l36 1l-1 17l-36-2zM2125 7061l20 1l-1 18l-21-2zM2123 7076l21 2l-2 17l-20-3zM2107 7089l21 2l-2 17l-21-3zM2105 7103l36 5l-3 17l-36-6zM2103 7117l20 4l-3 16l-20-4zM2100 7131l21 4l-4 17l-20-5zM2097 7145l21 5l-4 16l-21-5zM2104 7177l21 6l-5 16l-20-6zM2086 7187l20 6l-5 16l-20-7zM2081 7200l20 7l-6 16l-19-7zM2077 7214l33 13l-6 16l-33-14zM2087 7266l33 16l-8 16l-33-16zM2080 7280l33 16l-9 16l-32-17zM2087 7301l18 9l-9 16l-18-10zM2092 7322l18 10l-9 16l-18-11zM2084 7335l31 19l-10 16l-31-19zM2088 7357l18 11l-11 16l-17-12zM2113 7373l18 12l-11 16l-17-12zM2104 7388l42 28l-12 17l-41-30zM2094 7402l54 38l-13 17l-52-40zM2108 7434l40 30l-13 18l-40-32zM2120 7467l16 13l-13 17l-16-14zM1819 7286l14 15l-8 8l-14-16zM1812 7292l34 38l-9 8l-33-39zM1844 7344l13 16l-10 8l-13-16zM2861 7980l17 12l-17 22l-17-13zM2885 7998l17 12l-17 22l-17-12zM2156 7470l16 13l-7 10l-17-13zM2800 7961l29 21l-17 21l-28-22zM2836 7988l29 22l-17 21l-28-22zM2811 7995l29 22l-17 22l-28-23zM2144 7485l16 14l-8 9l-16-13zM2763 7984l52 41l-17 21l-51-43zM2126 7483l28 23l-9 10l-27-23zM2750 7999l40 33l-18 20l-38-33zM2120 7491l38 33l-8 10l-38-34zM2714 7995l73 63l-17 20l-72-63zM2113 7498l28 24l-9 9l-27-24zM2679 7991l15 14l-16 18l-16-14zM2701 8011l16 13l-17 20l-15-15zM2724 8030l16 14l-18 20l-15-14zM2746 8050l16 14l-17 20l-16-14zM2118 7515l16 14l-9 10l-15-15zM2632 7976l83 74l-18 19l-81-76zM2112 7522l26 25l-9 9l-26-25zM2630 8000l38 34l-17 19l-37-36zM2105 7530l26 24l-9 10l-26-26zM2596 7993l15 15l-17 17l-15-15zM2617 8014l27 24l-18 18l-25-25zM2683 8076l15 14l-18 19l-15-15zM2109 7547l26 25l-9 10l-26-26zM2561 7986l15 14l-16 17l-15-15zM2583 8007l15 14l-17 17l-15-14zM2102 7554l36 36l-9 10l-36-37zM2144 7597l15 14l-10 10l-14-15zM2548 7999l26 25l-17 17l-25-26zM2580 8031l15 14l-17 18l-15-16zM2095 7561l36 37l-10 9l-35-37zM2514 7990l15 15l-17 16l-14-15zM2535 8012l36 36l-18 17l-35-37zM2098 7579l14 15l-9 9l-14-15zM2129 7612l15 15l-11 9l-14-15zM2512 8014l45 48l-17 16l-45-49zM2080 7575l45 48l-10 10l-44-50zM2519 8048l24 27l-18 16l-24-27zM2093 7604l24 27l-10 9l-24-27zM2495 8050l24 26l-18 16l-23-27zM2075 7600l34 38l-10 9l-33-39zM2481 8062l24 27l-18 15l-23-27zM2068 7606l23 28l-10 8l-23-27zM2107 7652l13 16l-10 9l-14-16zM2448 8051l33 39l-18 15l-32-39zM2070 7624l42 51l-11 9l-42-51zM2434 8063l23 27l-18 15l-22-28z"/>
<path fill="#a9ff2c" d="M1589 7032l25 9l-1 2l-24-10zM1646 7053l43 16l-3 7l-42-19zM1714 7096l41 21l-6 10l-40-23zM1710 7104l57 33l-7 11l-55-36zM1739 7133l39 25l-8 11l-37-27zM1717 7130l21 15l-7 9l-20-16zM1749 7153l38 27l-10 12l-35-29zM1789 7200l51 42l-12 15l-49-45zM1809 7238l34 31l-14 15l-32-33zM1967 6704l17-13l9 12l-16 13zM2024 6826l19-9l6 15l-19 7zM2029 6838l19-8l6 14l-20 8zM2034 6850l19-7l6 14l-20 7zM2052 6857l20-6l5 15l-20 6zM2057 6870l20-6l4 15l-20 6zM2079 6893l20-6l4 16l-20 5zM2082 6906l21-4l3 16l-21 4zM2085 6920l21-4l3 16l-21 3zM2088 6934l35-7l3 17l-36 5zM2108 6974l21-2l2 17l-21 1zM2109 6988l21-1l1 17l-21 0zM2110 7002l21 0l1 16l-21 1zM2111 7017l21-1l0 17l-21 0zM2111 7031l21 0l-1 17l-21-1zM2110 7060l21 1l-2 17l-21-2zM2108 7074l21 2l-1 17l-21-3zM2092 7087l21 2l-2 17l-21-4zM2090 7101l21 3l-3 16l-20-4zM2072 7182l20 7l-6 15l-19-7zM2053 7191l34 11l-6 16l-33-13zM2062 7209l20 7l-6 15l-19-8zM2060 7254l19 9l-8 15l-18-10zM2054 7267l32 16l-8 15l-32-17zM2047 7279l45 24l-9 16l-44-25zM2053 7299l44 26l-9 15l-43-26zM2046 7312l43 26l-9 16l-43-28zM2050 7333l18 11l-10 15l-17-12zM2076 7349l17 11l-10 16l-17-12zM2067 7362l42 29l-11 16l-42-30zM2058 7375l41 30l-12 16l-40-31zM2072 7406l41 31l-13 16l-40-32zM2097 7448l28 22l-14 17l-27-24zM2108 7481l16 14l-14 16l-16-14zM2096 7495l15 14l-14 16l-16-14zM2083 7509l15 14l-15 16l-15-15zM1826 7279l25 25l-8 9l-25-27zM1829 7296l35 37l-9 9l-34-38zM1842 7326l24 26l-10 9l-23-27zM2884 8024l16 13l-17 22l-16-13zM2847 8023l16 13l-17 22l-16-14zM2783 8054l50 42l-18 21l-50-43zM2107 7505l16 14l-9 9l-15-14zM2710 8046l27 24l-18 19l-26-24zM2755 8086l16 14l-19 20l-15-15zM2101 7512l15 14l-8 10l-16-15zM2664 8030l15 14l-17 19l-15-15zM2730 8091l15 14l-18 20l-15-15zM2094 7519l15 15l-8 9l-15-15zM2606 8003l16 15l-17 17l-15-14zM2639 8034l26 25l-17 18l-26-25zM2672 8065l15 15l-18 18l-15-14zM2770 8158l15 14l-19 21l-15-15zM2098 7537l15 14l-9 9l-14-15zM2593 8017l48 46l-18 18l-46-47zM2647 8069l37 36l-18 18l-36-36zM2755 8174l15 14l-20 20l-15-14zM2091 7544l15 14l-9 9l-14-15zM2569 8020l15 15l-17 17l-14-15zM2591 8041l36 36l-18 18l-36-37zM2644 8094l15 15l-19 18l-14-15zM2665 8115l15 15l-19 19l-14-15zM2686 8137l15 14l-19 19l-14-15zM2739 8189l15 15l-20 20l-14-15zM2084 7550l15 16l-9 8l-15-15zM2567 8044l56 58l-18 17l-56-58zM2661 8141l15 15l-20 18l-14-15zM2077 7557l25 26l-9 9l-25-26zM2553 8057l45 48l-18 17l-45-48zM2605 8112l24 26l-18 17l-25-26zM2060 7553l24 26l-9 9l-24-27zM2539 8070l25 27l-19 16l-24-27zM2570 8103l14 16l-19 16l-14-15zM2590 8125l14 16l-19 17l-14-16zM2610 8147l15 16l-19 17l-15-16zM2053 7559l44 49l-10 9l-43-50zM2515 8072l34 38l-18 16l-34-38zM2606 8172l14 16l-20 17l-14-16zM2066 7588l13 16l-9 9l-14-16zM2501 8084l63 72l-19 17l-62-73zM2580 8174l14 16l-20 17l-13-16zM2048 7583l24 28l-10 8l-23-28zM2477 8085l33 39l-18 16l-33-40zM2536 8154l23 27l-20 16l-22-27zM2041 7590l32 39l-10 8l-32-39zM2453 8086l33 39l-19 15l-32-40zM2492 8132l13 16l-19 15l-13-16zM2511 8155l23 27l-20 16l-22-28z"/>
<path fill="#8dff14" d="M1608 7039l43 16l-2 4l-42-18zM1683 7067l43 16l-3 9l-42-19zM1699 7081l61 26l-5 11l-59-30zM1750 7114l59 30l-8 13l-57-33zM1762 7134l57 32l-8 14l-56-36zM1849 7183l40 23l-11 18l-39-25zM1773 7154l72 47l-10 15l-70-50zM1782 7177l21 15l-10 13l-20-17zM1836 7238l20 16l-14 16l-19-17zM1959 6694l15-14l11 12l-17 13zM1964 6724l16-13l10 13l-17 12zM1972 6734l17-12l8 13l-17 12zM1974 6764l17-11l8 13l-18 11zM1981 6775l18-11l7 13l-18 11zM1987 6786l18-10l8 13l-19 10zM1993 6797l19-10l7 14l-19 9zM1999 6809l19-10l7 14l-19 9zM2005 6820l19-9l6 14l-19 8zM2010 6832l19-9l6 14l-19 8zM2038 6862l20-6l5 14l-20 7zM2042 6875l20-6l5 14l-20 6zM2061 6883l20-5l4 15l-20 5zM2064 6896l21-5l3 16l-20 4zM2068 6910l20-5l3 16l-20 4zM2070 6923l21-4l3 15l-21 4zM2073 6936l21-3l2 15l-21 3zM2060 6952l51-8l2 17l-51 6zM2062 6965l51-6l1 16l-50 5zM2094 6989l21-1l1 16l-21 1zM2081 7017l36 0l0 16l-36 0zM2050 7043l21 1l0 15l-21-1zM2095 7045l21 1l-1 16l-21-1zM2065 7057l51 3l-2 17l-51-5zM2049 7069l65 6l-1 16l-66-8zM2047 7081l21 3l-2 15l-21-3zM2044 7107l20 3l-2 15l-21-4zM2039 7132l20 4l-3 15l-21-5zM2014 7164l20 7l-4 13l-20-6zM2010 7176l34 12l-5 14l-33-13zM2020 7193l20 7l-6 14l-19-8zM2016 7205l19 8l-6 14l-19-9zM1997 7211l47 20l-7 14l-46-22zM2005 7228l33 15l-7 14l-32-16zM2000 7240l59 29l-8 15l-58-31zM1901 7202l19 9l-6 11l-18-11zM1981 7244l71 38l-8 15l-70-41zM1949 7240l70 40l-8 13l-69-42zM2027 7285l31 17l-8 15l-31-19zM1943 7250l18 11l-7 11l-18-11zM1969 7266l18 10l-8 13l-18-12zM2020 7297l31 18l-9 15l-30-20zM1874 7219l30 20l-7 10l-29-21zM1949 7268l31 19l-8 13l-30-21zM2012 7308l43 28l-9 14l-42-28zM2063 7341l18 11l-10 15l-18-11zM1868 7227l30 21l-7 9l-29-21zM2030 7337l42 29l-11 15l-41-30zM1875 7244l17 12l-7 10l-17-13zM2009 7340l29 21l-10 14l-29-22zM2045 7367l18 12l-11 14l-17-12zM2048 7388l29 22l-12 15l-28-23zM1851 7250l28 23l-7 9l-28-23zM2050 7410l16 13l-12 15l-16-14zM2073 7429l28 23l-13 15l-27-23zM1845 7258l28 23l-8 9l-27-24zM2074 7452l39 33l-14 16l-38-34zM1839 7265l27 24l-8 9l-26-25zM2074 7475l26 24l-14 16l-26-25zM1832 7272l27 25l-9 8l-25-25zM2072 7499l16 14l-15 15l-15-14zM1847 7300l15 15l-9 9l-14-16zM2059 7512l26 25l-16 16l-24-27zM1860 7329l15 15l-10 9l-14-15zM2046 7525l25 26l-16 15l-24-27zM1862 7348l14 15l-10 9l-14-16zM2043 7548l14 16l-16 14l-14-16zM1853 7355l33 39l-11 10l-32-40zM2833 8156l27 24l-19 21l-27-24zM2661 8055l15 14l-17 19l-15-15zM2716 8106l15 15l-19 19l-15-14zM2087 7526l15 15l-8 9l-15-15zM2636 8059l16 15l-18 18l-15-15zM2690 8111l37 36l-19 19l-36-36zM2733 8153l15 15l-19 19l-15-15zM2081 7533l15 15l-9 9l-15-15zM2623 8073l25 25l-18 18l-25-25zM2654 8105l15 15l-18 18l-15-15zM2771 8221l15 15l-20 20l-15-15zM2074 7540l15 15l-9 8l-15-15zM2619 8098l46 47l-19 18l-45-48zM2067 7546l14 16l-9 8l-14-15zM2594 8101l15 15l-19 17l-14-15zM2625 8133l35 37l-19 18l-34-37zM2560 8092l14 16l-19 16l-14-15zM2580 8114l14 16l-19 17l-14-16zM2600 8136l15 16l-20 17l-14-16zM2545 8105l44 49l-19 17l-43-50zM2595 8161l15 16l-20 17l-14-16zM2046 7566l24 27l-10 8l-23-27zM2560 8152l24 27l-19 17l-24-28zM2039 7572l13 16l-9 8l-14-16zM2506 8119l34 39l-20 16l-32-39zM2031 7578l14 16l-10 8l-13-16zM2482 8120l14 16l-19 16l-13-17zM2501 8143l14 16l-19 16l-14-16z"/>
<path fill="#e4ff18" d="M1571 7025l42 18l-1 3l-41-21zM1644 7057l42 18l-3 7l-41-21zM1678 7079l23 11l-4 7l-22-12zM1692 7094l23 13l-5 8l-22-14zM1701 7118l21 15l-7 9l-20-17zM1695 7125l36 29l-7 9l-34-31zM1720 7158l49 44l-11 11l-46-47zM1755 7208l18 19l-11 11l-18-20zM1783 7237l33 32l-14 14l-31-35zM1970 6684l16-14l10 13l-16 13zM1992 6737l17-12l9 13l-18 11zM1993 6767l18-11l8 14l-18 10zM2026 6795l19-9l7 14l-19 9zM2032 6807l19-9l7 15l-20 8zM2062 6839l20-7l5 15l-20 7zM2067 6853l19-7l6 15l-20 7zM2085 6861l20-6l5 16l-20 6zM2108 6885l20-5l4 17l-20 4zM2111 6899l21-4l3 17l-20 4zM2115 6914l20-4l3 17l-20 3zM2117 6928l21-3l3 17l-21 3zM2120 6943l20-3l3 17l-21 3zM2137 6956l20-3l2 18l-21 2zM2140 7001l21-1l1 18l-21 0zM2141 7016l21 0l0 18l-21 0zM2141 7032l21 0l-1 18l-21-1zM2139 7062l21 1l-1 18l-21-2zM2138 7077l21 2l-2 18l-21-3zM2122 7090l21 3l-3 17l-20-3zM2118 7120l35 6l-3 17l-36-7zM2115 7134l20 4l-3 17l-21-5zM2108 7163l21 5l-5 17l-20-6zM2100 7191l35 11l-6 17l-34-12zM2096 7205l34 12l-6 17l-34-13zM2105 7224l19 8l-6 16l-20-8zM2099 7239l33 13l-7 17l-33-15zM2107 7259l33 14l-8 17l-32-15zM2114 7279l19 9l-8 17l-19-10zM2107 7293l32 17l-8 17l-32-18zM2100 7308l32 17l-10 16l-31-18zM2105 7329l31 18l-9 17l-31-19zM2144 7351l19 11l-11 17l-18-11zM2110 7351l43 26l-11 18l-42-28zM2101 7365l18 11l-11 17l-18-12zM2126 7381l43 28l-12 18l-42-29zM2141 7413l30 20l-13 18l-29-21zM1814 7310l34 39l-10 8l-32-40zM2873 7937l18 12l-16 22l-17-13zM2898 7954l17 12l-16 22l-17-12zM2155 7445l17 13l-7 10l-17-13zM2825 7927l29 21l-16 22l-29-22zM2149 7453l17 13l-7 10l-17-13zM2173 7471l17 13l-7 10l-17-13zM2788 7926l29 22l-15 20l-29-21zM2825 7953l41 30l-17 22l-40-31zM2144 7461l16 13l-7 9l-17-13zM2788 7951l17 13l-16 21l-17-13zM2138 7468l40 32l-8 10l-40-32zM2740 7940l29 22l-16 20l-28-23zM2132 7476l16 13l-8 10l-16-14zM2155 7495l17 13l-9 10l-16-13zM2681 7918l87 69l-17 20l-85-71zM2149 7502l39 33l-8 10l-39-33zM2669 7932l16 14l-15 18l-16-13zM2692 7952l28 22l-16 20l-27-24zM2727 7980l28 23l-17 20l-27-24zM2154 7520l16 13l-9 10l-15-13zM2177 7539l16 14l-9 10l-16-14zM2646 7937l39 33l-16 19l-39-34zM2691 7976l28 23l-17 20l-27-24zM2136 7518l27 23l-9 10l-26-24zM2181 7557l16 14l-9 10l-16-14zM2633 7951l50 44l-16 18l-49-44zM2129 7525l27 24l-9 10l-26-24zM2185 7575l16 14l-10 11l-15-15zM2610 7956l27 24l-17 17l-26-24zM2134 7543l26 24l-9 10l-26-25zM2586 7959l49 45l-17 18l-48-46zM2127 7550l48 46l-10 10l-47-47zM2181 7602l26 24l-10 11l-26-25zM2574 7973l26 24l-17 17l-25-25zM2130 7568l37 35l-10 10l-36-36zM2174 7610l25 25l-10 10l-25-25zM2260 7693l15 15l-12 12l-15-15zM2550 7975l15 15l-16 17l-15-15zM2572 7996l15 15l-17 17l-15-15zM2134 7586l15 15l-10 9l-15-15zM2155 7607l15 15l-10 10l-15-15zM2261 7713l15 15l-12 12l-14-15zM2495 7946l15 15l-16 15l-15-15zM2516 7967l36 36l-16 16l-36-36zM2126 7593l46 48l-10 10l-45-48zM2504 7980l14 15l-16 15l-14-15zM2525 8001l14 15l-16 16l-15-15zM2108 7590l25 26l-10 9l-24-26zM2139 7622l25 27l-10 9l-25-26zM2491 7992l25 26l-17 16l-24-27zM2121 7619l35 37l-11 10l-34-38zM2458 7982l14 16l-17 15l-14-16zM2478 8004l45 49l-18 15l-44-49zM2113 7626l34 38l-10 10l-34-39zM2254 7782l14 16l-13 11l-14-15zM2445 7994l54 60l-17 15l-54-61zM2105 7633l54 61l-12 10l-52-62zM2432 8005l53 61l-17 15l-53-61zM2087 7629l24 27l-11 9l-23-27zM2117 7663l33 39l-12 10l-32-40zM2419 8017l33 39l-18 14l-32-39zM2108 7671l23 27l-11 10l-23-29zM2156 7728l13 16l-12 10l-13-16zM2396 8016l13 17l-17 14l-13-17zM2415 8039l23 28l-18 15l-22-28z"/>
<path fill="#ffe600" d="M1571 7025l59 29l-2 4l-57-33zM1623 7054l75 43l-5 7l-72-47zM1571 7025l72 46l-3 4l-69-50zM1655 7079l39 25l-5 7l-37-27zM1571 7025l21 15l-1 1l-20-16zM1603 7048l21 15l-2 3l-20-16zM1636 7072l53 38l-5 7l-51-42zM1586 7037l36 29l-2 3l-34-31zM1649 7087l20 17l-5 5l-19-17zM1571 7025l79 71l-4 4l-75-75zM1660 7105l19 17l-5 6l-19-18zM1571 7025l117 117l-7 6l-110-123zM1597 7055l112 123l-9 7l-104-129zM1718 7188l17 19l-10 10l-16-21zM1996 6717l17-13l9 14l-17 12zM2004 6728l17-12l9 14l-17 11zM2039 6788l19-9l7 15l-19 9zM2046 6801l19-9l6 15l-19 8zM2100 6857l20-7l5 17l-21 6zM2126 6896l20-5l4 18l-20 4zM2149 6939l21-4l2 19l-20 2zM2151 6954l21-3l2 19l-21 2zM2153 6969l21-1l1 18l-21 1zM2154 6985l21-1l1 18l-21 1zM2171 7032l21 0l-1 19l-21-1zM2169 7064l21 1l-1 19l-21-2zM2168 7080l21 2l-2 18l-21-2zM2150 7109l20 3l-3 18l-20-3zM2147 7125l21 3l-4 18l-20-4zM2144 7140l21 4l-4 18l-20-5zM2141 7155l20 5l-4 18l-20-6zM2137 7170l21 6l-5 17l-20-6zM2133 7185l35 10l-6 18l-34-11zM2143 7205l20 6l-6 18l-20-7zM2133 7235l33 13l-7 17l-33-13zM2148 7277l19 8l-8 18l-19-9zM2141 7292l33 15l-9 18l-32-16zM2147 7314l59 29l-9 19l-59-31zM2166 7343l45 24l-11 19l-44-25zM2183 7374l19 10l-11 19l-18-11zM2174 7390l18 11l-12 18l-17-11zM2196 7381l19 10l-7 11l-18-11zM2194 7414l31 19l-7 11l-30-20zM2189 7422l43 27l-7 11l-43-28zM2196 7438l30 20l-7 11l-30-20zM2234 7463l17 12l-7 11l-18-12zM2191 7447l17 11l-7 11l-17-12zM2228 7472l42 29l-8 11l-42-29zM2823 7877l30 20l-15 22l-29-21zM2861 7902l17 12l-15 22l-17-12zM2210 7472l54 38l-8 11l-54-38zM2738 7842l30 21l-15 20l-29-22zM2800 7885l17 12l-15 21l-17-13zM2216 7489l41 30l-8 12l-41-31zM2289 7542l17 12l-9 12l-17-12zM2630 7787l29 21l-13 18l-29-21zM2727 7857l42 30l-15 20l-41-30zM2198 7489l65 48l-9 12l-64-50zM2282 7551l17 13l-9 12l-17-13zM2620 7801l41 31l-14 18l-41-31zM2692 7855l53 39l-15 20l-52-40zM2752 7899l17 13l-15 20l-17-13zM2203 7506l89 68l-10 12l-87-69zM2311 7588l40 31l-10 13l-40-32zM2406 7661l17 12l-11 15l-17-13zM2526 7752l28 21l-12 17l-29-22zM2597 7806l53 40l-14 18l-52-41zM2657 7852l40 30l-14 19l-40-31zM2705 7888l16 13l-15 19l-16-13zM2197 7515l158 124l-10 13l-156-127zM2421 7690l17 13l-12 15l-16-14zM2492 7746l17 13l-13 15l-16-13zM2528 7773l52 41l-14 17l-51-42zM2599 7829l75 59l-15 18l-74-60zM2225 7551l17 13l-9 12l-17-14zM2249 7570l86 69l-10 13l-86-71zM2342 7645l52 41l-12 14l-50-42zM2401 7692l16 13l-11 14l-17-13zM2424 7711l28 22l-12 15l-28-23zM2494 7767l75 60l-14 17l-73-61zM2588 7843l28 22l-14 18l-28-24zM2623 7871l28 22l-15 18l-28-23zM2218 7560l16 13l-9 11l-16-13zM2241 7579l132 109l-11 13l-130-111zM2380 7694l74 61l-12 14l-73-62zM2473 7770l16 13l-13 16l-16-14zM2496 7789l120 99l-15 18l-118-101zM2223 7578l16 14l-10 11l-16-14zM2245 7598l348 295l-15 17l-342-301zM2600 7898l16 14l-15 17l-16-13zM2215 7587l16 14l-10 11l-15-15zM2238 7606l16 14l-11 12l-15-14zM2260 7626l50 44l-11 12l-49-44zM2317 7675l16 14l-12 13l-15-14zM2339 7695l197 172l-14 16l-194-175zM2543 7873l38 33l-15 17l-37-34zM2230 7615l16 14l-11 12l-15-15zM2252 7635l16 14l-11 12l-15-14zM2275 7655l26 24l-11 12l-26-24zM2330 7705l16 14l-12 13l-15-14zM2353 7725l60 54l-13 14l-59-55zM2420 7785l150 134l-16 17l-147-136zM2222 7624l15 14l-10 11l-15-14zM2255 7654l16 15l-11 11l-16-14zM2332 7726l16 14l-12 13l-15-15zM2354 7746l38 34l-13 14l-37-35zM2399 7786l81 76l-14 15l-80-77zM2498 7878l26 24l-14 16l-26-25zM2542 7918l38 35l-16 17l-37-35zM2247 7663l15 15l-11 11l-15-14zM2312 7725l103 97l-14 14l-101-98zM2443 7849l37 35l-15 15l-36-36zM2497 7900l27 25l-16 16l-25-25zM2541 7942l15 14l-15 16l-15-14zM2303 7735l58 57l-13 13l-57-58zM2367 7798l26 25l-13 14l-26-26zM2410 7840l15 14l-14 14l-14-14zM2443 7871l36 35l-15 16l-36-37zM2486 7913l26 25l-16 15l-25-25zM2357 7808l15 15l-14 13l-14-15zM2389 7840l15 15l-14 14l-15-15zM2431 7882l26 26l-15 15l-25-26zM2474 7925l15 15l-16 15l-14-15zM2221 7690l14 15l-11 11l-15-15zM2346 7819l15 15l-14 13l-14-15zM2284 7775l15 15l-13 12l-15-15zM2336 7829l25 26l-14 13l-25-26zM2203 7707l14 15l-12 11l-14-15zM2284 7795l15 15l-14 13l-14-16zM2345 7861l15 15l-15 14l-14-16zM2417 7938l14 16l-16 14l-14-16zM2284 7816l14 15l-14 12l-13-16zM2174 7712l14 16l-12 10l-13-16zM2214 7757l24 27l-13 12l-23-28zM2175 7732l14 16l-13 10l-13-16zM2194 7774l14 16l-13 11l-13-16zM2252 7843l13 17l-14 11l-13-16zM2281 7878l13 16l-15 12l-13-16zM2309 7913l14 16l-15 12l-14-16z"/>
<path fill="#fff500" d="M1624 7052l59 29l-3 7l-57-33zM1638 7068l22 14l-3 5l-22-15zM1689 7100l21 14l-5 8l-21-15zM1587 7036l21 16l-2 2l-20-17zM1619 7060l21 15l-2 4l-21-16zM1684 7107l21 15l-5 7l-20-16zM1571 7025l20 16l-1 1l-19-17zM1617 7062l36 29l-4 5l-34-31zM1664 7100l36 29l-6 7l-34-31zM1645 7092l20 17l-5 5l-19-18zM1675 7118l49 44l-8 9l-46-47zM1684 7138l75 75l-11 10l-71-79zM1769 7222l18 19l-12 12l-17-20zM1705 7173l17 20l-10 8l-16-20zM1731 7203l85 94l-16 13l-79-98zM1981 6674l16-14l11 13l-16 14zM1991 6685l16-13l10 13l-16 13zM1987 6706l17-13l10 13l-17 12zM1999 6748l18-11l8 13l-18 11zM2006 6759l18-10l8 13l-18 11zM2013 6771l18-10l8 14l-18 10zM2020 6783l18-10l8 14l-19 10zM2051 6814l20-9l6 15l-20 8zM2057 6826l19-8l6 16l-19 7zM2076 6834l20-7l5 16l-20 6zM2081 6848l20-7l5 16l-20 6zM2104 6871l20-6l5 17l-21 5zM2129 6911l21-4l3 17l-21 4zM2132 6926l21-4l3 18l-21 3zM2134 6941l21-3l3 17l-21 3zM2138 6971l21-2l1 18l-20 1zM2139 6986l21-1l1 17l-21 1zM2155 7001l21-1l1 18l-21 0zM2156 7016l21 0l0 18l-21 0zM2156 7032l21 0l-1 18l-21-1zM2140 7047l36 1l-1 18l-36-2zM2154 7063l21 1l-1 18l-21-2zM2153 7078l21 2l-2 18l-21-2zM2137 7092l35 4l-2 18l-36-5zM2135 7107l21 3l-3 18l-21-4zM2130 7137l20 4l-4 17l-20-4zM2126 7152l21 4l-4 18l-21-6zM2123 7167l20 5l-5 17l-20-6zM2119 7181l20 6l-5 17l-20-6zM2129 7200l20 7l-6 17l-20-7zM2124 7215l34 12l-6 17l-34-12zM2119 7230l19 7l-6 17l-20-8zM2127 7250l33 13l-7 18l-33-15zM2134 7271l20 8l-8 17l-19-9zM2128 7285l19 9l-9 18l-18-10zM2134 7307l19 9l-9 18l-19-10zM2126 7322l45 24l-10 18l-44-26zM2131 7344l18 10l-10 18l-18-11zM2157 7359l32 18l-11 18l-31-19zM2148 7374l31 19l-11 18l-31-20zM2164 7406l18 11l-12 18l-18-12zM2143 7437l17 12l-13 18l-17-13zM1805 7298l13 16l-9 8l-13-17zM2182 7406l18 11l-7 10l-18-11zM2177 7414l17 11l-7 11l-17-12zM2171 7422l30 20l-7 10l-29-20zM2166 7430l30 20l-7 10l-30-20zM2203 7455l30 20l-8 11l-29-20zM2898 7928l17 11l-15 23l-18-12zM2161 7438l54 37l-8 11l-53-39zM2824 7902l17 12l-15 21l-17-12zM2861 7928l17 12l-15 22l-17-13zM2167 7454l54 39l-8 11l-53-40zM2788 7901l41 30l-15 21l-41-30zM2161 7462l17 13l-7 10l-17-13zM2186 7480l16 12l-8 11l-16-13zM2740 7891l17 12l-15 20l-17-13zM2776 7917l17 13l-15 20l-17-13zM2168 7479l40 31l-8 11l-40-32zM2693 7879l16 12l-14 19l-17-13zM2728 7906l17 13l-15 19l-16-13zM2173 7496l29 22l-9 11l-28-23zM2669 7884l76 60l-16 19l-74-60zM2167 7504l63 51l-9 11l-62-52zM2237 7561l16 13l-9 11l-16-13zM2646 7890l40 31l-15 19l-39-33zM2184 7531l39 33l-9 11l-39-34zM2230 7569l16 14l-9 11l-16-14zM2611 7885l63 51l-16 19l-61-53zM2681 7942l16 13l-16 19l-16-14zM2716 7971l16 13l-17 19l-16-13zM2165 7530l16 13l-8 10l-16-14zM2188 7549l39 33l-9 11l-39-34zM2234 7588l16 13l-10 12l-16-14zM2588 7889l16 13l-14 18l-16-14zM2611 7908l39 33l-15 18l-39-34zM2680 7966l16 14l-16 19l-16-14zM2159 7537l27 24l-9 10l-27-24zM2193 7567l27 24l-10 10l-27-24zM2226 7597l16 13l-10 12l-15-14zM2249 7616l16 14l-10 12l-16-14zM2306 7666l15 13l-11 13l-15-14zM2328 7685l16 14l-11 13l-16-14zM2577 7902l61 53l-16 18l-60-54zM2152 7545l38 34l-10 11l-37-35zM2196 7585l38 34l-10 11l-37-34zM2241 7625l16 14l-11 12l-15-15zM2263 7645l16 14l-11 12l-15-14zM2297 7675l38 34l-12 13l-37-35zM2342 7715l15 14l-12 13l-15-14zM2409 7775l15 14l-13 15l-15-15zM2565 7915l49 45l-16 17l-48-45zM2156 7563l70 65l-10 11l-69-66zM2233 7634l27 25l-11 11l-26-25zM2266 7665l71 65l-12 12l-70-66zM2343 7736l16 14l-12 13l-16-14zM2388 7776l15 15l-13 13l-15-14zM2476 7858l26 24l-14 15l-26-24zM2520 7898l27 25l-16 16l-26-25zM2575 7949l16 14l-16 17l-15-14zM2170 7591l16 15l-10 10l-15-15zM2203 7622l48 46l-11 11l-47-46zM2258 7674l58 55l-11 13l-58-57zM2410 7818l37 35l-14 15l-36-36zM2476 7880l26 25l-15 15l-26-25zM2519 7921l26 25l-15 16l-26-25zM2552 7952l26 25l-16 16l-26-25zM2163 7599l15 15l-10 10l-15-15zM2195 7631l69 67l-11 11l-68-68zM2270 7704l37 35l-12 13l-36-37zM2357 7787l15 15l-14 13l-14-15zM2389 7819l26 25l-14 14l-26-26zM2421 7850l26 25l-14 15l-26-26zM2475 7902l15 15l-15 15l-15-15zM2507 7934l48 46l-17 16l-46-47zM2166 7618l100 99l-12 12l-98-101zM2272 7724l89 89l-13 13l-88-91zM2368 7819l25 25l-14 14l-25-26zM2399 7851l37 36l-15 14l-36-37zM2453 7904l25 25l-15 15l-25-26zM2484 7935l15 15l-15 16l-15-15zM2506 7957l15 14l-16 16l-15-15zM2168 7636l57 58l-11 11l-56-59zM2231 7701l120 122l-14 13l-117-124zM2357 7829l151 155l-16 16l-149-157zM2160 7644l128 135l-13 12l-125-137zM2294 7785l46 48l-14 13l-44-48zM2357 7851l138 145l-16 16l-136-148zM2152 7652l55 59l-12 11l-54-60zM2213 7718l75 81l-13 12l-74-82zM2294 7806l56 59l-15 13l-54-60zM2356 7872l65 71l-16 14l-64-72zM2427 7949l35 38l-17 14l-34-38zM2468 7993l14 16l-17 15l-14-16zM2143 7660l115 127l-13 11l-112-129zM2264 7793l24 27l-13 12l-24-27zM2294 7827l155 171l-17 15l-152-174zM2155 7690l23 27l-11 10l-24-27zM2184 7724l34 38l-12 11l-33-39zM2234 7780l202 230l-17 14l-198-233zM2146 7698l33 38l-12 10l-33-39zM2185 7743l238 278l-17 14l-233-282zM2127 7694l33 39l-12 10l-32-40zM2166 7740l32 39l-13 10l-32-39zM2204 7786l52 62l-14 11l-51-63zM2261 7855l24 28l-15 12l-23-29zM2290 7890l23 27l-15 13l-22-28zM2319 7924l81 97l-17 14l-79-98zM2405 8028l14 16l-17 14l-14-16z"/>
<path fill="#ffd502" d="M1571 7025l57 32l-2 4l-55-36zM1571 7025l31 34l-2 2l-29-36zM1993 6664l16-13l11 13l-17 13zM1999 6696l17-12l10 13l-17 12zM2008 6708l17-12l10 13l-18 12zM2012 6740l17-12l9 14l-18 11zM2026 6764l18-11l8 15l-18 10zM2033 6776l18-10l8 15l-19 9zM2059 6794l19-9l7 16l-19 8zM2065 6808l19-9l7 16l-20 8zM2071 6821l19-8l6 16l-19 7zM2090 6829l20-8l5 17l-19 7zM2095 6843l20-7l5 16l-20 7zM2118 6867l21-6l4 17l-20 5zM2122 6881l21-5l4 17l-21 5zM2147 6923l20-3l3 18l-20 3zM2168 6968l21-2l1 19l-21 1zM2169 6984l21-1l1 18l-21 1zM2170 7000l21-1l1 19l-21 0zM2171 7016l21 0l0 18l-21 0zM2170 7048l21 1l-1 18l-21-1zM2167 7096l35 4l-2 19l-36-6zM2164 7111l21 3l-3 19l-20-4zM2162 7127l21 4l-4 18l-20-4zM2159 7143l21 4l-4 18l-21-4zM2156 7158l20 5l-4 18l-21-5zM2152 7174l20 5l-5 18l-20-6zM2157 7209l20 7l-6 18l-19-7zM2152 7225l20 7l-6 18l-20-8zM2161 7245l19 8l-7 18l-19-8zM2155 7261l19 8l-7 18l-20-8zM2162 7283l33 14l-8 19l-33-16zM2168 7305l60 27l-9 20l-59-30zM2201 7340l19 10l-10 19l-19-10zM2206 7364l18 10l-6 11l-18-10zM2201 7373l32 17l-7 11l-31-18zM2209 7388l45 26l-7 11l-44-26zM2192 7389l44 26l-7 11l-44-26zM2256 7427l18 11l-7 12l-18-11zM2187 7398l43 26l-6 11l-44-27zM2238 7429l44 26l-8 12l-43-27zM2220 7429l69 43l-8 12l-68-44zM2882 7842l18 11l-14 22l-18-11zM2907 7858l31 19l-15 23l-30-20zM2984 7906l17 11l-15 24l-17-12zM2227 7446l56 36l-8 12l-55-37zM2745 7778l17 12l-13 20l-17-12zM2808 7819l17 11l-13 21l-18-11zM2833 7835l18 12l-14 21l-18-12zM2858 7851l68 44l-14 23l-68-45zM2221 7455l18 11l-8 12l-17-12zM2246 7471l56 37l-9 12l-54-37zM2409 7579l18 12l-10 14l-17-12zM2722 7786l17 11l-13 20l-17-12zM2797 7835l18 12l-14 21l-18-12zM2265 7497l67 46l-9 13l-66-47zM2613 7733l29 21l-12 18l-30-21zM2650 7759l29 20l-12 19l-30-21zM2712 7801l116 79l-14 21l-115-81zM2259 7506l79 56l-10 12l-77-56zM2369 7584l18 12l-10 14l-17-13zM2419 7618l17 12l-10 15l-17-13zM2456 7644l17 12l-11 15l-17-12zM2529 7696l17 12l-11 16l-17-12zM2591 7739l29 20l-12 18l-29-21zM2628 7764l29 21l-13 18l-29-21zM2689 7807l54 38l-14 20l-53-39zM2763 7859l42 29l-15 21l-41-30zM2252 7516l42 29l-9 12l-41-30zM2301 7551l212 152l-12 16l-209-156zM2532 7717l54 39l-12 17l-53-40zM2593 7761l42 30l-13 18l-41-31zM2654 7805l78 56l-14 19l-77-57zM2764 7884l17 12l-15 20l-17-12zM2258 7534l29 21l-9 12l-29-22zM2294 7560l330 245l-13 17l-326-250zM2656 7828l41 30l-14 19l-41-31zM2287 7570l29 22l-10 12l-28-22zM2347 7615l64 49l-11 14l-63-50zM2418 7670l112 85l-12 16l-111-87zM2549 7770l53 40l-13 17l-52-41zM2645 7842l17 13l-14 18l-17-13zM2350 7635l76 59l-11 14l-75-60zM2433 7700l64 49l-12 16l-63-51zM2504 7755l28 22l-12 16l-28-22zM2575 7810l28 23l-13 17l-28-23zM2331 7636l16 13l-11 13l-16-14zM2389 7683l16 13l-11 14l-16-14zM2412 7702l17 13l-12 14l-16-13zM2447 7730l52 41l-13 16l-51-43zM2564 7824l28 22l-14 17l-27-23zM2611 7861l16 13l-14 18l-16-13zM2369 7684l16 13l-12 14l-16-14zM2450 7751l27 23l-12 15l-28-23zM2484 7780l16 13l-13 15l-16-13zM2532 7863l16 14l-15 16l-16-14z"/>
<path fill="#ffaa0c" d="M2004 6655l16-14l11 14l-16 13zM2020 6699l17-12l10 14l-17 12zM2024 6732l18-12l9 15l-18 10zM2046 6769l19-10l7 15l-18 9zM2073 6788l19-9l7 16l-19 8zM2098 6809l20-8l6 17l-19 7zM2104 6824l20-8l6 17l-20 7zM2133 6863l20-6l5 17l-21 6zM2137 6878l20-6l5 18l-21 5zM2159 6905l20-4l4 18l-21 4zM2183 6967l21-2l1 19l-21 1zM2200 6999l21-1l1 19l-21 1zM2201 7015l21 0l0 20l-21-1zM2200 7049l21 1l-1 19l-21-1zM2199 7066l21 1l-1 20l-21-2zM2198 7082l21 2l-2 20l-21-3zM2196 7099l21 3l-2 19l-21-3zM2188 7149l21 4l-4 19l-21-5zM2185 7165l20 5l-4 19l-21-5zM2181 7181l20 6l-5 19l-20-6zM2177 7198l34 10l-6 19l-34-11zM2181 7235l20 6l-7 19l-20-7zM2189 7256l48 18l-8 20l-47-20zM2224 7289l20 8l-9 20l-19-8zM2248 7309l34 14l-6 12l-33-14zM2231 7312l46 21l-5 12l-46-21zM2227 7321l33 15l-6 12l-32-16zM2268 7340l33 15l-6 12l-33-16zM2236 7336l60 28l-6 12l-59-29zM2219 7339l100 48l-7 12l-99-50zM2241 7361l126 63l-6 13l-125-65zM2250 7376l85 45l-6 12l-85-45zM2357 7432l18 9l-7 14l-18-10zM2397 7452l18 10l-7 14l-19-10zM2876 7700l19 10l-12 22l-18-10zM2983 7756l18 9l-12 24l-19-10zM2298 7414l45 24l-7 13l-44-25zM2351 7442l19 10l-8 13l-18-10zM2391 7463l32 17l-8 14l-32-17zM2682 7619l18 10l-10 19l-18-11zM2946 7760l19 10l-13 23l-18-10zM2986 7781l19 10l-13 24l-19-10zM2293 7423l18 10l-7 13l-18-11zM2319 7438l32 17l-8 13l-31-18zM2359 7460l18 10l-7 13l-19-10zM2385 7474l18 10l-7 14l-19-10zM2464 7518l18 10l-8 15l-19-11zM2503 7539l19 10l-9 16l-19-10zM2608 7597l32 18l-10 18l-32-18zM2740 7670l18 10l-11 20l-18-11zM2792 7699l19 10l-12 21l-18-11zM2818 7713l19 10l-12 22l-18-11zM3094 7865l19 11l-15 25l-18-10zM2314 7448l83 47l-8 14l-82-49zM2418 7507l110 62l-10 16l-108-64zM2601 7611l18 10l-10 18l-18-11zM2744 7693l18 10l-11 20l-18-11zM2770 7707l31 18l-12 21l-31-18zM2835 7745l58 32l-13 22l-57-33zM2966 7819l18 10l-14 24l-18-11zM2334 7473l18 10l-8 13l-18-10zM2360 7488l173 102l-9 16l-172-105zM2567 7609l57 34l-11 17l-56-34zM2631 7647l44 26l-11 19l-43-27zM2696 7685l18 11l-11 19l-18-11zM2735 7708l18 11l-12 20l-18-11zM2761 7723l44 26l-13 21l-43-27zM2813 7754l56 33l-13 22l-56-34zM2890 7799l18 11l-13 22l-18-11zM2341 7491l69 42l-9 14l-68-43zM2418 7537l108 66l-10 15l-107-67zM2559 7623l108 65l-12 18l-106-67zM2674 7693l108 65l-12 20l-107-67zM2790 7762l31 19l-13 21l-31-19zM2411 7549l209 130l-12 17l-206-133zM2640 7691l18 11l-12 19l-17-12zM2665 7707l56 35l-12 19l-55-36zM2793 7787l18 11l-14 20l-17-11zM2391 7552l18 11l-9 14l-18-12zM2416 7568l31 19l-10 15l-30-20zM2454 7592l81 52l-10 16l-80-53zM2543 7649l17 11l-10 17l-18-12zM2568 7665l18 11l-12 17l-17-11zM2606 7689l30 20l-12 18l-30-20zM2694 7746l18 11l-13 19l-17-11zM2472 7620l17 12l-10 15l-17-12zM2547 7670l17 12l-11 16l-17-12zM2597 7703l17 12l-11 17l-18-12z"/>
<path fill="#ff2100" d="M2016 6645l16-14l11 14l-16 13zM2025 6657l17-13l11 14l-17 13zM2049 6715l18-11l9 15l-17 11zM2045 6736l18-11l8 15l-18 10zM2100 6775l19-9l7 17l-19 8zM2106 6789l19-8l8 17l-20 8zM2132 6813l20-7l6 17l-20 7zM2137 6828l20-7l6 18l-20 6zM2143 6843l20-6l5 18l-20 5zM2166 6870l20-5l5 18l-21 5zM2184 6883l21-5l4 19l-21 4zM2188 6899l21-4l3 19l-20 4zM2191 6915l21-3l3 19l-21 3zM2209 6930l20-3l3 20l-21 2zM2211 6947l21-3l2 20l-21 2zM2228 6962l21-2l1 21l-21 1zM2229 6980l21-2l1 21l-21 1zM2231 7015l21 0l0 20l-21 0zM2230 7050l21 1l-1 20l-21-1zM2229 7068l21 1l-1 20l-21-2zM2228 7085l66 6l-3 22l-65-8zM2226 7103l36 4l-3 21l-36-6zM2224 7120l35 5l-3 21l-35-6zM2236 7140l20 4l-3 20l-21-4zM2232 7158l36 7l-5 21l-35-8zM2214 7172l64 15l-5 21l-64-17zM2210 7189l49 13l-5 20l-49-14zM2234 7214l35 10l-6 21l-35-11zM2243 7236l20 7l-7 20l-19-7zM2273 7185l20 5l-3 12l-20-5zM2295 7221l20 5l-4 13l-20-6zM2787 7354l20 6l-6 21l-20-6zM2797 7375l49 14l-6 21l-49-15zM2260 7232l20 6l-3 11l-20-6zM2303 7244l49 15l-4 13l-48-15zM2835 7404l49 14l-7 22l-48-15zM2893 7421l20 6l-7 23l-20-7zM2921 7430l35 10l-7 23l-35-11zM3036 7464l20 6l-7 25l-20-6zM2258 7241l34 11l-4 12l-34-12zM2300 7254l35 11l-4 13l-34-12zM2758 7398l20 6l-6 21l-20-7zM2787 7407l20 6l-7 21l-20-6zM2816 7416l48 15l-7 22l-48-16zM2873 7434l20 6l-7 23l-20-7zM2916 7448l48 15l-7 23l-48-16zM2987 7470l20 6l-7 24l-20-6zM3059 7493l20 6l-8 25l-20-6zM3102 7506l20 6l-9 26l-19-6zM2269 7255l63 20l-5 13l-62-22zM2354 7283l35 11l-5 14l-34-12zM2568 7353l20 7l-6 17l-20-7zM2611 7367l20 7l-6 17l-20-7zM2639 7376l20 7l-6 18l-20-7zM2668 7386l20 6l-7 19l-19-7zM2768 7419l34 11l-7 20l-34-11zM2839 7442l63 21l-8 22l-62-22zM2910 7465l63 21l-8 24l-63-22zM2996 7494l34 11l-9 24l-34-12zM3053 7512l19 7l-8 25l-20-7zM2280 7269l119 41l-5 14l-118-43zM2436 7322l34 12l-5 15l-34-12zM2479 7337l19 7l-5 15l-20-7zM2507 7347l20 7l-6 16l-20-8zM2535 7356l34 12l-6 17l-33-12zM2606 7381l20 7l-6 17l-20-7zM2748 7430l105 36l-8 21l-104-38zM2862 7469l19 6l-7 22l-20-7zM2890 7478l147 51l-8 25l-147-54zM3060 7537l20 7l-9 25l-20-7zM3117 7556l20 7l-10 26l-19-7zM2319 7293l104 38l-5 14l-104-39zM2432 7334l34 12l-6 15l-33-13zM2474 7349l20 7l-6 16l-19-8zM2503 7359l76 27l-6 17l-76-28zM2658 7415l48 17l-7 19l-48-18zM2714 7435l190 68l-9 22l-188-71zM2926 7511l20 7l-9 23l-19-7zM2983 7531l33 13l-8 24l-34-13zM2315 7303l203 76l-6 16l-201-79zM2526 7382l343 128l-8 22l-341-134zM2877 7513l118 44l-9 24l-117-46zM3004 7561l19 7l-9 24l-19-7zM2367 7335l20 7l-5 14l-20-8zM2395 7346l20 7l-6 14l-19-7zM2423 7357l355 138l-8 20l-352-144zM2787 7498l33 13l-8 21l-33-14zM2857 7525l19 8l-8 22l-20-8zM2885 7536l47 19l-9 22l-47-19zM2955 7563l19 8l-9 23l-20-8zM2391 7357l312 126l-8 19l-310-132zM2780 7514l20 8l-9 21l-19-9zM2808 7525l20 8l-9 21l-19-8zM2878 7554l19 7l-9 23l-19-9zM2906 7565l19 8l-9 22l-20-8zM2470 7402l19 9l-7 15l-19-9zM2511 7420l75 31l-8 17l-74-32zM2608 7461l75 31l-8 19l-75-33zM2746 7519l47 19l-9 21l-46-21zM2912 7588l19 8l-9 23l-20-8zM2547 7450l33 15l-8 17l-32-15zM2630 7486l46 21l-8 18l-46-21zM2500 7445l19 8l-7 16l-19-9zM2555 7469l19 9l-8 17l-19-9zM2651 7513l19 8l-9 19l-19-9z"/>
<path fill="#ff0512" d="M2027 6635l27-23l13 14l-29 23zM2037 6647l16-13l12 15l-17 13zM2035 6669l29-22l11 15l-29 21zM2044 6682l30-22l10 16l-29 20zM2053 6694l18-12l10 16l-18 11zM2062 6707l18-11l9 15l-18 11zM2057 6728l31-18l9 15l-31 18zM2065 6741l31-18l9 16l-31 17zM2073 6755l31-17l9 16l-33 16zM2093 6761l19-9l8 16l-19 9zM2113 6769l19-9l8 17l-19 8zM2120 6783l19-8l7 17l-19 8zM2126 6798l20-8l6 18l-19 7zM2146 6808l20-8l6 18l-20 7zM2152 6823l20-7l6 18l-21 7zM2157 6839l34-11l6 18l-35 10zM2162 6854l34-10l5 19l-35 9zM2180 6866l35-9l5 20l-35 8zM2199 6879l20-5l5 20l-21 4zM2203 6896l35-7l4 20l-36 6zM2206 6913l35-6l4 20l-36 5zM2223 6928l36-6l3 21l-36 4zM2226 6945l50-6l3 21l-51 5zM2243 6961l36-3l1 21l-36 2zM2244 6979l36-3l1 22l-36 1zM2230 6997l51-2l1 22l-51 0zM2246 7015l51-1l0 22l-51-1zM2231 7033l66 0l-1 22l-66-3zM2245 7051l21 1l-1 20l-21-1zM2244 7069l51 3l-2 22l-50-5zM2256 7106l36 4l-3 22l-36-5zM2253 7124l21 3l-3 22l-21-4zM2251 7143l35 6l-4 21l-35-7zM2254 7200l20 5l-6 21l-20-5zM2303 7092l21 2l-2 13l-21-3zM2313 7133l21 3l-2 13l-21-3zM2282 7138l20 4l-2 12l-20-4zM2356 7150l21 3l-3 14l-20-4zM2280 7148l36 6l-3 12l-35-6zM2278 7157l21 4l-2 12l-21-4zM2957 7284l20 4l-4 23l-21-4zM2277 7166l35 8l-3 12l-35-8zM2321 7175l20 4l-2 13l-21-4zM2275 7176l20 4l-3 12l-20-4zM2847 7299l35 7l-5 22l-35-8zM2949 7321l36 7l-6 24l-35-8zM3067 7346l20 4l-6 26l-20-5zM2287 7189l21 4l-3 13l-21-5zM2799 7306l20 4l-4 21l-21-5zM2828 7312l65 15l-6 22l-64-16zM2270 7195l65 15l-4 13l-64-17zM2372 7219l21 5l-4 14l-20-5zM2824 7329l64 16l-5 22l-64-17zM2970 7364l21 5l-6 24l-21-5zM2999 7371l21 5l-6 25l-21-6zM2268 7204l35 9l-3 12l-35-9zM2312 7215l20 5l-3 13l-21-6zM2341 7223l20 5l-3 13l-21-6zM2370 7230l35 9l-4 14l-35-10zM2646 7301l20 5l-5 18l-20-5zM2675 7308l20 6l-5 18l-20-5zM2806 7342l78 20l-6 22l-78-21zM2922 7372l20 5l-6 23l-20-6zM2951 7379l20 5l-6 24l-20-6zM3067 7409l21 5l-7 26l-21-6zM2266 7213l34 10l-3 12l-35-10zM2309 7225l64 17l-4 14l-63-19zM2381 7245l35 9l-4 14l-34-10zM2743 7343l21 5l-6 20l-20-6zM2772 7350l21 6l-6 20l-20-5zM2801 7358l50 14l-6 21l-49-14zM2874 7378l20 5l-6 23l-20-6zM2903 7386l34 9l-6 23l-35-10zM2961 7401l20 6l-7 24l-20-6zM3004 7413l20 6l-7 24l-20-6zM2263 7222l165 47l-5 15l-163-50zM2479 7284l35 10l-5 16l-34-11zM2681 7342l21 5l-6 19l-20-6zM2739 7358l20 6l-6 20l-20-6zM2768 7366l35 10l-7 21l-34-11zM2840 7387l92 26l-6 23l-92-28zM2941 7416l35 10l-7 23l-35-10zM2984 7428l20 6l-7 24l-20-6zM3013 7436l20 6l-7 25l-20-6zM2275 7236l34 10l-4 13l-34-11zM2347 7257l77 24l-4 14l-77-25zM2433 7283l20 6l-5 15l-20-6zM2462 7292l48 14l-4 16l-49-15zM2519 7309l34 10l-5 17l-34-11zM2605 7335l49 15l-6 18l-48-16zM2663 7352l20 6l-6 19l-20-7zM2691 7361l150 45l-7 21l-148-47zM2878 7417l20 6l-7 22l-20-6zM2907 7425l20 6l-7 23l-20-6zM2950 7438l20 6l-7 24l-20-7zM2993 7451l20 6l-7 24l-20-6zM3051 7468l20 6l-8 26l-20-7zM2286 7250l20 6l-4 12l-20-6zM2329 7263l149 47l-5 15l-148-49zM2515 7322l20 6l-5 16l-20-7zM2572 7340l106 33l-6 19l-105-36zM2687 7376l77 24l-6 20l-77-26zM2773 7403l20 6l-7 20l-20-6zM2801 7412l20 6l-6 21l-20-7zM2887 7439l20 6l-7 22l-20-6zM2959 7461l34 11l-8 24l-34-12zM3030 7484l20 6l-8 25l-20-7zM2326 7273l34 12l-4 13l-34-12zM2383 7292l105 35l-5 15l-105-36zM2497 7330l77 25l-6 17l-76-27zM2582 7358l35 11l-6 17l-34-11zM2625 7372l20 6l-6 18l-20-7zM2654 7381l20 7l-7 18l-20-7zM2682 7390l91 30l-7 21l-90-32zM2796 7428l49 16l-8 21l-48-16zM2896 7461l20 6l-8 23l-20-7zM2967 7484l34 11l-8 24l-34-11zM3038 7508l20 6l-8 25l-20-7zM2393 7308l49 16l-5 15l-48-18zM2464 7332l20 7l-5 15l-20-7zM2493 7342l20 7l-6 15l-20-7zM2521 7352l20 6l-6 17l-20-8zM2564 7366l48 17l-6 17l-48-17zM2620 7386l134 46l-7 19l-133-48zM2847 7464l20 7l-7 21l-20-7zM2876 7474l20 6l-8 23l-20-8zM2418 7329l20 7l-6 14l-19-7zM2460 7344l20 7l-6 15l-19-7zM2488 7354l20 7l-6 16l-19-8zM2573 7384l90 33l-6 18l-90-34zM2700 7430l20 7l-7 19l-20-7zM2940 7516l20 7l-9 24l-19-8zM2512 7377l20 7l-6 16l-20-7zM2409 7351l20 8l-6 14l-19-8z"/>
<path fill="#ff00f8" d="M2050 6616l16-14l12 15l-16 13zM2060 6629l17-14l12 16l-17 12zM2059 6651l29-22l11 16l-29 21zM2069 6664l17-12l11 15l-18 12zM2078 6677l17-12l11 16l-18 12zM2087 6691l18-11l10 16l-18 11zM2083 6713l18-11l10 16l-19 10zM2120 6748l19-10l8 18l-19 8zM2127 6762l33-15l8 18l-33 14zM2134 6777l46-20l8 18l-47 19zM2154 6787l33-14l8 19l-34 12zM2188 6792l20-8l7 20l-20 6zM2194 6808l34-12l7 20l-35 11zM2200 6825l20-6l6 19l-21 6zM2219 6838l35-10l5 20l-34 9zM2224 6855l35-9l5 21l-35 8zM2228 6872l35-8l5 21l-35 7zM2250 6905l36-6l3 21l-35 5zM2268 6921l21-3l3 21l-21 3zM2284 6928l21-3l2 13l-21 2zM2285 6938l21-3l2 13l-21 2zM2288 6966l21-1l1 12l-21 1zM2289 6976l21-2l1 13l-21 1zM2290 6985l51-2l0 13l-51 1zM2305 6994l21-1l0 13l-21 1zM2305 7004l21 0l1 12l-21 0zM2306 7014l36-1l0 13l-36 0zM2306 7024l36 0l0 13l-36-1zM2291 7033l96 1l-1 14l-96-3zM2471 7035l21 1l-1 15l-21 0zM2876 7040l21 0l-1 23l-21-1zM2305 7043l81 2l0 14l-81-3zM2935 7059l36 1l-1 23l-35-1zM2320 7054l66 2l-1 14l-65-4zM2395 7056l21 1l-1 14l-21-1zM2440 7058l21 1l-1 15l-21-1zM2560 7063l21 1l-1 17l-21-2zM2650 7066l36 2l-1 18l-36-2zM2695 7068l21 1l-1 19l-21-1zM2740 7070l21 1l-1 20l-21-2zM2845 7074l36 1l-1 22l-36-2zM2935 7077l21 1l-1 23l-21-1zM2305 7063l96 5l-1 14l-96-7zM2410 7068l21 1l-1 15l-21-2zM2529 7074l21 2l-1 16l-21-1zM2619 7079l66 3l-1 19l-66-4zM2694 7083l21 1l-1 19l-21-1zM2814 7089l51 3l-1 22l-51-4zM2304 7073l66 4l-1 13l-66-5zM2379 7077l36 3l-1 14l-36-3zM2424 7080l66 5l-1 15l-66-5zM2514 7086l21 2l-2 16l-20-2zM2604 7092l20 1l-1 18l-21-2zM2633 7094l36 2l-1 19l-36-3zM2693 7098l21 1l-1 19l-21-1zM2723 7100l21 1l-1 20l-21-2zM2828 7107l81 5l-2 22l-81-6zM2933 7113l36 3l-2 23l-36-3zM3008 7118l21 2l-2 24l-21-2zM2318 7083l96 8l-1 14l-96-9zM2423 7092l51 4l-1 15l-51-5zM2513 7099l21 1l-2 17l-21-2zM2617 7107l51 4l-1 18l-51-4zM2692 7113l231 18l-2 23l-230-22zM2932 7132l50 4l-2 23l-50-5zM2991 7136l36 3l-2 25l-36-4zM3111 7146l21 1l-2 27l-21-2zM2318 7093l20 2l-1 13l-21-2zM2347 7096l111 10l-2 15l-110-12zM2467 7107l36 3l-2 16l-36-4zM2512 7111l51 5l-2 17l-51-6zM2631 7122l320 30l-2 23l-320-35zM2960 7152l21 2l-3 24l-20-2zM3035 7159l35 4l-2 25l-36-4zM2331 7105l141 15l-2 15l-140-17zM2481 7121l21 2l-2 15l-21-2zM2555 7128l111 12l-2 19l-111-14zM2675 7141l20 2l-2 19l-21-2zM2704 7144l81 9l-2 20l-81-10zM2794 7154l21 2l-3 21l-20-3zM2824 7157l36 4l-3 21l-36-4zM2869 7161l35 4l-2 23l-36-5zM2913 7166l51 6l-3 23l-50-6zM2973 7172l21 3l-3 24l-21-3zM3018 7177l21 2l-3 25l-21-3zM3092 7185l21 2l-3 26l-21-2zM2330 7115l21 3l-1 13l-21-3zM2360 7119l274 32l-2 18l-274-37zM2643 7152l66 8l-3 19l-65-9zM2718 7161l95 11l-3 21l-95-13zM2822 7173l80 10l-3 22l-80-11zM2911 7184l51 6l-3 23l-51-6zM3016 7196l20 3l-3 25l-21-3zM2374 7131l199 26l-2 17l-199-29zM2582 7159l274 36l-4 21l-273-40zM2894 7200l66 9l-4 23l-65-10zM2969 7210l20 3l-3 23l-21-3zM3013 7216l21 2l-4 25l-20-3zM2417 7148l21 3l-3 15l-20-4zM2446 7153l288 42l-3 19l-287-47zM2743 7196l95 14l-3 21l-95-15zM2847 7211l21 3l-3 22l-21-4zM2907 7220l20 3l-3 22l-21-3zM3070 7243l21 4l-4 25l-21-3zM2400 7157l228 36l-3 18l-227-40zM2637 7195l110 17l-3 20l-110-19zM2756 7214l20 3l-3 20l-21-3zM2800 7221l80 13l-4 22l-79-14zM2933 7242l21 3l-4 24l-20-4zM2384 7166l20 3l-2 14l-21-4zM2413 7171l50 8l-2 15l-50-9zM2472 7181l80 14l-3 16l-79-15zM2561 7196l35 6l-3 18l-35-7zM2605 7204l154 27l-4 20l-153-30zM2827 7242l21 4l-4 21l-21-4zM2857 7247l20 4l-4 22l-20-4zM2352 7171l21 4l-3 13l-20-4zM2382 7176l50 10l-3 14l-50-10zM2455 7190l51 10l-4 15l-50-10zM2559 7209l50 10l-4 17l-50-10zM2618 7220l64 13l-3 18l-65-13zM2706 7237l21 4l-4 19l-21-4zM2795 7254l20 3l-4 21l-21-4zM2839 7262l20 4l-4 21l-20-4zM2394 7190l65 13l-3 15l-65-14zM2468 7205l35 7l-3 16l-35-8zM2571 7226l20 4l-3 17l-21-5zM2600 7231l80 16l-4 19l-79-17zM2703 7252l21 4l-4 20l-21-5zM2747 7261l21 4l-4 20l-21-4zM2392 7201l21 4l-4 15l-20-5zM2495 7223l20 4l-3 16l-21-4zM2568 7239l21 4l-4 17l-21-4zM2597 7245l21 5l-4 17l-21-5zM2627 7251l35 8l-4 18l-35-8zM2448 7225l21 5l-4 15l-20-5zM2521 7242l21 5l-4 16l-21-5zM2594 7259l35 8l-4 18l-35-9zM2667 7275l21 5l-5 19l-20-5zM2577 7269l20 5l-4 17l-21-5z"/>
<path fill="#cf18ff" d="M2061 6606l16-14l13 16l-16 13zM2081 6655l17-12l11 16l-17 12zM2091 6669l17-12l11 16l-18 12zM2100 6683l17-12l11 17l-18 11zM2096 6705l18-11l10 16l-19 11zM2104 6719l18-11l10 17l-19 10zM2112 6733l19-10l9 17l-19 10zM2133 6741l19-9l8 17l-19 9zM2154 6750l19-9l8 18l-19 8zM2175 6759l19-8l8 19l-19 8zM2182 6775l33-13l8 19l-34 13zM2202 6786l34-12l7 20l-34 12zM2223 6798l34-11l6 20l-34 11zM2214 6820l34-10l6 20l-34 10zM2248 6829l20-6l6 22l-20 5zM2253 6847l20-5l6 21l-21 5zM2257 6866l21-5l5 21l-21 4zM2261 6884l21-4l4 21l-21 4zM2265 6834l20-5l4 12l-21 5zM2268 6844l20-6l3 12l-21 5zM2270 6853l20-5l3 12l-20 5zM2304 6865l20-4l3 12l-21 5zM2276 6881l21-4l2 12l-21 4zM2278 6890l21-4l2 13l-21 3zM2280 6900l20-4l3 12l-21 4zM2281 6909l21-3l2 12l-21 3zM2283 6919l21-3l1 12l-20 3zM2327 6912l36-5l2 13l-36 5zM2299 6926l36-5l1 13l-35 4zM2300 6936l21-3l2 13l-21 2zM2287 6947l35-4l2 13l-36 3zM2794 6892l20-2l3 21l-21 2zM2287 6957l51-5l1 13l-50 4zM2810 6907l21-2l2 21l-21 2zM2303 6965l81-7l1 14l-81 5zM2393 6958l21-2l1 14l-21 2zM2438 6954l21-2l1 15l-21 2zM2498 6949l21-2l1 16l-21 2zM2602 6941l21-2l1 18l-20 1zM2647 6937l21-2l1 19l-21 1zM2737 6930l21-2l1 20l-21 1zM2841 6921l21-2l2 22l-21 2zM2871 6919l21-2l2 22l-21 2zM2304 6975l96-7l1 14l-96 5zM2424 6967l21-2l1 15l-21 1zM2499 6962l20-2l1 16l-21 1zM2603 6954l66-4l1 18l-66 4zM2738 6945l36-2l1 20l-36 2zM2813 6940l36-2l1 21l-36 2zM2858 6937l21-1l1 22l-21 1zM2335 6983l80-5l1 15l-81 3zM2424 6978l21-1l1 15l-21 0zM2454 6976l21-1l1 15l-21 1zM2499 6974l21-1l1 16l-21 1zM2529 6972l36-2l1 17l-36 1zM2589 6969l21-1l1 17l-21 1zM2619 6967l51-2l1 18l-51 2zM2709 6962l21-1l1 20l-21 1zM2739 6961l36-2l1 20l-36 1zM2784 6958l81-4l1 22l-81 3zM2320 6994l156-7l0 15l-156 4zM2500 6986l21-1l0 16l-21 1zM2530 6985l36-1l0 16l-36 1zM2575 6983l51-2l0 18l-51 1zM2635 6981l51-2l0 18l-51 2zM2695 6978l36-1l0 19l-36 1zM2755 6976l21-1l0 20l-21 1zM2785 6974l21 0l0 20l-21 1zM2815 6973l81-3l0 22l-81 2zM2320 7004l96-3l1 14l-96 1zM2470 6999l21 0l1 15l-21 1zM2545 6997l261-7l1 21l-261 3zM2815 6990l96-3l1 23l-96 1zM2336 7013l486-7l0 21l-486-1zM2846 7006l81-1l0 22l-81 0zM2336 7024l111-1l0 15l-111-2zM2456 7023l126 0l0 17l-126-2zM2591 7023l231 0l0 21l-231-4zM2831 7023l36 0l0 22l-36-1zM2876 7023l36 0l0 22l-36 0zM2921 7023l21 0l0 23l-21-1zM2381 7034l96 1l-1 16l-96-3zM2486 7036l156 1l-1 18l-156-4zM2651 7038l201 2l-1 21l-201-5zM2861 7040l21 0l-1 22l-21 0zM2891 7040l51 1l-1 23l-51-1zM2380 7045l546 14l0 23l-546-23zM2965 7060l21 0l-1 24l-21-1zM2380 7056l21 1l-1 14l-21-2zM2410 7057l36 1l-1 15l-36-2zM2455 7059l111 4l-1 17l-111-6zM2575 7063l81 3l-1 19l-81-5zM2680 7067l21 1l-1 19l-21-1zM2710 7069l21 0l-1 20l-21-1zM2755 7070l96 4l-1 21l-96-5zM2875 7075l66 2l-1 23l-66-3zM2950 7078l36 1l-1 24l-36-2zM2395 7067l21 2l-1 14l-21-2zM2425 7069l110 6l-1 16l-110-8zM2544 7075l81 4l-1 18l-81-5zM2679 7082l21 1l-1 19l-21-1zM2709 7084l111 5l-1 21l-111-7zM2859 7091l66 4l-1 23l-66-5zM2364 7076l21 2l-1 13l-21-1zM2409 7079l21 2l-1 14l-21-2zM2484 7084l36 3l-1 16l-36-3zM2529 7087l81 5l-2 18l-81-7zM2618 7093l21 1l-1 18l-21-1zM2663 7096l36 2l-1 19l-36-3zM2708 7099l21 1l-1 20l-21-2zM2738 7101l96 6l-2 21l-95-8zM2903 7112l36 2l-2 23l-36-3zM2963 7115l21 2l-2 24l-21-2zM2408 7091l21 1l-1 15l-21-2zM2468 7095l51 4l-2 16l-50-5zM2528 7100l95 7l-1 18l-96-9zM2662 7110l36 3l-1 19l-36-3zM2917 7130l20 2l-1 23l-21-2zM2452 7106l21 2l-2 15l-20-2zM2497 7110l21 2l-2 16l-21-3zM2557 7115l80 8l-2 18l-80-9zM2466 7119l21 2l-2 16l-21-3zM2496 7122l65 7l-2 17l-65-8zM2660 7139l21 3l-3 18l-20-2zM2690 7143l20 2l-2 19l-21-3zM2779 7152l21 2l-2 21l-21-3zM2809 7155l21 2l-3 22l-21-3zM2703 7159l21 3l-3 19l-21-3zM2807 7172l21 2l-3 21l-21-3zM2546 7194l21 3l-3 17l-21-4z"/>
<path fill="#a62dff" d="M2073 6596l16-13l13 15l-17 13zM2072 6619l28-23l13 17l-29 21zM2083 6633l28-22l13 16l-30 21zM2093 6646l29-21l12 17l-30 20zM2103 6660l30-20l11 17l-30 20zM2112 6675l18-12l11 17l-18 11zM2150 6650l18-11l11 18l-18 11zM2109 6697l18-11l10 17l-19 10zM2160 6666l18-11l11 18l-18 11zM2117 6711l18-10l10 17l-19 10zM2156 6689l45-25l10 19l-45 24zM2125 6726l45-24l10 18l-46 23zM2178 6698l32-17l10 19l-32 16zM2147 6734l72-36l9 19l-73 35zM2168 6743l46-21l9 19l-47 20zM2189 6753l33-14l8 19l-33 14zM2210 6764l33-14l8 21l-34 12zM2230 6776l20-8l7 21l-20 7zM2243 6811l20-6l6 21l-20 6zM2130 6547l27-23l8 10l-27 23zM2221 6470l61-53l11 12l-63 52zM2381 6333l61-52l13 14l-63 52zM2460 6265l28-23l13 15l-28 23zM2495 6236l50-43l14 16l-51 42zM2563 6177l62-52l15 17l-63 52zM2124 6565l28-23l8 9l-28 23zM2332 6392l16-14l11 14l-16 13zM2378 6354l39-33l12 14l-40 32zM2424 6315l39-32l13 15l-40 32zM2470 6277l40-33l13 16l-40 32zM2540 6219l16-13l13 17l-16 13zM2563 6200l27-23l14 17l-28 23zM2609 6162l16-14l15 18l-17 13zM2632 6143l16-14l15 18l-16 14zM2130 6572l17-13l8 9l-17 13zM2154 6553l16-13l8 10l-16 13zM2364 6383l16-13l11 14l-17 13zM2387 6364l40-32l11 15l-40 31zM2434 6327l39-32l12 15l-40 31zM2492 6279l28-22l13 16l-29 22zM2527 6251l16-13l13 16l-16 13zM2550 6232l28-22l14 17l-29 22zM2585 6204l28-23l14 18l-28 22zM2620 6176l17-14l14 18l-17 13zM2655 6147l17-13l14 19l-16 13zM2184 6542l16-13l8 11l-16 13zM2360 6403l17-13l10 14l-16 12zM2384 6385l28-23l11 15l-28 21zM2419 6357l146-115l13 16l-148 113zM2631 6190l17-13l14 18l-17 13zM2369 6414l28-22l11 14l-29 21zM2404 6386l17-12l11 14l-17 12zM2452 6350l40-31l12 15l-41 31zM2500 6313l40-31l12 17l-41 30zM2607 6231l40-31l14 18l-41 31zM2389 6415l16-12l11 14l-17 12zM2413 6397l17-12l10 14l-17 13zM2473 6353l89-67l12 17l-90 65zM2569 6281l101-75l14 18l-103 74zM2677 6200l29-21l14 19l-29 21zM2154 6602l17-12l7 10l-17 12zM2178 6585l17-13l8 11l-18 12zM2336 6470l29-21l10 14l-30 20zM2385 6435l17-12l10 14l-18 12zM2409 6418l17-13l10 15l-17 12zM2445 6391l17-12l11 15l-17 12zM2470 6374l17-13l11 16l-18 12zM2506 6347l17-12l11 16l-17 12zM2530 6330l29-22l12 17l-29 21zM2591 6286l41-30l13 18l-42 29zM2640 6250l53-38l14 19l-55 37zM2208 6576l18-12l7 11l-17 11zM2356 6472l17-12l9 13l-17 12zM2380 6455l17-12l10 14l-17 11zM2405 6437l17-12l10 15l-18 11zM2441 6411l79-55l11 16l-79 54zM2527 6351l30-21l11 17l-30 20zM2576 6316l140-98l13 19l-141 96zM2723 6213l18-12l13 19l-17 12zM2227 6576l17-12l8 11l-18 12zM2400 6457l17-12l10 14l-18 12zM2425 6440l17-12l10 15l-18 11zM2449 6423l67-46l11 16l-68 45zM2524 6372l42-29l11 17l-42 28zM2573 6338l18-11l11 17l-17 11zM2598 6321l30-20l12 18l-30 20zM2647 6288l30-21l13 19l-30 20zM2685 6262l29-20l13 19l-30 20zM2208 6601l17-12l7 11l-17 12zM2245 6576l18-12l7 12l-17 12zM2270 6559l18-11l7 12l-17 11zM2395 6476l17-11l10 14l-18 11zM2495 6410l17-12l11 16l-18 12zM2520 6393l30-20l11 17l-31 19zM2557 6368l30-20l11 18l-30 19zM2670 6294l55-37l12 20l-55 35zM2732 6252l18-12l13 20l-18 12zM2188 6626l30-20l7 11l-30 19zM2276 6569l18-12l8 13l-18 11zM2301 6553l18-12l8 13l-18 11zM2327 6536l17-11l8 13l-17 11zM2352 6520l43-28l8 14l-43 27zM2490 6430l119-76l11 17l-120 75zM2629 6341l30-20l12 19l-31 19zM2667 6316l17-11l12 19l-18 11zM2705 6292l30-20l12 20l-30 19zM2320 6554l31-19l8 13l-31 19zM2371 6522l18-11l8 14l-18 11zM2409 6499l18-12l9 15l-18 11zM2447 6475l18-12l9 16l-18 10zM2498 6443l31-19l10 16l-31 18zM2574 6395l18-11l11 17l-18 11zM2613 6371l17-11l11 18l-18 11zM2638 6355l18-11l11 18l-18 11zM2676 6331l18-11l12 19l-18 11zM2701 6315l44-27l12 20l-44 26zM2198 6642l18-11l7 11l-18 11zM2352 6549l18-11l8 13l-18 11zM2416 6510l18-11l9 14l-18 11zM2467 6479l18-11l10 15l-19 11zM2519 6447l30-18l10 16l-31 18zM2570 6416l18-11l10 17l-18 11zM2596 6400l56-34l11 18l-57 34zM2660 6361l30-18l12 19l-31 18zM2711 6330l31-18l11 19l-31 18zM2749 6307l18-11l12 20l-18 11zM2345 6567l19-11l7 14l-18 10zM2371 6552l18-11l8 14l-18 10zM2410 6529l18-11l9 14l-19 11zM2449 6506l31-19l9 16l-32 18zM2488 6483l30-18l10 16l-32 17zM2539 6452l18-10l10 16l-18 11zM2578 6429l18-10l10 17l-18 10zM2604 6414l31-18l10 18l-31 18zM2642 6391l109-64l11 20l-109 62zM2759 6323l31-19l12 21l-32 18zM2195 6667l19-11l6 11l-19 10zM2286 6614l19-10l7 12l-19 11zM2351 6577l19-10l7 13l-18 10zM2469 6510l18-10l9 15l-19 10zM2495 6495l31-18l9 16l-32 18zM2560 6458l57-33l10 18l-58 32zM2625 6421l18-11l10 18l-18 10zM2651 6406l57-33l11 19l-58 32zM2729 6361l57-33l12 21l-58 31zM2200 6675l18-10l6 11l-18 10zM2266 6639l18-11l7 12l-19 10zM2318 6609l18-10l7 13l-18 10zM2475 6522l32-17l8 15l-31 17zM2515 6500l31-17l9 16l-32 17zM2567 6471l45-25l9 18l-45 24zM2620 6442l18-10l10 18l-19 10zM2659 6420l58-32l10 19l-58 31zM2777 6354l18-10l12 21l-19 10zM2257 6655l32-17l7 12l-32 17zM2337 6612l31-17l8 14l-32 16zM2416 6570l32-17l7 14l-32 17zM2508 6520l138-74l9 18l-138 72zM2667 6435l45-25l10 20l-45 23zM2720 6406l31-17l11 20l-32 17zM2759 6385l19-10l11 20l-19 10zM2249 6671l19-10l6 12l-19 10zM2342 6623l19-10l7 13l-19 10zM2409 6588l45-24l7 15l-45 23zM2488 6546l32-16l9 16l-33 16zM2528 6525l139-72l9 19l-139 70zM2675 6449l45-23l10 19l-46 23zM2728 6421l18-9l11 20l-19 9zM2768 6401l58-31l11 21l-59 30zM2214 6700l18-9l6 11l-19 9zM2414 6599l46-23l7 15l-46 22zM2495 6559l18-10l8 16l-19 9zM2522 6545l18-9l8 16l-19 9zM2575 6518l86-43l9 18l-87 42zM2682 6464l46-23l9 19l-46 23zM2763 6423l72-36l10 21l-73 36zM2218 6709l46-22l5 11l-46 22zM2433 6604l33-16l7 15l-33 15zM2474 6584l19-9l7 15l-19 9zM2541 6551l19-9l8 17l-19 9zM2717 6466l45-23l10 20l-46 22zM2770 6439l60-29l10 22l-60 28zM2222 6718l19-9l5 11l-19 9zM2263 6698l19-8l5 12l-19 8zM2453 6609l19-9l7 15l-20 9zM2507 6583l19-9l7 16l-19 9zM2534 6571l19-9l8 16l-20 9zM2642 6519l47-21l8 18l-46 21zM2751 6468l46-22l10 21l-47 21zM2240 6720l19-9l5 12l-19 8zM2485 6608l19-8l7 15l-19 9zM2540 6583l101-46l8 18l-102 45zM2663 6527l19-8l8 18l-19 9zM2745 6490l46-21l9 21l-47 20zM2813 6459l19-9l10 22l-20 8zM2257 6723l33-14l5 12l-33 14zM2463 6633l33-15l7 16l-33 14zM2532 6602l88-38l7 17l-88 38zM2752 6506l33-15l8 21l-33 14zM2807 6482l19-9l9 21l-19 8zM2247 6738l34-14l5 12l-34 13zM2427 6662l19-8l6 15l-19 7zM2468 6644l34-14l6 16l-33 14zM2524 6621l19-8l7 16l-20 8zM2551 6609l89-37l7 18l-89 36zM2662 6562l19-8l8 19l-20 8zM2689 6551l20-8l8 19l-20 8zM2758 6522l47-20l9 20l-47 20zM2814 6498l19-8l9 21l-20 8zM2251 6747l20-8l4 12l-19 8zM2460 6662l61-25l6 16l-61 24zM2529 6634l89-37l7 18l-90 35zM2626 6594l75-31l8 20l-76 29zM2723 6554l48-19l8 20l-48 19zM2793 6526l33-14l9 22l-34 13zM2835 6509l33-14l9 22l-34 13zM2408 6696l20-8l6 15l-20 7zM2464 6674l48-19l6 16l-48 18zM2534 6647l48-19l6 17l-48 18zM2590 6625l19-8l7 17l-19 8zM2660 6597l19-7l7 18l-19 8zM2688 6586l33-13l8 19l-34 13zM2730 6570l19-8l8 20l-20 7zM2757 6559l48-19l8 21l-48 18zM2813 6537l34-13l8 21l-34 13zM2244 6771l34-13l4 12l-33 12zM2286 6755l20-8l5 13l-20 7zM2413 6707l33-13l6 15l-34 12zM2483 6681l48-18l6 16l-48 17zM2553 6654l62-23l6 17l-62 23zM2651 6617l188-71l8 21l-189 68zM2248 6780l48-18l4 12l-48 17zM2318 6754l20-7l4 13l-19 7zM2487 6693l48-18l6 17l-48 16zM2544 6672l34-12l6 17l-34 12zM2600 6652l20-7l6 17l-20 7zM2628 6642l20-8l7 19l-20 6zM2671 6626l34-12l6 19l-34 12zM2713 6611l48-17l7 20l-48 16zM2769 6591l20-8l7 21l-19 7zM2798 6580l34-12l7 21l-34 12zM2251 6789l34-12l4 12l-34 11zM2350 6754l20-7l4 14l-20 6zM2378 6744l20-7l5 14l-20 7zM2407 6734l20-6l4 14l-20 7zM2520 6695l77-26l5 17l-77 25zM2633 6656l20-7l6 18l-20 7zM2662 6646l34-12l6 19l-34 11zM2704 6631l20-7l7 20l-20 6zM2733 6621l48-16l7 20l-49 16zM2789 6602l34-12l7 21l-34 11zM2254 6798l20-7l4 12l-20 6zM2368 6760l48-16l5 14l-49 15zM2453 6731l49-16l5 16l-49 15zM2510 6713l20-7l5 16l-20 6zM2624 6675l48-16l6 18l-48 15zM2681 6656l20-7l6 19l-20 6zM2738 6637l48-16l7 20l-49 15zM2257 6807l20-7l4 12l-21 6zM2357 6775l20-6l4 13l-20 6zM2400 6761l20-6l4 14l-20 6zM2500 6730l49-16l5 17l-49 14zM2643 6684l34-11l6 19l-35 10zM2729 6657l20-6l6 19l-20 6zM2786 6639l20-7l6 21l-20 6zM2260 6816l20-6l3 12l-20 6zM2288 6807l35-10l4 12l-35 10zM2360 6785l63-19l5 15l-64 18zM2547 6729l20-6l5 17l-20 5zM2590 6716l20-6l5 17l-20 6zM2647 6698l63-19l6 20l-63 18zM2733 6672l49-14l6 20l-49 14zM2262 6825l21-6l3 12l-20 6zM2291 6817l20-6l4 12l-20 6zM2335 6804l34-10l4 14l-35 9zM2378 6792l34-10l4 14l-34 9zM2565 6738l136-39l5 19l-136 37zM2709 6696l35-10l5 20l-34 9zM2752 6684l93-27l6 22l-93 25zM2280 6830l49-13l3 13l-49 12zM2366 6807l50-14l3 14l-49 13zM2439 6787l20-6l4 15l-20 5zM2525 6763l21-6l4 17l-20 5zM2598 6743l136-37l5 19l-137 35zM2742 6703l79-21l5 21l-78 20zM2282 6840l35-9l3 12l-35 9zM2355 6821l34-9l4 14l-35 8zM2456 6795l21-6l3 16l-20 4zM2514 6779l64-16l4 17l-64 15zM2601 6757l122-32l5 19l-122 30zM2761 6715l49-13l6 21l-50 12zM2819 6700l21-5l5 21l-21 5zM2284 6849l35-8l3 12l-35 8zM2445 6810l35-9l3 16l-35 8zM2547 6785l49-12l4 17l-49 11zM2605 6771l93-23l5 19l-94 21zM2707 6745l20-5l5 20l-21 5zM2751 6735l93-23l5 21l-94 22zM2272 6862l64-15l3 13l-64 14zM2360 6842l20-5l3 14l-20 4zM2418 6828l65-15l3 16l-65 14zM2491 6811l21-4l3 16l-20 4zM2550 6798l49-12l4 18l-50 10zM2608 6784l21-4l4 17l-21 5zM2637 6778l21-5l4 18l-21 5zM2667 6771l35-8l4 19l-35 7zM2710 6761l21-5l4 19l-20 5zM2754 6750l21-4l4 20l-20 4zM2784 6744l20-5l5 21l-21 4zM2813 6737l20-5l5 21l-21 5zM2871 6723l21-4l5 22l-21 4zM2274 6872l35-8l3 12l-35 7zM2318 6862l79-17l3 14l-79 16zM2406 6843l35-8l3 15l-35 7zM2450 6833l35-7l3 15l-35 7zM2494 6824l50-11l3 16l-50 10zM2553 6811l64-14l4 17l-65 13zM2641 6792l64-14l4 19l-65 13zM2743 6769l94-20l4 21l-94 19zM2291 6878l94-19l3 13l-95 18zM2408 6854l65-13l3 15l-65 12zM2497 6836l50-10l3 16l-50 10zM2555 6824l50-10l4 17l-50 10zM2673 6800l21-4l3 19l-20 4zM2702 6794l21-4l4 19l-21 4zM2747 6785l35-7l4 20l-36 7zM2293 6888l35-7l2 13l-35 6zM2337 6879l21-4l2 13l-21 4zM2366 6874l51-10l2 14l-50 9zM2425 6862l36-6l2 15l-35 6zM2470 6854l35-7l3 16l-36 6zM2543 6840l36-7l3 17l-36 6zM2587 6832l21-4l3 17l-20 4zM2661 6818l94-18l4 20l-94 16zM2764 6798l21-4l4 20l-21 4zM2794 6792l50-9l4 21l-50 9zM2295 6897l50-9l2 13l-50 8zM2354 6887l50-9l2 14l-50 8zM2472 6866l35-6l3 15l-36 6zM2531 6855l21-3l2 16l-20 4zM2560 6850l21-3l3 17l-21 3zM2590 6845l65-11l3 18l-65 10zM2664 6832l109-19l4 20l-110 17zM2797 6809l20-4l4 21l-21 3zM2826 6803l21-3l4 21l-21 4zM2296 6907l125-20l2 14l-125 18zM2459 6880l36-5l2 15l-36 5zM2518 6871l36-6l2 16l-35 6zM2563 6863l50-8l3 18l-51 7zM2651 6849l21-3l3 18l-21 3zM2681 6844l80-13l3 20l-80 12zM2785 6827l65-10l3 21l-65 10zM2859 6815l21-3l3 22l-21 3zM2298 6916l35-5l2 13l-36 5zM2357 6908l80-12l2 14l-80 11zM2446 6894l50-7l3 15l-51 7zM2535 6881l95-14l3 18l-96 12zM2654 6863l169-25l3 21l-170 23zM2832 6837l21-3l3 21l-21 3zM2329 6922l80-11l2 14l-81 10zM2433 6908l50-7l2 16l-50 6zM2522 6896l110-15l2 18l-110 13zM2656 6878l229-31l3 22l-230 27zM2315 6934l244-30l2 17l-244 26zM2568 6903l36-4l2 17l-36 4zM2643 6894l50-6l3 19l-51 5zM2702 6887l111-14l2 21l-111 12zM2821 6872l21-2l3 21l-21 2zM2866 6867l36-4l2 22l-35 4zM2316 6944l81-9l1 14l-80 7zM2406 6934l51-5l1 15l-51 4zM2465 6928l36-4l2 16l-36 3zM2510 6923l36-4l2 16l-36 4zM2555 6918l36-4l1 17l-35 4zM2615 6912l20-3l2 18l-21 2zM2644 6908l21-2l2 19l-21 1zM2689 6904l36-4l2 19l-36 3zM2734 6899l65-7l3 20l-66 6zM2808 6891l51-6l2 22l-50 4zM2868 6884l21-2l2 22l-21 2zM2332 6952l260-24l2 17l-261 20zM2601 6927l66-6l1 18l-65 5zM2676 6920l140-13l2 20l-141 11zM2825 6906l81-8l2 22l-81 7zM2378 6959l21-2l1 14l-21 2zM2408 6957l36-3l1 14l-36 3zM2453 6953l51-4l1 15l-51 4zM2513 6948l50-4l2 17l-51 3zM2572 6943l36-3l2 18l-36 2zM2617 6939l36-2l1 18l-35 2zM2662 6936l81-7l1 20l-81 5zM2752 6928l95-7l2 21l-96 6zM2856 6920l21-2l2 22l-21 2zM2394 6969l36-3l1 15l-36 2zM2439 6966l66-5l0 16l-65 3zM2514 6961l95-7l1 17l-96 5zM2663 6950l81-5l1 20l-81 4zM2768 6943l51-3l1 21l-51 2zM2843 6938l21-1l1 21l-21 1zM2873 6936l36-2l1 22l-36 2zM2409 6979l21-1l1 14l-21 1zM2439 6977l21-1l1 15l-21 1zM2469 6976l36-2l1 15l-36 2zM2514 6973l21-1l1 16l-21 1zM2559 6971l36-2l1 17l-36 1zM2604 6968l21-1l1 18l-21 1zM2664 6965l51-3l1 19l-51 2zM2724 6962l21-2l1 20l-21 1zM2769 6959l21-1l1 20l-21 1zM2859 6954l51-3l1 23l-51 2zM2470 6988l36-2l0 16l-36 1zM2515 6986l21-1l0 16l-21 1zM2560 6984l21-1l0 17l-21 0zM2620 6981l21-1l0 18l-21 1zM2680 6979l21-1l0 19l-21 0zM2725 6977l36-2l0 20l-36 1zM2770 6975l21-1l0 21l-21 0zM2800 6974l21-1l0 21l-21 0zM2890 6970l21-1l0 23l-21 0zM2410 7001l66-2l1 16l-66 0zM2485 6999l66-2l1 17l-66 0zM2800 6990l21 0l1 21l-21 0zM2920 6987l36-1l1 23l-36 0zM2816 7006l36 0l0 21l-36 0zM2921 7005l36-1l0 24l-36-1zM2441 7023l21 0l0 15l-21 0zM2576 7023l21 0l0 17l-21 0zM2816 7023l21 0l0 21l-21 0zM2861 7023l21 0l0 22l-21-1zM2636 7037l21 1l-1 18l-21-1zM2846 7040l21 0l-1 22l-21-1zM2725 7069l21 1l-1 20l-21-1z"/>
<path fill="#c256f7" d="M2084 6586l39-33l14 17l-40 32zM2095 6600l40-32l14 17l-41 31zM2107 6614l40-31l13 18l-41 30zM2117 6629l42-30l12 18l-42 28zM2128 6643l42-28l12 18l-43 27zM2125 6667l30-20l11 18l-30 18zM2163 6642l17-11l12 18l-18 11zM2122 6689l43-26l11 18l-45 25zM2173 6658l18-11l11 19l-18 10zM2130 6704l32-18l9 18l-31 17zM2165 6705l19-10l9 18l-19 10zM2208 6724l19-9l9 20l-19 8zM2216 6741l19-8l9 20l-20 8zM2118 6557l16-13l8 9l-16 13zM2152 6528l73-62l10 11l-74 61zM2278 6421l16-14l10 12l-16 14zM2301 6401l84-72l12 14l-86 71zM2438 6284l27-23l13 15l-28 23zM2483 6245l16-13l13 16l-16 13zM2540 6197l28-24l14 17l-28 23zM2147 6545l190-157l10 13l-192 154zM2344 6382l39-32l11 13l-40 32zM2413 6325l16-14l12 15l-17 13zM2459 6286l16-13l13 15l-17 13zM2505 6248l39-33l14 17l-40 32zM2551 6210l16-14l14 17l-16 13zM2586 6181l16-13l14 17l-16 13zM2620 6152l17-13l14 18l-16 13zM2142 6562l16-13l8 10l-16 13zM2165 6544l203-165l11 14l-206 161zM2375 6374l17-13l11 13l-17 13zM2422 6336l16-13l12 15l-17 12zM2469 6298l28-22l12 15l-28 23zM2515 6261l17-14l13 17l-17 13zM2539 6242l16-13l13 16l-16 13zM2574 6213l16-13l14 17l-17 13zM2609 6185l16-13l14 18l-16 13zM2136 6579l52-40l8 10l-52 40zM2195 6533l52-41l9 12l-52 40zM2254 6487l111-88l10 14l-112 85zM2372 6394l17-13l10 14l-16 12zM2407 6366l17-13l11 14l-17 13zM2561 6245l75-59l14 18l-76 58zM2643 6180l17-13l14 19l-17 13zM2142 6587l77-58l8 11l-77 57zM2226 6523l147-113l11 14l-150 110zM2392 6395l17-12l11 14l-17 12zM2416 6377l41-31l11 15l-41 31zM2488 6322l16-12l12 15l-17 13zM2535 6286l76-58l14 17l-77 57zM2642 6204l41-31l14 19l-41 30zM2148 6595l245-183l11 14l-249 178zM2401 6406l17-12l10 14l-17 12zM2425 6389l53-40l11 15l-54 39zM2557 6290l17-13l12 17l-17 13zM2665 6209l17-12l14 19l-17 12zM2166 6594l17-13l7 11l-17 12zM2190 6576l151-109l9 13l-152 106zM2360 6453l29-21l10 13l-29 21zM2397 6426l17-12l10 14l-17 12zM2421 6409l29-21l11 14l-30 21zM2457 6382l17-12l11 15l-17 12zM2482 6365l29-21l11 16l-29 20zM2518 6338l17-12l12 16l-17 12zM2555 6312l41-30l12 17l-42 30zM2627 6259l17-12l13 18l-17 12zM2712 6198l18-13l13 20l-17 12zM2159 6610l54-38l8 11l-55 37zM2221 6567l139-99l10 14l-142 96zM2368 6463l17-12l9 14l-17 12zM2392 6446l17-12l10 14l-17 12zM2417 6429l29-21l11 15l-30 20zM2515 6360l17-12l11 16l-17 12zM2552 6334l29-21l12 17l-30 20zM2165 6618l67-46l7 11l-67 45zM2239 6567l166-113l9 14l-167 110zM2412 6449l18-12l9 14l-17 12zM2437 6432l17-12l10 15l-17 11zM2511 6381l18-12l11 16l-18 12zM2561 6347l17-12l12 17l-18 12zM2586 6330l17-12l12 17l-18 12zM2623 6304l29-20l13 18l-30 20zM2672 6271l18-12l12 19l-17 11zM2170 6626l43-28l7 11l-43 27zM2220 6593l30-20l8 11l-31 20zM2258 6568l17-12l8 12l-18 11zM2283 6551l117-78l9 14l-119 76zM2407 6468l93-61l10 15l-93 60zM2507 6402l18-12l10 16l-17 11zM2545 6377l17-12l11 17l-17 11zM2582 6352l93-62l12 19l-94 60zM2175 6634l18-11l7 10l-18 11zM2213 6610l68-44l8 12l-69 42zM2289 6561l17-12l8 13l-18 11zM2314 6544l18-11l8 13l-18 11zM2339 6528l18-11l8 13l-18 11zM2390 6496l105-69l10 16l-107 66zM2604 6357l30-19l11 18l-30 19zM2654 6325l18-12l12 19l-18 11zM2679 6308l31-19l12 19l-31 19zM2730 6276l30-20l13 20l-31 19zM2181 6642l144-91l8 13l-146 88zM2346 6538l30-19l9 14l-31 18zM2384 6514l30-19l9 15l-31 18zM2422 6491l30-20l10 15l-31 19zM2460 6467l43-27l10 15l-44 27zM2524 6427l55-35l11 17l-57 34zM2587 6387l31-19l10 17l-30 19zM2625 6363l18-11l11 18l-18 11zM2651 6347l30-19l12 19l-31 18zM2689 6323l18-11l11 19l-18 11zM2740 6291l30-19l13 20l-31 19zM2186 6650l18-11l6 11l-18 11zM2211 6635l146-89l8 13l-147 86zM2365 6541l56-34l9 14l-57 33zM2429 6502l44-27l9 16l-44 25zM2480 6471l44-27l9 16l-44 26zM2544 6432l31-19l10 17l-31 18zM2583 6408l18-11l10 18l-18 10zM2647 6369l18-11l11 19l-18 10zM2685 6346l31-19l11 19l-31 19zM2191 6658l160-94l7 13l-161 92zM2358 6559l18-10l8 13l-18 10zM2384 6544l31-18l8 14l-31 18zM2423 6521l31-18l9 15l-32 17zM2475 6491l18-11l9 15l-19 11zM2513 6468l31-19l10 17l-31 18zM2552 6445l31-19l10 17l-31 18zM2591 6422l18-11l10 18l-18 10zM2630 6399l18-11l10 18l-18 11zM2746 6330l18-10l12 20l-19 10zM2208 6659l84-47l6 12l-84 46zM2299 6607l58-33l7 13l-58 32zM2365 6570l109-63l8 15l-110 61zM2482 6503l18-11l9 16l-19 10zM2521 6480l44-25l9 17l-44 24zM2612 6428l18-10l10 17l-18 11zM2638 6413l18-10l10 18l-18 10zM2703 6376l31-18l11 19l-31 18zM2213 6668l58-32l6 12l-58 31zM2279 6631l44-24l7 12l-45 24zM2331 6602l150-83l8 15l-151 81zM2502 6507l18-10l9 16l-19 10zM2541 6486l31-18l10 17l-32 17zM2606 6449l19-10l10 18l-19 10zM2633 6435l31-18l10 19l-32 17zM2711 6391l71-39l11 20l-71 38zM2205 6683l58-31l6 12l-59 30zM2284 6641l58-32l7 14l-59 30zM2363 6598l19-10l7 14l-19 9zM2390 6584l31-17l8 14l-32 17zM2442 6555l72-38l8 16l-72 37zM2640 6449l32-17l10 18l-32 17zM2707 6413l18-10l10 20l-18 9zM2746 6392l19-10l10 20l-18 10zM2773 6378l18-10l11 20l-19 10zM2209 6692l45-24l6 12l-45 23zM2262 6664l85-44l7 13l-86 43zM2355 6616l19-10l7 13l-19 10zM2382 6602l32-17l7 14l-32 16zM2449 6567l45-23l8 15l-46 23zM2515 6532l19-9l8 16l-19 9zM2661 6456l19-10l10 19l-19 10zM2715 6428l18-9l10 19l-19 10zM2741 6415l32-17l10 20l-32 16zM2227 6694l193-98l7 15l-195 94zM2455 6579l45-23l8 16l-46 22zM2508 6552l19-10l8 16l-19 10zM2535 6538l45-23l9 17l-46 23zM2655 6477l33-16l9 19l-33 16zM2722 6444l46-23l10 20l-46 22zM2258 6689l181-88l7 15l-182 85zM2460 6591l19-10l8 16l-19 9zM2487 6577l60-28l8 16l-60 28zM2555 6545l167-82l9 19l-168 79zM2757 6446l19-9l10 20l-19 9zM2235 6711l33-15l5 12l-32 14zM2276 6692l101-47l6 13l-101 46zM2385 6641l73-35l7 15l-74 34zM2466 6602l46-21l8 16l-47 21zM2520 6577l19-9l8 16l-19 9zM2548 6564l100-47l8 18l-101 46zM2683 6500l73-34l10 20l-74 33zM2226 6726l19-8l5 11l-19 8zM2253 6714l47-21l5 12l-47 20zM2308 6689l183-83l7 15l-185 80zM2499 6602l46-21l8 16l-47 21zM2635 6540l33-15l8 18l-33 15zM2676 6521l74-33l9 20l-74 32zM2230 6735l33-14l5 11l-33 14zM2285 6711l74-33l6 14l-75 31zM2367 6675l102-45l6 15l-102 43zM2491 6620l46-20l7 16l-47 20zM2614 6566l143-63l9 20l-144 61zM2779 6494l19-9l9 21l-19 8zM2234 6744l19-8l5 11l-20 8zM2275 6726l158-66l6 14l-159 64zM2441 6656l33-14l6 15l-33 14zM2496 6633l33-14l7 16l-33 13zM2537 6615l20-8l7 17l-20 7zM2634 6574l33-14l8 19l-33 13zM2676 6557l19-9l8 19l-20 8zM2703 6545l61-26l8 20l-61 25zM2237 6753l20-8l4 11l-19 8zM2265 6741l200-81l6 15l-201 78zM2515 6639l20-8l6 17l-20 7zM2612 6600l20-8l7 18l-20 7zM2696 6566l33-14l8 20l-34 13zM2765 6537l33-13l9 20l-34 14zM2821 6515l19-8l9 21l-20 8zM2241 6762l173-68l5 14l-174 65zM2422 6690l48-18l6 15l-48 18zM2506 6657l34-13l6 17l-34 12zM2576 6630l20-8l6 18l-20 7zM2604 6619l61-24l7 18l-61 24zM2674 6592l19-8l8 19l-20 7zM2716 6575l19-7l8 19l-20 8zM2744 6564l19-7l8 20l-20 7zM2799 6542l20-7l8 21l-20 7zM2272 6760l20-7l5 12l-20 7zM2300 6749l118-44l6 14l-119 43zM2441 6696l48-18l5 16l-48 17zM2525 6665l34-13l6 17l-34 12zM2609 6633l48-18l7 18l-48 17zM2290 6764l34-12l4 13l-34 11zM2332 6749l161-58l6 15l-162 56zM2530 6677l19-7l6 17l-20 7zM2572 6662l34-12l6 17l-34 12zM2614 6647l20-7l6 18l-19 6zM2643 6637l33-13l7 19l-34 12zM2699 6616l20-7l7 19l-20 7zM2755 6596l20-7l7 20l-20 7zM2784 6585l19-7l8 21l-20 7zM2826 6570l20-7l7 21l-20 7zM2279 6779l77-27l4 13l-77 26zM2364 6749l20-7l5 14l-20 7zM2393 6739l19-6l5 14l-20 6zM2421 6730l105-37l5 16l-105 35zM2591 6671l48-17l6 18l-48 16zM2648 6651l19-7l7 18l-20 7zM2690 6636l20-7l6 19l-20 7zM2718 6626l20-7l7 20l-20 7zM2775 6607l20-7l7 20l-20 7zM2818 6592l19-7l8 21l-20 7zM2268 6793l106-35l4 13l-106 34zM2411 6746l48-16l5 15l-49 15zM2496 6717l20-6l5 16l-20 6zM2524 6708l106-35l5 18l-105 33zM2667 6660l20-6l6 19l-20 6zM2695 6651l49-16l6 20l-49 15zM2781 6623l48-16l7 21l-49 15zM2271 6802l92-29l4 14l-92 27zM2371 6770l35-10l4 14l-35 10zM2414 6757l92-29l5 16l-92 27zM2543 6716l106-34l5 19l-106 31zM2671 6675l63-20l6 20l-63 19zM2743 6652l49-15l6 20l-49 15zM2800 6634l34-11l7 22l-34 10zM2274 6812l20-6l4 12l-20 5zM2317 6799l49-15l4 13l-49 14zM2418 6768l135-41l4 17l-135 38zM2561 6725l35-11l5 17l-35 10zM2604 6712l49-15l5 18l-49 14zM2705 6681l34-10l6 19l-35 10zM2777 6659l48-14l7 21l-50 14zM2277 6821l20-6l3 12l-20 6zM2306 6813l34-10l4 13l-35 9zM2363 6796l21-6l3 14l-20 5zM2407 6784l164-48l5 17l-165 45zM2695 6700l20-5l5 19l-20 5zM2738 6688l20-6l6 20l-20 6zM2323 6818l49-13l4 13l-50 13zM2410 6795l34-10l4 15l-35 9zM2453 6783l78-22l5 17l-79 20zM2540 6759l64-17l4 17l-64 16zM2728 6707l20-5l5 20l-20 5zM2815 6684l34-10l6 22l-35 9zM2311 6832l49-13l4 14l-50 12zM2384 6813l78-20l4 15l-79 19zM2471 6791l49-13l4 16l-49 12zM2572 6764l35-9l5 18l-35 8zM2718 6727l49-13l5 20l-50 12zM2805 6704l20-5l5 21l-20 5zM2834 6696l20-5l5 22l-20 5zM2314 6842l137-34l3 15l-137 32zM2474 6803l78-20l4 17l-79 18zM2590 6774l21-5l4 18l-21 4zM2692 6749l21-5l4 19l-20 5zM2721 6742l35-9l5 20l-35 8zM2331 6849l35-8l3 13l-36 7zM2374 6839l50-12l3 14l-50 11zM2477 6815l20-5l4 16l-21 4zM2506 6808l50-11l3 16l-50 11zM2594 6788l20-5l4 18l-21 4zM2623 6781l20-5l4 18l-20 5zM2652 6774l20-5l5 19l-21 4zM2696 6764l20-5l5 20l-21 4zM2725 6757l35-8l5 20l-36 8zM2769 6747l20-5l5 21l-21 4zM2857 6727l20-5l5 22l-21 4zM2391 6846l21-4l3 14l-21 4zM2435 6836l21-4l3 15l-21 4zM2479 6827l21-5l3 16l-20 4zM2538 6814l21-4l3 16l-21 4zM2611 6798l35-8l4 19l-35 7zM2699 6779l50-11l4 20l-50 10zM2379 6860l35-7l3 14l-35 7zM2467 6842l36-7l3 15l-36 7zM2541 6827l20-4l4 16l-21 4zM2600 6815l79-16l4 18l-80 15zM2688 6797l20-4l4 19l-21 4zM2717 6791l35-7l4 20l-35 6zM2776 6779l35-7l4 21l-35 6zM2322 6882l21-4l2 13l-20 4zM2352 6876l20-4l3 14l-21 3zM2411 6865l20-4l3 15l-21 3zM2455 6857l20-4l3 15l-20 4zM2499 6848l50-9l3 16l-50 9zM2573 6834l20-4l4 18l-21 3zM2602 6829l65-13l3 19l-65 11zM2750 6801l20-4l4 20l-21 4zM2779 6795l21-4l3 21l-20 3zM2339 6889l21-3l2 13l-21 3zM2398 6879l80-14l2 15l-80 13zM2501 6861l36-7l3 17l-36 5zM2546 6853l20-4l3 17l-21 3zM2575 6848l21-4l3 17l-21 4zM2649 6835l21-4l3 18l-21 4zM2767 6814l36-6l3 20l-35 6zM2415 6888l50-9l2 15l-50 8zM2489 6876l35-6l3 16l-36 5zM2548 6866l21-3l2 16l-21 3zM2607 6856l50-8l3 18l-50 8zM2666 6847l21-4l3 19l-21 3zM2755 6832l36-6l3 21l-36 5zM2844 6818l21-4l3 22l-21 3zM2431 6897l21-4l2 15l-21 3zM2491 6888l50-8l2 17l-50 6zM2624 6868l36-5l2 18l-35 5zM2403 6912l36-5l2 15l-36 4zM2477 6902l51-7l2 16l-51 6zM2626 6882l36-5l2 18l-36 5zM2553 6905l21-3l2 17l-21 3zM2598 6900l51-7l2 19l-51 5zM2687 6889l21-3l2 19l-20 2zM2391 6936l21-2l1 14l-21 2zM2451 6929l20-2l2 15l-21 2zM2495 6925l21-3l2 16l-21 2zM2540 6920l21-3l2 17l-21 2zM2585 6915l36-4l1 18l-36 3zM2629 6910l21-2l2 18l-21 2zM2659 6907l36-4l2 19l-36 3zM2719 6900l21-2l2 20l-21 2zM2853 6886l21-3l2 22l-21 2zM2586 6928l21-2l2 18l-21 1zM2661 6921l21-2l1 19l-21 2zM2557 6944l21-1l2 17l-21 1z"/>
<path fill="#ffc609" d="M2002 6676l16-13l11 13l-17 13zM2011 6687l17-12l10 13l-17 13zM2016 6720l18-12l9 14l-18 11zM2019 6752l18-11l8 14l-18 10zM2053 6782l19-10l7 15l-19 9zM2079 6801l19-8l7 16l-20 8zM2085 6815l19-8l6 16l-19 8zM2109 6838l20-7l6 17l-20 6zM2114 6852l20-6l5 17l-20 6zM2141 6893l20-5l4 18l-21 4zM2144 6908l20-4l4 18l-21 3zM2162 6921l20-4l3 18l-21 3zM2164 6936l21-3l2 19l-20 2zM2166 6952l36-4l2 19l-36 3zM2184 6983l21-1l1 19l-21 0zM2185 6999l21-1l1 20l-21 0zM2186 7016l21-1l0 20l-21-1zM2186 7032l21 0l-1 19l-21 0zM2185 7048l21 1l-1 19l-21-1zM2184 7065l21 1l-1 19l-21-2zM2183 7081l21 2l-2 19l-21-3zM2179 7114l21 3l-3 19l-21-4zM2177 7130l20 3l-3 19l-21-4zM2174 7146l20 4l-4 19l-20-5zM2170 7162l21 5l-5 18l-20-5zM2166 7178l21 5l-5 18l-20-5zM2162 7194l20 5l-5 19l-20-7zM2172 7214l20 6l-6 19l-20-7zM2166 7230l20 6l-6 19l-20-8zM2175 7251l20 7l-8 19l-19-8zM2169 7267l61 24l-9 20l-60-26zM2189 7294l47 21l-9 20l-46-22zM2223 7330l19 9l-6 11l-18-9zM2214 7347l33 16l-6 12l-32-17zM2210 7356l45 23l-6 12l-45-25zM2219 7371l85 46l-7 12l-84-47zM2227 7387l71 39l-7 12l-70-40zM2306 7431l19 10l-8 12l-18-10zM2249 7411l70 40l-7 12l-70-41zM2230 7412l31 18l-6 12l-31-19zM2269 7435l70 41l-8 13l-69-42zM2955 7837l31 19l-14 23l-31-19zM2225 7421l18 11l-7 11l-18-11zM2277 7452l69 42l-8 13l-69-43zM2405 7530l18 10l-9 15l-18-12zM2662 7685l18 11l-12 18l-18-11zM2816 7778l30 19l-13 21l-30-19zM2854 7801l18 11l-13 22l-18-11zM2284 7469l132 83l-9 14l-131-85zM2615 7675l30 20l-11 17l-31-19zM2653 7699l18 11l-12 19l-18-12zM2716 7739l44 27l-13 20l-43-28zM2780 7779l18 11l-13 20l-18-11zM2805 7794l31 20l-13 21l-31-20zM2844 7818l43 27l-14 22l-43-27zM2895 7850l17 11l-14 23l-17-12zM2958 7890l18 11l-15 23l-18-11zM2278 7479l118 76l-9 14l-117-79zM2404 7560l17 11l-9 14l-17-11zM2442 7584l17 11l-9 15l-18-11zM2530 7641l18 11l-11 16l-17-11zM2555 7657l18 11l-11 17l-17-12zM2581 7673l30 20l-12 17l-30-20zM2631 7706l68 43l-12 19l-68-45zM2707 7754l43 28l-13 19l-43-28zM2757 7787l56 35l-14 21l-55-37zM2820 7827l18 11l-14 22l-17-12zM2846 7843l17 12l-14 21l-17-11zM2296 7505l118 77l-9 14l-117-79zM2422 7587l55 37l-10 15l-55-38zM2484 7629l68 44l-11 17l-67-46zM2559 7678l43 28l-12 18l-42-29zM2609 7711l118 78l-13 19l-116-79zM2734 7794l68 45l-14 20l-67-46zM2327 7539l290 198l-12 17l-286-202zM2637 7750l18 12l-13 18l-17-12zM2675 7776l42 28l-14 19l-41-29zM2333 7558l41 29l-9 14l-41-30zM2382 7592l42 30l-11 14l-41-30zM2431 7627l29 21l-10 14l-29-21zM2468 7653l66 46l-11 16l-66-47zM2542 7704l54 38l-13 17l-53-39zM2615 7756l17 12l-12 18l-17-13zM2652 7782l42 29l-13 19l-42-30zM2508 7700l29 21l-12 16l-28-22zM2581 7752l17 12l-12 18l-17-13z"/>
<path fill="#ff7006" d="M2014 6666l16-13l11 14l-17 13zM2029 6711l17-12l10 15l-18 11zM2032 6744l18-11l8 14l-18 11zM2039 6756l18-10l9 15l-19 9zM2066 6775l19-10l8 16l-20 9zM2093 6795l19-8l7 16l-20 8zM2128 6848l20-7l6 18l-21 6zM2155 6889l21-4l4 18l-21 4zM2176 6918l21-4l3 19l-21 3zM2179 6934l21-3l2 19l-21 3zM2198 6965l21-2l1 20l-21 1zM2199 6982l21-1l1 19l-21 1zM2201 7032l21 0l-1 20l-21-1zM2213 7084l21 2l-2 20l-21-3zM2194 7116l36 5l-3 20l-36-7zM2191 7132l21 4l-3 19l-21-4zM2186 7218l20 7l-6 19l-20-7zM2195 7239l48 17l-7 20l-48-18zM2231 7272l20 7l-8 20l-20-8zM2252 7259l19 7l-4 11l-19-7zM2248 7268l20 7l-4 12l-20-8zM2245 7277l34 13l-5 11l-33-13zM2242 7286l19 8l-4 11l-20-8zM2238 7295l89 36l-5 12l-88-37zM2235 7304l19 8l-5 11l-19-8zM2276 7321l47 20l-5 12l-47-20zM2272 7330l60 27l-5 13l-60-28zM2808 7564l33 15l-9 21l-33-15zM2918 7612l20 9l-11 22l-19-8zM2254 7334l19 8l-5 12l-19-9zM2295 7352l19 9l-5 12l-19-9zM2323 7364l19 9l-6 13l-19-9zM2364 7383l60 27l-7 14l-60-28zM2733 7550l32 15l-9 20l-32-16zM2815 7587l19 8l-10 22l-19-9zM2869 7611l19 9l-10 22l-19-9zM2910 7630l19 9l-10 22l-19-9zM2951 7649l19 8l-10 24l-19-9zM3102 7716l19 9l-12 26l-19-9zM2291 7362l32 15l-6 13l-32-16zM2332 7381l59 28l-6 13l-60-28zM2427 7425l46 22l-7 15l-46-22zM2698 7552l19 9l-9 20l-19-10zM2726 7565l19 9l-10 20l-19-10zM2766 7584l19 9l-9 20l-19-9zM2793 7597l19 9l-9 21l-19-10zM2821 7610l46 21l-11 22l-45-22zM2889 7641l87 41l-12 24l-86-43zM2313 7384l33 16l-7 13l-32-16zM2354 7404l46 22l-7 14l-46-23zM2408 7430l59 29l-7 15l-59-30zM2516 7482l19 10l-8 16l-19-10zM2556 7502l33 16l-9 17l-32-16zM2718 7580l33 16l-10 20l-32-16zM2772 7607l87 41l-11 22l-86-43zM2880 7659l19 9l-11 22l-19-9zM2362 7421l99 50l-7 15l-99-52zM2496 7488l59 30l-8 16l-59-30zM2563 7522l19 9l-9 17l-18-10zM2617 7549l19 9l-9 18l-19-10zM2684 7582l32 16l-10 20l-32-17zM2724 7602l46 23l-10 20l-46-23zM2791 7636l73 36l-11 22l-72-38zM2899 7690l45 23l-12 23l-45-24zM3006 7743l19 10l-13 24l-18-10zM3033 7757l18 9l-12 25l-19-10zM3086 7784l19 9l-13 26l-19-10zM2330 7418l32 16l-7 14l-32-18zM2370 7438l32 17l-7 14l-32-17zM2410 7459l32 17l-8 14l-31-17zM2490 7501l85 44l-9 16l-84-45zM2610 7563l32 16l-10 18l-31-17zM2663 7590l32 17l-10 18l-32-17zM2703 7611l59 30l-11 20l-58-31zM2770 7645l112 58l-12 22l-111-60zM2890 7707l32 17l-12 22l-32-17zM2930 7728l18 10l-12 23l-18-10zM2969 7749l19 9l-12 24l-19-10zM2996 7762l59 31l-13 25l-58-32zM2338 7435l18 10l-7 13l-18-10zM2364 7449l32 17l-7 14l-32-18zM2417 7477l138 74l-9 16l-136-76zM2576 7562l111 60l-10 18l-110-61zM2695 7626l257 137l-13 23l-254-141zM2960 7767l31 17l-12 24l-32-18zM2346 7452l18 10l-7 14l-19-11zM2372 7467l18 10l-7 14l-19-11zM2398 7481l71 39l-8 15l-71-40zM2477 7525l31 17l-8 16l-32-18zM2516 7547l19 10l-9 16l-19-11zM2543 7561l31 17l-9 17l-32-18zM2582 7583l32 17l-10 18l-32-18zM2648 7619l97 54l-11 19l-96-55zM2753 7677l44 25l-11 20l-44-25zM2805 7706l19 10l-12 21l-18-10zM2832 7720l31 18l-12 21l-31-17zM2392 7492l31 18l-8 14l-31-18zM2522 7566l84 48l-10 17l-83-49zM2614 7618l135 78l-11 19l-135-79zM2757 7700l18 10l-11 21l-19-11zM2809 7730l31 18l-12 21l-31-19zM2347 7480l18 11l-8 13l-18-11zM2528 7587l44 26l-10 16l-44-26zM2619 7640l18 10l-11 18l-18-11zM2670 7670l31 18l-11 19l-31-18zM2709 7693l31 18l-12 20l-30-19zM2748 7716l18 10l-12 20l-18-11zM2800 7746l18 11l-13 21l-18-11zM2520 7599l44 27l-10 16l-43-27zM2777 7755l18 11l-13 20l-17-11z"/>
<path fill="#ff008e" d="M2049 6638l16-13l12 15l-17 13zM2066 6686l17-12l10 16l-17 11zM2075 6699l17-11l10 16l-18 10zM2091 6726l18-10l10 16l-19 10zM2099 6740l18-10l9 17l-19 9zM2106 6755l19-10l8 17l-19 9zM2140 6792l20-8l7 18l-20 8zM2160 6802l34-12l7 19l-34 11zM2166 6818l34-12l6 19l-34 11zM2185 6830l20-7l6 19l-20 6zM2190 6846l35-10l5 20l-34 9zM2209 6859l21-6l5 20l-21 5zM2214 6876l20-5l4 20l-20 4zM2232 6890l35-7l4 21l-35 6zM2235 6908l21-4l3 21l-20 3zM2253 6923l21-3l3 21l-21 3zM2271 6939l20-2l3 22l-21 2zM2273 6958l20-2l2 22l-21 1zM2274 6977l21-2l1 22l-21 1zM2275 6996l21-1l1 22l-21 0zM2260 7051l36 2l-1 21l-36-2zM2268 7127l21 3l-3 21l-21-3zM2262 7164l21 4l-5 21l-21-5zM2290 6995l21-1l0 13l-21 0zM2290 7005l21-1l1 12l-21 1zM2291 7014l21 0l0 12l-21 0zM2291 7024l21 0l0 12l-21 0zM2290 7043l21 0l0 13l-21-1zM2290 7052l36 2l0 13l-36-2zM2290 7062l21 1l-1 13l-21-2zM2289 7072l21 1l-1 12l-21-1zM2288 7081l36 3l-1 13l-36-4zM2288 7091l21 2l-2 12l-21-2zM2332 7095l21 2l-1 13l-21-2zM3064 7162l21 2l-2 25l-21-2zM2287 7100l50 6l-1 12l-51-6zM2854 7160l20 2l-2 22l-21-3zM2898 7165l21 2l-2 22l-21-2zM2286 7110l50 6l-1 13l-51-7zM2345 7117l21 2l-2 14l-20-3zM2628 7150l21 3l-2 18l-21-3zM2896 7182l21 3l-3 22l-20-2zM2956 7189l36 5l-3 23l-36-4zM2284 7119l96 13l-2 13l-95-14zM2567 7157l21 2l-3 17l-20-3zM2879 7198l21 3l-3 22l-21-3zM2954 7208l20 3l-3 23l-21-3zM2283 7129l36 5l-2 12l-36-5zM2328 7135l95 14l-3 14l-94-15zM2432 7150l20 3l-2 15l-21-3zM2728 7194l21 3l-3 20l-21-4zM2832 7209l21 3l-3 21l-21-3zM2862 7213l50 8l-3 22l-50-8zM2297 7141l65 10l-3 13l-65-11zM2371 7152l35 6l-2 14l-36-6zM2622 7193l21 3l-3 18l-21-4zM2741 7211l21 4l-4 20l-20-4zM2771 7216l35 6l-3 21l-36-7zM2874 7233l21 3l-4 22l-20-3zM3008 7254l35 6l-4 24l-36-6zM2310 7153l80 14l-3 13l-80-15zM2398 7168l21 4l-3 14l-20-4zM2458 7178l20 4l-3 15l-20-4zM2591 7201l20 4l-3 17l-21-3zM2753 7230l80 13l-4 22l-80-16zM2842 7245l20 4l-3 21l-21-4zM2871 7250l21 4l-4 22l-21-4zM2901 7255l50 9l-4 23l-50-10zM2293 7160l65 12l-3 13l-64-13zM2367 7174l21 3l-3 14l-21-4zM2426 7185l35 6l-3 15l-35-7zM2500 7198l64 13l-3 16l-64-13zM2603 7218l20 4l-3 17l-21-4zM2677 7232l35 6l-4 19l-35-7zM2721 7240l79 15l-4 20l-79-16zM2809 7256l36 7l-5 21l-35-7zM2853 7265l65 12l-4 22l-65-13zM2986 7289l21 4l-5 24l-20-4zM2306 7172l21 5l-3 12l-21-4zM2335 7178l65 13l-3 14l-64-14zM2453 7202l21 4l-3 15l-21-4zM2497 7211l80 16l-4 17l-79-18zM2585 7228l21 5l-4 17l-20-4zM2674 7246l35 7l-4 19l-35-7zM2718 7255l35 7l-4 20l-35-8zM2762 7264l197 39l-5 24l-196-43zM2968 7305l35 7l-5 24l-35-7zM2289 7179l109 23l-3 14l-108-25zM2407 7204l94 20l-4 16l-93-22zM2509 7226l65 14l-4 17l-64-15zM2583 7242l20 4l-4 18l-20-5zM2612 7248l21 5l-4 17l-21-4zM2656 7258l197 42l-5 21l-196-45zM2876 7305l79 17l-5 23l-79-18zM2979 7327l20 4l-5 24l-21-4zM2302 7192l152 35l-4 14l-151-37zM2463 7229l64 14l-4 16l-64-15zM2536 7245l64 15l-4 17l-64-15zM2624 7265l49 12l-4 18l-50-12zM2682 7279l123 28l-5 21l-122-31zM2814 7309l20 5l-5 21l-20-5zM2887 7326l93 21l-5 24l-93-23zM2989 7349l35 8l-6 24l-35-8zM2329 7209l49 12l-3 13l-49-13zM2387 7223l195 47l-4 17l-194-50zM2591 7272l239 58l-5 21l-238-62zM2883 7343l35 9l-6 22l-35-9zM2926 7354l21 5l-6 23l-20-6zM2297 7211l20 6l-3 12l-20-6zM2326 7219l21 5l-4 13l-20-6zM2355 7226l21 5l-4 14l-20-6zM2399 7237l253 65l-5 18l-252-69zM2660 7305l21 5l-5 18l-20-5zM2689 7312l122 31l-5 21l-122-33zM2878 7361l50 12l-6 23l-50-14zM2367 7241l20 5l-4 14l-20-6zM2410 7252l339 92l-5 20l-338-98zM2758 7347l20 5l-6 20l-20-6zM2845 7370l34 9l-6 22l-34-10zM2888 7382l20 5l-6 23l-20-6zM2422 7268l63 18l-4 15l-63-19zM2508 7292l179 51l-5 19l-178-54zM2696 7346l49 14l-6 19l-49-14zM2753 7362l21 6l-6 20l-20-6zM2418 7279l21 6l-5 15l-20-7zM2447 7288l20 6l-4 15l-20-7zM2505 7305l20 6l-5 16l-20-7zM2548 7318l63 19l-5 17l-63-20zM2648 7348l20 6l-5 18l-20-6zM2677 7356l20 6l-6 19l-20-6zM2472 7308l49 15l-5 16l-49-16zM2529 7326l49 15l-5 17l-49-16zM2673 7371l20 6l-7 19l-19-6zM2483 7325l20 6l-6 16l-20-7z"/>
<path fill="#ff4300" d="M2023 6678l17-13l10 15l-17 12zM2032 6690l17-12l11 15l-18 11zM2041 6703l17-12l10 15l-18 11zM2037 6724l17-12l10 15l-18 11zM2052 6749l18-11l9 15l-19 10zM2059 6762l19-10l8 15l-19 10zM2080 6768l18-9l8 16l-19 8zM2086 6782l19-9l8 16l-20 8zM2112 6804l20-8l6 17l-19 7zM2118 6818l20-7l6 17l-20 7zM2123 6833l20-7l6 17l-20 7zM2147 6858l20-5l5 18l-20 5zM2151 6874l21-5l4 18l-20 4zM2170 6886l20-5l4 19l-20 4zM2173 6902l21-4l3 19l-20 3zM2194 6932l21-3l2 19l-21 3zM2196 6949l21-3l2 20l-21 1zM2213 6964l21-2l1 20l-21 1zM2214 6981l21-1l1 20l-21 0zM2215 6998l21-1l1 20l-21 0zM2216 7015l21 0l0 20l-21 0zM2216 7032l21 1l-1 20l-21-1zM2215 7050l21 0l-1 20l-21-1zM2214 7067l21 1l-1 20l-21-2zM2211 7101l21 2l-3 20l-20-3zM2206 7135l36 6l-4 20l-35-7zM2203 7152l35 7l-4 20l-35-8zM2199 7169l21 4l-5 20l-20-6zM2195 7185l21 5l-6 20l-20-6zM2205 7206l35 10l-6 20l-34-11zM2200 7223l49 15l-7 20l-48-16zM2237 7254l20 7l-7 20l-20-7zM2859 7430l20 6l-7 22l-20-7zM2255 7250l20 6l-4 12l-20-7zM2266 7264l20 7l-5 12l-19-8zM2263 7273l62 22l-5 13l-62-23zM2273 7287l48 18l-5 13l-47-19zM2863 7508l20 7l-8 22l-20-7zM3088 7592l34 13l-10 26l-34-13zM2256 7291l117 46l-5 13l-117-47zM2381 7340l20 8l-5 14l-20-8zM2773 7493l19 7l-8 21l-19-8zM2815 7509l47 18l-8 22l-47-19zM2871 7531l19 7l-9 22l-19-8zM2983 7574l19 8l-9 24l-20-8zM2322 7329l75 30l-6 14l-75-32zM2697 7480l89 36l-8 21l-89-38zM2794 7520l20 8l-9 21l-19-9zM2822 7531l61 25l-9 22l-61-26zM2892 7559l19 8l-9 23l-19-9zM2920 7570l61 25l-10 24l-61-26zM3086 7638l20 8l-11 26l-19-9zM3114 7649l20 8l-11 26l-20-8zM2317 7339l158 66l-6 15l-157-69zM2483 7408l34 14l-7 16l-33-14zM2580 7449l33 14l-7 17l-33-14zM2677 7490l75 31l-9 20l-74-33zM2788 7536l130 55l-10 22l-129-57zM2926 7594l102 43l-10 25l-102-45zM2327 7354l225 99l-7 16l-224-102zM2574 7462l61 27l-8 17l-60-27zM2671 7504l143 63l-10 20l-141-64zM2836 7576l88 39l-10 22l-88-40zM2932 7618l74 32l-10 25l-74-34zM2309 7358l19 9l-6 13l-19-9zM2336 7371l33 14l-6 14l-33-16zM2418 7408l88 39l-8 16l-86-41zM2514 7451l46 21l-7 16l-46-21zM2569 7476l87 39l-8 18l-87-41zM2664 7519l74 33l-9 20l-73-35zM2760 7562l60 27l-10 21l-59-28zM2828 7593l47 21l-10 22l-46-22zM2883 7618l33 14l-11 23l-32-15zM2924 7636l33 15l-11 23l-32-15zM2965 7655l46 21l-11 24l-46-22zM3033 7686l33 14l-11 25l-33-15zM2318 7374l19 9l-6 13l-19-9zM2386 7406l46 22l-7 14l-46-22zM2467 7444l237 111l-9 19l-235-115zM2712 7559l19 9l-9 19l-19-9zM2739 7572l33 15l-10 20l-32-16zM2780 7591l19 8l-10 21l-19-9zM2807 7603l19 9l-10 21l-19-9zM2861 7629l33 15l-11 22l-32-16zM2984 7686l19 9l-12 24l-19-9zM2340 7397l19 10l-6 13l-19-10zM2394 7424l19 9l-7 14l-19-10zM2462 7456l59 29l-8 16l-59-30zM2529 7489l33 16l-9 16l-32-16zM2583 7515l141 68l-10 19l-139-70zM2745 7594l33 15l-10 20l-32-16zM2853 7646l33 16l-11 22l-32-17zM2894 7665l32 16l-11 23l-32-16zM2456 7468l46 23l-8 15l-46-23zM2550 7515l19 9l-9 17l-19-10zM2577 7529l45 22l-9 18l-45-24zM2630 7555l59 30l-9 19l-59-31zM2711 7596l19 9l-10 19l-19-9zM2764 7623l33 16l-11 20l-32-16zM2858 7670l46 22l-12 23l-45-24zM2437 7473l58 30l-8 16l-58-32zM2570 7542l45 23l-9 18l-45-24zM2636 7576l32 17l-9 18l-32-17zM2690 7604l18 10l-10 19l-18-10zM2756 7638l19 10l-11 20l-18-10zM2916 7721l19 10l-12 23l-19-10zM2550 7548l31 17l-9 17l-31-18zM2529 7554l19 10l-9 16l-19-10zM2569 7576l18 10l-9 17l-19-11zM2635 7612l18 10l-10 18l-18-10z"/>
<path fill="#e67aef" d="M2289 6411l16-14l11 13l-17 13zM2242 6496l17-13l9 12l-17 12zM2214 6532l16-13l9 12l-17 12zM2376 6591l19-10l7 14l-18 10zM2369 6609l18-10l7 14l-18 9zM2371 6647l19-9l7 14l-20 9zM2294 6695l19-8l6 12l-19 8zM2353 6681l20-9l5 14l-19 8z"/>
<path fill="#8dff14" d="M3156 6515L3172 6515L3203 6625L3187 6630z"/>
</g>
<path d="M157.07 702.48L354.36 588.58M157.07 702.48L377.11 643.52M157.07 702.48L384.88 702.48M157.07 702.48L377.11 761.44M157.07 702.48L354.36 816.38M157.07 702.48L318.15 863.56M179.39 679.77A31.84 31.84 0 0 1 175.15 728.69M206.88 651.80A71.06 71.06 0 0 1 197.42 760.97M234.36 623.83A110.28 110.28 0 0 1 219.69 793.25M261.85 595.85A149.49 149.49 0 0 1 241.96 825.53M289.34 567.88A188.71 188.71 0 0 1 264.23 857.81" fill="none" stroke="#b0b0b0" stroke-width="1.11"/>
<path d="M157.07 702.48L316.74 540.00A227.81 227.81 0 0 1 286.43 890.00Z" fill="none" stroke="#000" stroke-width="1.18" stroke-linejoin="miter"/>
<text x="271.3" y="511.8" font-size="16.67" text-anchor="middle">Velocity</text>
<text letter-spacing="-0.3" x="332.2" y="530.8" font-size="13.89" text-anchor="middle">45°</text>
<text letter-spacing="-0.3" x="371.3" y="583.2" font-size="13.89" text-anchor="middle">60°</text>
<text letter-spacing="-0.3" x="396.35" y="642.0" font-size="13.89" text-anchor="middle">75°</text>
<text letter-spacing="-0.3" x="405.2" y="705.9" font-size="13.89" text-anchor="middle">90°</text>
<text letter-spacing="-0.3" x="396.45" y="769.8" font-size="13.89" text-anchor="middle">105°</text>
<text letter-spacing="-0.3" x="371.75" y="830.2" font-size="13.89" text-anchor="middle">120°</text>
<text letter-spacing="-0.3" x="332.65" y="880.6" font-size="13.89" text-anchor="middle">135°</text>
<text letter-spacing="-0.15" x="171.9" y="670.3" font-size="13.89" text-anchor="end">5000</text>
<text letter-spacing="-0.15" x="199.5" y="642.1" font-size="13.89" text-anchor="end">10000</text>
<text letter-spacing="-0.15" x="227.1" y="614.2" font-size="13.89" text-anchor="end">15000</text>
<text letter-spacing="-0.15" x="254.6" y="586.2" font-size="13.89" text-anchor="end">20000</text>
<text letter-spacing="-0.15" x="282.1" y="558.0" font-size="13.89" text-anchor="end">25000</text>
<text letter-spacing="-0.2" x="181.0" y="573.9" font-size="13.89" text-anchor="middle" transform="rotate(-45 181.0 573.9)">Meters</text>
<rect x="470.25" y="880.95" width="17.5" height="9.05" fill="#000080"/>
<rect x="470.25" y="872.20" width="17.5" height="9.05" fill="#002c48"/>
<rect x="470.25" y="863.45" width="17.5" height="9.05" fill="#005f06"/>
<rect x="470.25" y="854.70" width="17.5" height="9.05" fill="#003669"/>
<rect x="470.25" y="845.95" width="17.5" height="9.05" fill="#0007de"/>
<rect x="470.25" y="837.20" width="17.5" height="9.05" fill="#0047ff"/>
<rect x="470.25" y="828.45" width="17.5" height="9.05" fill="#00a9ff"/>
<rect x="470.25" y="819.70" width="17.5" height="9.05" fill="#00d3ff"/>
<rect x="470.25" y="810.95" width="17.5" height="9.05" fill="#00f2ff"/>
<rect x="470.25" y="802.20" width="17.5" height="9.05" fill="#00fed8"/>
<rect x="470.25" y="793.45" width="17.5" height="9.05" fill="#00faaa"/>
<rect x="470.25" y="784.70" width="17.5" height="9.05" fill="#00fb73"/>
<rect x="470.25" y="775.95" width="17.5" height="9.05" fill="#00fe2a"/>
<rect x="470.25" y="767.20" width="17.5" height="9.05" fill="#26f000"/>
<rect x="470.25" y="758.45" width="17.5" height="9.05" fill="#4cd900"/>
<rect x="470.25" y="749.70" width="17.5" height="9.05" fill="#6cdb00"/>
<rect x="470.25" y="740.95" width="17.5" height="9.05" fill="#78ef00"/>
<rect x="470.25" y="732.20" width="17.5" height="9.05" fill="#8dff14"/>
<rect x="470.25" y="723.45" width="17.5" height="9.05" fill="#a9ff2c"/>
<rect x="470.25" y="714.70" width="17.5" height="9.05" fill="#c8ff30"/>
<rect x="470.25" y="705.95" width="17.5" height="9.05" fill="#e4ff18"/>
<rect x="470.25" y="697.20" width="17.5" height="9.05" fill="#fff500"/>
<rect x="470.25" y="688.45" width="17.5" height="9.05" fill="#ffe600"/>
<rect x="470.25" y="679.70" width="17.5" height="9.05" fill="#ffd502"/>
<rect x="470.25" y="670.95" width="17.5" height="9.05" fill="#ffc609"/>
<rect x="470.25" y="662.20" width="17.5" height="9.05" fill="#ffaa0c"/>
<rect x="470.25" y="653.45" width="17.5" height="9.05" fill="#ff7006"/>
<rect x="470.25" y="644.70" width="17.5" height="9.05" fill="#ff4300"/>
<rect x="470.25" y="635.95" width="17.5" height="9.05" fill="#ff2100"/>
<rect x="470.25" y="627.20" width="17.5" height="9.05" fill="#ff0512"/>
<rect x="470.25" y="618.45" width="17.5" height="9.05" fill="#ff008e"/>
<rect x="470.25" y="609.70" width="17.5" height="9.05" fill="#ff00f8"/>
<rect x="470.25" y="600.95" width="17.5" height="9.05" fill="#cf18ff"/>
<rect x="470.25" y="592.20" width="17.5" height="9.05" fill="#a62dff"/>
<rect x="470.25" y="583.45" width="17.5" height="9.05" fill="#c256f7"/>
<rect x="470.25" y="574.70" width="17.5" height="9.05" fill="#e67aef"/>
<rect x="470.25" y="565.95" width="17.5" height="9.05" fill="#f09bf2"/>
<rect x="470.25" y="557.20" width="17.5" height="9.05" fill="#f4b7f5"/>
<rect x="470.25" y="548.45" width="17.5" height="9.05" fill="#f9d8fa"/>
<rect x="470.25" y="539.70" width="17.5" height="9.05" fill="#fef8fe"/>
<rect x="470.5" y="540.5" width="17.8" height="349.9" fill="none" stroke="#000" stroke-width="1.11"/>
<text x="497.7" y="895.7" font-size="13.89" text-anchor="start">−20</text>
<text x="497.7" y="851.96" font-size="13.89" text-anchor="start">−15</text>
<text x="497.7" y="808.22" font-size="13.89" text-anchor="start">−10</text>
<text x="497.7" y="764.49" font-size="13.89" text-anchor="start">−5</text>
<text x="497.7" y="720.75" font-size="13.89" text-anchor="start">0</text>
<text x="497.7" y="677.01" font-size="13.89" text-anchor="start">5</text>
<text x="497.7" y="633.27" font-size="13.89" text-anchor="start">10</text>
<text x="497.7" y="589.54" font-size="13.89" text-anchor="start">15</text>
<text x="497.7" y="545.8" font-size="13.89" text-anchor="start">20</text>
<path d="M488.3 890.40h5.2M488.3 846.66h5.2M488.3 802.92h5.2M488.3 759.19h5.2M488.3 715.45h5.2M488.3 671.71h5.2M488.3 627.98h5.2M488.3 584.24h5.2M488.3 540.50h5.2" stroke="#000" stroke-width="1.11" fill="none"/>
<text x="542.3" y="715.0" font-size="13.89" text-anchor="middle" transform="rotate(-90 542.3 715.0)">Velocity (m/s)</text>
</svg>
</body></html>
